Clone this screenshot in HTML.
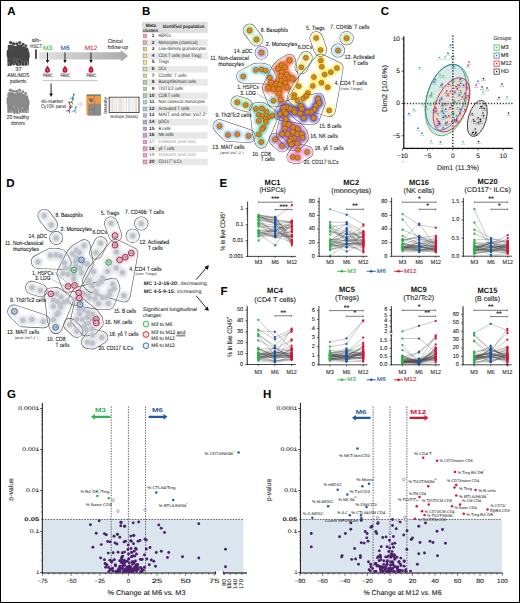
<!DOCTYPE html>
<html><head><meta charset="utf-8"><style>
html,body{margin:0;padding:0;background:#fff;}
body{width:520px;height:603px;overflow:hidden;font-family:"Liberation Sans", sans-serif;}
svg{display:block;text-rendering:geometricPrecision;}
</style></head><body>
<svg width="520" height="603" viewBox="0 0 520 603" font-family='"Liberation Sans", sans-serif'><rect x="0.00" y="0.00" width="520.00" height="603.00" fill="#ffffff" stroke="none" stroke-width="0" />
<rect x="0.5" y="0.5" width="519" height="602" fill="none" stroke="#000" stroke-width="1"/>
<text x="7.20" y="12.20" font-size="11.5" fill="#000" font-weight="bold" dominant-baseline="central">A</text>
<text x="142.00" y="12.00" font-size="11.5" fill="#000" font-weight="bold" dominant-baseline="central">B</text>
<text x="380.80" y="12.00" font-size="11.5" fill="#000" font-weight="bold" dominant-baseline="central">C</text>
<text x="6.30" y="183.70" font-size="11.5" fill="#000" font-weight="bold" dominant-baseline="central">D</text>
<text x="219.60" y="184.20" font-size="11.5" fill="#000" font-weight="bold" dominant-baseline="central">E</text>
<text x="220.40" y="291.90" font-size="11.5" fill="#000" font-weight="bold" dominant-baseline="central">F</text>
<text x="7.00" y="395.40" font-size="11.5" fill="#000" font-weight="bold" dominant-baseline="central">G</text>
<text x="263.00" y="395.40" font-size="11.5" fill="#000" font-weight="bold" dominant-baseline="central">H</text>
<circle cx="9.30" cy="47.97" r="1.47" fill="#3a3a3a"/>
<path d="M6.76,50.93 Q6.76,49.93 8.03,49.93 L10.57,49.93 Q11.84,49.93 11.84,50.93 L11.94,56.25 L11.25,57.25 L11.05,66.04 L9.50,66.04 L9.30,58.75 L9.10,66.04 L7.55,66.04 L7.35,57.25 L6.66,56.25 Z" fill="#3a3a3a"/>
<circle cx="12.30" cy="48.55" r="1.35" fill="#3a3a3a"/>
<path d="M9.96,51.40 Q9.96,50.40 11.13,50.40 L13.47,50.40 Q14.64,50.40 14.64,51.40 L14.74,56.09 L14.10,57.09 L13.90,65.18 L12.50,65.18 L12.30,58.59 L12.10,65.18 L10.70,65.18 L10.50,57.09 L9.86,56.09 Z" fill="#3a3a3a"/>
<circle cx="15.30" cy="48.19" r="1.39" fill="#3a3a3a"/>
<path d="M12.90,51.07 Q12.90,50.07 14.10,50.07 L16.50,50.07 Q17.70,50.07 17.70,51.07 L17.80,55.97 L17.15,56.97 L16.95,65.28 L15.50,65.28 L15.30,58.47 L15.10,65.28 L13.65,65.28 L13.45,56.97 L12.80,55.97 Z" fill="#3a3a3a"/>
<circle cx="18.40" cy="48.88" r="1.38" fill="#3a3a3a"/>
<path d="M16.01,51.76 Q16.01,50.76 17.20,50.76 L19.60,50.76 Q20.79,50.76 20.79,51.76 L20.89,56.62 L20.24,57.62 L20.04,65.89 L18.60,65.89 L18.40,59.12 L18.20,65.89 L16.76,65.89 L16.56,57.62 L15.91,56.62 Z" fill="#3a3a3a"/>
<circle cx="21.50" cy="48.58" r="1.38" fill="#3a3a3a"/>
<path d="M19.11,51.46 Q19.11,50.46 20.30,50.46 L22.70,50.46 Q23.89,50.46 23.89,51.46 L23.99,56.32 L23.34,57.32 L23.14,65.61 L21.70,65.61 L21.50,58.82 L21.30,65.61 L19.86,65.61 L19.66,57.32 L19.01,56.32 Z" fill="#3a3a3a"/>
<circle cx="24.60" cy="49.51" r="1.31" fill="#3a3a3a"/>
<path d="M22.33,52.32 Q22.33,51.32 23.47,51.32 L25.73,51.32 Q26.87,51.32 26.87,52.32 L26.97,56.80 L26.35,57.80 L26.15,65.66 L24.80,65.66 L24.60,59.30 L24.40,65.66 L23.05,65.66 L22.85,57.80 L22.23,56.80 Z" fill="#3a3a3a"/>
<circle cx="27.40" cy="50.23" r="1.23" fill="#3a3a3a"/>
<path d="M25.27,52.96 Q25.27,51.96 26.33,51.96 L28.47,51.96 Q29.53,51.96 29.53,52.96 L29.63,57.03 L29.04,58.03 L28.84,65.42 L27.60,65.42 L27.40,59.53 L27.20,65.42 L25.96,65.42 L25.76,58.03 L25.17,57.03 Z" fill="#3a3a3a"/>
<circle cx="10.60" cy="42.51" r="1.61" fill="#474747"/>
<path d="M7.80,45.63 Q7.80,44.63 9.20,44.63 L12.00,44.63 Q13.40,44.63 13.40,45.63 L13.50,51.73 L12.75,52.73 L12.55,62.42 L10.80,62.42 L10.60,54.23 L10.40,62.42 L8.65,62.42 L8.45,52.73 L7.70,51.73 Z" fill="#474747"/>
<circle cx="13.50" cy="43.70" r="1.60" fill="#474747"/>
<path d="M10.72,46.80 Q10.72,45.80 12.11,45.80 L14.89,45.80 Q16.28,45.80 16.28,46.80 L16.38,52.85 L15.64,53.85 L15.44,63.46 L13.70,63.46 L13.50,55.35 L13.30,63.46 L11.56,63.46 L11.36,53.85 L10.62,52.85 Z" fill="#474747"/>
<circle cx="16.70" cy="43.80" r="1.60" fill="#474747"/>
<path d="M13.92,46.90 Q13.92,45.90 15.31,45.90 L18.09,45.90 Q19.48,45.90 19.48,46.90 L19.58,52.95 L18.84,53.95 L18.64,63.56 L16.90,63.56 L16.70,55.45 L16.50,63.56 L14.76,63.56 L14.56,53.95 L13.82,52.95 Z" fill="#474747"/>
<circle cx="19.70" cy="42.51" r="1.61" fill="#474747"/>
<path d="M16.91,45.62 Q16.91,44.62 18.31,44.62 L21.09,44.62 Q22.49,44.62 22.49,45.62 L22.59,51.70 L21.84,52.70 L21.64,62.35 L19.90,62.35 L19.70,54.20 L19.50,62.35 L17.76,62.35 L17.56,52.70 L16.81,51.70 Z" fill="#474747"/>
<circle cx="23.10" cy="44.22" r="1.52" fill="#474747"/>
<path d="M20.47,47.24 Q20.47,46.24 21.78,46.24 L24.42,46.24 Q25.73,46.24 25.73,47.24 L25.83,52.84 L25.13,53.84 L24.93,62.95 L23.30,62.95 L23.10,55.34 L22.90,62.95 L21.27,62.95 L21.07,53.84 L20.37,52.84 Z" fill="#474747"/>
<circle cx="25.90" cy="45.75" r="1.35" fill="#474747"/>
<path d="M23.55,48.61 Q23.55,47.61 24.73,47.61 L27.07,47.61 Q28.25,47.61 28.25,48.61 L28.35,53.33 L27.71,54.33 L27.51,62.46 L26.10,62.46 L25.90,55.83 L25.70,62.46 L24.29,62.46 L24.09,54.33 L23.45,53.33 Z" fill="#474747"/>
<path d="M7.9,50 L7.2,57 L7.8,57.5 L8.8,51 Z" fill="#474747"/>
<path d="M28.5,51 L29.4,57 L28.8,57.5 L27.8,52 Z" fill="#474747"/>
<rect x="8.54" y="61.56" width="0.35" height="2.03" fill="#ffffff" stroke="none" stroke-width="0" opacity="0.55"/>
<rect x="13.08" y="65.56" width="0.35" height="2.33" fill="#ffffff" stroke="none" stroke-width="0" opacity="0.55"/>
<rect x="9.11" y="58.20" width="0.35" height="1.72" fill="#ffffff" stroke="none" stroke-width="0" opacity="0.55"/>
<rect x="27.28" y="61.05" width="0.35" height="1.17" fill="#ffffff" stroke="none" stroke-width="0" opacity="0.55"/>
<rect x="16.94" y="58.23" width="0.35" height="1.18" fill="#ffffff" stroke="none" stroke-width="0" opacity="0.55"/>
<rect x="17.26" y="61.97" width="0.35" height="1.20" fill="#ffffff" stroke="none" stroke-width="0" opacity="0.55"/>
<rect x="13.12" y="59.75" width="0.35" height="1.58" fill="#ffffff" stroke="none" stroke-width="0" opacity="0.55"/>
<rect x="14.30" y="58.17" width="0.35" height="2.22" fill="#ffffff" stroke="none" stroke-width="0" opacity="0.55"/>
<rect x="19.63" y="63.14" width="0.35" height="1.12" fill="#ffffff" stroke="none" stroke-width="0" opacity="0.55"/>
<rect x="28.35" y="64.88" width="0.35" height="1.01" fill="#ffffff" stroke="none" stroke-width="0" opacity="0.55"/>
<rect x="15.15" y="63.77" width="0.35" height="2.01" fill="#ffffff" stroke="none" stroke-width="0" opacity="0.55"/>
<rect x="27.23" y="61.38" width="0.35" height="2.21" fill="#ffffff" stroke="none" stroke-width="0" opacity="0.55"/>
<rect x="21.91" y="60.43" width="0.35" height="1.80" fill="#ffffff" stroke="none" stroke-width="0" opacity="0.55"/>
<rect x="26.15" y="64.77" width="0.35" height="1.66" fill="#ffffff" stroke="none" stroke-width="0" opacity="0.55"/>
<rect x="20.28" y="58.28" width="0.35" height="1.21" fill="#ffffff" stroke="none" stroke-width="0" opacity="0.55"/>
<rect x="24.45" y="61.31" width="0.35" height="1.09" fill="#ffffff" stroke="none" stroke-width="0" opacity="0.55"/>
<rect x="19.48" y="63.62" width="0.35" height="1.95" fill="#ffffff" stroke="none" stroke-width="0" opacity="0.55"/>
<rect x="15.99" y="61.51" width="0.35" height="1.66" fill="#ffffff" stroke="none" stroke-width="0" opacity="0.55"/>
<rect x="24.07" y="62.17" width="0.35" height="1.47" fill="#ffffff" stroke="none" stroke-width="0" opacity="0.55"/>
<rect x="18.29" y="58.24" width="0.35" height="0.87" fill="#ffffff" stroke="none" stroke-width="0" opacity="0.55"/>
<rect x="22.57" y="65.87" width="0.35" height="1.81" fill="#ffffff" stroke="none" stroke-width="0" opacity="0.55"/>
<rect x="16.37" y="59.36" width="0.35" height="1.65" fill="#ffffff" stroke="none" stroke-width="0" opacity="0.55"/>
<rect x="28.14" y="64.16" width="0.35" height="1.72" fill="#ffffff" stroke="none" stroke-width="0" opacity="0.55"/>
<rect x="25.71" y="59.86" width="0.35" height="1.67" fill="#ffffff" stroke="none" stroke-width="0" opacity="0.55"/>
<rect x="27.55" y="62.62" width="0.35" height="1.58" fill="#ffffff" stroke="none" stroke-width="0" opacity="0.55"/>
<rect x="13.89" y="62.38" width="0.35" height="2.43" fill="#ffffff" stroke="none" stroke-width="0" opacity="0.55"/>
<circle cx="9.10" cy="95.49" r="1.39" fill="#7c7c7c"/>
<path d="M6.69,98.38 Q6.69,97.38 7.89,97.38 L10.31,97.38 Q11.51,97.38 11.51,98.38 L11.61,103.30 L10.96,104.30 L10.76,112.65 L9.30,112.65 L9.10,105.80 L8.90,112.65 L7.44,112.65 L7.24,104.30 L6.59,103.30 Z" fill="#7c7c7c"/>
<circle cx="12.10" cy="96.14" r="1.34" fill="#7c7c7c"/>
<path d="M9.78,98.98 Q9.78,97.98 10.94,97.98 L13.26,97.98 Q14.42,97.98 14.42,98.98 L14.52,103.62 L13.89,104.62 L13.69,112.66 L12.30,112.66 L12.10,106.12 L11.90,112.66 L10.51,112.66 L10.31,104.62 L9.68,103.62 Z" fill="#7c7c7c"/>
<circle cx="15.10" cy="95.85" r="1.45" fill="#7c7c7c"/>
<path d="M12.59,98.80 Q12.59,97.80 13.84,97.80 L16.36,97.80 Q17.61,97.80 17.61,98.80 L17.71,104.03 L17.03,105.03 L16.83,113.73 L15.30,113.73 L15.10,106.53 L14.90,113.73 L13.37,113.73 L13.17,105.03 L12.49,104.03 Z" fill="#7c7c7c"/>
<circle cx="18.20" cy="96.49" r="1.39" fill="#7c7c7c"/>
<path d="M15.78,99.39 Q15.78,98.39 16.99,98.39 L19.41,98.39 Q20.62,98.39 20.62,99.39 L20.72,104.33 L20.06,105.33 L19.86,113.70 L18.40,113.70 L18.20,106.83 L18.00,113.70 L16.54,113.70 L16.34,105.33 L15.68,104.33 Z" fill="#7c7c7c"/>
<circle cx="21.30" cy="96.15" r="1.35" fill="#7c7c7c"/>
<path d="M18.96,99.00 Q18.96,98.00 20.13,98.00 L22.47,98.00 Q23.64,98.00 23.64,99.00 L23.74,103.70 L23.10,104.70 L22.90,112.80 L21.50,112.80 L21.30,106.20 L21.10,112.80 L19.70,112.80 L19.50,104.70 L18.86,103.70 Z" fill="#7c7c7c"/>
<circle cx="24.40" cy="97.08" r="1.28" fill="#7c7c7c"/>
<path d="M22.17,99.87 Q22.17,98.87 23.29,98.87 L25.51,98.87 Q26.63,98.87 26.63,99.87 L26.73,104.21 L26.11,105.21 L25.91,112.92 L24.60,112.92 L24.40,106.71 L24.20,112.92 L22.89,112.92 L22.69,105.21 L22.07,104.21 Z" fill="#7c7c7c"/>
<circle cx="27.20" cy="97.83" r="1.23" fill="#7c7c7c"/>
<path d="M25.07,100.56 Q25.07,99.56 26.13,99.56 L28.27,99.56 Q29.33,99.56 29.33,100.56 L29.43,104.62 L28.84,105.62 L28.64,113.00 L27.40,113.00 L27.20,107.12 L27.00,113.00 L25.76,113.00 L25.56,105.62 L24.97,104.62 Z" fill="#7c7c7c"/>
<circle cx="10.40" cy="90.17" r="1.67" fill="#8a8a8a"/>
<path d="M7.51,93.34 Q7.51,92.34 8.95,92.34 L11.85,92.34 Q13.29,92.34 13.29,93.34 L13.39,99.73 L12.62,100.73 L12.42,110.74 L10.60,110.74 L10.40,102.23 L10.20,110.74 L8.38,110.74 L8.18,100.73 L7.41,99.73 Z" fill="#8a8a8a"/>
<circle cx="13.30" cy="91.24" r="1.54" fill="#8a8a8a"/>
<path d="M10.62,94.29 Q10.62,93.29 11.96,93.29 L14.64,93.29 Q15.98,93.29 15.98,94.29 L16.08,100.03 L15.36,101.03 L15.16,110.29 L13.50,110.29 L13.30,102.53 L13.10,110.29 L11.44,110.29 L11.24,101.03 L10.52,100.03 Z" fill="#8a8a8a"/>
<circle cx="16.50" cy="91.34" r="1.54" fill="#8a8a8a"/>
<path d="M13.84,94.37 Q13.84,93.37 15.17,93.37 L17.83,93.37 Q19.16,93.37 19.16,94.37 L19.26,100.07 L18.55,101.07 L18.35,110.29 L16.70,110.29 L16.50,102.57 L16.30,110.29 L14.65,110.29 L14.45,101.07 L13.74,100.07 Z" fill="#8a8a8a"/>
<circle cx="19.50" cy="90.14" r="1.64" fill="#8a8a8a"/>
<path d="M16.66,93.27 Q16.66,92.27 18.08,92.27 L20.92,92.27 Q22.34,92.27 22.34,93.27 L22.44,99.51 L21.68,100.51 L21.48,110.33 L19.70,110.33 L19.50,102.01 L19.30,110.33 L17.52,110.33 L17.32,100.51 L16.56,99.51 Z" fill="#8a8a8a"/>
<circle cx="22.90" cy="91.85" r="1.55" fill="#8a8a8a"/>
<path d="M20.21,94.90 Q20.21,93.90 21.56,93.90 L24.24,93.90 Q25.59,93.90 25.59,94.90 L25.69,100.66 L24.97,101.66 L24.77,110.96 L23.10,110.96 L22.90,103.16 L22.70,110.96 L21.03,110.96 L20.83,101.66 L20.11,100.66 Z" fill="#8a8a8a"/>
<circle cx="25.70" cy="93.39" r="1.39" fill="#8a8a8a"/>
<path d="M23.29,96.28 Q23.29,95.28 24.49,95.28 L26.91,95.28 Q28.11,95.28 28.11,96.28 L28.21,101.20 L27.56,102.20 L27.36,110.55 L25.90,110.55 L25.70,103.70 L25.50,110.55 L24.04,110.55 L23.84,102.20 L23.19,101.20 Z" fill="#8a8a8a"/>
<path d="M7.7,97.6 L7.0,104.6 L7.6,105.1 L8.600000000000001,98.6 Z" fill="#8a8a8a"/>
<path d="M28.3,98.6 L29.2,104.6 L28.6,105.1 L27.6,99.6 Z" fill="#8a8a8a"/>
<rect x="16.17" y="111.38" width="0.35" height="2.49" fill="#ffffff" stroke="none" stroke-width="0" opacity="0.55"/>
<rect x="27.29" y="109.95" width="0.35" height="1.56" fill="#ffffff" stroke="none" stroke-width="0" opacity="0.55"/>
<rect x="13.66" y="105.89" width="0.35" height="0.85" fill="#ffffff" stroke="none" stroke-width="0" opacity="0.55"/>
<rect x="17.60" y="108.15" width="0.35" height="1.45" fill="#ffffff" stroke="none" stroke-width="0" opacity="0.55"/>
<rect x="26.14" y="109.81" width="0.35" height="1.75" fill="#ffffff" stroke="none" stroke-width="0" opacity="0.55"/>
<rect x="13.02" y="105.79" width="0.35" height="1.35" fill="#ffffff" stroke="none" stroke-width="0" opacity="0.55"/>
<rect x="11.03" y="109.68" width="0.35" height="2.50" fill="#ffffff" stroke="none" stroke-width="0" opacity="0.55"/>
<rect x="21.79" y="107.05" width="0.35" height="2.32" fill="#ffffff" stroke="none" stroke-width="0" opacity="0.55"/>
<rect x="24.24" y="111.48" width="0.35" height="2.34" fill="#ffffff" stroke="none" stroke-width="0" opacity="0.55"/>
<rect x="23.56" y="111.92" width="0.35" height="1.40" fill="#ffffff" stroke="none" stroke-width="0" opacity="0.55"/>
<rect x="27.92" y="113.30" width="0.35" height="1.07" fill="#ffffff" stroke="none" stroke-width="0" opacity="0.55"/>
<rect x="23.38" y="111.32" width="0.35" height="1.58" fill="#ffffff" stroke="none" stroke-width="0" opacity="0.55"/>
<rect x="18.91" y="109.52" width="0.35" height="2.37" fill="#ffffff" stroke="none" stroke-width="0" opacity="0.55"/>
<rect x="18.32" y="112.25" width="0.35" height="1.40" fill="#ffffff" stroke="none" stroke-width="0" opacity="0.55"/>
<rect x="25.96" y="112.80" width="0.35" height="1.58" fill="#ffffff" stroke="none" stroke-width="0" opacity="0.55"/>
<rect x="19.65" y="112.96" width="0.35" height="2.03" fill="#ffffff" stroke="none" stroke-width="0" opacity="0.55"/>
<rect x="18.03" y="107.37" width="0.35" height="1.35" fill="#ffffff" stroke="none" stroke-width="0" opacity="0.55"/>
<rect x="22.29" y="106.93" width="0.35" height="2.34" fill="#ffffff" stroke="none" stroke-width="0" opacity="0.55"/>
<rect x="13.66" y="112.89" width="0.35" height="1.33" fill="#ffffff" stroke="none" stroke-width="0" opacity="0.55"/>
<rect x="27.45" y="111.25" width="0.35" height="1.66" fill="#ffffff" stroke="none" stroke-width="0" opacity="0.55"/>
<rect x="18.65" y="110.81" width="0.35" height="1.80" fill="#ffffff" stroke="none" stroke-width="0" opacity="0.55"/>
<rect x="14.54" y="107.26" width="0.35" height="1.67" fill="#ffffff" stroke="none" stroke-width="0" opacity="0.55"/>
<rect x="26.98" y="110.59" width="0.35" height="0.93" fill="#ffffff" stroke="none" stroke-width="0" opacity="0.55"/>
<rect x="24.71" y="111.41" width="0.35" height="2.34" fill="#ffffff" stroke="none" stroke-width="0" opacity="0.55"/>
<rect x="12.13" y="111.56" width="0.35" height="0.90" fill="#ffffff" stroke="none" stroke-width="0" opacity="0.55"/>
<rect x="21.36" y="107.78" width="0.35" height="1.19" fill="#ffffff" stroke="none" stroke-width="0" opacity="0.55"/>
<text x="18.40" y="70.20" font-size="5.8" fill="#333" text-anchor="middle" stroke="#333" stroke-width="0.081" dominant-baseline="central">37</text>
<text x="18.20" y="76.10" font-size="5.6" fill="#333" text-anchor="middle" textLength="21.80" lengthAdjust="spacingAndGlyphs" stroke="#333" stroke-width="0.078" dominant-baseline="central">AML/MDS</text>
<text x="18.20" y="82.10" font-size="5.6" fill="#333" text-anchor="middle" textLength="16.50" lengthAdjust="spacingAndGlyphs" stroke="#333" stroke-width="0.078" dominant-baseline="central">patients</text>
<text x="18.00" y="118.40" font-size="5.6" fill="#333" text-anchor="middle" textLength="22.50" lengthAdjust="spacingAndGlyphs" stroke="#333" stroke-width="0.078" dominant-baseline="central">20 healthy</text>
<text x="18.00" y="123.80" font-size="5.6" fill="#333" text-anchor="middle" textLength="14.00" lengthAdjust="spacingAndGlyphs" stroke="#333" stroke-width="0.078" dominant-baseline="central">donors</text>
<text x="36.30" y="40.70" font-size="5.4" fill="#333" text-anchor="middle" textLength="9.30" lengthAdjust="spacingAndGlyphs" stroke="#333" stroke-width="0.076" dominant-baseline="central">allo-</text>
<text x="36.20" y="46.50" font-size="5.4" fill="#333" text-anchor="middle" textLength="11.80" lengthAdjust="spacingAndGlyphs" stroke="#333" stroke-width="0.076" dominant-baseline="central">HSCT</text>
<rect x="35.20" y="49.40" width="1.50" height="9.40" fill="#231f20" stroke="none" stroke-width="0" />
<defs><linearGradient id="tl" x1="0" x2="1" y1="0" y2="0"><stop offset="0" stop-color="#e2e2e2"/><stop offset="1" stop-color="#a9a9a9"/></linearGradient></defs>
<path d="M39.2,52.3 L120.8,52.3 L120.8,50 L128.2,55.9 L120.8,61.5 L120.8,59.5 L39.2,59.5 Z" fill="url(#tl)"/>
<text x="47.70" y="48.60" font-size="6.3" fill="#2db34a" text-anchor="middle" textLength="9.20" lengthAdjust="spacingAndGlyphs" stroke="#2db34a" stroke-width="0.088" dominant-baseline="central">M3</text>
<text x="65.00" y="48.50" font-size="6.3" fill="#1b5aa0" text-anchor="middle" textLength="9.20" lengthAdjust="spacingAndGlyphs" stroke="#1b5aa0" stroke-width="0.088" dominant-baseline="central">M6</text>
<text x="91.00" y="48.50" font-size="6.3" fill="#d3153a" text-anchor="middle" textLength="12.50" lengthAdjust="spacingAndGlyphs" stroke="#d3153a" stroke-width="0.088" dominant-baseline="central">M12</text>
<text x="107.70" y="42.20" font-size="5.6" fill="#333" textLength="15.00" lengthAdjust="spacingAndGlyphs" stroke="#333" stroke-width="0.078" dominant-baseline="central">Clinical</text>
<text x="107.70" y="47.60" font-size="5.6" fill="#333" textLength="20.30" lengthAdjust="spacingAndGlyphs" stroke="#333" stroke-width="0.078" dominant-baseline="central">follow-up</text>
<line x1="47.50" y1="52.50" x2="47.50" y2="61.00" stroke="#111" stroke-width="0.9" />
<path d="M45.80,60 L49.20,60 L47.50,63.2 Z" fill="#111"/>
<path d="M47.50,65.6 C48.30,67.3 50.00,68.6 50.00,70.2 A2.5,2.5 0 0 1 45.00,70.2 C45.00,68.6 46.70,67.3 47.50,65.6 Z" fill="#c8102e"/>
<path d="M46.60,69.5 q0.9,-0.6 1.4,0.4 q0.2,0.8 -0.7,1.1" fill="none" stroke="#fff" stroke-width="0.45"/>
<text x="47.80" y="76.20" font-size="5" fill="#333" text-anchor="middle" textLength="9.80" lengthAdjust="spacingAndGlyphs" stroke="#333" stroke-width="0.070" dominant-baseline="central">PBMC</text>
<line x1="65.00" y1="52.50" x2="65.00" y2="61.00" stroke="#111" stroke-width="0.9" />
<path d="M63.30,60 L66.70,60 L65.00,63.2 Z" fill="#111"/>
<path d="M65.00,65.6 C65.80,67.3 67.50,68.6 67.50,70.2 A2.5,2.5 0 0 1 62.50,70.2 C62.50,68.6 64.20,67.3 65.00,65.6 Z" fill="#c8102e"/>
<path d="M64.10,69.5 q0.9,-0.6 1.4,0.4 q0.2,0.8 -0.7,1.1" fill="none" stroke="#fff" stroke-width="0.45"/>
<text x="65.30" y="76.20" font-size="5" fill="#333" text-anchor="middle" textLength="9.80" lengthAdjust="spacingAndGlyphs" stroke="#333" stroke-width="0.070" dominant-baseline="central">PBMC</text>
<line x1="91.00" y1="52.50" x2="91.00" y2="61.00" stroke="#111" stroke-width="0.9" />
<path d="M89.30,60 L92.70,60 L91.00,63.2 Z" fill="#111"/>
<path d="M91.00,65.6 C91.80,67.3 93.50,68.6 93.50,70.2 A2.5,2.5 0 0 1 88.50,70.2 C88.50,68.6 90.20,67.3 91.00,65.6 Z" fill="#c8102e"/>
<path d="M90.10,69.5 q0.9,-0.6 1.4,0.4 q0.2,0.8 -0.7,1.1" fill="none" stroke="#fff" stroke-width="0.45"/>
<text x="91.30" y="76.20" font-size="5" fill="#333" text-anchor="middle" textLength="9.80" lengthAdjust="spacingAndGlyphs" stroke="#333" stroke-width="0.070" dominant-baseline="central">PBMC</text>
<line x1="43.00" y1="80.60" x2="97.70" y2="80.60" stroke="#9a9a9a" stroke-width="0.6" />
<line x1="51.10" y1="83.40" x2="51.10" y2="94.50" stroke="#111" stroke-width="0.9" />
<path d="M49.3,93.6 L52.9,93.6 L51.1,97 Z" fill="#111"/>
<text x="52.20" y="102.00" font-size="5.2" fill="#333" text-anchor="middle" textLength="21.80" lengthAdjust="spacingAndGlyphs" stroke="#333" stroke-width="0.073" dominant-baseline="central">45-marker</text>
<text x="53.50" y="107.10" font-size="5.2" fill="#333" text-anchor="middle" textLength="25.00" lengthAdjust="spacingAndGlyphs" stroke="#333" stroke-width="0.073" dominant-baseline="central">CyTOF panel</text>
<g transform="translate(73.5,95.5) rotate(200)" stroke="#2a6fb0" stroke-width="0.8" fill="none" stroke-linecap="round"><path d="M0,0 L0,-2.2 M0,-2.2 L-1.6,-3.8 M0,-2.2 L1.6,-3.8"/><circle cx="0" cy="1.3" r="0.9" fill="#2a6fb0" stroke="none"/></g>
<g transform="translate(72.5,100) rotate(200)" stroke="#2e8b57" stroke-width="0.8" fill="none" stroke-linecap="round"><path d="M0,0 L0,-2.2 M0,-2.2 L-1.6,-3.8 M0,-2.2 L1.6,-3.8"/><circle cx="0" cy="1.3" r="0.9" fill="#2e8b57" stroke="none"/></g>
<g transform="translate(69.5,103.5) rotate(160)" stroke="#c0392b" stroke-width="0.8" fill="none" stroke-linecap="round"><path d="M0,0 L0,-2.2 M0,-2.2 L-1.6,-3.8 M0,-2.2 L1.6,-3.8"/><circle cx="0" cy="1.3" r="0.9" fill="#c0392b" stroke="none"/></g>
<g transform="translate(70,108.5) rotate(210)" stroke="#5b2a86" stroke-width="0.8" fill="none" stroke-linecap="round"><path d="M0,0 L0,-2.2 M0,-2.2 L-1.6,-3.8 M0,-2.2 L1.6,-3.8"/><circle cx="0" cy="1.3" r="0.9" fill="#5b2a86" stroke="none"/></g>
<g transform="translate(75.5,108.5) rotate(200)" stroke="#2aa0a0" stroke-width="0.8" fill="none" stroke-linecap="round"><path d="M0,0 L0,-2.2 M0,-2.2 L-1.6,-3.8 M0,-2.2 L1.6,-3.8"/><circle cx="0" cy="1.3" r="0.9" fill="#2aa0a0" stroke="none"/></g>
<path d="M78.3,103.2 L81,103.2 L81,101.8 L83.2,104.2 L81,106.6 L81,105.2 L78.3,105.2 Z" fill="#eee" stroke="#bbb" stroke-width="0.4"/>
<rect x="86.40" y="94.60" width="14.60" height="20.80" fill="#f29a3f" stroke="none" stroke-width="0" rx="1.4"/>
<rect x="86.40" y="94.60" width="14.60" height="1.40" fill="#7d7d7d" stroke="none" stroke-width="0" rx="0.7"/>
<path d="M88.2,115.4 L88.2,106 Q88.2,103.8 90.4,103.8 L101,103.8 L101,115.4 Z" fill="#8b8b8b"/>
<line x1="94.30" y1="96.00" x2="94.30" y2="115.40" stroke="#767676" stroke-width="0.6" />
<line x1="88.20" y1="109.60" x2="94.30" y2="109.60" stroke="#767676" stroke-width="0.5" />
<circle cx="91.30" cy="100.20" r="1.50" fill="#5f86b5" stroke="#444" stroke-width="0.4" />
<path d="M89.2,98 q0.3,2.6 2.6,3.2" fill="none" stroke="#444" stroke-width="0.5"/>
<text x="106.20" y="105.40" font-size="4.8" fill="#333" text-anchor="middle" textLength="16.00" lengthAdjust="spacingAndGlyphs" transform="rotate(-90 106.20 105.40)" stroke="#333" stroke-width="0.067" dominant-baseline="central">Intensity</text>
<rect x="109.20" y="97.20" width="29.80" height="15.40" fill="#ffffff" stroke="#222" stroke-width="0.8" />
<rect x="110.60" y="97.70" width="1.07" height="14.40" fill="#f4c9a0" stroke="none" stroke-width="0" opacity="0.75"/>
<rect x="112.05" y="97.70" width="1.18" height="14.40" fill="#c9d7ee" stroke="none" stroke-width="0" opacity="0.75"/>
<rect x="113.59" y="97.70" width="0.95" height="14.40" fill="#e9c8e0" stroke="none" stroke-width="0" opacity="0.75"/>
<rect x="115.49" y="97.70" width="1.54" height="14.40" fill="#cfe3c8" stroke="none" stroke-width="0" opacity="0.75"/>
<rect x="117.99" y="97.70" width="1.44" height="14.40" fill="#f7d7a8" stroke="none" stroke-width="0" opacity="0.75"/>
<rect x="119.62" y="97.70" width="1.28" height="14.40" fill="#d5d0ee" stroke="none" stroke-width="0" opacity="0.75"/>
<rect x="121.34" y="97.70" width="1.02" height="14.40" fill="#f2c3c3" stroke="none" stroke-width="0" opacity="0.75"/>
<rect x="122.80" y="97.70" width="1.05" height="14.40" fill="#c6e0ea" stroke="none" stroke-width="0" opacity="0.75"/>
<rect x="125.49" y="97.70" width="1.48" height="14.40" fill="#e6d3b8" stroke="none" stroke-width="0" opacity="0.75"/>
<rect x="128.00" y="97.70" width="1.46" height="14.40" fill="#d0d8f0" stroke="none" stroke-width="0" opacity="0.75"/>
<rect x="129.59" y="97.70" width="1.12" height="14.40" fill="#f0d0e0" stroke="none" stroke-width="0" opacity="0.75"/>
<rect x="131.83" y="97.70" width="1.41" height="14.40" fill="#c8e6d0" stroke="none" stroke-width="0" opacity="0.75"/>
<rect x="134.41" y="97.70" width="1.52" height="14.40" fill="#f6dcae" stroke="none" stroke-width="0" opacity="0.75"/>
<rect x="135.84" y="97.70" width="1.32" height="14.40" fill="#d2cde8" stroke="none" stroke-width="0" opacity="0.75"/>
<text x="124.20" y="117.30" font-size="4.8" fill="#333" text-anchor="middle" textLength="27.50" lengthAdjust="spacingAndGlyphs" stroke="#333" stroke-width="0.067" dominant-baseline="central">Isotope (mass)</text>
<rect x="142.00" y="21.90" width="65.70" height="11.00" fill="#dedede" stroke="none" stroke-width="0" />
<text x="150.90" y="25.30" font-size="4.7" fill="#231f20" text-anchor="middle" font-weight="bold" textLength="10.20" lengthAdjust="spacingAndGlyphs" dominant-baseline="central">Meta</text>
<text x="150.60" y="30.40" font-size="4.7" fill="#231f20" text-anchor="middle" font-weight="bold" textLength="15.00" lengthAdjust="spacingAndGlyphs" dominant-baseline="central">clusters</text>
<text x="162.70" y="27.90" font-size="4.9" fill="#231f20" font-weight="bold" textLength="41.70" lengthAdjust="spacingAndGlyphs" dominant-baseline="central">Identified population</text>
<rect x="143.30" y="34.20" width="3.50" height="3.50" fill="#f4a3ab" stroke="#b0608a" stroke-width="0.5" />
<text x="154.40" y="36.40" font-size="4.8" fill="#231f20" text-anchor="end" font-weight="bold" dominant-baseline="central">1</text>
<text x="158.40" y="36.40" font-size="4.9" fill="#231f20" textLength="12.30" lengthAdjust="spacingAndGlyphs" dominant-baseline="central">HSPCs</text>
<rect x="142.00" y="39.32" width="65.70" height="6.63" fill="#e8e8e8" stroke="none" stroke-width="0" />
<rect x="143.30" y="40.83" width="3.50" height="3.50" fill="#f5b093" stroke="#8a8a8a" stroke-width="0.5" />
<text x="154.40" y="43.03" font-size="4.8" fill="#231f20" text-anchor="end" font-weight="bold" dominant-baseline="central">2</text>
<text x="158.40" y="43.03" font-size="4.9" fill="#231f20" textLength="39.20" lengthAdjust="spacingAndGlyphs" dominant-baseline="central">Monocytes (classical)</text>
<rect x="143.30" y="47.46" width="3.50" height="3.50" fill="#f6c788" stroke="#8a8a8a" stroke-width="0.5" />
<text x="154.40" y="49.66" font-size="4.8" fill="#231f20" text-anchor="end" font-weight="bold" dominant-baseline="central">3</text>
<text x="158.40" y="49.66" font-size="4.9" fill="#231f20" textLength="47.80" lengthAdjust="spacingAndGlyphs" dominant-baseline="central">Low-density granulocytes</text>
<rect x="142.00" y="52.58" width="65.70" height="6.63" fill="#e8e8e8" stroke="none" stroke-width="0" />
<rect x="143.30" y="54.09" width="3.50" height="3.50" fill="#f2e47c" stroke="#8a8a8a" stroke-width="0.5" />
<text x="154.40" y="56.29" font-size="4.8" fill="#231f20" text-anchor="end" font-weight="bold" dominant-baseline="central">4</text>
<text x="158.40" y="56.29" font-size="4.9" fill="#231f20" textLength="42.70" lengthAdjust="spacingAndGlyphs" dominant-baseline="central">CD4 T cells (non Treg)</text>
<rect x="143.30" y="60.72" width="3.50" height="3.50" fill="#eeec88" stroke="#8a8a8a" stroke-width="0.5" />
<text x="154.40" y="62.92" font-size="4.8" fill="#231f20" text-anchor="end" font-weight="bold" dominant-baseline="central">5</text>
<text x="158.40" y="62.92" font-size="4.9" fill="#231f20" textLength="10.70" lengthAdjust="spacingAndGlyphs" dominant-baseline="central">Tregs</text>
<rect x="142.00" y="65.84" width="65.70" height="6.63" fill="#e8e8e8" stroke="none" stroke-width="0" />
<rect x="143.30" y="67.35" width="3.50" height="3.50" fill="#d8ea86" stroke="#8a8a8a" stroke-width="0.5" />
<text x="154.40" y="69.55" font-size="4.8" fill="#231f20" text-anchor="end" font-weight="bold" dominant-baseline="central">6</text>
<text x="158.40" y="69.55" font-size="4.9" fill="#231f20" textLength="8.00" lengthAdjust="spacingAndGlyphs" dominant-baseline="central">DCs</text>
<rect x="143.30" y="73.98" width="3.50" height="3.50" fill="#c3e48a" stroke="#8a8a8a" stroke-width="0.5" />
<text x="154.40" y="76.18" font-size="4.8" fill="#231f20" text-anchor="end" font-weight="bold" dominant-baseline="central">7</text>
<text x="158.40" y="76.18" font-size="4.9" fill="#231f20" textLength="28.00" lengthAdjust="spacingAndGlyphs" dominant-baseline="central">CD49b<tspan font-size="3.2" baseline-shift="super">+</tspan> T cells</text>
<rect x="142.00" y="79.09" width="65.70" height="6.63" fill="#e8e8e8" stroke="none" stroke-width="0" />
<rect x="143.30" y="80.61" width="3.50" height="3.50" fill="#a9db8e" stroke="#8a8a8a" stroke-width="0.5" />
<text x="154.40" y="82.81" font-size="4.8" fill="#231f20" text-anchor="end" font-weight="bold" dominant-baseline="central">8</text>
<text x="158.40" y="82.81" font-size="4.9" fill="#231f20" textLength="37.70" lengthAdjust="spacingAndGlyphs" dominant-baseline="central">Basophils/mast cells</text>
<rect x="143.30" y="87.24" width="3.50" height="3.50" fill="#9fd9a4" stroke="#8a8a8a" stroke-width="0.5" />
<text x="154.40" y="89.44" font-size="4.8" fill="#231f20" text-anchor="end" font-weight="bold" dominant-baseline="central">9</text>
<text x="158.40" y="89.44" font-size="4.9" fill="#231f20" textLength="24.80" lengthAdjust="spacingAndGlyphs" dominant-baseline="central">Th2/Tc2 cells</text>
<rect x="142.00" y="92.36" width="65.70" height="6.63" fill="#e8e8e8" stroke="none" stroke-width="0" />
<rect x="143.30" y="93.87" width="3.50" height="3.50" fill="#95d8c3" stroke="#8a8a8a" stroke-width="0.5" />
<text x="154.40" y="96.07" font-size="4.8" fill="#231f20" text-anchor="end" font-weight="bold" dominant-baseline="central">10</text>
<text x="158.40" y="96.07" font-size="4.9" fill="#231f20" textLength="21.50" lengthAdjust="spacingAndGlyphs" dominant-baseline="central">CD8 T cells</text>
<rect x="143.30" y="100.50" width="3.50" height="3.50" fill="#93d8e0" stroke="#8a8a8a" stroke-width="0.5" />
<text x="154.40" y="102.70" font-size="4.8" fill="#231f20" text-anchor="end" font-weight="bold" dominant-baseline="central">11</text>
<text x="158.40" y="102.70" font-size="4.9" fill="#231f20" textLength="46.50" lengthAdjust="spacingAndGlyphs" dominant-baseline="central">Non classical monocytes</text>
<rect x="142.00" y="105.61" width="65.70" height="6.63" fill="#e8e8e8" stroke="none" stroke-width="0" />
<rect x="143.30" y="107.13" width="3.50" height="3.50" fill="#98d0ee" stroke="#8a8a8a" stroke-width="0.5" />
<text x="154.40" y="109.33" font-size="4.8" fill="#231f20" text-anchor="end" font-weight="bold" dominant-baseline="central">12</text>
<text x="158.40" y="109.33" font-size="4.9" fill="#231f20" textLength="31.10" lengthAdjust="spacingAndGlyphs" dominant-baseline="central">Activated T cells</text>
<rect x="143.30" y="113.76" width="3.50" height="3.50" fill="#9fbdee" stroke="#8a8a8a" stroke-width="0.5" />
<text x="154.40" y="115.96" font-size="4.8" fill="#231f20" text-anchor="end" font-weight="bold" dominant-baseline="central">13</text>
<text x="158.40" y="115.96" font-size="4.9" fill="#231f20" textLength="48.80" lengthAdjust="spacingAndGlyphs" dominant-baseline="central">MAIT and other Vα7.2<tspan font-size="3.2" baseline-shift="super">+</tspan></text>
<rect x="142.00" y="118.88" width="65.70" height="6.63" fill="#e8e8e8" stroke="none" stroke-width="0" />
<rect x="143.30" y="120.39" width="3.50" height="3.50" fill="#aaa7e6" stroke="#8a8a8a" stroke-width="0.5" />
<text x="154.40" y="122.59" font-size="4.8" fill="#231f20" text-anchor="end" font-weight="bold" dominant-baseline="central">14</text>
<text x="158.40" y="122.59" font-size="4.9" fill="#231f20" textLength="10.70" lengthAdjust="spacingAndGlyphs" dominant-baseline="central">pDCs</text>
<rect x="143.30" y="127.02" width="3.50" height="3.50" fill="#b39ce0" stroke="#8a8a8a" stroke-width="0.5" />
<text x="154.40" y="129.22" font-size="4.8" fill="#231f20" text-anchor="end" font-weight="bold" dominant-baseline="central">15</text>
<text x="158.40" y="129.22" font-size="4.9" fill="#231f20" textLength="12.30" lengthAdjust="spacingAndGlyphs" dominant-baseline="central">B cells</text>
<rect x="142.00" y="132.13" width="65.70" height="6.63" fill="#e8e8e8" stroke="none" stroke-width="0" />
<rect x="143.30" y="133.65" width="3.50" height="3.50" fill="#c79ddd" stroke="#8a8a8a" stroke-width="0.5" />
<text x="154.40" y="135.85" font-size="4.8" fill="#231f20" text-anchor="end" font-weight="bold" dominant-baseline="central">16</text>
<text x="158.40" y="135.85" font-size="4.9" fill="#231f20" textLength="15.20" lengthAdjust="spacingAndGlyphs" dominant-baseline="central">NK cells</text>
<rect x="143.30" y="140.28" width="3.50" height="3.50" fill="#e2a3dc" stroke="#b0608a" stroke-width="0.5" />
<text x="154.40" y="142.48" font-size="4.8" fill="#9a9a9a" text-anchor="end" font-weight="bold" dominant-baseline="central">17</text>
<text x="158.40" y="142.48" font-size="4.9" fill="#9a9a9a" textLength="37.30" lengthAdjust="spacingAndGlyphs" dominant-baseline="central">Irrelevant (and rare)</text>
<rect x="142.00" y="145.39" width="65.70" height="6.63" fill="#e8e8e8" stroke="none" stroke-width="0" />
<rect x="143.30" y="146.91" width="3.50" height="3.50" fill="#eca3d7" stroke="#b0608a" stroke-width="0.5" />
<text x="154.40" y="149.11" font-size="4.8" fill="#231f20" text-anchor="end" font-weight="bold" dominant-baseline="central">18</text>
<text x="158.40" y="149.11" font-size="4.9" fill="#231f20" textLength="16.10" lengthAdjust="spacingAndGlyphs" dominant-baseline="central">γδ T cells</text>
<rect x="143.30" y="153.54" width="3.50" height="3.50" fill="#f0a6d2" stroke="#b0608a" stroke-width="0.5" />
<text x="154.40" y="155.74" font-size="4.8" fill="#9a9a9a" text-anchor="end" font-weight="bold" dominant-baseline="central">19</text>
<text x="158.40" y="155.74" font-size="4.9" fill="#9a9a9a" textLength="37.30" lengthAdjust="spacingAndGlyphs" dominant-baseline="central">Irrelevant (and rare)</text>
<rect x="142.00" y="158.66" width="65.70" height="6.63" fill="#e8e8e8" stroke="none" stroke-width="0" />
<rect x="143.30" y="160.17" width="3.50" height="3.50" fill="#f2a8cb" stroke="#b0608a" stroke-width="0.5" />
<text x="154.40" y="162.37" font-size="4.8" fill="#231f20" text-anchor="end" font-weight="bold" dominant-baseline="central">20</text>
<text x="158.40" y="162.37" font-size="4.9" fill="#231f20" textLength="23.40" lengthAdjust="spacingAndGlyphs" dominant-baseline="central">CD117<tspan font-size="3.2" baseline-shift="super">+</tspan> ILCs</text>
<defs><filter id="hblur" x="-20%" y="-20%" width="140%" height="140%"><feGaussianBlur stdDeviation="0.9"/></filter></defs>
<g>
<g filter="url(#hblur)">
<circle cx="249.60" cy="30.40" r="5.00" fill="#a6dc8d" stroke="none" stroke-width="0" opacity="0.6"/>
<circle cx="256.50" cy="39.60" r="5.00" fill="#a6dc8d" stroke="none" stroke-width="0" opacity="0.6"/>
<circle cx="249.60" cy="30.40" r="4.00" fill="#a6dc8d" stroke="none" stroke-width="0" opacity="0.8"/>
<circle cx="256.50" cy="39.60" r="4.00" fill="#a6dc8d" stroke="none" stroke-width="0" opacity="0.8"/>
<circle cx="261.50" cy="52.70" r="5.00" fill="#9d9be6" stroke="none" stroke-width="0" opacity="0.6"/>
<circle cx="261.50" cy="52.70" r="4.00" fill="#9d9be6" stroke="none" stroke-width="0" opacity="0.8"/>
<circle cx="243.20" cy="76.50" r="5.00" fill="#7fd3ec" stroke="none" stroke-width="0" opacity="0.6"/>
<circle cx="255.80" cy="69.90" r="5.00" fill="#7fd3ec" stroke="none" stroke-width="0" opacity="0.6"/>
<circle cx="261.50" cy="69.60" r="5.00" fill="#7fd3ec" stroke="none" stroke-width="0" opacity="0.6"/>
<circle cx="265.80" cy="70.70" r="5.00" fill="#7fd3ec" stroke="none" stroke-width="0" opacity="0.6"/>
<circle cx="269.80" cy="77.50" r="5.00" fill="#7fd3ec" stroke="none" stroke-width="0" opacity="0.6"/>
<circle cx="243.20" cy="76.50" r="4.00" fill="#7fd3ec" stroke="none" stroke-width="0" opacity="0.8"/>
<circle cx="255.80" cy="69.90" r="4.00" fill="#7fd3ec" stroke="none" stroke-width="0" opacity="0.8"/>
<circle cx="261.50" cy="69.60" r="4.00" fill="#7fd3ec" stroke="none" stroke-width="0" opacity="0.8"/>
<circle cx="265.80" cy="70.70" r="4.00" fill="#7fd3ec" stroke="none" stroke-width="0" opacity="0.8"/>
<circle cx="269.80" cy="77.50" r="4.00" fill="#7fd3ec" stroke="none" stroke-width="0" opacity="0.8"/>
<circle cx="316.20" cy="38.00" r="5.00" fill="#f1ee7a" stroke="none" stroke-width="0" opacity="0.6"/>
<circle cx="320.50" cy="50.00" r="5.00" fill="#f1ee7a" stroke="none" stroke-width="0" opacity="0.6"/>
<circle cx="316.20" cy="38.00" r="4.00" fill="#f1ee7a" stroke="none" stroke-width="0" opacity="0.8"/>
<circle cx="320.50" cy="50.00" r="4.00" fill="#f1ee7a" stroke="none" stroke-width="0" opacity="0.8"/>
<circle cx="346.60" cy="38.20" r="5.00" fill="#b8e08a" stroke="none" stroke-width="0" opacity="0.6"/>
<circle cx="346.60" cy="38.20" r="4.00" fill="#b8e08a" stroke="none" stroke-width="0" opacity="0.8"/>
<circle cx="338.00" cy="50.50" r="5.00" fill="#8fd3f2" stroke="none" stroke-width="0" opacity="0.6"/>
<circle cx="338.00" cy="50.50" r="4.00" fill="#8fd3f2" stroke="none" stroke-width="0" opacity="0.8"/>
<circle cx="305.90" cy="57.80" r="5.00" fill="#d4ea7f" stroke="none" stroke-width="0" opacity="0.6"/>
<circle cx="301.30" cy="67.30" r="5.00" fill="#d4ea7f" stroke="none" stroke-width="0" opacity="0.6"/>
<circle cx="305.90" cy="57.80" r="4.00" fill="#d4ea7f" stroke="none" stroke-width="0" opacity="0.8"/>
<circle cx="301.30" cy="67.30" r="4.00" fill="#d4ea7f" stroke="none" stroke-width="0" opacity="0.8"/>
<circle cx="320.80" cy="60.40" r="5.00" fill="#f5ee70" stroke="none" stroke-width="0" opacity="0.6"/>
<circle cx="321.80" cy="66.80" r="5.00" fill="#f5ee70" stroke="none" stroke-width="0" opacity="0.6"/>
<circle cx="336.90" cy="68.10" r="5.00" fill="#f5ee70" stroke="none" stroke-width="0" opacity="0.6"/>
<circle cx="330.80" cy="72.20" r="5.00" fill="#f5ee70" stroke="none" stroke-width="0" opacity="0.6"/>
<circle cx="324.60" cy="74.50" r="5.00" fill="#f5ee70" stroke="none" stroke-width="0" opacity="0.6"/>
<circle cx="313.90" cy="77.10" r="5.00" fill="#f5ee70" stroke="none" stroke-width="0" opacity="0.6"/>
<circle cx="321.50" cy="82.70" r="5.00" fill="#f5ee70" stroke="none" stroke-width="0" opacity="0.6"/>
<circle cx="327.70" cy="87.30" r="5.00" fill="#f5ee70" stroke="none" stroke-width="0" opacity="0.6"/>
<circle cx="312.80" cy="86.00" r="5.00" fill="#f5ee70" stroke="none" stroke-width="0" opacity="0.6"/>
<circle cx="298.70" cy="86.30" r="5.00" fill="#f5ee70" stroke="none" stroke-width="0" opacity="0.6"/>
<circle cx="294.40" cy="95.00" r="5.00" fill="#f5ee70" stroke="none" stroke-width="0" opacity="0.6"/>
<circle cx="307.90" cy="92.90" r="5.00" fill="#f5ee70" stroke="none" stroke-width="0" opacity="0.6"/>
<circle cx="305.60" cy="96.20" r="5.00" fill="#f5ee70" stroke="none" stroke-width="0" opacity="0.6"/>
<circle cx="303.30" cy="98.50" r="5.00" fill="#f5ee70" stroke="none" stroke-width="0" opacity="0.6"/>
<circle cx="297.50" cy="100.80" r="5.00" fill="#f5ee70" stroke="none" stroke-width="0" opacity="0.6"/>
<circle cx="329.20" cy="110.40" r="5.00" fill="#f5ee70" stroke="none" stroke-width="0" opacity="0.6"/>
<circle cx="293.80" cy="97.30" r="5.00" fill="#f5ee70" stroke="none" stroke-width="0" opacity="0.6"/>
<circle cx="306.50" cy="96.20" r="5.00" fill="#f5ee70" stroke="none" stroke-width="0" opacity="0.6"/>
<circle cx="320.80" cy="60.40" r="4.00" fill="#f5ee70" stroke="none" stroke-width="0" opacity="0.8"/>
<circle cx="321.80" cy="66.80" r="4.00" fill="#f5ee70" stroke="none" stroke-width="0" opacity="0.8"/>
<circle cx="336.90" cy="68.10" r="4.00" fill="#f5ee70" stroke="none" stroke-width="0" opacity="0.8"/>
<circle cx="330.80" cy="72.20" r="4.00" fill="#f5ee70" stroke="none" stroke-width="0" opacity="0.8"/>
<circle cx="324.60" cy="74.50" r="4.00" fill="#f5ee70" stroke="none" stroke-width="0" opacity="0.8"/>
<circle cx="313.90" cy="77.10" r="4.00" fill="#f5ee70" stroke="none" stroke-width="0" opacity="0.8"/>
<circle cx="321.50" cy="82.70" r="4.00" fill="#f5ee70" stroke="none" stroke-width="0" opacity="0.8"/>
<circle cx="327.70" cy="87.30" r="4.00" fill="#f5ee70" stroke="none" stroke-width="0" opacity="0.8"/>
<circle cx="312.80" cy="86.00" r="4.00" fill="#f5ee70" stroke="none" stroke-width="0" opacity="0.8"/>
<circle cx="298.70" cy="86.30" r="4.00" fill="#f5ee70" stroke="none" stroke-width="0" opacity="0.8"/>
<circle cx="294.40" cy="95.00" r="4.00" fill="#f5ee70" stroke="none" stroke-width="0" opacity="0.8"/>
<circle cx="307.90" cy="92.90" r="4.00" fill="#f5ee70" stroke="none" stroke-width="0" opacity="0.8"/>
<circle cx="305.60" cy="96.20" r="4.00" fill="#f5ee70" stroke="none" stroke-width="0" opacity="0.8"/>
<circle cx="303.30" cy="98.50" r="4.00" fill="#f5ee70" stroke="none" stroke-width="0" opacity="0.8"/>
<circle cx="297.50" cy="100.80" r="4.00" fill="#f5ee70" stroke="none" stroke-width="0" opacity="0.8"/>
<circle cx="329.20" cy="110.40" r="4.00" fill="#f5ee70" stroke="none" stroke-width="0" opacity="0.8"/>
<circle cx="293.80" cy="97.30" r="4.00" fill="#f5ee70" stroke="none" stroke-width="0" opacity="0.8"/>
<circle cx="306.50" cy="96.20" r="4.00" fill="#f5ee70" stroke="none" stroke-width="0" opacity="0.8"/>
<circle cx="289.40" cy="60.40" r="5.00" fill="#f36a45" stroke="none" stroke-width="0" opacity="0.6"/>
<circle cx="281.70" cy="65.00" r="5.00" fill="#f36a45" stroke="none" stroke-width="0" opacity="0.6"/>
<circle cx="284.80" cy="67.30" r="5.00" fill="#f36a45" stroke="none" stroke-width="0" opacity="0.6"/>
<circle cx="277.90" cy="68.80" r="5.00" fill="#f36a45" stroke="none" stroke-width="0" opacity="0.6"/>
<circle cx="281.70" cy="72.50" r="5.00" fill="#f36a45" stroke="none" stroke-width="0" opacity="0.6"/>
<circle cx="286.80" cy="74.50" r="5.00" fill="#f36a45" stroke="none" stroke-width="0" opacity="0.6"/>
<circle cx="281.00" cy="76.30" r="5.00" fill="#f36a45" stroke="none" stroke-width="0" opacity="0.6"/>
<circle cx="289.10" cy="77.70" r="5.00" fill="#f36a45" stroke="none" stroke-width="0" opacity="0.6"/>
<circle cx="292.50" cy="78.80" r="5.00" fill="#f36a45" stroke="none" stroke-width="0" opacity="0.6"/>
<circle cx="281.30" cy="80.60" r="5.00" fill="#f36a45" stroke="none" stroke-width="0" opacity="0.6"/>
<circle cx="285.40" cy="82.70" r="5.00" fill="#f36a45" stroke="none" stroke-width="0" opacity="0.6"/>
<circle cx="271.00" cy="82.70" r="5.00" fill="#f36a45" stroke="none" stroke-width="0" opacity="0.6"/>
<circle cx="276.20" cy="83.80" r="5.00" fill="#f36a45" stroke="none" stroke-width="0" opacity="0.6"/>
<circle cx="279.80" cy="84.60" r="5.00" fill="#f36a45" stroke="none" stroke-width="0" opacity="0.6"/>
<circle cx="268.30" cy="88.10" r="5.00" fill="#f36a45" stroke="none" stroke-width="0" opacity="0.6"/>
<circle cx="273.30" cy="89.00" r="5.00" fill="#f36a45" stroke="none" stroke-width="0" opacity="0.6"/>
<circle cx="279.00" cy="89.20" r="5.00" fill="#f36a45" stroke="none" stroke-width="0" opacity="0.6"/>
<circle cx="286.80" cy="87.50" r="5.00" fill="#f36a45" stroke="none" stroke-width="0" opacity="0.6"/>
<circle cx="279.00" cy="93.60" r="5.00" fill="#f36a45" stroke="none" stroke-width="0" opacity="0.6"/>
<circle cx="280.50" cy="99.80" r="5.00" fill="#f36a45" stroke="none" stroke-width="0" opacity="0.6"/>
<circle cx="289.40" cy="60.40" r="4.00" fill="#f36a45" stroke="none" stroke-width="0" opacity="0.8"/>
<circle cx="281.70" cy="65.00" r="4.00" fill="#f36a45" stroke="none" stroke-width="0" opacity="0.8"/>
<circle cx="284.80" cy="67.30" r="4.00" fill="#f36a45" stroke="none" stroke-width="0" opacity="0.8"/>
<circle cx="277.90" cy="68.80" r="4.00" fill="#f36a45" stroke="none" stroke-width="0" opacity="0.8"/>
<circle cx="281.70" cy="72.50" r="4.00" fill="#f36a45" stroke="none" stroke-width="0" opacity="0.8"/>
<circle cx="286.80" cy="74.50" r="4.00" fill="#f36a45" stroke="none" stroke-width="0" opacity="0.8"/>
<circle cx="281.00" cy="76.30" r="4.00" fill="#f36a45" stroke="none" stroke-width="0" opacity="0.8"/>
<circle cx="289.10" cy="77.70" r="4.00" fill="#f36a45" stroke="none" stroke-width="0" opacity="0.8"/>
<circle cx="292.50" cy="78.80" r="4.00" fill="#f36a45" stroke="none" stroke-width="0" opacity="0.8"/>
<circle cx="281.30" cy="80.60" r="4.00" fill="#f36a45" stroke="none" stroke-width="0" opacity="0.8"/>
<circle cx="285.40" cy="82.70" r="4.00" fill="#f36a45" stroke="none" stroke-width="0" opacity="0.8"/>
<circle cx="271.00" cy="82.70" r="4.00" fill="#f36a45" stroke="none" stroke-width="0" opacity="0.8"/>
<circle cx="276.20" cy="83.80" r="4.00" fill="#f36a45" stroke="none" stroke-width="0" opacity="0.8"/>
<circle cx="279.80" cy="84.60" r="4.00" fill="#f36a45" stroke="none" stroke-width="0" opacity="0.8"/>
<circle cx="268.30" cy="88.10" r="4.00" fill="#f36a45" stroke="none" stroke-width="0" opacity="0.8"/>
<circle cx="273.30" cy="89.00" r="4.00" fill="#f36a45" stroke="none" stroke-width="0" opacity="0.8"/>
<circle cx="279.00" cy="89.20" r="4.00" fill="#f36a45" stroke="none" stroke-width="0" opacity="0.8"/>
<circle cx="286.80" cy="87.50" r="4.00" fill="#f36a45" stroke="none" stroke-width="0" opacity="0.8"/>
<circle cx="279.00" cy="93.60" r="4.00" fill="#f36a45" stroke="none" stroke-width="0" opacity="0.8"/>
<circle cx="280.50" cy="99.80" r="4.00" fill="#f36a45" stroke="none" stroke-width="0" opacity="0.8"/>
<circle cx="273.40" cy="100.80" r="5.00" fill="#8fd8e0" stroke="none" stroke-width="0" opacity="0.6"/>
<circle cx="273.40" cy="100.80" r="4.00" fill="#8fd8e0" stroke="none" stroke-width="0" opacity="0.8"/>
<circle cx="237.30" cy="102.30" r="5.00" fill="#98d9a6" stroke="none" stroke-width="0" opacity="0.6"/>
<circle cx="245.80" cy="105.10" r="5.00" fill="#98d9a6" stroke="none" stroke-width="0" opacity="0.6"/>
<circle cx="237.30" cy="102.30" r="4.00" fill="#98d9a6" stroke="none" stroke-width="0" opacity="0.8"/>
<circle cx="245.80" cy="105.10" r="4.00" fill="#98d9a6" stroke="none" stroke-width="0" opacity="0.8"/>
<circle cx="255.90" cy="108.90" r="5.00" fill="#7fd6bd" stroke="none" stroke-width="0" opacity="0.6"/>
<circle cx="261.90" cy="108.50" r="5.00" fill="#7fd6bd" stroke="none" stroke-width="0" opacity="0.6"/>
<circle cx="266.40" cy="111.80" r="5.00" fill="#7fd6bd" stroke="none" stroke-width="0" opacity="0.6"/>
<circle cx="258.80" cy="114.70" r="5.00" fill="#7fd6bd" stroke="none" stroke-width="0" opacity="0.6"/>
<circle cx="262.60" cy="116.20" r="5.00" fill="#7fd6bd" stroke="none" stroke-width="0" opacity="0.6"/>
<circle cx="268.80" cy="117.10" r="5.00" fill="#7fd6bd" stroke="none" stroke-width="0" opacity="0.6"/>
<circle cx="272.20" cy="115.70" r="5.00" fill="#7fd6bd" stroke="none" stroke-width="0" opacity="0.6"/>
<circle cx="265.50" cy="119.00" r="5.00" fill="#7fd6bd" stroke="none" stroke-width="0" opacity="0.6"/>
<circle cx="266.00" cy="121.90" r="5.00" fill="#7fd6bd" stroke="none" stroke-width="0" opacity="0.6"/>
<circle cx="258.80" cy="121.00" r="5.00" fill="#7fd6bd" stroke="none" stroke-width="0" opacity="0.6"/>
<circle cx="263.60" cy="127.20" r="5.00" fill="#7fd6bd" stroke="none" stroke-width="0" opacity="0.6"/>
<circle cx="262.10" cy="129.10" r="5.00" fill="#7fd6bd" stroke="none" stroke-width="0" opacity="0.6"/>
<circle cx="258.80" cy="134.40" r="5.00" fill="#7fd6bd" stroke="none" stroke-width="0" opacity="0.6"/>
<circle cx="261.20" cy="142.10" r="5.00" fill="#7fd6bd" stroke="none" stroke-width="0" opacity="0.6"/>
<circle cx="255.90" cy="108.90" r="4.00" fill="#7fd6bd" stroke="none" stroke-width="0" opacity="0.8"/>
<circle cx="261.90" cy="108.50" r="4.00" fill="#7fd6bd" stroke="none" stroke-width="0" opacity="0.8"/>
<circle cx="266.40" cy="111.80" r="4.00" fill="#7fd6bd" stroke="none" stroke-width="0" opacity="0.8"/>
<circle cx="258.80" cy="114.70" r="4.00" fill="#7fd6bd" stroke="none" stroke-width="0" opacity="0.8"/>
<circle cx="262.60" cy="116.20" r="4.00" fill="#7fd6bd" stroke="none" stroke-width="0" opacity="0.8"/>
<circle cx="268.80" cy="117.10" r="4.00" fill="#7fd6bd" stroke="none" stroke-width="0" opacity="0.8"/>
<circle cx="272.20" cy="115.70" r="4.00" fill="#7fd6bd" stroke="none" stroke-width="0" opacity="0.8"/>
<circle cx="265.50" cy="119.00" r="4.00" fill="#7fd6bd" stroke="none" stroke-width="0" opacity="0.8"/>
<circle cx="266.00" cy="121.90" r="4.00" fill="#7fd6bd" stroke="none" stroke-width="0" opacity="0.8"/>
<circle cx="258.80" cy="121.00" r="4.00" fill="#7fd6bd" stroke="none" stroke-width="0" opacity="0.8"/>
<circle cx="263.60" cy="127.20" r="4.00" fill="#7fd6bd" stroke="none" stroke-width="0" opacity="0.8"/>
<circle cx="262.10" cy="129.10" r="4.00" fill="#7fd6bd" stroke="none" stroke-width="0" opacity="0.8"/>
<circle cx="258.80" cy="134.40" r="4.00" fill="#7fd6bd" stroke="none" stroke-width="0" opacity="0.8"/>
<circle cx="261.20" cy="142.10" r="4.00" fill="#7fd6bd" stroke="none" stroke-width="0" opacity="0.8"/>
<circle cx="219.50" cy="126.20" r="5.00" fill="#9cc3f0" stroke="none" stroke-width="0" opacity="0.6"/>
<circle cx="228.00" cy="135.00" r="5.00" fill="#9cc3f0" stroke="none" stroke-width="0" opacity="0.6"/>
<circle cx="237.20" cy="134.20" r="5.00" fill="#9cc3f0" stroke="none" stroke-width="0" opacity="0.6"/>
<circle cx="248.60" cy="136.00" r="5.00" fill="#9cc3f0" stroke="none" stroke-width="0" opacity="0.6"/>
<circle cx="219.50" cy="126.20" r="4.00" fill="#9cc3f0" stroke="none" stroke-width="0" opacity="0.8"/>
<circle cx="228.00" cy="135.00" r="4.00" fill="#9cc3f0" stroke="none" stroke-width="0" opacity="0.8"/>
<circle cx="237.20" cy="134.20" r="4.00" fill="#9cc3f0" stroke="none" stroke-width="0" opacity="0.8"/>
<circle cx="248.60" cy="136.00" r="4.00" fill="#9cc3f0" stroke="none" stroke-width="0" opacity="0.8"/>
<circle cx="318.10" cy="99.00" r="5.00" fill="#6a5fd4" stroke="none" stroke-width="0" opacity="0.6"/>
<circle cx="319.20" cy="103.10" r="5.00" fill="#6a5fd4" stroke="none" stroke-width="0" opacity="0.6"/>
<circle cx="315.80" cy="106.00" r="5.00" fill="#6a5fd4" stroke="none" stroke-width="0" opacity="0.6"/>
<circle cx="314.60" cy="109.40" r="5.00" fill="#6a5fd4" stroke="none" stroke-width="0" opacity="0.6"/>
<circle cx="311.20" cy="112.10" r="5.00" fill="#6a5fd4" stroke="none" stroke-width="0" opacity="0.6"/>
<circle cx="307.50" cy="112.30" r="5.00" fill="#6a5fd4" stroke="none" stroke-width="0" opacity="0.6"/>
<circle cx="300.80" cy="106.00" r="5.00" fill="#6a5fd4" stroke="none" stroke-width="0" opacity="0.6"/>
<circle cx="301.90" cy="108.80" r="5.00" fill="#6a5fd4" stroke="none" stroke-width="0" opacity="0.6"/>
<circle cx="300.20" cy="113.50" r="5.00" fill="#6a5fd4" stroke="none" stroke-width="0" opacity="0.6"/>
<circle cx="303.70" cy="118.10" r="5.00" fill="#6a5fd4" stroke="none" stroke-width="0" opacity="0.6"/>
<circle cx="313.70" cy="118.10" r="5.00" fill="#6a5fd4" stroke="none" stroke-width="0" opacity="0.6"/>
<circle cx="293.80" cy="110.00" r="5.00" fill="#6a5fd4" stroke="none" stroke-width="0" opacity="0.6"/>
<circle cx="294.80" cy="112.30" r="5.00" fill="#6a5fd4" stroke="none" stroke-width="0" opacity="0.6"/>
<circle cx="289.80" cy="108.60" r="5.00" fill="#6a5fd4" stroke="none" stroke-width="0" opacity="0.6"/>
<circle cx="286.30" cy="107.10" r="5.00" fill="#6a5fd4" stroke="none" stroke-width="0" opacity="0.6"/>
<circle cx="283.50" cy="107.70" r="5.00" fill="#6a5fd4" stroke="none" stroke-width="0" opacity="0.6"/>
<circle cx="284.00" cy="111.20" r="5.00" fill="#6a5fd4" stroke="none" stroke-width="0" opacity="0.6"/>
<circle cx="280.00" cy="114.00" r="5.00" fill="#6a5fd4" stroke="none" stroke-width="0" opacity="0.6"/>
<circle cx="285.80" cy="113.50" r="5.00" fill="#6a5fd4" stroke="none" stroke-width="0" opacity="0.6"/>
<circle cx="318.10" cy="99.00" r="4.00" fill="#6a5fd4" stroke="none" stroke-width="0" opacity="0.8"/>
<circle cx="319.20" cy="103.10" r="4.00" fill="#6a5fd4" stroke="none" stroke-width="0" opacity="0.8"/>
<circle cx="315.80" cy="106.00" r="4.00" fill="#6a5fd4" stroke="none" stroke-width="0" opacity="0.8"/>
<circle cx="314.60" cy="109.40" r="4.00" fill="#6a5fd4" stroke="none" stroke-width="0" opacity="0.8"/>
<circle cx="311.20" cy="112.10" r="4.00" fill="#6a5fd4" stroke="none" stroke-width="0" opacity="0.8"/>
<circle cx="307.50" cy="112.30" r="4.00" fill="#6a5fd4" stroke="none" stroke-width="0" opacity="0.8"/>
<circle cx="300.80" cy="106.00" r="4.00" fill="#6a5fd4" stroke="none" stroke-width="0" opacity="0.8"/>
<circle cx="301.90" cy="108.80" r="4.00" fill="#6a5fd4" stroke="none" stroke-width="0" opacity="0.8"/>
<circle cx="300.20" cy="113.50" r="4.00" fill="#6a5fd4" stroke="none" stroke-width="0" opacity="0.8"/>
<circle cx="303.70" cy="118.10" r="4.00" fill="#6a5fd4" stroke="none" stroke-width="0" opacity="0.8"/>
<circle cx="313.70" cy="118.10" r="4.00" fill="#6a5fd4" stroke="none" stroke-width="0" opacity="0.8"/>
<circle cx="293.80" cy="110.00" r="4.00" fill="#6a5fd4" stroke="none" stroke-width="0" opacity="0.8"/>
<circle cx="294.80" cy="112.30" r="4.00" fill="#6a5fd4" stroke="none" stroke-width="0" opacity="0.8"/>
<circle cx="289.80" cy="108.60" r="4.00" fill="#6a5fd4" stroke="none" stroke-width="0" opacity="0.8"/>
<circle cx="286.30" cy="107.10" r="4.00" fill="#6a5fd4" stroke="none" stroke-width="0" opacity="0.8"/>
<circle cx="283.50" cy="107.70" r="4.00" fill="#6a5fd4" stroke="none" stroke-width="0" opacity="0.8"/>
<circle cx="284.00" cy="111.20" r="4.00" fill="#6a5fd4" stroke="none" stroke-width="0" opacity="0.8"/>
<circle cx="280.00" cy="114.00" r="4.00" fill="#6a5fd4" stroke="none" stroke-width="0" opacity="0.8"/>
<circle cx="285.80" cy="113.50" r="4.00" fill="#6a5fd4" stroke="none" stroke-width="0" opacity="0.8"/>
<circle cx="285.80" cy="119.20" r="5.00" fill="#a460c8" stroke="none" stroke-width="0" opacity="0.6"/>
<circle cx="284.60" cy="123.80" r="5.00" fill="#a460c8" stroke="none" stroke-width="0" opacity="0.6"/>
<circle cx="288.70" cy="124.40" r="5.00" fill="#a460c8" stroke="none" stroke-width="0" opacity="0.6"/>
<circle cx="284.80" cy="128.50" r="5.00" fill="#a460c8" stroke="none" stroke-width="0" opacity="0.6"/>
<circle cx="293.30" cy="127.30" r="5.00" fill="#a460c8" stroke="none" stroke-width="0" opacity="0.6"/>
<circle cx="297.90" cy="129.00" r="5.00" fill="#a460c8" stroke="none" stroke-width="0" opacity="0.6"/>
<circle cx="282.10" cy="134.00" r="5.00" fill="#a460c8" stroke="none" stroke-width="0" opacity="0.6"/>
<circle cx="287.50" cy="134.20" r="5.00" fill="#a460c8" stroke="none" stroke-width="0" opacity="0.6"/>
<circle cx="292.70" cy="131.90" r="5.00" fill="#a460c8" stroke="none" stroke-width="0" opacity="0.6"/>
<circle cx="297.30" cy="134.20" r="5.00" fill="#a460c8" stroke="none" stroke-width="0" opacity="0.6"/>
<circle cx="301.90" cy="134.20" r="5.00" fill="#a460c8" stroke="none" stroke-width="0" opacity="0.6"/>
<circle cx="302.50" cy="137.70" r="5.00" fill="#a460c8" stroke="none" stroke-width="0" opacity="0.6"/>
<circle cx="293.80" cy="138.30" r="5.00" fill="#a460c8" stroke="none" stroke-width="0" opacity="0.6"/>
<circle cx="291.00" cy="138.80" r="5.00" fill="#a460c8" stroke="none" stroke-width="0" opacity="0.6"/>
<circle cx="289.80" cy="141.20" r="5.00" fill="#a460c8" stroke="none" stroke-width="0" opacity="0.6"/>
<circle cx="291.50" cy="144.60" r="5.00" fill="#a460c8" stroke="none" stroke-width="0" opacity="0.6"/>
<circle cx="297.30" cy="143.50" r="5.00" fill="#a460c8" stroke="none" stroke-width="0" opacity="0.6"/>
<circle cx="285.80" cy="119.20" r="4.00" fill="#a460c8" stroke="none" stroke-width="0" opacity="0.8"/>
<circle cx="284.60" cy="123.80" r="4.00" fill="#a460c8" stroke="none" stroke-width="0" opacity="0.8"/>
<circle cx="288.70" cy="124.40" r="4.00" fill="#a460c8" stroke="none" stroke-width="0" opacity="0.8"/>
<circle cx="284.80" cy="128.50" r="4.00" fill="#a460c8" stroke="none" stroke-width="0" opacity="0.8"/>
<circle cx="293.30" cy="127.30" r="4.00" fill="#a460c8" stroke="none" stroke-width="0" opacity="0.8"/>
<circle cx="297.90" cy="129.00" r="4.00" fill="#a460c8" stroke="none" stroke-width="0" opacity="0.8"/>
<circle cx="282.10" cy="134.00" r="4.00" fill="#a460c8" stroke="none" stroke-width="0" opacity="0.8"/>
<circle cx="287.50" cy="134.20" r="4.00" fill="#a460c8" stroke="none" stroke-width="0" opacity="0.8"/>
<circle cx="292.70" cy="131.90" r="4.00" fill="#a460c8" stroke="none" stroke-width="0" opacity="0.8"/>
<circle cx="297.30" cy="134.20" r="4.00" fill="#a460c8" stroke="none" stroke-width="0" opacity="0.8"/>
<circle cx="301.90" cy="134.20" r="4.00" fill="#a460c8" stroke="none" stroke-width="0" opacity="0.8"/>
<circle cx="302.50" cy="137.70" r="4.00" fill="#a460c8" stroke="none" stroke-width="0" opacity="0.8"/>
<circle cx="293.80" cy="138.30" r="4.00" fill="#a460c8" stroke="none" stroke-width="0" opacity="0.8"/>
<circle cx="291.00" cy="138.80" r="4.00" fill="#a460c8" stroke="none" stroke-width="0" opacity="0.8"/>
<circle cx="289.80" cy="141.20" r="4.00" fill="#a460c8" stroke="none" stroke-width="0" opacity="0.8"/>
<circle cx="291.50" cy="144.60" r="4.00" fill="#a460c8" stroke="none" stroke-width="0" opacity="0.8"/>
<circle cx="297.30" cy="143.50" r="4.00" fill="#a460c8" stroke="none" stroke-width="0" opacity="0.8"/>
<circle cx="275.20" cy="139.40" r="5.00" fill="#b27ad2" stroke="none" stroke-width="0" opacity="0.6"/>
<circle cx="282.10" cy="145.80" r="5.00" fill="#b27ad2" stroke="none" stroke-width="0" opacity="0.6"/>
<circle cx="275.20" cy="139.40" r="4.00" fill="#b27ad2" stroke="none" stroke-width="0" opacity="0.8"/>
<circle cx="282.10" cy="145.80" r="4.00" fill="#b27ad2" stroke="none" stroke-width="0" opacity="0.8"/>
<circle cx="297.90" cy="149.80" r="5.00" fill="#e58fd6" stroke="none" stroke-width="0" opacity="0.6"/>
<circle cx="307.10" cy="152.10" r="5.00" fill="#e58fd6" stroke="none" stroke-width="0" opacity="0.6"/>
<circle cx="297.90" cy="149.80" r="4.00" fill="#e58fd6" stroke="none" stroke-width="0" opacity="0.8"/>
<circle cx="307.10" cy="152.10" r="4.00" fill="#e58fd6" stroke="none" stroke-width="0" opacity="0.8"/>
<circle cx="292.80" cy="157.00" r="5.00" fill="#ef8ac8" stroke="none" stroke-width="0" opacity="0.6"/>
<circle cx="297.70" cy="157.70" r="5.00" fill="#ef8ac8" stroke="none" stroke-width="0" opacity="0.6"/>
<circle cx="292.80" cy="157.00" r="4.00" fill="#ef8ac8" stroke="none" stroke-width="0" opacity="0.8"/>
<circle cx="297.70" cy="157.70" r="4.00" fill="#ef8ac8" stroke="none" stroke-width="0" opacity="0.8"/>
</g>
<mask id="om1" maskUnits="userSpaceOnUse" x="0" y="0" width="520" height="603"><rect x="0" y="0" width="520" height="603" fill="#fff"/><path d="M249.60,30.40 L256.50,39.60 Z" fill="#000" stroke="#000" stroke-width="12.40" stroke-linejoin="round" stroke-linecap="round"/></mask>
<path d="M249.60,30.40 L256.50,39.60 Z" mask="url(#om1)" fill="none" stroke="#4a4a4a" stroke-width="13.40" stroke-linejoin="round" stroke-linecap="round"/>
<mask id="om2" maskUnits="userSpaceOnUse" x="0" y="0" width="520" height="603"><rect x="0" y="0" width="520" height="603" fill="#fff"/><path d="M261.50,52.70 L261.51,52.70 Z" fill="#000" stroke="#000" stroke-width="12.60" stroke-linejoin="round" stroke-linecap="round"/></mask>
<path d="M261.50,52.70 L261.51,52.70 Z" mask="url(#om2)" fill="none" stroke="#4a4a4a" stroke-width="13.60" stroke-linejoin="round" stroke-linecap="round"/>
<mask id="om3" maskUnits="userSpaceOnUse" x="0" y="0" width="520" height="603"><rect x="0" y="0" width="520" height="603" fill="#fff"/><path d="M243.20,76.50 L255.80,69.90 L261.50,69.60 L265.80,70.70 L269.80,77.50 Z" fill="#000" stroke="#000" stroke-width="12.80" stroke-linejoin="round" stroke-linecap="round"/></mask>
<path d="M243.20,76.50 L255.80,69.90 L261.50,69.60 L265.80,70.70 L269.80,77.50 Z" mask="url(#om3)" fill="none" stroke="#4a4a4a" stroke-width="13.80" stroke-linejoin="round" stroke-linecap="round"/>
<mask id="om4" maskUnits="userSpaceOnUse" x="0" y="0" width="520" height="603"><rect x="0" y="0" width="520" height="603" fill="#fff"/><path d="M268.30,88.10 L277.90,68.80 L281.70,65.00 L289.40,60.40 L292.50,78.80 L280.50,99.80 L273.40,100.80 Z" fill="#000" stroke="#000" stroke-width="11.60" stroke-linejoin="round" stroke-linecap="round"/></mask>
<path d="M268.30,88.10 L277.90,68.80 L281.70,65.00 L289.40,60.40 L292.50,78.80 L280.50,99.80 L273.40,100.80 Z" mask="url(#om4)" fill="none" stroke="#4a4a4a" stroke-width="12.60" stroke-linejoin="round" stroke-linecap="round"/>
<mask id="om5" maskUnits="userSpaceOnUse" x="0" y="0" width="520" height="603"><rect x="0" y="0" width="520" height="603" fill="#fff"/><path d="M301.30,67.30 L305.90,57.80 Z" fill="#000" stroke="#000" stroke-width="12.40" stroke-linejoin="round" stroke-linecap="round"/></mask>
<path d="M301.30,67.30 L305.90,57.80 Z" mask="url(#om5)" fill="none" stroke="#4a4a4a" stroke-width="13.40" stroke-linejoin="round" stroke-linecap="round"/>
<mask id="om6" maskUnits="userSpaceOnUse" x="0" y="0" width="520" height="603"><rect x="0" y="0" width="520" height="603" fill="#fff"/><path d="M316.20,38.00 L320.50,50.00 Z" fill="#000" stroke="#000" stroke-width="12.40" stroke-linejoin="round" stroke-linecap="round"/></mask>
<path d="M316.20,38.00 L320.50,50.00 Z" mask="url(#om6)" fill="none" stroke="#4a4a4a" stroke-width="13.40" stroke-linejoin="round" stroke-linecap="round"/>
<mask id="om7" maskUnits="userSpaceOnUse" x="0" y="0" width="520" height="603"><rect x="0" y="0" width="520" height="603" fill="#fff"/><path d="M346.60,38.20 L346.61,38.20 Z" fill="#000" stroke="#000" stroke-width="13.00" stroke-linejoin="round" stroke-linecap="round"/></mask>
<path d="M346.60,38.20 L346.61,38.20 Z" mask="url(#om7)" fill="none" stroke="#4a4a4a" stroke-width="14.00" stroke-linejoin="round" stroke-linecap="round"/>
<mask id="om8" maskUnits="userSpaceOnUse" x="0" y="0" width="520" height="603"><rect x="0" y="0" width="520" height="603" fill="#fff"/><path d="M338.00,50.50 L338.01,50.50 Z" fill="#000" stroke="#000" stroke-width="13.00" stroke-linejoin="round" stroke-linecap="round"/></mask>
<path d="M338.00,50.50 L338.01,50.50 Z" mask="url(#om8)" fill="none" stroke="#4a4a4a" stroke-width="14.00" stroke-linejoin="round" stroke-linecap="round"/>
<mask id="om9" maskUnits="userSpaceOnUse" x="0" y="0" width="520" height="603"><rect x="0" y="0" width="520" height="603" fill="#fff"/><path d="M293.80,97.30 L294.40,95.00 L298.70,86.30 L320.80,60.40 L336.90,68.10 L329.20,110.40 L297.50,100.80 Z" fill="#000" stroke="#000" stroke-width="12.00" stroke-linejoin="round" stroke-linecap="round"/></mask>
<path d="M293.80,97.30 L294.40,95.00 L298.70,86.30 L320.80,60.40 L336.90,68.10 L329.20,110.40 L297.50,100.80 Z" mask="url(#om9)" fill="none" stroke="#4a4a4a" stroke-width="13.00" stroke-linejoin="round" stroke-linecap="round"/>
<mask id="om10" maskUnits="userSpaceOnUse" x="0" y="0" width="520" height="603"><rect x="0" y="0" width="520" height="603" fill="#fff"/><path d="M237.30,102.30 L245.80,105.10 Z" fill="#000" stroke="#000" stroke-width="12.40" stroke-linejoin="round" stroke-linecap="round"/></mask>
<path d="M237.30,102.30 L245.80,105.10 Z" mask="url(#om10)" fill="none" stroke="#4a4a4a" stroke-width="13.40" stroke-linejoin="round" stroke-linecap="round"/>
<mask id="om11" maskUnits="userSpaceOnUse" x="0" y="0" width="520" height="603"><rect x="0" y="0" width="520" height="603" fill="#fff"/><path d="M255.90,108.90 L261.90,108.50 L272.20,115.70 L261.20,142.10 L258.80,134.40 Z" fill="#000" stroke="#000" stroke-width="11.80" stroke-linejoin="round" stroke-linecap="round"/></mask>
<path d="M255.90,108.90 L261.90,108.50 L272.20,115.70 L261.20,142.10 L258.80,134.40 Z" mask="url(#om11)" fill="none" stroke="#4a4a4a" stroke-width="12.80" stroke-linejoin="round" stroke-linecap="round"/>
<mask id="om12" maskUnits="userSpaceOnUse" x="0" y="0" width="520" height="603"><rect x="0" y="0" width="520" height="603" fill="#fff"/><path d="M219.50,126.20 L248.60,136.00 L228.00,135.00 Z" fill="#000" stroke="#000" stroke-width="12.60" stroke-linejoin="round" stroke-linecap="round"/></mask>
<path d="M219.50,126.20 L248.60,136.00 L228.00,135.00 Z" mask="url(#om12)" fill="none" stroke="#4a4a4a" stroke-width="13.60" stroke-linejoin="round" stroke-linecap="round"/>
<mask id="om13" maskUnits="userSpaceOnUse" x="0" y="0" width="520" height="603"><rect x="0" y="0" width="520" height="603" fill="#fff"/><path d="M280.00,114.00 L283.50,107.70 L318.10,99.00 L319.20,103.10 L313.70,118.10 L303.70,118.10 Z" fill="#000" stroke="#000" stroke-width="11.60" stroke-linejoin="round" stroke-linecap="round"/></mask>
<path d="M280.00,114.00 L283.50,107.70 L318.10,99.00 L319.20,103.10 L313.70,118.10 L303.70,118.10 Z" mask="url(#om13)" fill="none" stroke="#4a4a4a" stroke-width="12.60" stroke-linejoin="round" stroke-linecap="round"/>
<mask id="om14" maskUnits="userSpaceOnUse" x="0" y="0" width="520" height="603"><rect x="0" y="0" width="520" height="603" fill="#fff"/><path d="M282.10,134.00 L284.60,123.80 L285.80,119.20 L297.90,129.00 L301.90,134.20 L302.50,137.70 L297.30,143.50 L291.50,144.60 Z" fill="#000" stroke="#000" stroke-width="11.60" stroke-linejoin="round" stroke-linecap="round"/></mask>
<path d="M282.10,134.00 L284.60,123.80 L285.80,119.20 L297.90,129.00 L301.90,134.20 L302.50,137.70 L297.30,143.50 L291.50,144.60 Z" mask="url(#om14)" fill="none" stroke="#4a4a4a" stroke-width="12.60" stroke-linejoin="round" stroke-linecap="round"/>
<mask id="om15" maskUnits="userSpaceOnUse" x="0" y="0" width="520" height="603"><rect x="0" y="0" width="520" height="603" fill="#fff"/><path d="M275.20,139.40 L282.10,145.80 Z" fill="#000" stroke="#000" stroke-width="12.00" stroke-linejoin="round" stroke-linecap="round"/></mask>
<path d="M275.20,139.40 L282.10,145.80 Z" mask="url(#om15)" fill="none" stroke="#4a4a4a" stroke-width="13.00" stroke-linejoin="round" stroke-linecap="round"/>
<mask id="om16" maskUnits="userSpaceOnUse" x="0" y="0" width="520" height="603"><rect x="0" y="0" width="520" height="603" fill="#fff"/><path d="M292.80,157.00 L297.90,149.80 L307.10,152.10 L297.70,157.70 Z" fill="#000" stroke="#000" stroke-width="11.60" stroke-linejoin="round" stroke-linecap="round"/></mask>
<path d="M292.80,157.00 L297.90,149.80 L307.10,152.10 L297.70,157.70 Z" mask="url(#om16)" fill="none" stroke="#4a4a4a" stroke-width="12.60" stroke-linejoin="round" stroke-linecap="round"/>
<circle cx="249.60" cy="30.40" r="2.50" fill="#df8b1c" stroke="#6e3f0c" stroke-width="0.45" />
<line x1="248.60" y1="30.70" x2="250.60" y2="30.70" stroke="#8a5010" stroke-width="0.3" />
<circle cx="256.50" cy="39.60" r="2.50" fill="#df8b1c" stroke="#6e3f0c" stroke-width="0.45" />
<line x1="255.50" y1="39.90" x2="257.50" y2="39.90" stroke="#8a5010" stroke-width="0.3" />
<circle cx="261.50" cy="52.70" r="2.50" fill="#df8b1c" stroke="#6e3f0c" stroke-width="0.45" />
<line x1="260.50" y1="53.00" x2="262.50" y2="53.00" stroke="#8a5010" stroke-width="0.3" />
<circle cx="243.20" cy="76.50" r="2.50" fill="#df8b1c" stroke="#6e3f0c" stroke-width="0.45" />
<line x1="242.20" y1="76.80" x2="244.20" y2="76.80" stroke="#8a5010" stroke-width="0.3" />
<circle cx="255.80" cy="69.90" r="2.50" fill="#df8b1c" stroke="#6e3f0c" stroke-width="0.45" />
<line x1="254.80" y1="70.20" x2="256.80" y2="70.20" stroke="#8a5010" stroke-width="0.3" />
<circle cx="261.50" cy="69.60" r="2.50" fill="#df8b1c" stroke="#6e3f0c" stroke-width="0.45" />
<line x1="260.50" y1="69.90" x2="262.50" y2="69.90" stroke="#8a5010" stroke-width="0.3" />
<circle cx="265.80" cy="70.70" r="2.50" fill="#df8b1c" stroke="#6e3f0c" stroke-width="0.45" />
<line x1="264.80" y1="71.00" x2="266.80" y2="71.00" stroke="#8a5010" stroke-width="0.3" />
<circle cx="269.80" cy="77.50" r="2.50" fill="#df8b1c" stroke="#6e3f0c" stroke-width="0.45" />
<line x1="268.80" y1="77.80" x2="270.80" y2="77.80" stroke="#8a5010" stroke-width="0.3" />
<circle cx="316.20" cy="38.00" r="2.50" fill="#df8b1c" stroke="#6e3f0c" stroke-width="0.45" />
<line x1="315.20" y1="38.30" x2="317.20" y2="38.30" stroke="#8a5010" stroke-width="0.3" />
<circle cx="320.50" cy="50.00" r="2.50" fill="#df8b1c" stroke="#6e3f0c" stroke-width="0.45" />
<line x1="319.50" y1="50.30" x2="321.50" y2="50.30" stroke="#8a5010" stroke-width="0.3" />
<circle cx="346.60" cy="38.20" r="2.50" fill="#df8b1c" stroke="#6e3f0c" stroke-width="0.45" />
<line x1="345.60" y1="38.50" x2="347.60" y2="38.50" stroke="#8a5010" stroke-width="0.3" />
<circle cx="338.00" cy="50.50" r="2.50" fill="#df8b1c" stroke="#6e3f0c" stroke-width="0.45" />
<line x1="337.00" y1="50.80" x2="339.00" y2="50.80" stroke="#8a5010" stroke-width="0.3" />
<circle cx="305.90" cy="57.80" r="2.50" fill="#df8b1c" stroke="#6e3f0c" stroke-width="0.45" />
<line x1="304.90" y1="58.10" x2="306.90" y2="58.10" stroke="#8a5010" stroke-width="0.3" />
<circle cx="301.30" cy="67.30" r="2.50" fill="#df8b1c" stroke="#6e3f0c" stroke-width="0.45" />
<line x1="300.30" y1="67.60" x2="302.30" y2="67.60" stroke="#8a5010" stroke-width="0.3" />
<circle cx="320.80" cy="60.40" r="2.50" fill="#df8b1c" stroke="#6e3f0c" stroke-width="0.45" />
<line x1="319.80" y1="60.70" x2="321.80" y2="60.70" stroke="#8a5010" stroke-width="0.3" />
<circle cx="321.80" cy="66.80" r="2.50" fill="#df8b1c" stroke="#6e3f0c" stroke-width="0.45" />
<line x1="320.80" y1="67.10" x2="322.80" y2="67.10" stroke="#8a5010" stroke-width="0.3" />
<circle cx="336.90" cy="68.10" r="2.50" fill="#df8b1c" stroke="#6e3f0c" stroke-width="0.45" />
<line x1="335.90" y1="68.40" x2="337.90" y2="68.40" stroke="#8a5010" stroke-width="0.3" />
<circle cx="330.80" cy="72.20" r="2.50" fill="#df8b1c" stroke="#6e3f0c" stroke-width="0.45" />
<line x1="329.80" y1="72.50" x2="331.80" y2="72.50" stroke="#8a5010" stroke-width="0.3" />
<circle cx="324.60" cy="74.50" r="2.50" fill="#df8b1c" stroke="#6e3f0c" stroke-width="0.45" />
<line x1="323.60" y1="74.80" x2="325.60" y2="74.80" stroke="#8a5010" stroke-width="0.3" />
<circle cx="313.90" cy="77.10" r="2.50" fill="#df8b1c" stroke="#6e3f0c" stroke-width="0.45" />
<line x1="312.90" y1="77.40" x2="314.90" y2="77.40" stroke="#8a5010" stroke-width="0.3" />
<circle cx="321.50" cy="82.70" r="2.50" fill="#df8b1c" stroke="#6e3f0c" stroke-width="0.45" />
<line x1="320.50" y1="83.00" x2="322.50" y2="83.00" stroke="#8a5010" stroke-width="0.3" />
<circle cx="327.70" cy="87.30" r="2.50" fill="#df8b1c" stroke="#6e3f0c" stroke-width="0.45" />
<line x1="326.70" y1="87.60" x2="328.70" y2="87.60" stroke="#8a5010" stroke-width="0.3" />
<circle cx="312.80" cy="86.00" r="2.50" fill="#df8b1c" stroke="#6e3f0c" stroke-width="0.45" />
<line x1="311.80" y1="86.30" x2="313.80" y2="86.30" stroke="#8a5010" stroke-width="0.3" />
<circle cx="298.70" cy="86.30" r="2.50" fill="#df8b1c" stroke="#6e3f0c" stroke-width="0.45" />
<line x1="297.70" y1="86.60" x2="299.70" y2="86.60" stroke="#8a5010" stroke-width="0.3" />
<circle cx="294.40" cy="95.00" r="2.50" fill="#df8b1c" stroke="#6e3f0c" stroke-width="0.45" />
<line x1="293.40" y1="95.30" x2="295.40" y2="95.30" stroke="#8a5010" stroke-width="0.3" />
<circle cx="307.90" cy="92.90" r="2.50" fill="#df8b1c" stroke="#6e3f0c" stroke-width="0.45" />
<line x1="306.90" y1="93.20" x2="308.90" y2="93.20" stroke="#8a5010" stroke-width="0.3" />
<circle cx="305.60" cy="96.20" r="2.50" fill="#df8b1c" stroke="#6e3f0c" stroke-width="0.45" />
<line x1="304.60" y1="96.50" x2="306.60" y2="96.50" stroke="#8a5010" stroke-width="0.3" />
<circle cx="303.30" cy="98.50" r="2.50" fill="#df8b1c" stroke="#6e3f0c" stroke-width="0.45" />
<line x1="302.30" y1="98.80" x2="304.30" y2="98.80" stroke="#8a5010" stroke-width="0.3" />
<circle cx="297.50" cy="100.80" r="2.50" fill="#df8b1c" stroke="#6e3f0c" stroke-width="0.45" />
<line x1="296.50" y1="101.10" x2="298.50" y2="101.10" stroke="#8a5010" stroke-width="0.3" />
<circle cx="329.20" cy="110.40" r="2.50" fill="#df8b1c" stroke="#6e3f0c" stroke-width="0.45" />
<line x1="328.20" y1="110.70" x2="330.20" y2="110.70" stroke="#8a5010" stroke-width="0.3" />
<circle cx="293.80" cy="97.30" r="2.50" fill="#df8b1c" stroke="#6e3f0c" stroke-width="0.45" />
<line x1="292.80" y1="97.60" x2="294.80" y2="97.60" stroke="#8a5010" stroke-width="0.3" />
<circle cx="306.50" cy="96.20" r="2.50" fill="#df8b1c" stroke="#6e3f0c" stroke-width="0.45" />
<line x1="305.50" y1="96.50" x2="307.50" y2="96.50" stroke="#8a5010" stroke-width="0.3" />
<circle cx="289.40" cy="60.40" r="2.50" fill="#df8b1c" stroke="#6e3f0c" stroke-width="0.45" />
<line x1="288.40" y1="60.70" x2="290.40" y2="60.70" stroke="#8a5010" stroke-width="0.3" />
<circle cx="281.70" cy="65.00" r="2.50" fill="#df8b1c" stroke="#6e3f0c" stroke-width="0.45" />
<line x1="280.70" y1="65.30" x2="282.70" y2="65.30" stroke="#8a5010" stroke-width="0.3" />
<circle cx="284.80" cy="67.30" r="2.50" fill="#df8b1c" stroke="#6e3f0c" stroke-width="0.45" />
<line x1="283.80" y1="67.60" x2="285.80" y2="67.60" stroke="#8a5010" stroke-width="0.3" />
<circle cx="277.90" cy="68.80" r="2.50" fill="#df8b1c" stroke="#6e3f0c" stroke-width="0.45" />
<line x1="276.90" y1="69.10" x2="278.90" y2="69.10" stroke="#8a5010" stroke-width="0.3" />
<circle cx="281.70" cy="72.50" r="2.50" fill="#df8b1c" stroke="#6e3f0c" stroke-width="0.45" />
<line x1="280.70" y1="72.80" x2="282.70" y2="72.80" stroke="#8a5010" stroke-width="0.3" />
<circle cx="286.80" cy="74.50" r="2.50" fill="#df8b1c" stroke="#6e3f0c" stroke-width="0.45" />
<line x1="285.80" y1="74.80" x2="287.80" y2="74.80" stroke="#8a5010" stroke-width="0.3" />
<circle cx="281.00" cy="76.30" r="2.50" fill="#df8b1c" stroke="#6e3f0c" stroke-width="0.45" />
<line x1="280.00" y1="76.60" x2="282.00" y2="76.60" stroke="#8a5010" stroke-width="0.3" />
<circle cx="289.10" cy="77.70" r="2.50" fill="#df8b1c" stroke="#6e3f0c" stroke-width="0.45" />
<line x1="288.10" y1="78.00" x2="290.10" y2="78.00" stroke="#8a5010" stroke-width="0.3" />
<circle cx="292.50" cy="78.80" r="2.50" fill="#df8b1c" stroke="#6e3f0c" stroke-width="0.45" />
<line x1="291.50" y1="79.10" x2="293.50" y2="79.10" stroke="#8a5010" stroke-width="0.3" />
<circle cx="281.30" cy="80.60" r="2.50" fill="#df8b1c" stroke="#6e3f0c" stroke-width="0.45" />
<line x1="280.30" y1="80.90" x2="282.30" y2="80.90" stroke="#8a5010" stroke-width="0.3" />
<circle cx="285.40" cy="82.70" r="2.50" fill="#df8b1c" stroke="#6e3f0c" stroke-width="0.45" />
<line x1="284.40" y1="83.00" x2="286.40" y2="83.00" stroke="#8a5010" stroke-width="0.3" />
<circle cx="271.00" cy="82.70" r="2.50" fill="#df8b1c" stroke="#6e3f0c" stroke-width="0.45" />
<line x1="270.00" y1="83.00" x2="272.00" y2="83.00" stroke="#8a5010" stroke-width="0.3" />
<circle cx="276.20" cy="83.80" r="2.50" fill="#df8b1c" stroke="#6e3f0c" stroke-width="0.45" />
<line x1="275.20" y1="84.10" x2="277.20" y2="84.10" stroke="#8a5010" stroke-width="0.3" />
<circle cx="279.80" cy="84.60" r="2.50" fill="#df8b1c" stroke="#6e3f0c" stroke-width="0.45" />
<line x1="278.80" y1="84.90" x2="280.80" y2="84.90" stroke="#8a5010" stroke-width="0.3" />
<circle cx="268.30" cy="88.10" r="2.50" fill="#df8b1c" stroke="#6e3f0c" stroke-width="0.45" />
<line x1="267.30" y1="88.40" x2="269.30" y2="88.40" stroke="#8a5010" stroke-width="0.3" />
<circle cx="273.30" cy="89.00" r="2.50" fill="#df8b1c" stroke="#6e3f0c" stroke-width="0.45" />
<line x1="272.30" y1="89.30" x2="274.30" y2="89.30" stroke="#8a5010" stroke-width="0.3" />
<circle cx="279.00" cy="89.20" r="2.50" fill="#df8b1c" stroke="#6e3f0c" stroke-width="0.45" />
<line x1="278.00" y1="89.50" x2="280.00" y2="89.50" stroke="#8a5010" stroke-width="0.3" />
<circle cx="286.80" cy="87.50" r="2.50" fill="#df8b1c" stroke="#6e3f0c" stroke-width="0.45" />
<line x1="285.80" y1="87.80" x2="287.80" y2="87.80" stroke="#8a5010" stroke-width="0.3" />
<circle cx="279.00" cy="93.60" r="2.50" fill="#df8b1c" stroke="#6e3f0c" stroke-width="0.45" />
<line x1="278.00" y1="93.90" x2="280.00" y2="93.90" stroke="#8a5010" stroke-width="0.3" />
<circle cx="280.50" cy="99.80" r="2.50" fill="#df8b1c" stroke="#6e3f0c" stroke-width="0.45" />
<line x1="279.50" y1="100.10" x2="281.50" y2="100.10" stroke="#8a5010" stroke-width="0.3" />
<circle cx="273.40" cy="100.80" r="2.50" fill="#df8b1c" stroke="#6e3f0c" stroke-width="0.45" />
<line x1="272.40" y1="101.10" x2="274.40" y2="101.10" stroke="#8a5010" stroke-width="0.3" />
<circle cx="237.30" cy="102.30" r="2.50" fill="#df8b1c" stroke="#6e3f0c" stroke-width="0.45" />
<line x1="236.30" y1="102.60" x2="238.30" y2="102.60" stroke="#8a5010" stroke-width="0.3" />
<circle cx="245.80" cy="105.10" r="2.50" fill="#df8b1c" stroke="#6e3f0c" stroke-width="0.45" />
<line x1="244.80" y1="105.40" x2="246.80" y2="105.40" stroke="#8a5010" stroke-width="0.3" />
<circle cx="255.90" cy="108.90" r="2.50" fill="#df8b1c" stroke="#6e3f0c" stroke-width="0.45" />
<line x1="254.90" y1="109.20" x2="256.90" y2="109.20" stroke="#8a5010" stroke-width="0.3" />
<circle cx="261.90" cy="108.50" r="2.50" fill="#df8b1c" stroke="#6e3f0c" stroke-width="0.45" />
<line x1="260.90" y1="108.80" x2="262.90" y2="108.80" stroke="#8a5010" stroke-width="0.3" />
<circle cx="266.40" cy="111.80" r="2.50" fill="#df8b1c" stroke="#6e3f0c" stroke-width="0.45" />
<line x1="265.40" y1="112.10" x2="267.40" y2="112.10" stroke="#8a5010" stroke-width="0.3" />
<circle cx="258.80" cy="114.70" r="2.50" fill="#df8b1c" stroke="#6e3f0c" stroke-width="0.45" />
<line x1="257.80" y1="115.00" x2="259.80" y2="115.00" stroke="#8a5010" stroke-width="0.3" />
<circle cx="262.60" cy="116.20" r="2.50" fill="#df8b1c" stroke="#6e3f0c" stroke-width="0.45" />
<line x1="261.60" y1="116.50" x2="263.60" y2="116.50" stroke="#8a5010" stroke-width="0.3" />
<circle cx="268.80" cy="117.10" r="2.50" fill="#df8b1c" stroke="#6e3f0c" stroke-width="0.45" />
<line x1="267.80" y1="117.40" x2="269.80" y2="117.40" stroke="#8a5010" stroke-width="0.3" />
<circle cx="272.20" cy="115.70" r="2.50" fill="#df8b1c" stroke="#6e3f0c" stroke-width="0.45" />
<line x1="271.20" y1="116.00" x2="273.20" y2="116.00" stroke="#8a5010" stroke-width="0.3" />
<circle cx="265.50" cy="119.00" r="2.50" fill="#df8b1c" stroke="#6e3f0c" stroke-width="0.45" />
<line x1="264.50" y1="119.30" x2="266.50" y2="119.30" stroke="#8a5010" stroke-width="0.3" />
<circle cx="266.00" cy="121.90" r="2.50" fill="#df8b1c" stroke="#6e3f0c" stroke-width="0.45" />
<line x1="265.00" y1="122.20" x2="267.00" y2="122.20" stroke="#8a5010" stroke-width="0.3" />
<circle cx="258.80" cy="121.00" r="2.50" fill="#df8b1c" stroke="#6e3f0c" stroke-width="0.45" />
<line x1="257.80" y1="121.30" x2="259.80" y2="121.30" stroke="#8a5010" stroke-width="0.3" />
<circle cx="263.60" cy="127.20" r="2.50" fill="#df8b1c" stroke="#6e3f0c" stroke-width="0.45" />
<line x1="262.60" y1="127.50" x2="264.60" y2="127.50" stroke="#8a5010" stroke-width="0.3" />
<circle cx="262.10" cy="129.10" r="2.50" fill="#df8b1c" stroke="#6e3f0c" stroke-width="0.45" />
<line x1="261.10" y1="129.40" x2="263.10" y2="129.40" stroke="#8a5010" stroke-width="0.3" />
<circle cx="258.80" cy="134.40" r="2.50" fill="#df8b1c" stroke="#6e3f0c" stroke-width="0.45" />
<line x1="257.80" y1="134.70" x2="259.80" y2="134.70" stroke="#8a5010" stroke-width="0.3" />
<circle cx="261.20" cy="142.10" r="2.50" fill="#df8b1c" stroke="#6e3f0c" stroke-width="0.45" />
<line x1="260.20" y1="142.40" x2="262.20" y2="142.40" stroke="#8a5010" stroke-width="0.3" />
<circle cx="219.50" cy="126.20" r="2.50" fill="#df8b1c" stroke="#6e3f0c" stroke-width="0.45" />
<line x1="218.50" y1="126.50" x2="220.50" y2="126.50" stroke="#8a5010" stroke-width="0.3" />
<circle cx="228.00" cy="135.00" r="2.50" fill="#df8b1c" stroke="#6e3f0c" stroke-width="0.45" />
<line x1="227.00" y1="135.30" x2="229.00" y2="135.30" stroke="#8a5010" stroke-width="0.3" />
<circle cx="237.20" cy="134.20" r="2.50" fill="#df8b1c" stroke="#6e3f0c" stroke-width="0.45" />
<line x1="236.20" y1="134.50" x2="238.20" y2="134.50" stroke="#8a5010" stroke-width="0.3" />
<circle cx="248.60" cy="136.00" r="2.50" fill="#df8b1c" stroke="#6e3f0c" stroke-width="0.45" />
<line x1="247.60" y1="136.30" x2="249.60" y2="136.30" stroke="#8a5010" stroke-width="0.3" />
<circle cx="318.10" cy="99.00" r="2.50" fill="#df8b1c" stroke="#6e3f0c" stroke-width="0.45" />
<line x1="317.10" y1="99.30" x2="319.10" y2="99.30" stroke="#8a5010" stroke-width="0.3" />
<circle cx="319.20" cy="103.10" r="2.50" fill="#df8b1c" stroke="#6e3f0c" stroke-width="0.45" />
<line x1="318.20" y1="103.40" x2="320.20" y2="103.40" stroke="#8a5010" stroke-width="0.3" />
<circle cx="315.80" cy="106.00" r="2.50" fill="#df8b1c" stroke="#6e3f0c" stroke-width="0.45" />
<line x1="314.80" y1="106.30" x2="316.80" y2="106.30" stroke="#8a5010" stroke-width="0.3" />
<circle cx="314.60" cy="109.40" r="2.50" fill="#df8b1c" stroke="#6e3f0c" stroke-width="0.45" />
<line x1="313.60" y1="109.70" x2="315.60" y2="109.70" stroke="#8a5010" stroke-width="0.3" />
<circle cx="311.20" cy="112.10" r="2.50" fill="#df8b1c" stroke="#6e3f0c" stroke-width="0.45" />
<line x1="310.20" y1="112.40" x2="312.20" y2="112.40" stroke="#8a5010" stroke-width="0.3" />
<circle cx="307.50" cy="112.30" r="2.50" fill="#df8b1c" stroke="#6e3f0c" stroke-width="0.45" />
<line x1="306.50" y1="112.60" x2="308.50" y2="112.60" stroke="#8a5010" stroke-width="0.3" />
<circle cx="300.80" cy="106.00" r="2.50" fill="#df8b1c" stroke="#6e3f0c" stroke-width="0.45" />
<line x1="299.80" y1="106.30" x2="301.80" y2="106.30" stroke="#8a5010" stroke-width="0.3" />
<circle cx="301.90" cy="108.80" r="2.50" fill="#df8b1c" stroke="#6e3f0c" stroke-width="0.45" />
<line x1="300.90" y1="109.10" x2="302.90" y2="109.10" stroke="#8a5010" stroke-width="0.3" />
<circle cx="300.20" cy="113.50" r="2.50" fill="#df8b1c" stroke="#6e3f0c" stroke-width="0.45" />
<line x1="299.20" y1="113.80" x2="301.20" y2="113.80" stroke="#8a5010" stroke-width="0.3" />
<circle cx="303.70" cy="118.10" r="2.50" fill="#df8b1c" stroke="#6e3f0c" stroke-width="0.45" />
<line x1="302.70" y1="118.40" x2="304.70" y2="118.40" stroke="#8a5010" stroke-width="0.3" />
<circle cx="313.70" cy="118.10" r="2.50" fill="#df8b1c" stroke="#6e3f0c" stroke-width="0.45" />
<line x1="312.70" y1="118.40" x2="314.70" y2="118.40" stroke="#8a5010" stroke-width="0.3" />
<circle cx="293.80" cy="110.00" r="2.50" fill="#df8b1c" stroke="#6e3f0c" stroke-width="0.45" />
<line x1="292.80" y1="110.30" x2="294.80" y2="110.30" stroke="#8a5010" stroke-width="0.3" />
<circle cx="294.80" cy="112.30" r="2.50" fill="#df8b1c" stroke="#6e3f0c" stroke-width="0.45" />
<line x1="293.80" y1="112.60" x2="295.80" y2="112.60" stroke="#8a5010" stroke-width="0.3" />
<circle cx="289.80" cy="108.60" r="2.50" fill="#df8b1c" stroke="#6e3f0c" stroke-width="0.45" />
<line x1="288.80" y1="108.90" x2="290.80" y2="108.90" stroke="#8a5010" stroke-width="0.3" />
<circle cx="286.30" cy="107.10" r="2.50" fill="#df8b1c" stroke="#6e3f0c" stroke-width="0.45" />
<line x1="285.30" y1="107.40" x2="287.30" y2="107.40" stroke="#8a5010" stroke-width="0.3" />
<circle cx="283.50" cy="107.70" r="2.50" fill="#df8b1c" stroke="#6e3f0c" stroke-width="0.45" />
<line x1="282.50" y1="108.00" x2="284.50" y2="108.00" stroke="#8a5010" stroke-width="0.3" />
<circle cx="284.00" cy="111.20" r="2.50" fill="#df8b1c" stroke="#6e3f0c" stroke-width="0.45" />
<line x1="283.00" y1="111.50" x2="285.00" y2="111.50" stroke="#8a5010" stroke-width="0.3" />
<circle cx="280.00" cy="114.00" r="2.50" fill="#df8b1c" stroke="#6e3f0c" stroke-width="0.45" />
<line x1="279.00" y1="114.30" x2="281.00" y2="114.30" stroke="#8a5010" stroke-width="0.3" />
<circle cx="285.80" cy="113.50" r="2.50" fill="#df8b1c" stroke="#6e3f0c" stroke-width="0.45" />
<line x1="284.80" y1="113.80" x2="286.80" y2="113.80" stroke="#8a5010" stroke-width="0.3" />
<circle cx="285.80" cy="119.20" r="2.50" fill="#df8b1c" stroke="#6e3f0c" stroke-width="0.45" />
<line x1="284.80" y1="119.50" x2="286.80" y2="119.50" stroke="#8a5010" stroke-width="0.3" />
<circle cx="284.60" cy="123.80" r="2.50" fill="#df8b1c" stroke="#6e3f0c" stroke-width="0.45" />
<line x1="283.60" y1="124.10" x2="285.60" y2="124.10" stroke="#8a5010" stroke-width="0.3" />
<circle cx="288.70" cy="124.40" r="2.50" fill="#df8b1c" stroke="#6e3f0c" stroke-width="0.45" />
<line x1="287.70" y1="124.70" x2="289.70" y2="124.70" stroke="#8a5010" stroke-width="0.3" />
<circle cx="284.80" cy="128.50" r="2.50" fill="#df8b1c" stroke="#6e3f0c" stroke-width="0.45" />
<line x1="283.80" y1="128.80" x2="285.80" y2="128.80" stroke="#8a5010" stroke-width="0.3" />
<circle cx="293.30" cy="127.30" r="2.50" fill="#df8b1c" stroke="#6e3f0c" stroke-width="0.45" />
<line x1="292.30" y1="127.60" x2="294.30" y2="127.60" stroke="#8a5010" stroke-width="0.3" />
<circle cx="297.90" cy="129.00" r="2.50" fill="#df8b1c" stroke="#6e3f0c" stroke-width="0.45" />
<line x1="296.90" y1="129.30" x2="298.90" y2="129.30" stroke="#8a5010" stroke-width="0.3" />
<circle cx="282.10" cy="134.00" r="2.50" fill="#df8b1c" stroke="#6e3f0c" stroke-width="0.45" />
<line x1="281.10" y1="134.30" x2="283.10" y2="134.30" stroke="#8a5010" stroke-width="0.3" />
<circle cx="287.50" cy="134.20" r="2.50" fill="#df8b1c" stroke="#6e3f0c" stroke-width="0.45" />
<line x1="286.50" y1="134.50" x2="288.50" y2="134.50" stroke="#8a5010" stroke-width="0.3" />
<circle cx="292.70" cy="131.90" r="2.50" fill="#df8b1c" stroke="#6e3f0c" stroke-width="0.45" />
<line x1="291.70" y1="132.20" x2="293.70" y2="132.20" stroke="#8a5010" stroke-width="0.3" />
<circle cx="297.30" cy="134.20" r="2.50" fill="#df8b1c" stroke="#6e3f0c" stroke-width="0.45" />
<line x1="296.30" y1="134.50" x2="298.30" y2="134.50" stroke="#8a5010" stroke-width="0.3" />
<circle cx="301.90" cy="134.20" r="2.50" fill="#df8b1c" stroke="#6e3f0c" stroke-width="0.45" />
<line x1="300.90" y1="134.50" x2="302.90" y2="134.50" stroke="#8a5010" stroke-width="0.3" />
<circle cx="302.50" cy="137.70" r="2.50" fill="#df8b1c" stroke="#6e3f0c" stroke-width="0.45" />
<line x1="301.50" y1="138.00" x2="303.50" y2="138.00" stroke="#8a5010" stroke-width="0.3" />
<circle cx="293.80" cy="138.30" r="2.50" fill="#df8b1c" stroke="#6e3f0c" stroke-width="0.45" />
<line x1="292.80" y1="138.60" x2="294.80" y2="138.60" stroke="#8a5010" stroke-width="0.3" />
<circle cx="291.00" cy="138.80" r="2.50" fill="#df8b1c" stroke="#6e3f0c" stroke-width="0.45" />
<line x1="290.00" y1="139.10" x2="292.00" y2="139.10" stroke="#8a5010" stroke-width="0.3" />
<circle cx="289.80" cy="141.20" r="2.50" fill="#df8b1c" stroke="#6e3f0c" stroke-width="0.45" />
<line x1="288.80" y1="141.50" x2="290.80" y2="141.50" stroke="#8a5010" stroke-width="0.3" />
<circle cx="291.50" cy="144.60" r="2.50" fill="#df8b1c" stroke="#6e3f0c" stroke-width="0.45" />
<line x1="290.50" y1="144.90" x2="292.50" y2="144.90" stroke="#8a5010" stroke-width="0.3" />
<circle cx="297.30" cy="143.50" r="2.50" fill="#df8b1c" stroke="#6e3f0c" stroke-width="0.45" />
<line x1="296.30" y1="143.80" x2="298.30" y2="143.80" stroke="#8a5010" stroke-width="0.3" />
<circle cx="275.20" cy="139.40" r="2.50" fill="#df8b1c" stroke="#6e3f0c" stroke-width="0.45" />
<line x1="274.20" y1="139.70" x2="276.20" y2="139.70" stroke="#8a5010" stroke-width="0.3" />
<circle cx="282.10" cy="145.80" r="2.50" fill="#df8b1c" stroke="#6e3f0c" stroke-width="0.45" />
<line x1="281.10" y1="146.10" x2="283.10" y2="146.10" stroke="#8a5010" stroke-width="0.3" />
<circle cx="297.90" cy="149.80" r="2.50" fill="#df8b1c" stroke="#6e3f0c" stroke-width="0.45" />
<line x1="296.90" y1="150.10" x2="298.90" y2="150.10" stroke="#8a5010" stroke-width="0.3" />
<circle cx="307.10" cy="152.10" r="2.50" fill="#df8b1c" stroke="#6e3f0c" stroke-width="0.45" />
<line x1="306.10" y1="152.40" x2="308.10" y2="152.40" stroke="#8a5010" stroke-width="0.3" />
<circle cx="292.80" cy="157.00" r="2.50" fill="#df8b1c" stroke="#6e3f0c" stroke-width="0.45" />
<line x1="291.80" y1="157.30" x2="293.80" y2="157.30" stroke="#8a5010" stroke-width="0.3" />
<circle cx="297.70" cy="157.70" r="2.50" fill="#df8b1c" stroke="#6e3f0c" stroke-width="0.45" />
<line x1="296.70" y1="158.00" x2="298.70" y2="158.00" stroke="#8a5010" stroke-width="0.3" />
</g>
<text x="260.70" y="30.40" font-size="6.1" fill="#111" textLength="27.30" lengthAdjust="spacingAndGlyphs" stroke="#111" stroke-width="0.085" dominant-baseline="central">8. Basophils</text>
<text x="265.80" y="44.20" font-size="6.1" fill="#111" textLength="31.50" lengthAdjust="spacingAndGlyphs" stroke="#111" stroke-width="0.085" dominant-baseline="central">2. Monocytes</text>
<text x="233.80" y="51.60" font-size="6.1" fill="#111" textLength="18.70" lengthAdjust="spacingAndGlyphs" stroke="#111" stroke-width="0.085" dominant-baseline="central">14. pDC</text>
<text x="210.20" y="58.50" font-size="6.1" fill="#111" textLength="38.60" lengthAdjust="spacingAndGlyphs" stroke="#111" stroke-width="0.085" dominant-baseline="central">11. Non-classical</text>
<text x="218.30" y="64.60" font-size="6.1" fill="#111" textLength="25.90" lengthAdjust="spacingAndGlyphs" stroke="#111" stroke-width="0.085" dominant-baseline="central">monocytes</text>
<text x="306.00" y="28.10" font-size="6.1" fill="#111" textLength="18.60" lengthAdjust="spacingAndGlyphs" stroke="#111" stroke-width="0.085" dominant-baseline="central">5. Tregs</text>
<text x="330.30" y="27.30" font-size="6.1" fill="#111" textLength="21.50" lengthAdjust="spacingAndGlyphs" stroke="#111" stroke-width="0.085" dominant-baseline="central">7. CD49b</text>
<text x="354.20" y="27.30" font-size="6.1" fill="#111" textLength="15.20" lengthAdjust="spacingAndGlyphs" stroke="#111" stroke-width="0.085" dominant-baseline="central">T cells</text>
<text x="297.70" y="47.40" font-size="6.1" fill="#111" textLength="14.60" lengthAdjust="spacingAndGlyphs" stroke="#111" stroke-width="0.085" dominant-baseline="central">6.DCs</text>
<text x="344.60" y="57.40" font-size="6.1" fill="#111" textLength="30.00" lengthAdjust="spacingAndGlyphs" stroke="#111" stroke-width="0.085" dominant-baseline="central">12. Activated</text>
<text x="353.00" y="63.40" font-size="6.1" fill="#111" textLength="15.00" lengthAdjust="spacingAndGlyphs" stroke="#111" stroke-width="0.085" dominant-baseline="central">T cells</text>
<text x="334.60" y="83.90" font-size="6.1" fill="#111" textLength="32.40" lengthAdjust="spacingAndGlyphs" stroke="#111" stroke-width="0.085" dominant-baseline="central">4. CD4 T cells</text>
<text x="237.30" y="87.70" font-size="6.1" fill="#111" textLength="21.40" lengthAdjust="spacingAndGlyphs" stroke="#111" stroke-width="0.085" dominant-baseline="central">1. HSPCs</text>
<text x="240.20" y="93.50" font-size="6.1" fill="#111" textLength="15.60" lengthAdjust="spacingAndGlyphs" stroke="#111" stroke-width="0.085" dominant-baseline="central">3. LDG</text>
<text x="215.40" y="115.00" font-size="6.1" fill="#111" textLength="36.10" lengthAdjust="spacingAndGlyphs" stroke="#111" stroke-width="0.085" dominant-baseline="central">9. Th2/Tc2 cells</text>
<text x="212.30" y="147.40" font-size="6.1" fill="#111" textLength="32.30" lengthAdjust="spacingAndGlyphs" stroke="#111" stroke-width="0.085" dominant-baseline="central">13. MAIT cells</text>
<text x="252.30" y="154.20" font-size="6.1" fill="#111" textLength="18.50" lengthAdjust="spacingAndGlyphs" stroke="#111" stroke-width="0.085" dominant-baseline="central">10. CD8</text>
<text x="260.80" y="159.90" font-size="6.1" fill="#111" textLength="13.80" lengthAdjust="spacingAndGlyphs" stroke="#111" stroke-width="0.085" dominant-baseline="central">T cells</text>
<text x="319.20" y="126.40" font-size="6.1" fill="#111" textLength="22.30" lengthAdjust="spacingAndGlyphs" stroke="#111" stroke-width="0.085" dominant-baseline="central">15. B cells</text>
<text x="310.30" y="136.90" font-size="6.1" fill="#111" textLength="27.40" lengthAdjust="spacingAndGlyphs" stroke="#111" stroke-width="0.085" dominant-baseline="central">16. NK cells</text>
<text x="314.60" y="148.90" font-size="6.1" fill="#111" textLength="29.20" lengthAdjust="spacingAndGlyphs" stroke="#111" stroke-width="0.085" dominant-baseline="central">18. γδ T cells</text>
<text x="303.80" y="162.70" font-size="6.1" fill="#111" textLength="22.50" lengthAdjust="spacingAndGlyphs" stroke="#111" stroke-width="0.085" dominant-baseline="central">20. CD117</text>
<text x="328.00" y="162.70" font-size="6.1" fill="#111" textLength="10.50" lengthAdjust="spacingAndGlyphs" stroke="#111" stroke-width="0.085" dominant-baseline="central">ILCs</text>
<text x="351.90" y="25.20" font-size="3" fill="#231f20" dominant-baseline="central">+</text>
<text x="326.40" y="160.60" font-size="3" fill="#231f20" dominant-baseline="central">+</text>
<text x="340.80" y="88.90" font-size="3.6" fill="#333" textLength="21.50" lengthAdjust="spacingAndGlyphs" dominant-baseline="central">(non Tregs)</text>
<text x="220.00" y="152.70" font-size="3.6" fill="#333" textLength="21.00" lengthAdjust="spacingAndGlyphs" dominant-baseline="central">(and Vα7.2</text>
<text x="241.00" y="151.20" font-size="2.4" fill="#333" dominant-baseline="central">+</text>
<text x="242.50" y="152.70" font-size="3.6" fill="#333" dominant-baseline="central">)</text>
<g stroke="#555" stroke-width="0.35" fill="none"><path d="M260,86.5 L272,97"/><path d="M257,94 L270,101"/></g>
<ellipse cx="447.3" cy="100.15" rx="20.9" ry="36.5" transform="rotate(14.9 447.3 100.15)" fill="#d6eae6" stroke="none" stroke-width="0" />
<ellipse cx="451.55" cy="104.85" rx="15.5" ry="28.8" transform="rotate(23.9 451.55 104.85)" fill="#e6dcd8" stroke="none" stroke-width="0" opacity="0.9"/>
<ellipse cx="477.3" cy="118.45" rx="8.94" ry="18.6" transform="rotate(15.9 477.3 118.45)" fill="#e4e4e4" stroke="none" stroke-width="0" />
<line x1="452.80" y1="35.50" x2="452.80" y2="148.40" stroke="#333" stroke-width="1.6" stroke-dasharray="1.2 1.7"/>
<line x1="404.00" y1="103.50" x2="512.80" y2="103.50" stroke="#333" stroke-width="1.4" stroke-dasharray="1.2 1.7"/>
<ellipse cx="447.3" cy="100.15" rx="20.9" ry="36.5" transform="rotate(14.9 447.3 100.15)" fill="none" stroke="#2db34a" stroke-width="0.75" />
<ellipse cx="446" cy="97.3" rx="18.8" ry="34.1" transform="rotate(16.6 446 97.3)" fill="none" stroke="#2f6db0" stroke-width="0.75" />
<ellipse cx="451.55" cy="104.85" rx="15.5" ry="28.8" transform="rotate(23.9 451.55 104.85)" fill="none" stroke="#d3153a" stroke-width="0.75" />
<ellipse cx="477.3" cy="118.45" rx="8.94" ry="18.6" transform="rotate(15.9 477.3 118.45)" fill="none" stroke="#222" stroke-width="0.75" />
<line x1="403.80" y1="36.20" x2="403.80" y2="148.90" stroke="#111" stroke-width="1.2" />
<line x1="403.20" y1="148.40" x2="512.80" y2="148.40" stroke="#111" stroke-width="1.2" />
<line x1="401.50" y1="38.90" x2="403.80" y2="38.90" stroke="#111" stroke-width="0.7" />
<text x="400.00" y="39.30" font-size="6.6" fill="#222" text-anchor="end" stroke="#222" stroke-width="0.092" dominant-baseline="central">10</text>
<line x1="401.50" y1="71.20" x2="403.80" y2="71.20" stroke="#111" stroke-width="0.7" />
<text x="400.00" y="71.60" font-size="6.6" fill="#222" text-anchor="end" stroke="#222" stroke-width="0.092" dominant-baseline="central">5</text>
<line x1="401.50" y1="103.50" x2="403.80" y2="103.50" stroke="#111" stroke-width="0.7" />
<text x="400.00" y="103.90" font-size="6.6" fill="#222" text-anchor="end" stroke="#222" stroke-width="0.092" dominant-baseline="central">0</text>
<line x1="401.50" y1="135.80" x2="403.80" y2="135.80" stroke="#111" stroke-width="0.7" />
<text x="400.00" y="136.20" font-size="6.6" fill="#222" text-anchor="end" stroke="#222" stroke-width="0.092" dominant-baseline="central">−5</text>
<line x1="402.60" y1="161.64" x2="403.80" y2="161.64" stroke="#111" stroke-width="0.4" />
<line x1="402.60" y1="155.18" x2="403.80" y2="155.18" stroke="#111" stroke-width="0.4" />
<line x1="402.60" y1="148.72" x2="403.80" y2="148.72" stroke="#111" stroke-width="0.4" />
<line x1="402.60" y1="142.26" x2="403.80" y2="142.26" stroke="#111" stroke-width="0.4" />
<line x1="402.60" y1="129.34" x2="403.80" y2="129.34" stroke="#111" stroke-width="0.4" />
<line x1="402.60" y1="122.88" x2="403.80" y2="122.88" stroke="#111" stroke-width="0.4" />
<line x1="402.60" y1="116.42" x2="403.80" y2="116.42" stroke="#111" stroke-width="0.4" />
<line x1="402.60" y1="109.96" x2="403.80" y2="109.96" stroke="#111" stroke-width="0.4" />
<line x1="402.60" y1="97.04" x2="403.80" y2="97.04" stroke="#111" stroke-width="0.4" />
<line x1="402.60" y1="90.58" x2="403.80" y2="90.58" stroke="#111" stroke-width="0.4" />
<line x1="402.60" y1="84.12" x2="403.80" y2="84.12" stroke="#111" stroke-width="0.4" />
<line x1="402.60" y1="77.66" x2="403.80" y2="77.66" stroke="#111" stroke-width="0.4" />
<line x1="402.60" y1="64.74" x2="403.80" y2="64.74" stroke="#111" stroke-width="0.4" />
<line x1="402.60" y1="58.28" x2="403.80" y2="58.28" stroke="#111" stroke-width="0.4" />
<line x1="402.60" y1="51.82" x2="403.80" y2="51.82" stroke="#111" stroke-width="0.4" />
<line x1="402.60" y1="45.36" x2="403.80" y2="45.36" stroke="#111" stroke-width="0.4" />
<line x1="402.40" y1="148.40" x2="402.40" y2="150.60" stroke="#111" stroke-width="0.7" />
<text x="402.40" y="156.70" font-size="6.6" fill="#222" text-anchor="middle" stroke="#222" stroke-width="0.092" dominant-baseline="central">−10</text>
<line x1="427.60" y1="148.40" x2="427.60" y2="150.60" stroke="#111" stroke-width="0.7" />
<text x="427.60" y="156.70" font-size="6.6" fill="#222" text-anchor="middle" stroke="#222" stroke-width="0.092" dominant-baseline="central">−5</text>
<line x1="452.80" y1="148.40" x2="452.80" y2="150.60" stroke="#111" stroke-width="0.7" />
<text x="452.80" y="156.70" font-size="6.6" fill="#222" text-anchor="middle" stroke="#222" stroke-width="0.092" dominant-baseline="central">0</text>
<line x1="478.00" y1="148.40" x2="478.00" y2="150.60" stroke="#111" stroke-width="0.7" />
<text x="478.00" y="156.70" font-size="6.6" fill="#222" text-anchor="middle" stroke="#222" stroke-width="0.092" dominant-baseline="central">5</text>
<line x1="503.20" y1="148.40" x2="503.20" y2="150.60" stroke="#111" stroke-width="0.7" />
<text x="503.20" y="156.70" font-size="6.6" fill="#222" text-anchor="middle" stroke="#222" stroke-width="0.092" dominant-baseline="central">10</text>
<line x1="407.44" y1="148.40" x2="407.44" y2="149.60" stroke="#111" stroke-width="0.4" />
<line x1="412.48" y1="148.40" x2="412.48" y2="149.60" stroke="#111" stroke-width="0.4" />
<line x1="417.52" y1="148.40" x2="417.52" y2="149.60" stroke="#111" stroke-width="0.4" />
<line x1="422.56" y1="148.40" x2="422.56" y2="149.60" stroke="#111" stroke-width="0.4" />
<line x1="432.64" y1="148.40" x2="432.64" y2="149.60" stroke="#111" stroke-width="0.4" />
<line x1="437.68" y1="148.40" x2="437.68" y2="149.60" stroke="#111" stroke-width="0.4" />
<line x1="442.72" y1="148.40" x2="442.72" y2="149.60" stroke="#111" stroke-width="0.4" />
<line x1="447.76" y1="148.40" x2="447.76" y2="149.60" stroke="#111" stroke-width="0.4" />
<line x1="457.84" y1="148.40" x2="457.84" y2="149.60" stroke="#111" stroke-width="0.4" />
<line x1="462.88" y1="148.40" x2="462.88" y2="149.60" stroke="#111" stroke-width="0.4" />
<line x1="467.92" y1="148.40" x2="467.92" y2="149.60" stroke="#111" stroke-width="0.4" />
<line x1="472.96" y1="148.40" x2="472.96" y2="149.60" stroke="#111" stroke-width="0.4" />
<line x1="483.04" y1="148.40" x2="483.04" y2="149.60" stroke="#111" stroke-width="0.4" />
<line x1="488.08" y1="148.40" x2="488.08" y2="149.60" stroke="#111" stroke-width="0.4" />
<line x1="493.12" y1="148.40" x2="493.12" y2="149.60" stroke="#111" stroke-width="0.4" />
<line x1="498.16" y1="148.40" x2="498.16" y2="149.60" stroke="#111" stroke-width="0.4" />
<line x1="508.24" y1="148.40" x2="508.24" y2="149.60" stroke="#111" stroke-width="0.4" />
<text x="458.00" y="168.40" font-size="7" fill="#222" text-anchor="middle" textLength="42.00" lengthAdjust="spacingAndGlyphs" stroke="#222" stroke-width="0.098" dominant-baseline="central">Dim1 (11.3%)</text>
<text x="385.80" y="88.40" font-size="7" fill="#222" text-anchor="middle" textLength="47.00" lengthAdjust="spacingAndGlyphs" transform="rotate(-90 385.80 88.40)" stroke="#222" stroke-width="0.098" dominant-baseline="central">Dim2 (10.6%)</text>
<text x="493.40" y="39.10" font-size="5.3" fill="#222" textLength="17.80" lengthAdjust="spacingAndGlyphs" stroke="#222" stroke-width="0.074" dominant-baseline="central">Groups</text>
<rect x="494.00" y="45.00" width="5.20" height="5.20" fill="#fff" stroke="#2db34a" stroke-width="0.7" />
<circle cx="496.60" cy="47.60" r="0.80" fill="#2db34a" stroke="none" stroke-width="0" />
<text x="500.80" y="48.00" font-size="5.6" fill="#222" stroke="#222" stroke-width="0.078" dominant-baseline="central">M3</text>
<rect x="494.00" y="53.00" width="5.20" height="5.20" fill="#fff" stroke="#2f6db0" stroke-width="0.7" />
<circle cx="496.60" cy="55.60" r="0.80" fill="#2f6db0" stroke="none" stroke-width="0" />
<text x="500.80" y="56.00" font-size="5.6" fill="#222" stroke="#222" stroke-width="0.078" dominant-baseline="central">M6</text>
<rect x="494.00" y="61.00" width="5.20" height="5.20" fill="#fff" stroke="#d3153a" stroke-width="0.7" />
<circle cx="496.60" cy="63.60" r="0.80" fill="#d3153a" stroke="none" stroke-width="0" />
<text x="500.80" y="64.00" font-size="5.6" fill="#222" stroke="#222" stroke-width="0.078" dominant-baseline="central">M12</text>
<rect x="494.00" y="69.00" width="5.20" height="5.20" fill="#fff" stroke="#222" stroke-width="0.7" />
<circle cx="496.60" cy="71.60" r="0.80" fill="#222" stroke="none" stroke-width="0" />
<text x="500.80" y="72.00" font-size="5.6" fill="#222" stroke="#222" stroke-width="0.078" dominant-baseline="central">HD</text>
<circle cx="430.19" cy="103.75" r="0.75" fill="#2db34a" stroke="none" stroke-width="0" />
<text x="430.19" y="106.35" font-size="2.0" fill="#2db34a" text-anchor="middle" textLength="4.20" lengthAdjust="spacingAndGlyphs" style="opacity:0.8" dominant-baseline="central">P6</text>
<circle cx="460.55" cy="92.56" r="0.75" fill="#2db34a" stroke="none" stroke-width="0" />
<text x="460.55" y="95.16" font-size="2.0" fill="#2db34a" text-anchor="middle" textLength="4.20" lengthAdjust="spacingAndGlyphs" style="opacity:0.8" dominant-baseline="central">P20</text>
<circle cx="431.55" cy="94.76" r="0.75" fill="#2db34a" stroke="none" stroke-width="0" />
<text x="431.55" y="97.36" font-size="2.0" fill="#2db34a" text-anchor="middle" textLength="4.20" lengthAdjust="spacingAndGlyphs" style="opacity:0.8" dominant-baseline="central">P22</text>
<circle cx="445.57" cy="123.66" r="0.75" fill="#2db34a" stroke="none" stroke-width="0" />
<text x="445.57" y="126.26" font-size="2.0" fill="#2db34a" text-anchor="middle" textLength="4.20" lengthAdjust="spacingAndGlyphs" style="opacity:0.8" dominant-baseline="central">P1</text>
<circle cx="440.09" cy="74.91" r="0.75" fill="#2db34a" stroke="none" stroke-width="0" />
<text x="440.09" y="77.51" font-size="2.0" fill="#2db34a" text-anchor="middle" textLength="4.20" lengthAdjust="spacingAndGlyphs" style="opacity:0.8" dominant-baseline="central">P27</text>
<circle cx="452.05" cy="112.75" r="0.75" fill="#2db34a" stroke="none" stroke-width="0" />
<text x="452.05" y="115.35" font-size="2.0" fill="#2db34a" text-anchor="middle" textLength="4.20" lengthAdjust="spacingAndGlyphs" style="opacity:0.8" dominant-baseline="central">P8</text>
<circle cx="456.24" cy="120.33" r="0.75" fill="#2db34a" stroke="none" stroke-width="0" />
<text x="456.24" y="122.93" font-size="2.0" fill="#2db34a" text-anchor="middle" textLength="4.20" lengthAdjust="spacingAndGlyphs" style="opacity:0.8" dominant-baseline="central">P9</text>
<circle cx="446.36" cy="93.15" r="0.75" fill="#2db34a" stroke="none" stroke-width="0" />
<text x="446.36" y="95.75" font-size="2.0" fill="#2db34a" text-anchor="middle" textLength="4.20" lengthAdjust="spacingAndGlyphs" style="opacity:0.8" dominant-baseline="central">P16</text>
<circle cx="465.85" cy="101.35" r="0.75" fill="#2db34a" stroke="none" stroke-width="0" />
<text x="465.85" y="103.95" font-size="2.0" fill="#2db34a" text-anchor="middle" textLength="4.20" lengthAdjust="spacingAndGlyphs" style="opacity:0.8" dominant-baseline="central">P7</text>
<circle cx="443.25" cy="75.86" r="0.75" fill="#2db34a" stroke="none" stroke-width="0" />
<text x="443.25" y="78.46" font-size="2.0" fill="#2db34a" text-anchor="middle" textLength="4.20" lengthAdjust="spacingAndGlyphs" style="opacity:0.8" dominant-baseline="central">P1</text>
<circle cx="446.37" cy="103.81" r="0.75" fill="#2db34a" stroke="none" stroke-width="0" />
<text x="446.37" y="106.41" font-size="2.0" fill="#2db34a" text-anchor="middle" textLength="4.20" lengthAdjust="spacingAndGlyphs" style="opacity:0.8" dominant-baseline="central">P4</text>
<circle cx="441.75" cy="97.29" r="0.75" fill="#2db34a" stroke="none" stroke-width="0" />
<text x="441.75" y="99.89" font-size="2.0" fill="#2db34a" text-anchor="middle" textLength="4.20" lengthAdjust="spacingAndGlyphs" style="opacity:0.8" dominant-baseline="central">P30</text>
<circle cx="445.34" cy="116.40" r="0.75" fill="#2db34a" stroke="none" stroke-width="0" />
<text x="445.34" y="119.00" font-size="2.0" fill="#2db34a" text-anchor="middle" textLength="4.20" lengthAdjust="spacingAndGlyphs" style="opacity:0.8" dominant-baseline="central">P32</text>
<circle cx="457.76" cy="107.79" r="0.75" fill="#2db34a" stroke="none" stroke-width="0" />
<text x="457.76" y="110.39" font-size="2.0" fill="#2db34a" text-anchor="middle" textLength="4.20" lengthAdjust="spacingAndGlyphs" style="opacity:0.8" dominant-baseline="central">P12</text>
<circle cx="426.46" cy="106.90" r="0.75" fill="#2db34a" stroke="none" stroke-width="0" />
<text x="426.46" y="109.50" font-size="2.0" fill="#2db34a" text-anchor="middle" textLength="4.20" lengthAdjust="spacingAndGlyphs" style="opacity:0.8" dominant-baseline="central">P36</text>
<circle cx="431.52" cy="92.65" r="0.75" fill="#2db34a" stroke="none" stroke-width="0" />
<text x="431.52" y="95.25" font-size="2.0" fill="#2db34a" text-anchor="middle" textLength="4.20" lengthAdjust="spacingAndGlyphs" style="opacity:0.8" dominant-baseline="central">P13</text>
<circle cx="430.27" cy="95.83" r="0.75" fill="#2db34a" stroke="none" stroke-width="0" />
<text x="430.27" y="98.43" font-size="2.0" fill="#2db34a" text-anchor="middle" textLength="4.20" lengthAdjust="spacingAndGlyphs" style="opacity:0.8" dominant-baseline="central">P29</text>
<circle cx="434.91" cy="102.09" r="0.75" fill="#2db34a" stroke="none" stroke-width="0" />
<text x="434.91" y="104.69" font-size="2.0" fill="#2db34a" text-anchor="middle" textLength="4.20" lengthAdjust="spacingAndGlyphs" style="opacity:0.8" dominant-baseline="central">P33</text>
<circle cx="465.41" cy="104.67" r="0.75" fill="#2db34a" stroke="none" stroke-width="0" />
<text x="465.41" y="107.27" font-size="2.0" fill="#2db34a" text-anchor="middle" textLength="4.20" lengthAdjust="spacingAndGlyphs" style="opacity:0.8" dominant-baseline="central">P13</text>
<circle cx="461.16" cy="78.34" r="0.75" fill="#2db34a" stroke="none" stroke-width="0" />
<text x="461.16" y="80.94" font-size="2.0" fill="#2db34a" text-anchor="middle" textLength="4.20" lengthAdjust="spacingAndGlyphs" style="opacity:0.8" dominant-baseline="central">P9</text>
<circle cx="438.33" cy="113.87" r="0.75" fill="#2db34a" stroke="none" stroke-width="0" />
<text x="438.33" y="116.47" font-size="2.0" fill="#2db34a" text-anchor="middle" textLength="4.20" lengthAdjust="spacingAndGlyphs" style="opacity:0.8" dominant-baseline="central">P27</text>
<circle cx="442.43" cy="108.36" r="0.75" fill="#2db34a" stroke="none" stroke-width="0" />
<text x="442.43" y="110.96" font-size="2.0" fill="#2db34a" text-anchor="middle" textLength="4.20" lengthAdjust="spacingAndGlyphs" style="opacity:0.8" dominant-baseline="central">P25</text>
<circle cx="452.95" cy="79.05" r="0.75" fill="#2db34a" stroke="none" stroke-width="0" />
<text x="452.95" y="81.65" font-size="2.0" fill="#2db34a" text-anchor="middle" textLength="4.20" lengthAdjust="spacingAndGlyphs" style="opacity:0.8" dominant-baseline="central">P8</text>
<circle cx="457.48" cy="84.57" r="0.75" fill="#2db34a" stroke="none" stroke-width="0" />
<text x="457.48" y="87.17" font-size="2.0" fill="#2db34a" text-anchor="middle" textLength="4.20" lengthAdjust="spacingAndGlyphs" style="opacity:0.8" dominant-baseline="central">P26</text>
<circle cx="465.34" cy="96.49" r="0.75" fill="#2db34a" stroke="none" stroke-width="0" />
<text x="465.34" y="99.09" font-size="2.0" fill="#2db34a" text-anchor="middle" textLength="4.20" lengthAdjust="spacingAndGlyphs" style="opacity:0.8" dominant-baseline="central">P27</text>
<circle cx="454.83" cy="102.42" r="0.75" fill="#2db34a" stroke="none" stroke-width="0" />
<text x="454.83" y="105.02" font-size="2.0" fill="#2db34a" text-anchor="middle" textLength="4.20" lengthAdjust="spacingAndGlyphs" style="opacity:0.8" dominant-baseline="central">P14</text>
<circle cx="460.51" cy="90.61" r="0.75" fill="#2db34a" stroke="none" stroke-width="0" />
<text x="460.51" y="93.21" font-size="2.0" fill="#2db34a" text-anchor="middle" textLength="4.20" lengthAdjust="spacingAndGlyphs" style="opacity:0.8" dominant-baseline="central">P1</text>
<circle cx="458.79" cy="100.61" r="0.75" fill="#2db34a" stroke="none" stroke-width="0" />
<text x="458.79" y="103.21" font-size="2.0" fill="#2db34a" text-anchor="middle" textLength="4.20" lengthAdjust="spacingAndGlyphs" style="opacity:0.8" dominant-baseline="central">P18</text>
<circle cx="456.56" cy="115.56" r="0.75" fill="#2db34a" stroke="none" stroke-width="0" />
<text x="456.56" y="118.16" font-size="2.0" fill="#2db34a" text-anchor="middle" textLength="4.20" lengthAdjust="spacingAndGlyphs" style="opacity:0.8" dominant-baseline="central">P20</text>
<circle cx="452.42" cy="83.20" r="0.75" fill="#2db34a" stroke="none" stroke-width="0" />
<text x="452.42" y="85.80" font-size="2.0" fill="#2db34a" text-anchor="middle" textLength="4.20" lengthAdjust="spacingAndGlyphs" style="opacity:0.8" dominant-baseline="central">P2</text>
<path d="M443.12,115.78 L444.32,117.88 L441.92,117.88 Z" fill="#2f6db0"/>
<text x="443.12" y="119.68" font-size="2.0" fill="#2f6db0" text-anchor="middle" textLength="4.20" lengthAdjust="spacingAndGlyphs" style="opacity:0.8" dominant-baseline="central">P37</text>
<path d="M460.23,77.98 L461.43,80.08 L459.03,80.08 Z" fill="#2f6db0"/>
<text x="460.23" y="81.88" font-size="2.0" fill="#2f6db0" text-anchor="middle" textLength="4.20" lengthAdjust="spacingAndGlyphs" style="opacity:0.8" dominant-baseline="central">P9</text>
<path d="M454.57,118.29 L455.77,120.39 L453.37,120.39 Z" fill="#2f6db0"/>
<text x="454.57" y="122.19" font-size="2.0" fill="#2f6db0" text-anchor="middle" textLength="4.20" lengthAdjust="spacingAndGlyphs" style="opacity:0.8" dominant-baseline="central">P6</text>
<path d="M443.51,111.97 L444.71,114.07 L442.31,114.07 Z" fill="#2f6db0"/>
<text x="443.51" y="115.87" font-size="2.0" fill="#2f6db0" text-anchor="middle" textLength="4.20" lengthAdjust="spacingAndGlyphs" style="opacity:0.8" dominant-baseline="central">P24</text>
<path d="M452.57,78.10 L453.77,80.20 L451.37,80.20 Z" fill="#2f6db0"/>
<text x="452.57" y="82.00" font-size="2.0" fill="#2f6db0" text-anchor="middle" textLength="4.20" lengthAdjust="spacingAndGlyphs" style="opacity:0.8" dominant-baseline="central">P9</text>
<path d="M442.29,103.55 L443.49,105.65 L441.09,105.65 Z" fill="#2f6db0"/>
<text x="442.29" y="107.45" font-size="2.0" fill="#2f6db0" text-anchor="middle" textLength="4.20" lengthAdjust="spacingAndGlyphs" style="opacity:0.8" dominant-baseline="central">P29</text>
<path d="M453.42,111.89 L454.62,113.99 L452.22,113.99 Z" fill="#2f6db0"/>
<text x="453.42" y="115.79" font-size="2.0" fill="#2f6db0" text-anchor="middle" textLength="4.20" lengthAdjust="spacingAndGlyphs" style="opacity:0.8" dominant-baseline="central">P22</text>
<path d="M439.54,120.44 L440.74,122.54 L438.34,122.54 Z" fill="#2f6db0"/>
<text x="439.54" y="124.34" font-size="2.0" fill="#2f6db0" text-anchor="middle" textLength="4.20" lengthAdjust="spacingAndGlyphs" style="opacity:0.8" dominant-baseline="central">P34</text>
<path d="M433.52,108.80 L434.72,110.90 L432.32,110.90 Z" fill="#2f6db0"/>
<text x="433.52" y="112.70" font-size="2.0" fill="#2f6db0" text-anchor="middle" textLength="4.20" lengthAdjust="spacingAndGlyphs" style="opacity:0.8" dominant-baseline="central">P9</text>
<path d="M459.25,93.43 L460.45,95.53 L458.05,95.53 Z" fill="#2f6db0"/>
<text x="459.25" y="97.33" font-size="2.0" fill="#2f6db0" text-anchor="middle" textLength="4.20" lengthAdjust="spacingAndGlyphs" style="opacity:0.8" dominant-baseline="central">P3</text>
<path d="M435.45,78.24 L436.65,80.34 L434.25,80.34 Z" fill="#2f6db0"/>
<text x="435.45" y="82.14" font-size="2.0" fill="#2f6db0" text-anchor="middle" textLength="4.20" lengthAdjust="spacingAndGlyphs" style="opacity:0.8" dominant-baseline="central">P2</text>
<path d="M445.52,107.86 L446.72,109.96 L444.32,109.96 Z" fill="#2f6db0"/>
<text x="445.52" y="111.76" font-size="2.0" fill="#2f6db0" text-anchor="middle" textLength="4.20" lengthAdjust="spacingAndGlyphs" style="opacity:0.8" dominant-baseline="central">P31</text>
<path d="M463.60,83.85 L464.80,85.95 L462.40,85.95 Z" fill="#2f6db0"/>
<text x="463.60" y="87.75" font-size="2.0" fill="#2f6db0" text-anchor="middle" textLength="4.20" lengthAdjust="spacingAndGlyphs" style="opacity:0.8" dominant-baseline="central">P23</text>
<path d="M442.06,109.53 L443.26,111.63 L440.86,111.63 Z" fill="#2f6db0"/>
<text x="442.06" y="113.43" font-size="2.0" fill="#2f6db0" text-anchor="middle" textLength="4.20" lengthAdjust="spacingAndGlyphs" style="opacity:0.8" dominant-baseline="central">P20</text>
<path d="M453.69,64.69 L454.89,66.79 L452.49,66.79 Z" fill="#2f6db0"/>
<text x="453.69" y="68.59" font-size="2.0" fill="#2f6db0" text-anchor="middle" textLength="4.20" lengthAdjust="spacingAndGlyphs" style="opacity:0.8" dominant-baseline="central">P3</text>
<path d="M443.18,126.49 L444.38,128.59 L441.98,128.59 Z" fill="#2f6db0"/>
<text x="443.18" y="130.39" font-size="2.0" fill="#2f6db0" text-anchor="middle" textLength="4.20" lengthAdjust="spacingAndGlyphs" style="opacity:0.8" dominant-baseline="central">P2</text>
<path d="M460.69,81.92 L461.89,84.02 L459.49,84.02 Z" fill="#2f6db0"/>
<text x="460.69" y="85.82" font-size="2.0" fill="#2f6db0" text-anchor="middle" textLength="4.20" lengthAdjust="spacingAndGlyphs" style="opacity:0.8" dominant-baseline="central">P5</text>
<path d="M439.70,99.13 L440.90,101.23 L438.50,101.23 Z" fill="#2f6db0"/>
<text x="439.70" y="103.03" font-size="2.0" fill="#2f6db0" text-anchor="middle" textLength="4.20" lengthAdjust="spacingAndGlyphs" style="opacity:0.8" dominant-baseline="central">P31</text>
<path d="M460.33,107.92 L461.53,110.02 L459.13,110.02 Z" fill="#2f6db0"/>
<text x="460.33" y="111.82" font-size="2.0" fill="#2f6db0" text-anchor="middle" textLength="4.20" lengthAdjust="spacingAndGlyphs" style="opacity:0.8" dominant-baseline="central">P5</text>
<path d="M439.44,122.56 L440.64,124.66 L438.24,124.66 Z" fill="#2f6db0"/>
<text x="439.44" y="126.46" font-size="2.0" fill="#2f6db0" text-anchor="middle" textLength="4.20" lengthAdjust="spacingAndGlyphs" style="opacity:0.8" dominant-baseline="central">P20</text>
<path d="M437.06,124.27 L438.26,126.37 L435.86,126.37 Z" fill="#2f6db0"/>
<text x="437.06" y="128.17" font-size="2.0" fill="#2f6db0" text-anchor="middle" textLength="4.20" lengthAdjust="spacingAndGlyphs" style="opacity:0.8" dominant-baseline="central">P21</text>
<path d="M441.10,83.70 L442.30,85.80 L439.90,85.80 Z" fill="#2f6db0"/>
<text x="441.10" y="87.60" font-size="2.0" fill="#2f6db0" text-anchor="middle" textLength="4.20" lengthAdjust="spacingAndGlyphs" style="opacity:0.8" dominant-baseline="central">P9</text>
<path d="M445.74,121.62 L446.94,123.72 L444.54,123.72 Z" fill="#2f6db0"/>
<text x="445.74" y="125.52" font-size="2.0" fill="#2f6db0" text-anchor="middle" textLength="4.20" lengthAdjust="spacingAndGlyphs" style="opacity:0.8" dominant-baseline="central">P5</text>
<path d="M451.69,104.20 L452.89,106.30 L450.49,106.30 Z" fill="#2f6db0"/>
<text x="451.69" y="108.10" font-size="2.0" fill="#2f6db0" text-anchor="middle" textLength="4.20" lengthAdjust="spacingAndGlyphs" style="opacity:0.8" dominant-baseline="central">P5</text>
<path d="M434.18,80.76 L435.38,82.86 L432.98,82.86 Z" fill="#2f6db0"/>
<text x="434.18" y="84.66" font-size="2.0" fill="#2f6db0" text-anchor="middle" textLength="4.20" lengthAdjust="spacingAndGlyphs" style="opacity:0.8" dominant-baseline="central">P29</text>
<path d="M442.27,82.67 L443.47,84.77 L441.07,84.77 Z" fill="#2f6db0"/>
<text x="442.27" y="86.57" font-size="2.0" fill="#2f6db0" text-anchor="middle" textLength="4.20" lengthAdjust="spacingAndGlyphs" style="opacity:0.8" dominant-baseline="central">P35</text>
<path d="M454.82,90.54 L456.02,92.64 L453.62,92.64 Z" fill="#2f6db0"/>
<text x="454.82" y="94.44" font-size="2.0" fill="#2f6db0" text-anchor="middle" textLength="4.20" lengthAdjust="spacingAndGlyphs" style="opacity:0.8" dominant-baseline="central">P24</text>
<path d="M454.44,99.97 L455.64,102.07 L453.24,102.07 Z" fill="#2f6db0"/>
<text x="454.44" y="103.87" font-size="2.0" fill="#2f6db0" text-anchor="middle" textLength="4.20" lengthAdjust="spacingAndGlyphs" style="opacity:0.8" dominant-baseline="central">P3</text>
<path d="M441.24,97.16 L442.44,99.26 L440.04,99.26 Z" fill="#2f6db0"/>
<text x="441.24" y="101.06" font-size="2.0" fill="#2f6db0" text-anchor="middle" textLength="4.20" lengthAdjust="spacingAndGlyphs" style="opacity:0.8" dominant-baseline="central">P9</text>
<path d="M445.76,114.28 L446.96,116.38 L444.56,116.38 Z" fill="#2f6db0"/>
<text x="445.76" y="118.18" font-size="2.0" fill="#2f6db0" text-anchor="middle" textLength="4.20" lengthAdjust="spacingAndGlyphs" style="opacity:0.8" dominant-baseline="central">P22</text>
<rect x="436.47" y="118.27" width="1.40" height="1.40" fill="#d3153a" stroke="none" stroke-width="0" />
<text x="437.17" y="121.57" font-size="2.0" fill="#d3153a" text-anchor="middle" textLength="4.20" lengthAdjust="spacingAndGlyphs" style="opacity:0.8" dominant-baseline="central">P5</text>
<rect x="467.39" y="94.99" width="1.40" height="1.40" fill="#d3153a" stroke="none" stroke-width="0" />
<text x="468.09" y="98.29" font-size="2.0" fill="#d3153a" text-anchor="middle" textLength="4.20" lengthAdjust="spacingAndGlyphs" style="opacity:0.8" dominant-baseline="central">P18</text>
<rect x="435.19" y="110.91" width="1.40" height="1.40" fill="#d3153a" stroke="none" stroke-width="0" />
<text x="435.89" y="114.21" font-size="2.0" fill="#d3153a" text-anchor="middle" textLength="4.20" lengthAdjust="spacingAndGlyphs" style="opacity:0.8" dominant-baseline="central">P11</text>
<rect x="464.10" y="92.68" width="1.40" height="1.40" fill="#d3153a" stroke="none" stroke-width="0" />
<text x="464.80" y="95.98" font-size="2.0" fill="#d3153a" text-anchor="middle" textLength="4.20" lengthAdjust="spacingAndGlyphs" style="opacity:0.8" dominant-baseline="central">P8</text>
<rect x="449.79" y="90.45" width="1.40" height="1.40" fill="#d3153a" stroke="none" stroke-width="0" />
<text x="450.49" y="93.75" font-size="2.0" fill="#d3153a" text-anchor="middle" textLength="4.20" lengthAdjust="spacingAndGlyphs" style="opacity:0.8" dominant-baseline="central">P29</text>
<rect x="445.93" y="90.26" width="1.40" height="1.40" fill="#d3153a" stroke="none" stroke-width="0" />
<text x="446.63" y="93.56" font-size="2.0" fill="#d3153a" text-anchor="middle" textLength="4.20" lengthAdjust="spacingAndGlyphs" style="opacity:0.8" dominant-baseline="central">P31</text>
<rect x="456.00" y="118.45" width="1.40" height="1.40" fill="#d3153a" stroke="none" stroke-width="0" />
<text x="456.70" y="121.75" font-size="2.0" fill="#d3153a" text-anchor="middle" textLength="4.20" lengthAdjust="spacingAndGlyphs" style="opacity:0.8" dominant-baseline="central">P18</text>
<rect x="464.09" y="109.01" width="1.40" height="1.40" fill="#d3153a" stroke="none" stroke-width="0" />
<text x="464.79" y="112.31" font-size="2.0" fill="#d3153a" text-anchor="middle" textLength="4.20" lengthAdjust="spacingAndGlyphs" style="opacity:0.8" dominant-baseline="central">P14</text>
<rect x="456.67" y="87.99" width="1.40" height="1.40" fill="#d3153a" stroke="none" stroke-width="0" />
<text x="457.37" y="91.29" font-size="2.0" fill="#d3153a" text-anchor="middle" textLength="4.20" lengthAdjust="spacingAndGlyphs" style="opacity:0.8" dominant-baseline="central">P27</text>
<rect x="458.46" y="84.45" width="1.40" height="1.40" fill="#d3153a" stroke="none" stroke-width="0" />
<text x="459.16" y="87.75" font-size="2.0" fill="#d3153a" text-anchor="middle" textLength="4.20" lengthAdjust="spacingAndGlyphs" style="opacity:0.8" dominant-baseline="central">P25</text>
<rect x="435.31" y="107.65" width="1.40" height="1.40" fill="#d3153a" stroke="none" stroke-width="0" />
<text x="436.01" y="110.95" font-size="2.0" fill="#d3153a" text-anchor="middle" textLength="4.20" lengthAdjust="spacingAndGlyphs" style="opacity:0.8" dominant-baseline="central">P34</text>
<rect x="456.11" y="120.00" width="1.40" height="1.40" fill="#d3153a" stroke="none" stroke-width="0" />
<text x="456.81" y="123.30" font-size="2.0" fill="#d3153a" text-anchor="middle" textLength="4.20" lengthAdjust="spacingAndGlyphs" style="opacity:0.8" dominant-baseline="central">P32</text>
<rect x="459.60" y="112.64" width="1.40" height="1.40" fill="#d3153a" stroke="none" stroke-width="0" />
<text x="460.30" y="115.94" font-size="2.0" fill="#d3153a" text-anchor="middle" textLength="4.20" lengthAdjust="spacingAndGlyphs" style="opacity:0.8" dominant-baseline="central">P21</text>
<rect x="443.62" y="102.86" width="1.40" height="1.40" fill="#d3153a" stroke="none" stroke-width="0" />
<text x="444.32" y="106.16" font-size="2.0" fill="#d3153a" text-anchor="middle" textLength="4.20" lengthAdjust="spacingAndGlyphs" style="opacity:0.8" dominant-baseline="central">P29</text>
<rect x="455.33" y="85.83" width="1.40" height="1.40" fill="#d3153a" stroke="none" stroke-width="0" />
<text x="456.03" y="89.13" font-size="2.0" fill="#d3153a" text-anchor="middle" textLength="4.20" lengthAdjust="spacingAndGlyphs" style="opacity:0.8" dominant-baseline="central">P21</text>
<rect x="448.11" y="83.73" width="1.40" height="1.40" fill="#d3153a" stroke="none" stroke-width="0" />
<text x="448.81" y="87.03" font-size="2.0" fill="#d3153a" text-anchor="middle" textLength="4.20" lengthAdjust="spacingAndGlyphs" style="opacity:0.8" dominant-baseline="central">P5</text>
<rect x="449.54" y="106.99" width="1.40" height="1.40" fill="#d3153a" stroke="none" stroke-width="0" />
<text x="450.24" y="110.29" font-size="2.0" fill="#d3153a" text-anchor="middle" textLength="4.20" lengthAdjust="spacingAndGlyphs" style="opacity:0.8" dominant-baseline="central">P3</text>
<rect x="438.34" y="122.71" width="1.40" height="1.40" fill="#d3153a" stroke="none" stroke-width="0" />
<text x="439.04" y="126.01" font-size="2.0" fill="#d3153a" text-anchor="middle" textLength="4.20" lengthAdjust="spacingAndGlyphs" style="opacity:0.8" dominant-baseline="central">P18</text>
<rect x="447.97" y="115.11" width="1.40" height="1.40" fill="#d3153a" stroke="none" stroke-width="0" />
<text x="448.67" y="118.41" font-size="2.0" fill="#d3153a" text-anchor="middle" textLength="4.20" lengthAdjust="spacingAndGlyphs" style="opacity:0.8" dominant-baseline="central">P3</text>
<rect x="465.20" y="96.81" width="1.40" height="1.40" fill="#d3153a" stroke="none" stroke-width="0" />
<text x="465.90" y="100.11" font-size="2.0" fill="#d3153a" text-anchor="middle" textLength="4.20" lengthAdjust="spacingAndGlyphs" style="opacity:0.8" dominant-baseline="central">P18</text>
<rect x="434.87" y="107.54" width="1.40" height="1.40" fill="#d3153a" stroke="none" stroke-width="0" />
<text x="435.57" y="110.84" font-size="2.0" fill="#d3153a" text-anchor="middle" textLength="4.20" lengthAdjust="spacingAndGlyphs" style="opacity:0.8" dominant-baseline="central">P37</text>
<rect x="437.37" y="120.47" width="1.40" height="1.40" fill="#d3153a" stroke="none" stroke-width="0" />
<text x="438.07" y="123.77" font-size="2.0" fill="#d3153a" text-anchor="middle" textLength="4.20" lengthAdjust="spacingAndGlyphs" style="opacity:0.8" dominant-baseline="central">P23</text>
<rect x="446.57" y="121.49" width="1.40" height="1.40" fill="#d3153a" stroke="none" stroke-width="0" />
<text x="447.27" y="124.79" font-size="2.0" fill="#d3153a" text-anchor="middle" textLength="4.20" lengthAdjust="spacingAndGlyphs" style="opacity:0.8" dominant-baseline="central">P20</text>
<rect x="465.54" y="83.35" width="1.40" height="1.40" fill="#d3153a" stroke="none" stroke-width="0" />
<text x="466.24" y="86.65" font-size="2.0" fill="#d3153a" text-anchor="middle" textLength="4.20" lengthAdjust="spacingAndGlyphs" style="opacity:0.8" dominant-baseline="central">P37</text>
<rect x="461.83" y="96.22" width="1.40" height="1.40" fill="#d3153a" stroke="none" stroke-width="0" />
<text x="462.53" y="99.52" font-size="2.0" fill="#d3153a" text-anchor="middle" textLength="4.20" lengthAdjust="spacingAndGlyphs" style="opacity:0.8" dominant-baseline="central">P2</text>
<rect x="447.31" y="94.15" width="1.40" height="1.40" fill="#d3153a" stroke="none" stroke-width="0" />
<text x="448.01" y="97.45" font-size="2.0" fill="#d3153a" text-anchor="middle" textLength="4.20" lengthAdjust="spacingAndGlyphs" style="opacity:0.8" dominant-baseline="central">P9</text>
<rect x="451.07" y="120.73" width="1.40" height="1.40" fill="#d3153a" stroke="none" stroke-width="0" />
<text x="451.77" y="124.03" font-size="2.0" fill="#d3153a" text-anchor="middle" textLength="4.20" lengthAdjust="spacingAndGlyphs" style="opacity:0.8" dominant-baseline="central">P26</text>
<rect x="466.33" y="87.10" width="1.40" height="1.40" fill="#d3153a" stroke="none" stroke-width="0" />
<text x="467.03" y="90.40" font-size="2.0" fill="#d3153a" text-anchor="middle" textLength="4.20" lengthAdjust="spacingAndGlyphs" style="opacity:0.8" dominant-baseline="central">P30</text>
<circle cx="475.97" cy="132.52" r="0.75" fill="#111" stroke="none" stroke-width="0" />
<text x="475.97" y="135.12" font-size="2.0" fill="#111" text-anchor="middle" textLength="4.20" lengthAdjust="spacingAndGlyphs" style="opacity:0.8" dominant-baseline="central">P36</text>
<circle cx="472.46" cy="132.63" r="0.75" fill="#111" stroke="none" stroke-width="0" />
<text x="472.46" y="135.23" font-size="2.0" fill="#111" text-anchor="middle" textLength="4.20" lengthAdjust="spacingAndGlyphs" style="opacity:0.8" dominant-baseline="central">P37</text>
<circle cx="484.01" cy="103.44" r="0.75" fill="#111" stroke="none" stroke-width="0" />
<text x="484.01" y="106.04" font-size="2.0" fill="#111" text-anchor="middle" textLength="4.20" lengthAdjust="spacingAndGlyphs" style="opacity:0.8" dominant-baseline="central">P33</text>
<circle cx="478.19" cy="122.55" r="0.75" fill="#111" stroke="none" stroke-width="0" />
<text x="478.19" y="125.15" font-size="2.0" fill="#111" text-anchor="middle" textLength="4.20" lengthAdjust="spacingAndGlyphs" style="opacity:0.8" dominant-baseline="central">P22</text>
<circle cx="472.08" cy="113.76" r="0.75" fill="#111" stroke="none" stroke-width="0" />
<text x="472.08" y="116.36" font-size="2.0" fill="#111" text-anchor="middle" textLength="4.20" lengthAdjust="spacingAndGlyphs" style="opacity:0.8" dominant-baseline="central">P30</text>
<circle cx="474.86" cy="121.35" r="0.75" fill="#111" stroke="none" stroke-width="0" />
<text x="474.86" y="123.95" font-size="2.0" fill="#111" text-anchor="middle" textLength="4.20" lengthAdjust="spacingAndGlyphs" style="opacity:0.8" dominant-baseline="central">P21</text>
<circle cx="475.51" cy="133.18" r="0.75" fill="#111" stroke="none" stroke-width="0" />
<text x="475.51" y="135.78" font-size="2.0" fill="#111" text-anchor="middle" textLength="4.20" lengthAdjust="spacingAndGlyphs" style="opacity:0.8" dominant-baseline="central">P14</text>
<circle cx="473.07" cy="132.21" r="0.75" fill="#111" stroke="none" stroke-width="0" />
<text x="473.07" y="134.81" font-size="2.0" fill="#111" text-anchor="middle" textLength="4.20" lengthAdjust="spacingAndGlyphs" style="opacity:0.8" dominant-baseline="central">P7</text>
<circle cx="480.93" cy="106.44" r="0.75" fill="#111" stroke="none" stroke-width="0" />
<text x="480.93" y="109.04" font-size="2.0" fill="#111" text-anchor="middle" textLength="4.20" lengthAdjust="spacingAndGlyphs" style="opacity:0.8" dominant-baseline="central">P8</text>
<circle cx="480.39" cy="121.19" r="0.75" fill="#111" stroke="none" stroke-width="0" />
<text x="480.39" y="123.79" font-size="2.0" fill="#111" text-anchor="middle" textLength="4.20" lengthAdjust="spacingAndGlyphs" style="opacity:0.8" dominant-baseline="central">P14</text>
<circle cx="481.73" cy="106.81" r="0.75" fill="#111" stroke="none" stroke-width="0" />
<text x="481.73" y="109.41" font-size="2.0" fill="#111" text-anchor="middle" textLength="4.20" lengthAdjust="spacingAndGlyphs" style="opacity:0.8" dominant-baseline="central">P16</text>
<circle cx="483.58" cy="116.07" r="0.75" fill="#111" stroke="none" stroke-width="0" />
<text x="483.58" y="118.67" font-size="2.0" fill="#111" text-anchor="middle" textLength="4.20" lengthAdjust="spacingAndGlyphs" style="opacity:0.8" dominant-baseline="central">P25</text>
<circle cx="480.43" cy="119.16" r="0.75" fill="#111" stroke="none" stroke-width="0" />
<text x="480.43" y="121.76" font-size="2.0" fill="#111" text-anchor="middle" textLength="4.20" lengthAdjust="spacingAndGlyphs" style="opacity:0.8" dominant-baseline="central">P6</text>
<circle cx="484.28" cy="108.30" r="0.75" fill="#111" stroke="none" stroke-width="0" />
<text x="484.28" y="110.90" font-size="2.0" fill="#111" text-anchor="middle" textLength="4.20" lengthAdjust="spacingAndGlyphs" style="opacity:0.8" dominant-baseline="central">P20</text>
<circle cx="475.13" cy="129.02" r="0.75" fill="#111" stroke="none" stroke-width="0" />
<text x="475.13" y="131.62" font-size="2.0" fill="#111" text-anchor="middle" textLength="4.20" lengthAdjust="spacingAndGlyphs" style="opacity:0.8" dominant-baseline="central">P35</text>
<circle cx="482.91" cy="113.09" r="0.75" fill="#111" stroke="none" stroke-width="0" />
<text x="482.91" y="115.69" font-size="2.0" fill="#111" text-anchor="middle" textLength="4.20" lengthAdjust="spacingAndGlyphs" style="opacity:0.8" dominant-baseline="central">P21</text>
<circle cx="473.38" cy="119.69" r="0.75" fill="#111" stroke="none" stroke-width="0" />
<text x="473.38" y="122.29" font-size="2.0" fill="#111" text-anchor="middle" textLength="4.20" lengthAdjust="spacingAndGlyphs" style="opacity:0.8" dominant-baseline="central">P17</text>
<circle cx="478.04" cy="117.66" r="0.75" fill="#111" stroke="none" stroke-width="0" />
<text x="478.04" y="120.26" font-size="2.0" fill="#111" text-anchor="middle" textLength="4.20" lengthAdjust="spacingAndGlyphs" style="opacity:0.8" dominant-baseline="central">P2</text>
<path d="M450.50,43.70 L451.70,45.80 L449.30,45.80 Z" fill="#2f6db0"/>
<text x="450.50" y="47.60" font-size="2.0" fill="#2f6db0" text-anchor="middle" textLength="4.20" lengthAdjust="spacingAndGlyphs" style="opacity:0.8" dominant-baseline="central">P23</text>
<path d="M448.00,51.70 L449.20,53.80 L446.80,53.80 Z" fill="#2f6db0"/>
<text x="448.00" y="55.60" font-size="2.0" fill="#2f6db0" text-anchor="middle" textLength="4.20" lengthAdjust="spacingAndGlyphs" style="opacity:0.8" dominant-baseline="central">P33</text>
<circle cx="445.00" cy="57.00" r="0.80" fill="#2db34a" stroke="none" stroke-width="0" />
<text x="445.00" y="59.60" font-size="2.0" fill="#2db34a" text-anchor="middle" textLength="4.20" lengthAdjust="spacingAndGlyphs" style="opacity:0.8" dominant-baseline="central">P6</text>
<circle cx="439.50" cy="57.50" r="0.80" fill="#2db34a" stroke="none" stroke-width="0" />
<text x="439.50" y="60.10" font-size="2.0" fill="#2db34a" text-anchor="middle" textLength="4.20" lengthAdjust="spacingAndGlyphs" style="opacity:0.8" dominant-baseline="central">P3</text>
<circle cx="419.50" cy="67.50" r="0.80" fill="#2db34a" stroke="none" stroke-width="0" />
<text x="419.50" y="70.10" font-size="2.0" fill="#2db34a" text-anchor="middle" textLength="4.20" lengthAdjust="spacingAndGlyphs" style="opacity:0.8" dominant-baseline="central">P29</text>
<circle cx="451.50" cy="57.00" r="0.80" fill="#2db34a" stroke="none" stroke-width="0" />
<text x="451.50" y="59.60" font-size="2.0" fill="#2db34a" text-anchor="middle" textLength="4.20" lengthAdjust="spacingAndGlyphs" style="opacity:0.8" dominant-baseline="central">P22</text>
<path d="M453.50,54.70 L454.70,56.80 L452.30,56.80 Z" fill="#2f6db0"/>
<text x="453.50" y="58.60" font-size="2.0" fill="#2f6db0" text-anchor="middle" textLength="4.20" lengthAdjust="spacingAndGlyphs" style="opacity:0.8" dominant-baseline="central">P36</text>
<path d="M468.00,64.20 L469.20,66.30 L466.80,66.30 Z" fill="#2f6db0"/>
<text x="468.00" y="68.10" font-size="2.0" fill="#2f6db0" text-anchor="middle" textLength="4.20" lengthAdjust="spacingAndGlyphs" style="opacity:0.8" dominant-baseline="central">P27</text>
<rect x="468.30" y="61.30" width="1.40" height="1.40" fill="#d3153a" stroke="none" stroke-width="0" />
<text x="469.00" y="64.60" font-size="2.0" fill="#d3153a" text-anchor="middle" textLength="4.20" lengthAdjust="spacingAndGlyphs" style="opacity:0.8" dominant-baseline="central">P18</text>
<circle cx="483.00" cy="92.00" r="0.80" fill="#2db34a" stroke="none" stroke-width="0" />
<text x="483.00" y="94.60" font-size="2.0" fill="#2db34a" text-anchor="middle" textLength="4.20" lengthAdjust="spacingAndGlyphs" style="opacity:0.8" dominant-baseline="central">P32</text>
<circle cx="487.00" cy="88.00" r="0.80" fill="#111" stroke="none" stroke-width="0" />
<text x="487.00" y="90.60" font-size="2.0" fill="#111" text-anchor="middle" textLength="4.20" lengthAdjust="spacingAndGlyphs" style="opacity:0.8" dominant-baseline="central">P2</text>
<circle cx="482.00" cy="87.00" r="0.80" fill="#111" stroke="none" stroke-width="0" />
<text x="482.00" y="89.60" font-size="2.0" fill="#111" text-anchor="middle" textLength="4.20" lengthAdjust="spacingAndGlyphs" style="opacity:0.8" dominant-baseline="central">P14</text>
<circle cx="499.00" cy="97.50" r="0.80" fill="#111" stroke="none" stroke-width="0" />
<text x="499.00" y="100.10" font-size="2.0" fill="#111" text-anchor="middle" textLength="4.20" lengthAdjust="spacingAndGlyphs" style="opacity:0.8" dominant-baseline="central">P5</text>
<circle cx="483.50" cy="78.50" r="0.80" fill="#111" stroke="none" stroke-width="0" />
<text x="483.50" y="81.10" font-size="2.0" fill="#111" text-anchor="middle" textLength="4.20" lengthAdjust="spacingAndGlyphs" style="opacity:0.8" dominant-baseline="central">P28</text>
<circle cx="502.00" cy="84.00" r="0.80" fill="#111" stroke="none" stroke-width="0" />
<text x="502.00" y="86.60" font-size="2.0" fill="#111" text-anchor="middle" textLength="4.20" lengthAdjust="spacingAndGlyphs" style="opacity:0.8" dominant-baseline="central">P3</text>
<circle cx="507.00" cy="97.00" r="0.80" fill="#2db34a" stroke="none" stroke-width="0" />
<text x="507.00" y="99.60" font-size="2.0" fill="#2db34a" text-anchor="middle" textLength="4.20" lengthAdjust="spacingAndGlyphs" style="opacity:0.8" dominant-baseline="central">P12</text>
<circle cx="508.50" cy="113.00" r="0.80" fill="#111" stroke="none" stroke-width="0" />
<text x="508.50" y="115.60" font-size="2.0" fill="#111" text-anchor="middle" textLength="4.20" lengthAdjust="spacingAndGlyphs" style="opacity:0.8" dominant-baseline="central">P35</text>
<path d="M478.00,79.70 L479.20,81.80 L476.80,81.80 Z" fill="#2f6db0"/>
<text x="478.00" y="83.60" font-size="2.0" fill="#2f6db0" text-anchor="middle" textLength="4.20" lengthAdjust="spacingAndGlyphs" style="opacity:0.8" dominant-baseline="central">P22</text>
<rect x="475.30" y="84.30" width="1.40" height="1.40" fill="#d3153a" stroke="none" stroke-width="0" />
<text x="476.00" y="87.60" font-size="2.0" fill="#d3153a" text-anchor="middle" textLength="4.20" lengthAdjust="spacingAndGlyphs" style="opacity:0.8" dominant-baseline="central">P9</text>
<path d="M409.00,112.20 L410.20,114.30 L407.80,114.30 Z" fill="#2f6db0"/>
<text x="409.00" y="116.10" font-size="2.0" fill="#2f6db0" text-anchor="middle" textLength="4.20" lengthAdjust="spacingAndGlyphs" style="opacity:0.8" dominant-baseline="central">P31</text>
<circle cx="414.00" cy="109.50" r="0.80" fill="#2db34a" stroke="none" stroke-width="0" />
<text x="414.00" y="112.10" font-size="2.0" fill="#2db34a" text-anchor="middle" textLength="4.20" lengthAdjust="spacingAndGlyphs" style="opacity:0.8" dominant-baseline="central">P10</text>
<circle cx="423.00" cy="104.00" r="0.80" fill="#2db34a" stroke="none" stroke-width="0" />
<text x="423.00" y="106.60" font-size="2.0" fill="#2db34a" text-anchor="middle" textLength="4.20" lengthAdjust="spacingAndGlyphs" style="opacity:0.8" dominant-baseline="central">P34</text>
<circle cx="431.00" cy="141.00" r="0.80" fill="#2db34a" stroke="none" stroke-width="0" />
<text x="431.00" y="143.60" font-size="2.0" fill="#2db34a" text-anchor="middle" textLength="4.20" lengthAdjust="spacingAndGlyphs" style="opacity:0.8" dominant-baseline="central">P34</text>
<path d="M440.50,140.70 L441.70,142.80 L439.30,142.80 Z" fill="#2f6db0"/>
<text x="440.50" y="144.60" font-size="2.0" fill="#2f6db0" text-anchor="middle" textLength="4.20" lengthAdjust="spacingAndGlyphs" style="opacity:0.8" dominant-baseline="central">P29</text>
<circle cx="463.00" cy="142.00" r="0.80" fill="#2db34a" stroke="none" stroke-width="0" />
<text x="463.00" y="144.60" font-size="2.0" fill="#2db34a" text-anchor="middle" textLength="4.20" lengthAdjust="spacingAndGlyphs" style="opacity:0.8" dominant-baseline="central">P32</text>
<path d="M422.00,131.70 L423.20,133.80 L420.80,133.80 Z" fill="#2f6db0"/>
<text x="422.00" y="135.60" font-size="2.0" fill="#2f6db0" text-anchor="middle" textLength="4.20" lengthAdjust="spacingAndGlyphs" style="opacity:0.8" dominant-baseline="central">P6</text>
<path d="M418.00,126.70 L419.20,128.80 L416.80,128.80 Z" fill="#2f6db0"/>
<text x="418.00" y="130.60" font-size="2.0" fill="#2f6db0" text-anchor="middle" textLength="4.20" lengthAdjust="spacingAndGlyphs" style="opacity:0.8" dominant-baseline="central">P15</text>
<circle cx="478.50" cy="141.50" r="0.80" fill="#111" stroke="none" stroke-width="0" />
<text x="478.50" y="144.10" font-size="2.0" fill="#111" text-anchor="middle" textLength="4.20" lengthAdjust="spacingAndGlyphs" style="opacity:0.8" dominant-baseline="central">P29</text>
<g transform="translate(-205.3 185.3)">
<g filter="url(#hblur)">
<circle cx="249.60" cy="30.40" r="5.30" fill="#e3e5e9" stroke="none" stroke-width="0" />
<circle cx="256.50" cy="39.60" r="5.30" fill="#e3e5e9" stroke="none" stroke-width="0" />
<circle cx="261.50" cy="52.70" r="5.30" fill="#e3e5e9" stroke="none" stroke-width="0" />
<circle cx="243.20" cy="76.50" r="5.30" fill="#e3e5e9" stroke="none" stroke-width="0" />
<circle cx="255.80" cy="69.90" r="5.30" fill="#e3e5e9" stroke="none" stroke-width="0" />
<circle cx="261.50" cy="69.60" r="5.30" fill="#e3e5e9" stroke="none" stroke-width="0" />
<circle cx="265.80" cy="70.70" r="5.30" fill="#e3e5e9" stroke="none" stroke-width="0" />
<circle cx="269.80" cy="77.50" r="5.30" fill="#e3e5e9" stroke="none" stroke-width="0" />
<circle cx="316.20" cy="38.00" r="5.30" fill="#e3e5e9" stroke="none" stroke-width="0" />
<circle cx="320.50" cy="50.00" r="5.30" fill="#e3e5e9" stroke="none" stroke-width="0" />
<circle cx="346.60" cy="38.20" r="5.30" fill="#e3e5e9" stroke="none" stroke-width="0" />
<circle cx="338.00" cy="50.50" r="5.30" fill="#e3e5e9" stroke="none" stroke-width="0" />
<circle cx="305.90" cy="57.80" r="5.30" fill="#e3e5e9" stroke="none" stroke-width="0" />
<circle cx="301.30" cy="67.30" r="5.30" fill="#e3e5e9" stroke="none" stroke-width="0" />
<circle cx="320.80" cy="60.40" r="5.30" fill="#e3e5e9" stroke="none" stroke-width="0" />
<circle cx="321.80" cy="66.80" r="5.30" fill="#e3e5e9" stroke="none" stroke-width="0" />
<circle cx="336.90" cy="68.10" r="5.30" fill="#e3e5e9" stroke="none" stroke-width="0" />
<circle cx="330.80" cy="72.20" r="5.30" fill="#e3e5e9" stroke="none" stroke-width="0" />
<circle cx="324.60" cy="74.50" r="5.30" fill="#e3e5e9" stroke="none" stroke-width="0" />
<circle cx="313.90" cy="77.10" r="5.30" fill="#e3e5e9" stroke="none" stroke-width="0" />
<circle cx="321.50" cy="82.70" r="5.30" fill="#e3e5e9" stroke="none" stroke-width="0" />
<circle cx="327.70" cy="87.30" r="5.30" fill="#e3e5e9" stroke="none" stroke-width="0" />
<circle cx="312.80" cy="86.00" r="5.30" fill="#e3e5e9" stroke="none" stroke-width="0" />
<circle cx="298.70" cy="86.30" r="5.30" fill="#e3e5e9" stroke="none" stroke-width="0" />
<circle cx="294.40" cy="95.00" r="5.30" fill="#e3e5e9" stroke="none" stroke-width="0" />
<circle cx="307.90" cy="92.90" r="5.30" fill="#e3e5e9" stroke="none" stroke-width="0" />
<circle cx="305.60" cy="96.20" r="5.30" fill="#e3e5e9" stroke="none" stroke-width="0" />
<circle cx="303.30" cy="98.50" r="5.30" fill="#e3e5e9" stroke="none" stroke-width="0" />
<circle cx="297.50" cy="100.80" r="5.30" fill="#e3e5e9" stroke="none" stroke-width="0" />
<circle cx="329.20" cy="110.40" r="5.30" fill="#e3e5e9" stroke="none" stroke-width="0" />
<circle cx="293.80" cy="97.30" r="5.30" fill="#e3e5e9" stroke="none" stroke-width="0" />
<circle cx="306.50" cy="96.20" r="5.30" fill="#e3e5e9" stroke="none" stroke-width="0" />
<circle cx="289.40" cy="60.40" r="5.30" fill="#e3e5e9" stroke="none" stroke-width="0" />
<circle cx="281.70" cy="65.00" r="5.30" fill="#e3e5e9" stroke="none" stroke-width="0" />
<circle cx="284.80" cy="67.30" r="5.30" fill="#e3e5e9" stroke="none" stroke-width="0" />
<circle cx="277.90" cy="68.80" r="5.30" fill="#e3e5e9" stroke="none" stroke-width="0" />
<circle cx="281.70" cy="72.50" r="5.30" fill="#e3e5e9" stroke="none" stroke-width="0" />
<circle cx="286.80" cy="74.50" r="5.30" fill="#e3e5e9" stroke="none" stroke-width="0" />
<circle cx="281.00" cy="76.30" r="5.30" fill="#e3e5e9" stroke="none" stroke-width="0" />
<circle cx="289.10" cy="77.70" r="5.30" fill="#e3e5e9" stroke="none" stroke-width="0" />
<circle cx="292.50" cy="78.80" r="5.30" fill="#e3e5e9" stroke="none" stroke-width="0" />
<circle cx="281.30" cy="80.60" r="5.30" fill="#e3e5e9" stroke="none" stroke-width="0" />
<circle cx="285.40" cy="82.70" r="5.30" fill="#e3e5e9" stroke="none" stroke-width="0" />
<circle cx="271.00" cy="82.70" r="5.30" fill="#e3e5e9" stroke="none" stroke-width="0" />
<circle cx="276.20" cy="83.80" r="5.30" fill="#e3e5e9" stroke="none" stroke-width="0" />
<circle cx="279.80" cy="84.60" r="5.30" fill="#e3e5e9" stroke="none" stroke-width="0" />
<circle cx="268.30" cy="88.10" r="5.30" fill="#e3e5e9" stroke="none" stroke-width="0" />
<circle cx="273.30" cy="89.00" r="5.30" fill="#e3e5e9" stroke="none" stroke-width="0" />
<circle cx="279.00" cy="89.20" r="5.30" fill="#e3e5e9" stroke="none" stroke-width="0" />
<circle cx="286.80" cy="87.50" r="5.30" fill="#e3e5e9" stroke="none" stroke-width="0" />
<circle cx="279.00" cy="93.60" r="5.30" fill="#e3e5e9" stroke="none" stroke-width="0" />
<circle cx="280.50" cy="99.80" r="5.30" fill="#e3e5e9" stroke="none" stroke-width="0" />
<circle cx="273.40" cy="100.80" r="5.30" fill="#e3e5e9" stroke="none" stroke-width="0" />
<circle cx="237.30" cy="102.30" r="5.30" fill="#e3e5e9" stroke="none" stroke-width="0" />
<circle cx="245.80" cy="105.10" r="5.30" fill="#e3e5e9" stroke="none" stroke-width="0" />
<circle cx="255.90" cy="108.90" r="5.30" fill="#e3e5e9" stroke="none" stroke-width="0" />
<circle cx="261.90" cy="108.50" r="5.30" fill="#e3e5e9" stroke="none" stroke-width="0" />
<circle cx="266.40" cy="111.80" r="5.30" fill="#e3e5e9" stroke="none" stroke-width="0" />
<circle cx="258.80" cy="114.70" r="5.30" fill="#e3e5e9" stroke="none" stroke-width="0" />
<circle cx="262.60" cy="116.20" r="5.30" fill="#e3e5e9" stroke="none" stroke-width="0" />
<circle cx="268.80" cy="117.10" r="5.30" fill="#e3e5e9" stroke="none" stroke-width="0" />
<circle cx="272.20" cy="115.70" r="5.30" fill="#e3e5e9" stroke="none" stroke-width="0" />
<circle cx="265.50" cy="119.00" r="5.30" fill="#e3e5e9" stroke="none" stroke-width="0" />
<circle cx="266.00" cy="121.90" r="5.30" fill="#e3e5e9" stroke="none" stroke-width="0" />
<circle cx="258.80" cy="121.00" r="5.30" fill="#e3e5e9" stroke="none" stroke-width="0" />
<circle cx="263.60" cy="127.20" r="5.30" fill="#e3e5e9" stroke="none" stroke-width="0" />
<circle cx="262.10" cy="129.10" r="5.30" fill="#e3e5e9" stroke="none" stroke-width="0" />
<circle cx="258.80" cy="134.40" r="5.30" fill="#e3e5e9" stroke="none" stroke-width="0" />
<circle cx="261.20" cy="142.10" r="5.30" fill="#e3e5e9" stroke="none" stroke-width="0" />
<circle cx="219.50" cy="126.20" r="5.30" fill="#e3e5e9" stroke="none" stroke-width="0" />
<circle cx="228.00" cy="135.00" r="5.30" fill="#e3e5e9" stroke="none" stroke-width="0" />
<circle cx="237.20" cy="134.20" r="5.30" fill="#e3e5e9" stroke="none" stroke-width="0" />
<circle cx="248.60" cy="136.00" r="5.30" fill="#e3e5e9" stroke="none" stroke-width="0" />
<circle cx="318.10" cy="99.00" r="5.30" fill="#e3e5e9" stroke="none" stroke-width="0" />
<circle cx="319.20" cy="103.10" r="5.30" fill="#e3e5e9" stroke="none" stroke-width="0" />
<circle cx="315.80" cy="106.00" r="5.30" fill="#e3e5e9" stroke="none" stroke-width="0" />
<circle cx="314.60" cy="109.40" r="5.30" fill="#e3e5e9" stroke="none" stroke-width="0" />
<circle cx="311.20" cy="112.10" r="5.30" fill="#e3e5e9" stroke="none" stroke-width="0" />
<circle cx="307.50" cy="112.30" r="5.30" fill="#e3e5e9" stroke="none" stroke-width="0" />
<circle cx="300.80" cy="106.00" r="5.30" fill="#e3e5e9" stroke="none" stroke-width="0" />
<circle cx="301.90" cy="108.80" r="5.30" fill="#e3e5e9" stroke="none" stroke-width="0" />
<circle cx="300.20" cy="113.50" r="5.30" fill="#e3e5e9" stroke="none" stroke-width="0" />
<circle cx="303.70" cy="118.10" r="5.30" fill="#e3e5e9" stroke="none" stroke-width="0" />
<circle cx="313.70" cy="118.10" r="5.30" fill="#e3e5e9" stroke="none" stroke-width="0" />
<circle cx="293.80" cy="110.00" r="5.30" fill="#e3e5e9" stroke="none" stroke-width="0" />
<circle cx="294.80" cy="112.30" r="5.30" fill="#e3e5e9" stroke="none" stroke-width="0" />
<circle cx="289.80" cy="108.60" r="5.30" fill="#e3e5e9" stroke="none" stroke-width="0" />
<circle cx="286.30" cy="107.10" r="5.30" fill="#e3e5e9" stroke="none" stroke-width="0" />
<circle cx="283.50" cy="107.70" r="5.30" fill="#e3e5e9" stroke="none" stroke-width="0" />
<circle cx="284.00" cy="111.20" r="5.30" fill="#e3e5e9" stroke="none" stroke-width="0" />
<circle cx="280.00" cy="114.00" r="5.30" fill="#e3e5e9" stroke="none" stroke-width="0" />
<circle cx="285.80" cy="113.50" r="5.30" fill="#e3e5e9" stroke="none" stroke-width="0" />
<circle cx="285.80" cy="119.20" r="5.30" fill="#e3e5e9" stroke="none" stroke-width="0" />
<circle cx="284.60" cy="123.80" r="5.30" fill="#e3e5e9" stroke="none" stroke-width="0" />
<circle cx="288.70" cy="124.40" r="5.30" fill="#e3e5e9" stroke="none" stroke-width="0" />
<circle cx="284.80" cy="128.50" r="5.30" fill="#e3e5e9" stroke="none" stroke-width="0" />
<circle cx="293.30" cy="127.30" r="5.30" fill="#e3e5e9" stroke="none" stroke-width="0" />
<circle cx="297.90" cy="129.00" r="5.30" fill="#e3e5e9" stroke="none" stroke-width="0" />
<circle cx="282.10" cy="134.00" r="5.30" fill="#e3e5e9" stroke="none" stroke-width="0" />
<circle cx="287.50" cy="134.20" r="5.30" fill="#e3e5e9" stroke="none" stroke-width="0" />
<circle cx="292.70" cy="131.90" r="5.30" fill="#e3e5e9" stroke="none" stroke-width="0" />
<circle cx="297.30" cy="134.20" r="5.30" fill="#e3e5e9" stroke="none" stroke-width="0" />
<circle cx="301.90" cy="134.20" r="5.30" fill="#e3e5e9" stroke="none" stroke-width="0" />
<circle cx="302.50" cy="137.70" r="5.30" fill="#e3e5e9" stroke="none" stroke-width="0" />
<circle cx="293.80" cy="138.30" r="5.30" fill="#e3e5e9" stroke="none" stroke-width="0" />
<circle cx="291.00" cy="138.80" r="5.30" fill="#e3e5e9" stroke="none" stroke-width="0" />
<circle cx="289.80" cy="141.20" r="5.30" fill="#e3e5e9" stroke="none" stroke-width="0" />
<circle cx="291.50" cy="144.60" r="5.30" fill="#e3e5e9" stroke="none" stroke-width="0" />
<circle cx="297.30" cy="143.50" r="5.30" fill="#e3e5e9" stroke="none" stroke-width="0" />
<circle cx="275.20" cy="139.40" r="5.30" fill="#e3e5e9" stroke="none" stroke-width="0" />
<circle cx="282.10" cy="145.80" r="5.30" fill="#e3e5e9" stroke="none" stroke-width="0" />
<circle cx="297.90" cy="149.80" r="5.30" fill="#e3e5e9" stroke="none" stroke-width="0" />
<circle cx="307.10" cy="152.10" r="5.30" fill="#e3e5e9" stroke="none" stroke-width="0" />
<circle cx="292.80" cy="157.00" r="5.30" fill="#e3e5e9" stroke="none" stroke-width="0" />
<circle cx="297.70" cy="157.70" r="5.30" fill="#e3e5e9" stroke="none" stroke-width="0" />
</g>
<mask id="om17" maskUnits="userSpaceOnUse" x="0" y="0" width="520" height="603"><rect x="0" y="0" width="520" height="603" fill="#fff"/><path d="M249.60,30.40 L256.50,39.60 Z" fill="#000" stroke="#000" stroke-width="12.40" stroke-linejoin="round" stroke-linecap="round"/></mask>
<path d="M249.60,30.40 L256.50,39.60 Z" mask="url(#om17)" fill="none" stroke="#555" stroke-width="13.60" stroke-linejoin="round" stroke-linecap="round"/>
<mask id="om18" maskUnits="userSpaceOnUse" x="0" y="0" width="520" height="603"><rect x="0" y="0" width="520" height="603" fill="#fff"/><path d="M261.50,52.70 L261.51,52.70 Z" fill="#000" stroke="#000" stroke-width="12.60" stroke-linejoin="round" stroke-linecap="round"/></mask>
<path d="M261.50,52.70 L261.51,52.70 Z" mask="url(#om18)" fill="none" stroke="#555" stroke-width="13.80" stroke-linejoin="round" stroke-linecap="round"/>
<mask id="om19" maskUnits="userSpaceOnUse" x="0" y="0" width="520" height="603"><rect x="0" y="0" width="520" height="603" fill="#fff"/><path d="M243.20,76.50 L255.80,69.90 L261.50,69.60 L265.80,70.70 L269.80,77.50 Z" fill="#000" stroke="#000" stroke-width="12.80" stroke-linejoin="round" stroke-linecap="round"/></mask>
<path d="M243.20,76.50 L255.80,69.90 L261.50,69.60 L265.80,70.70 L269.80,77.50 Z" mask="url(#om19)" fill="none" stroke="#555" stroke-width="14.00" stroke-linejoin="round" stroke-linecap="round"/>
<mask id="om20" maskUnits="userSpaceOnUse" x="0" y="0" width="520" height="603"><rect x="0" y="0" width="520" height="603" fill="#fff"/><path d="M268.30,88.10 L277.90,68.80 L281.70,65.00 L289.40,60.40 L292.50,78.80 L280.50,99.80 L273.40,100.80 Z" fill="#000" stroke="#000" stroke-width="11.60" stroke-linejoin="round" stroke-linecap="round"/></mask>
<path d="M268.30,88.10 L277.90,68.80 L281.70,65.00 L289.40,60.40 L292.50,78.80 L280.50,99.80 L273.40,100.80 Z" mask="url(#om20)" fill="none" stroke="#555" stroke-width="12.80" stroke-linejoin="round" stroke-linecap="round"/>
<mask id="om21" maskUnits="userSpaceOnUse" x="0" y="0" width="520" height="603"><rect x="0" y="0" width="520" height="603" fill="#fff"/><path d="M301.30,67.30 L305.90,57.80 Z" fill="#000" stroke="#000" stroke-width="12.40" stroke-linejoin="round" stroke-linecap="round"/></mask>
<path d="M301.30,67.30 L305.90,57.80 Z" mask="url(#om21)" fill="none" stroke="#555" stroke-width="13.60" stroke-linejoin="round" stroke-linecap="round"/>
<mask id="om22" maskUnits="userSpaceOnUse" x="0" y="0" width="520" height="603"><rect x="0" y="0" width="520" height="603" fill="#fff"/><path d="M316.20,38.00 L320.50,50.00 Z" fill="#000" stroke="#000" stroke-width="12.40" stroke-linejoin="round" stroke-linecap="round"/></mask>
<path d="M316.20,38.00 L320.50,50.00 Z" mask="url(#om22)" fill="none" stroke="#555" stroke-width="13.60" stroke-linejoin="round" stroke-linecap="round"/>
<mask id="om23" maskUnits="userSpaceOnUse" x="0" y="0" width="520" height="603"><rect x="0" y="0" width="520" height="603" fill="#fff"/><path d="M346.60,38.20 L346.61,38.20 Z" fill="#000" stroke="#000" stroke-width="13.00" stroke-linejoin="round" stroke-linecap="round"/></mask>
<path d="M346.60,38.20 L346.61,38.20 Z" mask="url(#om23)" fill="none" stroke="#555" stroke-width="14.20" stroke-linejoin="round" stroke-linecap="round"/>
<mask id="om24" maskUnits="userSpaceOnUse" x="0" y="0" width="520" height="603"><rect x="0" y="0" width="520" height="603" fill="#fff"/><path d="M338.00,50.50 L338.01,50.50 Z" fill="#000" stroke="#000" stroke-width="13.00" stroke-linejoin="round" stroke-linecap="round"/></mask>
<path d="M338.00,50.50 L338.01,50.50 Z" mask="url(#om24)" fill="none" stroke="#555" stroke-width="14.20" stroke-linejoin="round" stroke-linecap="round"/>
<mask id="om25" maskUnits="userSpaceOnUse" x="0" y="0" width="520" height="603"><rect x="0" y="0" width="520" height="603" fill="#fff"/><path d="M293.80,97.30 L294.40,95.00 L298.70,86.30 L320.80,60.40 L336.90,68.10 L329.20,110.40 L297.50,100.80 Z" fill="#000" stroke="#000" stroke-width="12.00" stroke-linejoin="round" stroke-linecap="round"/></mask>
<path d="M293.80,97.30 L294.40,95.00 L298.70,86.30 L320.80,60.40 L336.90,68.10 L329.20,110.40 L297.50,100.80 Z" mask="url(#om25)" fill="none" stroke="#555" stroke-width="13.20" stroke-linejoin="round" stroke-linecap="round"/>
<mask id="om26" maskUnits="userSpaceOnUse" x="0" y="0" width="520" height="603"><rect x="0" y="0" width="520" height="603" fill="#fff"/><path d="M237.30,102.30 L245.80,105.10 Z" fill="#000" stroke="#000" stroke-width="12.40" stroke-linejoin="round" stroke-linecap="round"/></mask>
<path d="M237.30,102.30 L245.80,105.10 Z" mask="url(#om26)" fill="none" stroke="#555" stroke-width="13.60" stroke-linejoin="round" stroke-linecap="round"/>
<mask id="om27" maskUnits="userSpaceOnUse" x="0" y="0" width="520" height="603"><rect x="0" y="0" width="520" height="603" fill="#fff"/><path d="M255.90,108.90 L261.90,108.50 L272.20,115.70 L261.20,142.10 L258.80,134.40 Z" fill="#000" stroke="#000" stroke-width="11.80" stroke-linejoin="round" stroke-linecap="round"/></mask>
<path d="M255.90,108.90 L261.90,108.50 L272.20,115.70 L261.20,142.10 L258.80,134.40 Z" mask="url(#om27)" fill="none" stroke="#555" stroke-width="13.00" stroke-linejoin="round" stroke-linecap="round"/>
<mask id="om28" maskUnits="userSpaceOnUse" x="0" y="0" width="520" height="603"><rect x="0" y="0" width="520" height="603" fill="#fff"/><path d="M219.50,126.20 L248.60,136.00 L228.00,135.00 Z" fill="#000" stroke="#000" stroke-width="12.60" stroke-linejoin="round" stroke-linecap="round"/></mask>
<path d="M219.50,126.20 L248.60,136.00 L228.00,135.00 Z" mask="url(#om28)" fill="none" stroke="#555" stroke-width="13.80" stroke-linejoin="round" stroke-linecap="round"/>
<mask id="om29" maskUnits="userSpaceOnUse" x="0" y="0" width="520" height="603"><rect x="0" y="0" width="520" height="603" fill="#fff"/><path d="M280.00,114.00 L283.50,107.70 L318.10,99.00 L319.20,103.10 L313.70,118.10 L303.70,118.10 Z" fill="#000" stroke="#000" stroke-width="11.60" stroke-linejoin="round" stroke-linecap="round"/></mask>
<path d="M280.00,114.00 L283.50,107.70 L318.10,99.00 L319.20,103.10 L313.70,118.10 L303.70,118.10 Z" mask="url(#om29)" fill="none" stroke="#555" stroke-width="12.80" stroke-linejoin="round" stroke-linecap="round"/>
<mask id="om30" maskUnits="userSpaceOnUse" x="0" y="0" width="520" height="603"><rect x="0" y="0" width="520" height="603" fill="#fff"/><path d="M282.10,134.00 L284.60,123.80 L285.80,119.20 L297.90,129.00 L301.90,134.20 L302.50,137.70 L297.30,143.50 L291.50,144.60 Z" fill="#000" stroke="#000" stroke-width="11.60" stroke-linejoin="round" stroke-linecap="round"/></mask>
<path d="M282.10,134.00 L284.60,123.80 L285.80,119.20 L297.90,129.00 L301.90,134.20 L302.50,137.70 L297.30,143.50 L291.50,144.60 Z" mask="url(#om30)" fill="none" stroke="#555" stroke-width="12.80" stroke-linejoin="round" stroke-linecap="round"/>
<mask id="om31" maskUnits="userSpaceOnUse" x="0" y="0" width="520" height="603"><rect x="0" y="0" width="520" height="603" fill="#fff"/><path d="M275.20,139.40 L282.10,145.80 Z" fill="#000" stroke="#000" stroke-width="12.00" stroke-linejoin="round" stroke-linecap="round"/></mask>
<path d="M275.20,139.40 L282.10,145.80 Z" mask="url(#om31)" fill="none" stroke="#555" stroke-width="13.20" stroke-linejoin="round" stroke-linecap="round"/>
<mask id="om32" maskUnits="userSpaceOnUse" x="0" y="0" width="520" height="603"><rect x="0" y="0" width="520" height="603" fill="#fff"/><path d="M292.80,157.00 L297.90,149.80 L307.10,152.10 L297.70,157.70 Z" fill="#000" stroke="#000" stroke-width="11.60" stroke-linejoin="round" stroke-linecap="round"/></mask>
<path d="M292.80,157.00 L297.90,149.80 L307.10,152.10 L297.70,157.70 Z" mask="url(#om32)" fill="none" stroke="#555" stroke-width="12.80" stroke-linejoin="round" stroke-linecap="round"/>
<circle cx="249.60" cy="30.40" r="2.60" fill="#bcc0c8" stroke="#cdd0d6" stroke-width="0.5" />
<circle cx="256.50" cy="39.60" r="2.60" fill="#bcc0c8" stroke="#cdd0d6" stroke-width="0.5" />
<circle cx="261.50" cy="52.70" r="2.60" fill="#bcc0c8" stroke="#cdd0d6" stroke-width="0.5" />
<circle cx="243.20" cy="76.50" r="2.60" fill="#bcc0c8" stroke="#cdd0d6" stroke-width="0.5" />
<circle cx="255.80" cy="69.90" r="2.60" fill="#bcc0c8" stroke="#cdd0d6" stroke-width="0.5" />
<circle cx="261.50" cy="69.60" r="2.60" fill="#bcc0c8" stroke="#cdd0d6" stroke-width="0.5" />
<circle cx="265.80" cy="70.70" r="2.60" fill="#bcc0c8" stroke="#cdd0d6" stroke-width="0.5" />
<circle cx="269.80" cy="77.50" r="2.60" fill="#bcc0c8" stroke="#cdd0d6" stroke-width="0.5" />
<circle cx="316.20" cy="38.00" r="2.60" fill="#bcc0c8" stroke="#cdd0d6" stroke-width="0.5" />
<circle cx="320.50" cy="50.00" r="2.60" fill="#bcc0c8" stroke="#cdd0d6" stroke-width="0.5" />
<circle cx="346.60" cy="38.20" r="2.60" fill="#bcc0c8" stroke="#cdd0d6" stroke-width="0.5" />
<circle cx="338.00" cy="50.50" r="2.60" fill="#bcc0c8" stroke="#cdd0d6" stroke-width="0.5" />
<circle cx="305.90" cy="57.80" r="2.60" fill="#bcc0c8" stroke="#cdd0d6" stroke-width="0.5" />
<circle cx="301.30" cy="67.30" r="2.60" fill="#bcc0c8" stroke="#cdd0d6" stroke-width="0.5" />
<circle cx="320.80" cy="60.40" r="2.60" fill="#bcc0c8" stroke="#cdd0d6" stroke-width="0.5" />
<circle cx="321.80" cy="66.80" r="2.60" fill="#bcc0c8" stroke="#cdd0d6" stroke-width="0.5" />
<circle cx="336.90" cy="68.10" r="2.60" fill="#bcc0c8" stroke="#cdd0d6" stroke-width="0.5" />
<circle cx="330.80" cy="72.20" r="2.60" fill="#bcc0c8" stroke="#cdd0d6" stroke-width="0.5" />
<circle cx="324.60" cy="74.50" r="2.60" fill="#bcc0c8" stroke="#cdd0d6" stroke-width="0.5" />
<circle cx="313.90" cy="77.10" r="2.60" fill="#bcc0c8" stroke="#cdd0d6" stroke-width="0.5" />
<circle cx="321.50" cy="82.70" r="2.60" fill="#bcc0c8" stroke="#cdd0d6" stroke-width="0.5" />
<circle cx="327.70" cy="87.30" r="2.60" fill="#bcc0c8" stroke="#cdd0d6" stroke-width="0.5" />
<circle cx="312.80" cy="86.00" r="2.60" fill="#bcc0c8" stroke="#cdd0d6" stroke-width="0.5" />
<circle cx="298.70" cy="86.30" r="2.60" fill="#bcc0c8" stroke="#cdd0d6" stroke-width="0.5" />
<circle cx="294.40" cy="95.00" r="2.60" fill="#bcc0c8" stroke="#cdd0d6" stroke-width="0.5" />
<circle cx="307.90" cy="92.90" r="2.60" fill="#bcc0c8" stroke="#cdd0d6" stroke-width="0.5" />
<circle cx="305.60" cy="96.20" r="2.60" fill="#bcc0c8" stroke="#cdd0d6" stroke-width="0.5" />
<circle cx="303.30" cy="98.50" r="2.60" fill="#bcc0c8" stroke="#cdd0d6" stroke-width="0.5" />
<circle cx="297.50" cy="100.80" r="2.60" fill="#bcc0c8" stroke="#cdd0d6" stroke-width="0.5" />
<circle cx="329.20" cy="110.40" r="2.60" fill="#bcc0c8" stroke="#cdd0d6" stroke-width="0.5" />
<circle cx="293.80" cy="97.30" r="2.60" fill="#bcc0c8" stroke="#cdd0d6" stroke-width="0.5" />
<circle cx="306.50" cy="96.20" r="2.60" fill="#bcc0c8" stroke="#cdd0d6" stroke-width="0.5" />
<circle cx="289.40" cy="60.40" r="2.60" fill="#bcc0c8" stroke="#cdd0d6" stroke-width="0.5" />
<circle cx="281.70" cy="65.00" r="2.60" fill="#bcc0c8" stroke="#cdd0d6" stroke-width="0.5" />
<circle cx="284.80" cy="67.30" r="2.60" fill="#bcc0c8" stroke="#cdd0d6" stroke-width="0.5" />
<circle cx="277.90" cy="68.80" r="2.60" fill="#bcc0c8" stroke="#cdd0d6" stroke-width="0.5" />
<circle cx="281.70" cy="72.50" r="2.60" fill="#bcc0c8" stroke="#cdd0d6" stroke-width="0.5" />
<circle cx="286.80" cy="74.50" r="2.60" fill="#bcc0c8" stroke="#cdd0d6" stroke-width="0.5" />
<circle cx="281.00" cy="76.30" r="2.60" fill="#bcc0c8" stroke="#cdd0d6" stroke-width="0.5" />
<circle cx="289.10" cy="77.70" r="2.60" fill="#bcc0c8" stroke="#cdd0d6" stroke-width="0.5" />
<circle cx="292.50" cy="78.80" r="2.60" fill="#bcc0c8" stroke="#cdd0d6" stroke-width="0.5" />
<circle cx="281.30" cy="80.60" r="2.60" fill="#bcc0c8" stroke="#cdd0d6" stroke-width="0.5" />
<circle cx="285.40" cy="82.70" r="2.60" fill="#bcc0c8" stroke="#cdd0d6" stroke-width="0.5" />
<circle cx="271.00" cy="82.70" r="2.60" fill="#bcc0c8" stroke="#cdd0d6" stroke-width="0.5" />
<circle cx="276.20" cy="83.80" r="2.60" fill="#bcc0c8" stroke="#cdd0d6" stroke-width="0.5" />
<circle cx="279.80" cy="84.60" r="2.60" fill="#bcc0c8" stroke="#cdd0d6" stroke-width="0.5" />
<circle cx="268.30" cy="88.10" r="2.60" fill="#bcc0c8" stroke="#cdd0d6" stroke-width="0.5" />
<circle cx="273.30" cy="89.00" r="2.60" fill="#bcc0c8" stroke="#cdd0d6" stroke-width="0.5" />
<circle cx="279.00" cy="89.20" r="2.60" fill="#bcc0c8" stroke="#cdd0d6" stroke-width="0.5" />
<circle cx="286.80" cy="87.50" r="2.60" fill="#bcc0c8" stroke="#cdd0d6" stroke-width="0.5" />
<circle cx="279.00" cy="93.60" r="2.60" fill="#bcc0c8" stroke="#cdd0d6" stroke-width="0.5" />
<circle cx="280.50" cy="99.80" r="2.60" fill="#bcc0c8" stroke="#cdd0d6" stroke-width="0.5" />
<circle cx="273.40" cy="100.80" r="2.60" fill="#bcc0c8" stroke="#cdd0d6" stroke-width="0.5" />
<circle cx="237.30" cy="102.30" r="2.60" fill="#bcc0c8" stroke="#cdd0d6" stroke-width="0.5" />
<circle cx="245.80" cy="105.10" r="2.60" fill="#bcc0c8" stroke="#cdd0d6" stroke-width="0.5" />
<circle cx="255.90" cy="108.90" r="2.60" fill="#bcc0c8" stroke="#cdd0d6" stroke-width="0.5" />
<circle cx="261.90" cy="108.50" r="2.60" fill="#bcc0c8" stroke="#cdd0d6" stroke-width="0.5" />
<circle cx="266.40" cy="111.80" r="2.60" fill="#bcc0c8" stroke="#cdd0d6" stroke-width="0.5" />
<circle cx="258.80" cy="114.70" r="2.60" fill="#bcc0c8" stroke="#cdd0d6" stroke-width="0.5" />
<circle cx="262.60" cy="116.20" r="2.60" fill="#bcc0c8" stroke="#cdd0d6" stroke-width="0.5" />
<circle cx="268.80" cy="117.10" r="2.60" fill="#bcc0c8" stroke="#cdd0d6" stroke-width="0.5" />
<circle cx="272.20" cy="115.70" r="2.60" fill="#bcc0c8" stroke="#cdd0d6" stroke-width="0.5" />
<circle cx="265.50" cy="119.00" r="2.60" fill="#bcc0c8" stroke="#cdd0d6" stroke-width="0.5" />
<circle cx="266.00" cy="121.90" r="2.60" fill="#bcc0c8" stroke="#cdd0d6" stroke-width="0.5" />
<circle cx="258.80" cy="121.00" r="2.60" fill="#bcc0c8" stroke="#cdd0d6" stroke-width="0.5" />
<circle cx="263.60" cy="127.20" r="2.60" fill="#bcc0c8" stroke="#cdd0d6" stroke-width="0.5" />
<circle cx="262.10" cy="129.10" r="2.60" fill="#bcc0c8" stroke="#cdd0d6" stroke-width="0.5" />
<circle cx="258.80" cy="134.40" r="2.60" fill="#bcc0c8" stroke="#cdd0d6" stroke-width="0.5" />
<circle cx="261.20" cy="142.10" r="2.60" fill="#bcc0c8" stroke="#cdd0d6" stroke-width="0.5" />
<circle cx="219.50" cy="126.20" r="2.60" fill="#bcc0c8" stroke="#cdd0d6" stroke-width="0.5" />
<circle cx="228.00" cy="135.00" r="2.60" fill="#bcc0c8" stroke="#cdd0d6" stroke-width="0.5" />
<circle cx="237.20" cy="134.20" r="2.60" fill="#bcc0c8" stroke="#cdd0d6" stroke-width="0.5" />
<circle cx="248.60" cy="136.00" r="2.60" fill="#bcc0c8" stroke="#cdd0d6" stroke-width="0.5" />
<circle cx="318.10" cy="99.00" r="2.60" fill="#bcc0c8" stroke="#cdd0d6" stroke-width="0.5" />
<circle cx="319.20" cy="103.10" r="2.60" fill="#bcc0c8" stroke="#cdd0d6" stroke-width="0.5" />
<circle cx="315.80" cy="106.00" r="2.60" fill="#bcc0c8" stroke="#cdd0d6" stroke-width="0.5" />
<circle cx="314.60" cy="109.40" r="2.60" fill="#bcc0c8" stroke="#cdd0d6" stroke-width="0.5" />
<circle cx="311.20" cy="112.10" r="2.60" fill="#bcc0c8" stroke="#cdd0d6" stroke-width="0.5" />
<circle cx="307.50" cy="112.30" r="2.60" fill="#bcc0c8" stroke="#cdd0d6" stroke-width="0.5" />
<circle cx="300.80" cy="106.00" r="2.60" fill="#bcc0c8" stroke="#cdd0d6" stroke-width="0.5" />
<circle cx="301.90" cy="108.80" r="2.60" fill="#bcc0c8" stroke="#cdd0d6" stroke-width="0.5" />
<circle cx="300.20" cy="113.50" r="2.60" fill="#bcc0c8" stroke="#cdd0d6" stroke-width="0.5" />
<circle cx="303.70" cy="118.10" r="2.60" fill="#bcc0c8" stroke="#cdd0d6" stroke-width="0.5" />
<circle cx="313.70" cy="118.10" r="2.60" fill="#bcc0c8" stroke="#cdd0d6" stroke-width="0.5" />
<circle cx="293.80" cy="110.00" r="2.60" fill="#bcc0c8" stroke="#cdd0d6" stroke-width="0.5" />
<circle cx="294.80" cy="112.30" r="2.60" fill="#bcc0c8" stroke="#cdd0d6" stroke-width="0.5" />
<circle cx="289.80" cy="108.60" r="2.60" fill="#bcc0c8" stroke="#cdd0d6" stroke-width="0.5" />
<circle cx="286.30" cy="107.10" r="2.60" fill="#bcc0c8" stroke="#cdd0d6" stroke-width="0.5" />
<circle cx="283.50" cy="107.70" r="2.60" fill="#bcc0c8" stroke="#cdd0d6" stroke-width="0.5" />
<circle cx="284.00" cy="111.20" r="2.60" fill="#bcc0c8" stroke="#cdd0d6" stroke-width="0.5" />
<circle cx="280.00" cy="114.00" r="2.60" fill="#bcc0c8" stroke="#cdd0d6" stroke-width="0.5" />
<circle cx="285.80" cy="113.50" r="2.60" fill="#bcc0c8" stroke="#cdd0d6" stroke-width="0.5" />
<circle cx="285.80" cy="119.20" r="2.60" fill="#bcc0c8" stroke="#cdd0d6" stroke-width="0.5" />
<circle cx="284.60" cy="123.80" r="2.60" fill="#bcc0c8" stroke="#cdd0d6" stroke-width="0.5" />
<circle cx="288.70" cy="124.40" r="2.60" fill="#bcc0c8" stroke="#cdd0d6" stroke-width="0.5" />
<circle cx="284.80" cy="128.50" r="2.60" fill="#bcc0c8" stroke="#cdd0d6" stroke-width="0.5" />
<circle cx="293.30" cy="127.30" r="2.60" fill="#bcc0c8" stroke="#cdd0d6" stroke-width="0.5" />
<circle cx="297.90" cy="129.00" r="2.60" fill="#bcc0c8" stroke="#cdd0d6" stroke-width="0.5" />
<circle cx="282.10" cy="134.00" r="2.60" fill="#bcc0c8" stroke="#cdd0d6" stroke-width="0.5" />
<circle cx="287.50" cy="134.20" r="2.60" fill="#bcc0c8" stroke="#cdd0d6" stroke-width="0.5" />
<circle cx="292.70" cy="131.90" r="2.60" fill="#bcc0c8" stroke="#cdd0d6" stroke-width="0.5" />
<circle cx="297.30" cy="134.20" r="2.60" fill="#bcc0c8" stroke="#cdd0d6" stroke-width="0.5" />
<circle cx="301.90" cy="134.20" r="2.60" fill="#bcc0c8" stroke="#cdd0d6" stroke-width="0.5" />
<circle cx="302.50" cy="137.70" r="2.60" fill="#bcc0c8" stroke="#cdd0d6" stroke-width="0.5" />
<circle cx="293.80" cy="138.30" r="2.60" fill="#bcc0c8" stroke="#cdd0d6" stroke-width="0.5" />
<circle cx="291.00" cy="138.80" r="2.60" fill="#bcc0c8" stroke="#cdd0d6" stroke-width="0.5" />
<circle cx="289.80" cy="141.20" r="2.60" fill="#bcc0c8" stroke="#cdd0d6" stroke-width="0.5" />
<circle cx="291.50" cy="144.60" r="2.60" fill="#bcc0c8" stroke="#cdd0d6" stroke-width="0.5" />
<circle cx="297.30" cy="143.50" r="2.60" fill="#bcc0c8" stroke="#cdd0d6" stroke-width="0.5" />
<circle cx="275.20" cy="139.40" r="2.60" fill="#bcc0c8" stroke="#cdd0d6" stroke-width="0.5" />
<circle cx="282.10" cy="145.80" r="2.60" fill="#bcc0c8" stroke="#cdd0d6" stroke-width="0.5" />
<circle cx="297.90" cy="149.80" r="2.60" fill="#bcc0c8" stroke="#cdd0d6" stroke-width="0.5" />
<circle cx="307.10" cy="152.10" r="2.60" fill="#bcc0c8" stroke="#cdd0d6" stroke-width="0.5" />
<circle cx="292.80" cy="157.00" r="2.60" fill="#bcc0c8" stroke="#cdd0d6" stroke-width="0.5" />
<circle cx="297.70" cy="157.70" r="2.60" fill="#bcc0c8" stroke="#cdd0d6" stroke-width="0.5" />
</g>
<text x="55.40" y="215.70" font-size="6.1" fill="#111" textLength="27.30" lengthAdjust="spacingAndGlyphs" stroke="#111" stroke-width="0.085" dominant-baseline="central">8. Basophils</text>
<text x="60.50" y="229.50" font-size="6.1" fill="#111" textLength="31.50" lengthAdjust="spacingAndGlyphs" stroke="#111" stroke-width="0.085" dominant-baseline="central">2. Monocytes</text>
<text x="28.50" y="236.90" font-size="6.1" fill="#111" textLength="18.70" lengthAdjust="spacingAndGlyphs" stroke="#111" stroke-width="0.085" dominant-baseline="central">14. pDC</text>
<text x="4.90" y="243.80" font-size="6.1" fill="#111" textLength="38.60" lengthAdjust="spacingAndGlyphs" stroke="#111" stroke-width="0.085" dominant-baseline="central">11. Non-classical</text>
<text x="13.00" y="249.90" font-size="6.1" fill="#111" textLength="25.90" lengthAdjust="spacingAndGlyphs" stroke="#111" stroke-width="0.085" dominant-baseline="central">monocytes</text>
<text x="100.70" y="213.40" font-size="6.1" fill="#111" textLength="18.60" lengthAdjust="spacingAndGlyphs" stroke="#111" stroke-width="0.085" dominant-baseline="central">5. Tregs</text>
<text x="125.00" y="212.60" font-size="6.1" fill="#111" textLength="21.50" lengthAdjust="spacingAndGlyphs" stroke="#111" stroke-width="0.085" dominant-baseline="central">7. CD49b</text>
<text x="148.90" y="212.60" font-size="6.1" fill="#111" textLength="15.20" lengthAdjust="spacingAndGlyphs" stroke="#111" stroke-width="0.085" dominant-baseline="central">T cells</text>
<text x="92.40" y="232.70" font-size="6.1" fill="#111" textLength="14.60" lengthAdjust="spacingAndGlyphs" stroke="#111" stroke-width="0.085" dominant-baseline="central">6.DCs</text>
<text x="139.30" y="242.70" font-size="6.1" fill="#111" textLength="30.00" lengthAdjust="spacingAndGlyphs" stroke="#111" stroke-width="0.085" dominant-baseline="central">12. Activated</text>
<text x="147.70" y="248.70" font-size="6.1" fill="#111" textLength="15.00" lengthAdjust="spacingAndGlyphs" stroke="#111" stroke-width="0.085" dominant-baseline="central">T cells</text>
<text x="129.30" y="269.20" font-size="6.1" fill="#111" textLength="32.40" lengthAdjust="spacingAndGlyphs" stroke="#111" stroke-width="0.085" dominant-baseline="central">4. CD4 T cells</text>
<text x="32.00" y="273.00" font-size="6.1" fill="#111" textLength="21.40" lengthAdjust="spacingAndGlyphs" stroke="#111" stroke-width="0.085" dominant-baseline="central">1. HSPCs</text>
<text x="34.90" y="278.80" font-size="6.1" fill="#111" textLength="15.60" lengthAdjust="spacingAndGlyphs" stroke="#111" stroke-width="0.085" dominant-baseline="central">3. LDG</text>
<text x="10.10" y="300.30" font-size="6.1" fill="#111" textLength="36.10" lengthAdjust="spacingAndGlyphs" stroke="#111" stroke-width="0.085" dominant-baseline="central">9. Th2/Tc2 cells</text>
<text x="7.00" y="332.70" font-size="6.1" fill="#111" textLength="32.30" lengthAdjust="spacingAndGlyphs" stroke="#111" stroke-width="0.085" dominant-baseline="central">13. MAIT cells</text>
<text x="47.00" y="339.50" font-size="6.1" fill="#111" textLength="18.50" lengthAdjust="spacingAndGlyphs" stroke="#111" stroke-width="0.085" dominant-baseline="central">10. CD8</text>
<text x="55.50" y="345.20" font-size="6.1" fill="#111" textLength="13.80" lengthAdjust="spacingAndGlyphs" stroke="#111" stroke-width="0.085" dominant-baseline="central">T cells</text>
<text x="113.90" y="311.70" font-size="6.1" fill="#111" textLength="22.30" lengthAdjust="spacingAndGlyphs" stroke="#111" stroke-width="0.085" dominant-baseline="central">15. B cells</text>
<text x="105.00" y="322.20" font-size="6.1" fill="#111" textLength="27.40" lengthAdjust="spacingAndGlyphs" stroke="#111" stroke-width="0.085" dominant-baseline="central">16. NK cells</text>
<text x="109.30" y="334.20" font-size="6.1" fill="#111" textLength="29.20" lengthAdjust="spacingAndGlyphs" stroke="#111" stroke-width="0.085" dominant-baseline="central">18. γδ T cells</text>
<text x="98.50" y="348.00" font-size="6.1" fill="#111" textLength="22.50" lengthAdjust="spacingAndGlyphs" stroke="#111" stroke-width="0.085" dominant-baseline="central">20. CD117</text>
<text x="122.70" y="348.00" font-size="6.1" fill="#111" textLength="10.50" lengthAdjust="spacingAndGlyphs" stroke="#111" stroke-width="0.085" dominant-baseline="central">ILCs</text>
<text x="146.60" y="210.50" font-size="3" fill="#231f20" dominant-baseline="central">+</text>
<text x="121.10" y="345.90" font-size="3" fill="#231f20" dominant-baseline="central">+</text>
<text x="135.50" y="274.20" font-size="3.6" fill="#333" textLength="21.50" lengthAdjust="spacingAndGlyphs" dominant-baseline="central">(non Tregs)</text>
<text x="14.70" y="338.00" font-size="3.6" fill="#333" textLength="21.00" lengthAdjust="spacingAndGlyphs" dominant-baseline="central">(and Vα7.2</text>
<text x="35.70" y="336.50" font-size="2.4" fill="#333" dominant-baseline="central">+</text>
<text x="37.20" y="338.00" font-size="3.6" fill="#333" dominant-baseline="central">)</text>
<g stroke="#555" stroke-width="0.35" fill="none"><path d="M54.69999999999999,271.8 L66.69999999999999,282.3"/><path d="M51.69999999999999,279.3 L64.69999999999999,286.3"/></g>
<circle cx="81.40" cy="259.90" r="2.85" fill="#c9ccd2" stroke="#2f6db0" stroke-width="1.0" />
<text x="81.40" y="260.40" font-size="2.7" fill="#444" text-anchor="middle" textLength="1.60" lengthAdjust="spacingAndGlyphs" dominant-baseline="central">3</text>
<circle cx="74.00" cy="270.00" r="2.85" fill="#c9ccd2" stroke="#2db34a" stroke-width="1.0" />
<text x="74.00" y="270.50" font-size="2.7" fill="#444" text-anchor="middle" textLength="3.20" lengthAdjust="spacingAndGlyphs" dominant-baseline="central">50</text>
<circle cx="108.60" cy="262.40" r="2.85" fill="#c9ccd2" stroke="#2db34a" stroke-width="1.0" />
<text x="108.60" y="262.90" font-size="2.7" fill="#444" text-anchor="middle" textLength="1.60" lengthAdjust="spacingAndGlyphs" dominant-baseline="central">9</text>
<circle cx="115.00" cy="235.60" r="2.85" fill="#c9ccd2" stroke="#d3153a" stroke-width="1.0" />
<text x="115.00" y="236.10" font-size="2.7" fill="#444" text-anchor="middle" textLength="1.60" lengthAdjust="spacingAndGlyphs" dominant-baseline="central">6</text>
<circle cx="115.00" cy="245.10" r="2.85" fill="#c9ccd2" stroke="#d3153a" stroke-width="1.0" />
<text x="115.00" y="245.60" font-size="2.7" fill="#444" text-anchor="middle" textLength="3.20" lengthAdjust="spacingAndGlyphs" dominant-baseline="central">18</text>
<circle cx="119.60" cy="259.90" r="2.85" fill="#c9ccd2" stroke="#d3153a" stroke-width="1.0" />
<text x="119.60" y="260.40" font-size="2.7" fill="#444" text-anchor="middle" textLength="1.60" lengthAdjust="spacingAndGlyphs" dominant-baseline="central">7</text>
<circle cx="125.30" cy="257.20" r="2.85" fill="#c9ccd2" stroke="#d3153a" stroke-width="1.0" />
<text x="125.30" y="257.70" font-size="2.7" fill="#444" text-anchor="middle" textLength="3.20" lengthAdjust="spacingAndGlyphs" dominant-baseline="central">19</text>
<circle cx="131.30" cy="253.10" r="2.85" fill="#c9ccd2" stroke="#d3153a" stroke-width="1.0" />
<text x="131.30" y="253.60" font-size="2.7" fill="#444" text-anchor="middle" textLength="3.20" lengthAdjust="spacingAndGlyphs" dominant-baseline="central">23</text>
<circle cx="68.10" cy="286.40" r="2.85" fill="#c9ccd2" stroke="#d3153a" stroke-width="1.0" />
<text x="68.10" y="286.90" font-size="2.7" fill="#444" text-anchor="middle" textLength="3.20" lengthAdjust="spacingAndGlyphs" dominant-baseline="central">12</text>
<circle cx="74.50" cy="285.40" r="2.85" fill="#c9ccd2" stroke="#d3153a" stroke-width="1.0" />
<text x="74.50" y="285.90" font-size="2.7" fill="#444" text-anchor="middle" textLength="3.20" lengthAdjust="spacingAndGlyphs" dominant-baseline="central">20</text>
<circle cx="50.80" cy="293.80" r="2.85" fill="#c9ccd2" stroke="#d3153a" stroke-width="1.0" />
<text x="50.80" y="294.30" font-size="2.7" fill="#444" text-anchor="middle" textLength="3.20" lengthAdjust="spacingAndGlyphs" dominant-baseline="central">40</text>
<circle cx="78.70" cy="292.80" r="2.85" fill="#c9ccd2" stroke="#d3153a" stroke-width="1.0" />
<text x="78.70" y="293.30" font-size="2.7" fill="#444" text-anchor="middle" textLength="1.60" lengthAdjust="spacingAndGlyphs" dominant-baseline="central">1</text>
<circle cx="79.30" cy="298.10" r="2.85" fill="#c9ccd2" stroke="#d3153a" stroke-width="1.0" />
<text x="79.30" y="298.60" font-size="2.7" fill="#444" text-anchor="middle" textLength="1.60" lengthAdjust="spacingAndGlyphs" dominant-baseline="central">2</text>
<circle cx="80.00" cy="304.40" r="2.85" fill="#c9ccd2" stroke="#2f6db0" stroke-width="1.0" />
<text x="80.00" y="304.90" font-size="2.7" fill="#444" text-anchor="middle" textLength="1.60" lengthAdjust="spacingAndGlyphs" dominant-baseline="central">8</text>
<circle cx="14.40" cy="311.40" r="2.85" fill="#c9ccd2" stroke="#2f6db0" stroke-width="1.0" />
<text x="14.40" y="311.90" font-size="2.7" fill="#444" text-anchor="middle" textLength="1.60" lengthAdjust="spacingAndGlyphs" dominant-baseline="central">4</text>
<circle cx="55.60" cy="327.30" r="2.85" fill="#c9ccd2" stroke="#2f6db0" stroke-width="1.0" />
<text x="55.60" y="327.80" font-size="2.7" fill="#444" text-anchor="middle" textLength="3.20" lengthAdjust="spacingAndGlyphs" dominant-baseline="central">13</text>
<circle cx="96.30" cy="319.20" r="2.85" fill="#c9ccd2" stroke="#d3153a" stroke-width="1.0" />
<text x="96.30" y="319.70" font-size="2.7" fill="#444" text-anchor="middle" textLength="3.20" lengthAdjust="spacingAndGlyphs" dominant-baseline="central">16</text>
<circle cx="96.30" cy="323.00" r="2.85" fill="#c9ccd2" stroke="#d3153a" stroke-width="1.0" />
<text x="96.30" y="323.50" font-size="2.7" fill="#444" text-anchor="middle" textLength="3.20" lengthAdjust="spacingAndGlyphs" dominant-baseline="central">17</text>
<text x="143.8" y="283.6" font-size="5.2" dominant-baseline="central" fill="#231f20" textLength="63" lengthAdjust="spacingAndGlyphs"><tspan font-weight="bold">MC 1-2-16-20:</tspan> decreasing</text>
<text x="143.8" y="291.7" font-size="5.2" dominant-baseline="central" fill="#231f20" textLength="57.7" lengthAdjust="spacingAndGlyphs"><tspan font-weight="bold">MC 4-5-9-15:</tspan> increasing</text>
<line x1="196.20" y1="279.60" x2="206.50" y2="267.50" stroke="#111" stroke-width="0.9" />
<path d="M208.8,265 L207.9,270 L204.3,267 Z" fill="#111"/>
<line x1="196.20" y1="295.80" x2="206.50" y2="308.20" stroke="#111" stroke-width="0.9" />
<path d="M208.8,310.9 L204.3,309.5 L207.9,306.4 Z" fill="#111"/>
<text x="143.00" y="310.10" font-size="5.2" fill="#231f20" textLength="54.00" lengthAdjust="spacingAndGlyphs" stroke="#231f20" stroke-width="0.073" dominant-baseline="central">Significant longitudinal</text>
<text x="143.00" y="316.40" font-size="5.2" fill="#231f20" textLength="19.00" lengthAdjust="spacingAndGlyphs" stroke="#231f20" stroke-width="0.073" dominant-baseline="central">changes:</text>
<circle cx="146.00" cy="324.10" r="2.90" fill="#e4f2e4" stroke="#2db34a" stroke-width="0.9" />
<text x="151.30" y="324.50" font-size="5.2" fill="#231f20" textLength="21.00" lengthAdjust="spacingAndGlyphs" stroke="#231f20" stroke-width="0.073" dominant-baseline="central">M3 to M6</text>
<circle cx="146.00" cy="334.50" r="2.90" fill="#f6e2e5" stroke="#d3153a" stroke-width="0.9" />
<text x="151.30" y="332.70" font-size="5.2" fill="#231f20" textLength="34.00" lengthAdjust="spacingAndGlyphs" stroke="#231f20" stroke-width="0.073" dominant-baseline="central">M3 to M12 <tspan text-decoration="underline">and</tspan></text>
<line x1="175.50" y1="335.00" x2="185.20" y2="335.00" stroke="#231f20" stroke-width="0.4" />
<text x="151.30" y="339.10" font-size="5.2" fill="#231f20" textLength="23.50" lengthAdjust="spacingAndGlyphs" stroke="#231f20" stroke-width="0.073" dominant-baseline="central">M6 to M12</text>
<circle cx="146.00" cy="345.70" r="2.90" fill="#e2e9f3" stroke="#2f6db0" stroke-width="0.9" />
<text x="151.30" y="346.10" font-size="5.2" fill="#231f20" textLength="23.50" lengthAdjust="spacingAndGlyphs" stroke="#231f20" stroke-width="0.073" dominant-baseline="central">M6 to M12</text>
<g stroke="#1a1a1a" stroke-width="0.3" opacity="0.8" fill="none">
<path d="M258.60,240.50 L275.20,225.73 L291.90,231.91"/>
<path d="M258.60,236.46 L275.20,231.10 L291.90,237.00"/>
<path d="M258.60,236.22 L275.20,236.00 L291.90,234.76"/>
<path d="M258.60,235.87 L275.20,227.69 L291.90,242.62"/>
<path d="M258.60,234.05 L275.20,236.84 L291.90,241.91"/>
<path d="M258.60,233.76 L275.20,245.32 L291.90,221.58"/>
<path d="M258.60,233.50 L275.20,233.98 L291.90,226.54"/>
<path d="M258.60,233.05 L275.20,230.54 L291.90,220.58"/>
<path d="M258.60,231.98 L275.20,236.37 L291.90,231.42"/>
<path d="M258.60,231.85 L275.20,231.27 L291.90,240.16"/>
<path d="M258.60,231.82 L275.20,236.94 L291.90,225.37"/>
<path d="M258.60,231.17 L275.20,237.23 L291.90,236.32"/>
<path d="M258.60,230.46 L275.20,231.32 L291.90,222.19"/>
<path d="M258.60,230.25 L275.20,229.98 L291.90,239.78"/>
<path d="M258.60,226.44 L275.20,230.08 L291.90,223.87"/>
<path d="M258.60,226.37 L275.20,226.52 L291.90,245.32"/>
<path d="M258.60,224.75 L275.20,237.12 L291.90,235.98"/>
<path d="M258.60,224.10 L275.20,227.68 L291.90,227.96"/>
<path d="M258.60,223.16 L275.20,236.16 L291.90,221.80"/>
<path d="M258.60,223.05 L275.20,225.24 L291.90,220.82"/>
<path d="M258.60,222.48 L275.20,230.98 L291.90,226.36"/>
<path d="M258.60,220.52 L275.20,234.39 L291.90,231.70"/>
<path d="M258.60,220.48 L275.20,222.30 L291.90,229.84"/>
<path d="M258.60,219.96 L275.20,219.43 L291.90,221.89"/>
<path d="M258.60,219.32 L275.20,233.20 L291.90,236.90"/>
<path d="M258.60,219.28 L275.20,223.74 L291.90,243.33"/>
<path d="M258.60,217.68 L275.20,218.07 L291.90,236.34"/>
<path d="M258.60,217.66 L275.20,223.74 L291.90,225.89"/>
<path d="M258.60,217.04 L275.20,223.21 L291.90,236.23"/>
<path d="M258.60,216.87 L275.20,221.55 L291.90,222.32"/>
<path d="M258.60,216.71 L275.20,220.93 L291.90,243.62"/>
<path d="M258.60,216.58 L275.20,220.40 L291.90,222.47"/>
<path d="M258.60,216.14 L275.20,223.49 L291.90,240.62"/>
<path d="M258.60,216.12 L275.20,217.80 L291.90,240.93"/>
<path d="M258.60,215.28 L275.20,218.48 L291.90,242.31"/>
<path d="M258.60,215.22 L275.20,216.87 L291.90,240.24"/>
<path d="M258.60,214.87 L275.20,217.97 L291.90,205.23"/>
</g>
<circle cx="258.60" cy="223.05" r="1.15" fill="#2db34a" stroke="none" stroke-width="0" />
<circle cx="258.60" cy="220.48" r="1.15" fill="#2db34a" stroke="none" stroke-width="0" />
<circle cx="258.60" cy="219.32" r="1.15" fill="#2db34a" stroke="none" stroke-width="0" />
<circle cx="258.60" cy="216.14" r="1.15" fill="#2db34a" stroke="none" stroke-width="0" />
<circle cx="258.60" cy="220.52" r="1.15" fill="#2db34a" stroke="none" stroke-width="0" />
<circle cx="258.60" cy="216.58" r="1.15" fill="#2db34a" stroke="none" stroke-width="0" />
<circle cx="258.60" cy="235.87" r="1.15" fill="#2db34a" stroke="none" stroke-width="0" />
<circle cx="258.60" cy="226.44" r="1.15" fill="#2db34a" stroke="none" stroke-width="0" />
<circle cx="258.60" cy="216.12" r="1.15" fill="#2db34a" stroke="none" stroke-width="0" />
<circle cx="258.60" cy="222.48" r="1.15" fill="#2db34a" stroke="none" stroke-width="0" />
<circle cx="258.60" cy="217.04" r="1.15" fill="#2db34a" stroke="none" stroke-width="0" />
<circle cx="258.60" cy="234.05" r="1.15" fill="#2db34a" stroke="none" stroke-width="0" />
<circle cx="258.60" cy="226.37" r="1.15" fill="#2db34a" stroke="none" stroke-width="0" />
<circle cx="258.60" cy="231.17" r="1.15" fill="#2db34a" stroke="none" stroke-width="0" />
<circle cx="258.60" cy="224.75" r="1.15" fill="#2db34a" stroke="none" stroke-width="0" />
<circle cx="258.60" cy="224.10" r="1.15" fill="#2db34a" stroke="none" stroke-width="0" />
<circle cx="258.60" cy="236.22" r="1.15" fill="#2db34a" stroke="none" stroke-width="0" />
<circle cx="258.60" cy="231.82" r="1.15" fill="#2db34a" stroke="none" stroke-width="0" />
<circle cx="258.60" cy="230.46" r="1.15" fill="#2db34a" stroke="none" stroke-width="0" />
<circle cx="258.60" cy="216.71" r="1.15" fill="#2db34a" stroke="none" stroke-width="0" />
<circle cx="258.60" cy="219.96" r="1.15" fill="#2db34a" stroke="none" stroke-width="0" />
<circle cx="258.60" cy="233.05" r="1.15" fill="#2db34a" stroke="none" stroke-width="0" />
<circle cx="258.60" cy="219.28" r="1.15" fill="#2db34a" stroke="none" stroke-width="0" />
<circle cx="258.60" cy="233.50" r="1.15" fill="#2db34a" stroke="none" stroke-width="0" />
<circle cx="258.60" cy="223.16" r="1.15" fill="#2db34a" stroke="none" stroke-width="0" />
<circle cx="258.60" cy="233.76" r="1.15" fill="#2db34a" stroke="none" stroke-width="0" />
<circle cx="258.60" cy="236.46" r="1.15" fill="#2db34a" stroke="none" stroke-width="0" />
<circle cx="258.60" cy="217.68" r="1.15" fill="#2db34a" stroke="none" stroke-width="0" />
<circle cx="258.60" cy="231.98" r="1.15" fill="#2db34a" stroke="none" stroke-width="0" />
<circle cx="258.60" cy="231.85" r="1.15" fill="#2db34a" stroke="none" stroke-width="0" />
<circle cx="258.60" cy="215.28" r="1.15" fill="#2db34a" stroke="none" stroke-width="0" />
<circle cx="258.60" cy="217.66" r="1.15" fill="#2db34a" stroke="none" stroke-width="0" />
<circle cx="258.60" cy="230.25" r="1.15" fill="#2db34a" stroke="none" stroke-width="0" />
<circle cx="258.60" cy="240.50" r="1.15" fill="#2db34a" stroke="none" stroke-width="0" />
<circle cx="258.60" cy="215.22" r="1.15" fill="#2db34a" stroke="none" stroke-width="0" />
<circle cx="258.60" cy="214.87" r="1.15" fill="#2db34a" stroke="none" stroke-width="0" />
<circle cx="258.60" cy="216.87" r="1.15" fill="#2db34a" stroke="none" stroke-width="0" />
<circle cx="275.20" cy="218.07" r="1.15" fill="#1b5aa0" stroke="none" stroke-width="0" />
<circle cx="275.20" cy="226.52" r="1.15" fill="#1b5aa0" stroke="none" stroke-width="0" />
<circle cx="275.20" cy="223.74" r="1.15" fill="#1b5aa0" stroke="none" stroke-width="0" />
<circle cx="275.20" cy="233.20" r="1.15" fill="#1b5aa0" stroke="none" stroke-width="0" />
<circle cx="275.20" cy="218.48" r="1.15" fill="#1b5aa0" stroke="none" stroke-width="0" />
<circle cx="275.20" cy="223.49" r="1.15" fill="#1b5aa0" stroke="none" stroke-width="0" />
<circle cx="275.20" cy="217.97" r="1.15" fill="#1b5aa0" stroke="none" stroke-width="0" />
<circle cx="275.20" cy="219.43" r="1.15" fill="#1b5aa0" stroke="none" stroke-width="0" />
<circle cx="275.20" cy="231.32" r="1.15" fill="#1b5aa0" stroke="none" stroke-width="0" />
<circle cx="275.20" cy="230.08" r="1.15" fill="#1b5aa0" stroke="none" stroke-width="0" />
<circle cx="275.20" cy="233.98" r="1.15" fill="#1b5aa0" stroke="none" stroke-width="0" />
<circle cx="275.20" cy="234.39" r="1.15" fill="#1b5aa0" stroke="none" stroke-width="0" />
<circle cx="275.20" cy="236.00" r="1.15" fill="#1b5aa0" stroke="none" stroke-width="0" />
<circle cx="275.20" cy="231.27" r="1.15" fill="#1b5aa0" stroke="none" stroke-width="0" />
<circle cx="275.20" cy="225.24" r="1.15" fill="#1b5aa0" stroke="none" stroke-width="0" />
<circle cx="275.20" cy="237.23" r="1.15" fill="#1b5aa0" stroke="none" stroke-width="0" />
<circle cx="275.20" cy="223.74" r="1.15" fill="#1b5aa0" stroke="none" stroke-width="0" />
<circle cx="275.20" cy="230.54" r="1.15" fill="#1b5aa0" stroke="none" stroke-width="0" />
<circle cx="275.20" cy="231.10" r="1.15" fill="#1b5aa0" stroke="none" stroke-width="0" />
<circle cx="275.20" cy="220.93" r="1.15" fill="#1b5aa0" stroke="none" stroke-width="0" />
<circle cx="275.20" cy="227.69" r="1.15" fill="#1b5aa0" stroke="none" stroke-width="0" />
<circle cx="275.20" cy="230.98" r="1.15" fill="#1b5aa0" stroke="none" stroke-width="0" />
<circle cx="275.20" cy="227.68" r="1.15" fill="#1b5aa0" stroke="none" stroke-width="0" />
<circle cx="275.20" cy="223.21" r="1.15" fill="#1b5aa0" stroke="none" stroke-width="0" />
<circle cx="275.20" cy="236.16" r="1.15" fill="#1b5aa0" stroke="none" stroke-width="0" />
<circle cx="275.20" cy="217.80" r="1.15" fill="#1b5aa0" stroke="none" stroke-width="0" />
<circle cx="275.20" cy="236.84" r="1.15" fill="#1b5aa0" stroke="none" stroke-width="0" />
<circle cx="275.20" cy="222.30" r="1.15" fill="#1b5aa0" stroke="none" stroke-width="0" />
<circle cx="275.20" cy="220.40" r="1.15" fill="#1b5aa0" stroke="none" stroke-width="0" />
<circle cx="275.20" cy="236.94" r="1.15" fill="#1b5aa0" stroke="none" stroke-width="0" />
<circle cx="275.20" cy="221.55" r="1.15" fill="#1b5aa0" stroke="none" stroke-width="0" />
<circle cx="275.20" cy="229.98" r="1.15" fill="#1b5aa0" stroke="none" stroke-width="0" />
<circle cx="275.20" cy="225.73" r="1.15" fill="#1b5aa0" stroke="none" stroke-width="0" />
<circle cx="275.20" cy="237.12" r="1.15" fill="#1b5aa0" stroke="none" stroke-width="0" />
<circle cx="275.20" cy="236.37" r="1.15" fill="#1b5aa0" stroke="none" stroke-width="0" />
<circle cx="275.20" cy="245.32" r="1.15" fill="#1b5aa0" stroke="none" stroke-width="0" />
<circle cx="275.20" cy="216.87" r="1.15" fill="#1b5aa0" stroke="none" stroke-width="0" />
<circle cx="291.90" cy="240.16" r="1.15" fill="#d3153a" stroke="none" stroke-width="0" />
<circle cx="291.90" cy="221.58" r="1.15" fill="#d3153a" stroke="none" stroke-width="0" />
<circle cx="291.90" cy="239.78" r="1.15" fill="#d3153a" stroke="none" stroke-width="0" />
<circle cx="291.90" cy="226.36" r="1.15" fill="#d3153a" stroke="none" stroke-width="0" />
<circle cx="291.90" cy="222.19" r="1.15" fill="#d3153a" stroke="none" stroke-width="0" />
<circle cx="291.90" cy="221.89" r="1.15" fill="#d3153a" stroke="none" stroke-width="0" />
<circle cx="291.90" cy="236.23" r="1.15" fill="#d3153a" stroke="none" stroke-width="0" />
<circle cx="291.90" cy="235.98" r="1.15" fill="#d3153a" stroke="none" stroke-width="0" />
<circle cx="291.90" cy="231.91" r="1.15" fill="#d3153a" stroke="none" stroke-width="0" />
<circle cx="291.90" cy="225.89" r="1.15" fill="#d3153a" stroke="none" stroke-width="0" />
<circle cx="291.90" cy="241.91" r="1.15" fill="#d3153a" stroke="none" stroke-width="0" />
<circle cx="291.90" cy="226.54" r="1.15" fill="#d3153a" stroke="none" stroke-width="0" />
<circle cx="291.90" cy="225.37" r="1.15" fill="#d3153a" stroke="none" stroke-width="0" />
<circle cx="291.90" cy="223.87" r="1.15" fill="#d3153a" stroke="none" stroke-width="0" />
<circle cx="291.90" cy="243.62" r="1.15" fill="#d3153a" stroke="none" stroke-width="0" />
<circle cx="291.90" cy="221.80" r="1.15" fill="#d3153a" stroke="none" stroke-width="0" />
<circle cx="291.90" cy="242.31" r="1.15" fill="#d3153a" stroke="none" stroke-width="0" />
<circle cx="291.90" cy="236.32" r="1.15" fill="#d3153a" stroke="none" stroke-width="0" />
<circle cx="291.90" cy="229.84" r="1.15" fill="#d3153a" stroke="none" stroke-width="0" />
<circle cx="291.90" cy="222.47" r="1.15" fill="#d3153a" stroke="none" stroke-width="0" />
<circle cx="291.90" cy="236.34" r="1.15" fill="#d3153a" stroke="none" stroke-width="0" />
<circle cx="291.90" cy="222.32" r="1.15" fill="#d3153a" stroke="none" stroke-width="0" />
<circle cx="291.90" cy="231.42" r="1.15" fill="#d3153a" stroke="none" stroke-width="0" />
<circle cx="291.90" cy="237.00" r="1.15" fill="#d3153a" stroke="none" stroke-width="0" />
<circle cx="291.90" cy="236.90" r="1.15" fill="#d3153a" stroke="none" stroke-width="0" />
<circle cx="291.90" cy="240.24" r="1.15" fill="#d3153a" stroke="none" stroke-width="0" />
<circle cx="291.90" cy="242.62" r="1.15" fill="#d3153a" stroke="none" stroke-width="0" />
<circle cx="291.90" cy="240.93" r="1.15" fill="#d3153a" stroke="none" stroke-width="0" />
<circle cx="291.90" cy="227.96" r="1.15" fill="#d3153a" stroke="none" stroke-width="0" />
<circle cx="291.90" cy="220.58" r="1.15" fill="#d3153a" stroke="none" stroke-width="0" />
<circle cx="291.90" cy="240.62" r="1.15" fill="#d3153a" stroke="none" stroke-width="0" />
<circle cx="291.90" cy="243.33" r="1.15" fill="#d3153a" stroke="none" stroke-width="0" />
<circle cx="291.90" cy="220.82" r="1.15" fill="#d3153a" stroke="none" stroke-width="0" />
<circle cx="291.90" cy="231.70" r="1.15" fill="#d3153a" stroke="none" stroke-width="0" />
<circle cx="291.90" cy="234.76" r="1.15" fill="#d3153a" stroke="none" stroke-width="0" />
<circle cx="291.90" cy="245.32" r="1.15" fill="#d3153a" stroke="none" stroke-width="0" />
<circle cx="291.90" cy="205.23" r="1.15" fill="#d3153a" stroke="none" stroke-width="0" />
<line x1="247.60" y1="201.50" x2="247.60" y2="256.80" stroke="#111" stroke-width="0.8" />
<line x1="247.20" y1="256.40" x2="296.10" y2="256.40" stroke="#111" stroke-width="0.8" />
<line x1="246.50" y1="251.68" x2="247.60" y2="251.68" stroke="#111" stroke-width="0.4" />
<line x1="246.50" y1="248.87" x2="247.60" y2="248.87" stroke="#111" stroke-width="0.4" />
<line x1="246.50" y1="246.87" x2="247.60" y2="246.87" stroke="#111" stroke-width="0.4" />
<line x1="246.50" y1="245.32" x2="247.60" y2="245.32" stroke="#111" stroke-width="0.4" />
<line x1="246.50" y1="244.05" x2="247.60" y2="244.05" stroke="#111" stroke-width="0.4" />
<line x1="246.50" y1="242.98" x2="247.60" y2="242.98" stroke="#111" stroke-width="0.4" />
<line x1="246.50" y1="242.05" x2="247.60" y2="242.05" stroke="#111" stroke-width="0.4" />
<line x1="246.50" y1="241.23" x2="247.60" y2="241.23" stroke="#111" stroke-width="0.4" />
<line x1="246.50" y1="235.68" x2="247.60" y2="235.68" stroke="#111" stroke-width="0.4" />
<line x1="246.50" y1="232.87" x2="247.60" y2="232.87" stroke="#111" stroke-width="0.4" />
<line x1="246.50" y1="230.87" x2="247.60" y2="230.87" stroke="#111" stroke-width="0.4" />
<line x1="246.50" y1="229.32" x2="247.60" y2="229.32" stroke="#111" stroke-width="0.4" />
<line x1="246.50" y1="228.05" x2="247.60" y2="228.05" stroke="#111" stroke-width="0.4" />
<line x1="246.50" y1="226.98" x2="247.60" y2="226.98" stroke="#111" stroke-width="0.4" />
<line x1="246.50" y1="226.05" x2="247.60" y2="226.05" stroke="#111" stroke-width="0.4" />
<line x1="246.50" y1="225.23" x2="247.60" y2="225.23" stroke="#111" stroke-width="0.4" />
<line x1="246.50" y1="219.68" x2="247.60" y2="219.68" stroke="#111" stroke-width="0.4" />
<line x1="246.50" y1="216.87" x2="247.60" y2="216.87" stroke="#111" stroke-width="0.4" />
<line x1="246.50" y1="214.87" x2="247.60" y2="214.87" stroke="#111" stroke-width="0.4" />
<line x1="246.50" y1="213.32" x2="247.60" y2="213.32" stroke="#111" stroke-width="0.4" />
<line x1="246.50" y1="212.05" x2="247.60" y2="212.05" stroke="#111" stroke-width="0.4" />
<line x1="246.50" y1="210.98" x2="247.60" y2="210.98" stroke="#111" stroke-width="0.4" />
<line x1="246.50" y1="210.05" x2="247.60" y2="210.05" stroke="#111" stroke-width="0.4" />
<line x1="246.50" y1="209.23" x2="247.60" y2="209.23" stroke="#111" stroke-width="0.4" />
<line x1="245.60" y1="208.50" x2="247.60" y2="208.50" stroke="#111" stroke-width="0.6" />
<text x="243.50" y="208.90" font-size="5.6" fill="#222" text-anchor="end" textLength="3.15" lengthAdjust="spacingAndGlyphs" stroke="#222" stroke-width="0.078" dominant-baseline="central">1</text>
<line x1="245.60" y1="224.50" x2="247.60" y2="224.50" stroke="#111" stroke-width="0.6" />
<text x="243.50" y="224.90" font-size="5.6" fill="#222" text-anchor="end" textLength="7.82" lengthAdjust="spacingAndGlyphs" stroke="#222" stroke-width="0.078" dominant-baseline="central">0.1</text>
<line x1="245.60" y1="240.50" x2="247.60" y2="240.50" stroke="#111" stroke-width="0.6" />
<text x="243.50" y="240.90" font-size="5.6" fill="#222" text-anchor="end" textLength="10.97" lengthAdjust="spacingAndGlyphs" stroke="#222" stroke-width="0.078" dominant-baseline="central">0.01</text>
<line x1="245.60" y1="256.50" x2="247.60" y2="256.50" stroke="#111" stroke-width="0.6" />
<text x="243.50" y="256.90" font-size="5.6" fill="#222" text-anchor="end" textLength="14.12" lengthAdjust="spacingAndGlyphs" stroke="#222" stroke-width="0.078" dominant-baseline="central">0.001</text>
<line x1="258.60" y1="256.40" x2="258.60" y2="258.00" stroke="#111" stroke-width="0.6" />
<line x1="275.20" y1="256.40" x2="275.20" y2="258.00" stroke="#111" stroke-width="0.6" />
<line x1="291.90" y1="256.40" x2="291.90" y2="258.00" stroke="#111" stroke-width="0.6" />
<text x="258.60" y="263.40" font-size="5.8" fill="#222" text-anchor="middle" textLength="7.60" lengthAdjust="spacingAndGlyphs" stroke="#222" stroke-width="0.081" dominant-baseline="central">M3</text>
<text x="275.20" y="263.40" font-size="5.8" fill="#222" text-anchor="middle" textLength="7.60" lengthAdjust="spacingAndGlyphs" stroke="#222" stroke-width="0.081" dominant-baseline="central">M6</text>
<text x="291.90" y="263.40" font-size="5.8" fill="#222" text-anchor="middle" textLength="10.30" lengthAdjust="spacingAndGlyphs" stroke="#222" stroke-width="0.081" dominant-baseline="central">M12</text>
<text x="272.60" y="182.30" font-size="7.5" fill="#111" text-anchor="middle" font-weight="bold" textLength="16.00" lengthAdjust="spacingAndGlyphs" dominant-baseline="central">MC1</text>
<text x="272.60" y="190.80" font-size="6.8" fill="#222" text-anchor="middle" textLength="26.40" lengthAdjust="spacingAndGlyphs" stroke="#222" stroke-width="0.095" dominant-baseline="central">(HSPCs)</text>
<line x1="258.60" y1="202.20" x2="291.90" y2="202.20" stroke="#222" stroke-width="0.6" />
<line x1="258.60" y1="201.30" x2="258.60" y2="203.10" stroke="#222" stroke-width="0.5" />
<line x1="291.90" y1="201.30" x2="291.90" y2="203.10" stroke="#222" stroke-width="0.5" />
<text x="275.25" y="199.80" font-size="7" fill="#222" text-anchor="middle" font-weight="bold" dominant-baseline="central">***</text>
<line x1="275.20" y1="209.60" x2="291.90" y2="209.60" stroke="#222" stroke-width="0.6" />
<line x1="275.20" y1="208.70" x2="275.20" y2="210.50" stroke="#222" stroke-width="0.5" />
<line x1="291.90" y1="208.70" x2="291.90" y2="210.50" stroke="#222" stroke-width="0.5" />
<text x="283.55" y="207.20" font-size="7" fill="#222" text-anchor="middle" font-weight="bold" dominant-baseline="central">***</text>
<g stroke="#1a1a1a" stroke-width="0.3" opacity="0.8" fill="none">
<path d="M330.10,255.73 L346.70,243.82 L363.40,252.28"/>
<path d="M330.10,250.17 L346.70,244.70 L363.40,251.12"/>
<path d="M330.10,249.30 L346.70,246.53 L363.40,243.94"/>
<path d="M330.10,249.27 L346.70,244.20 L363.40,243.17"/>
<path d="M330.10,247.42 L346.70,243.75 L363.40,243.84"/>
<path d="M330.10,246.79 L346.70,243.88 L363.40,245.32"/>
<path d="M330.10,246.23 L346.70,243.88 L363.40,242.33"/>
<path d="M330.10,245.75 L346.70,240.66 L363.40,240.62"/>
<path d="M330.10,245.19 L346.70,233.66 L363.40,242.79"/>
<path d="M330.10,244.87 L346.70,239.56 L363.40,245.47"/>
<path d="M330.10,244.75 L346.70,243.17 L363.40,236.02"/>
<path d="M330.10,244.68 L346.70,247.32 L363.40,234.62"/>
<path d="M330.10,244.03 L346.70,229.05 L363.40,250.04"/>
<path d="M330.10,243.96 L346.70,233.65 L363.40,246.01"/>
<path d="M330.10,243.72 L346.70,239.58 L363.40,239.49"/>
<path d="M330.10,242.46 L346.70,251.52 L363.40,243.25"/>
<path d="M330.10,241.06 L346.70,227.84 L363.40,241.12"/>
<path d="M330.10,241.02 L346.70,243.99 L363.40,241.19"/>
<path d="M330.10,240.36 L346.70,230.41 L363.40,238.14"/>
<path d="M330.10,240.35 L346.70,247.42 L363.40,248.05"/>
<path d="M330.10,240.07 L346.70,244.31 L363.40,242.39"/>
<path d="M330.10,239.92 L346.70,237.18 L363.40,236.95"/>
<path d="M330.10,239.59 L346.70,240.71 L363.40,240.32"/>
<path d="M330.10,239.28 L346.70,240.38 L363.40,246.98"/>
<path d="M330.10,234.56 L346.70,223.77 L363.40,242.64"/>
<path d="M330.10,231.63 L346.70,238.00 L363.40,231.78"/>
<path d="M330.10,231.54 L346.70,234.73 L363.40,231.73"/>
<path d="M330.10,230.61 L346.70,237.70 L363.40,244.33"/>
<path d="M330.10,228.13 L346.70,239.63 L363.40,232.68"/>
<path d="M330.10,227.86 L346.70,241.28 L363.40,236.09"/>
<path d="M330.10,227.34 L346.70,234.27 L363.40,234.43"/>
<path d="M330.10,226.97 L346.70,224.31 L363.40,233.93"/>
<path d="M330.10,226.17 L346.70,238.09 L363.40,225.64"/>
<path d="M330.10,224.28 L346.70,232.26 L363.40,237.83"/>
<path d="M330.10,222.24 L346.70,222.24 L363.40,231.52"/>
<path d="M330.10,209.29 L346.70,214.74 L363.40,224.28"/>
</g>
<circle cx="330.10" cy="243.96" r="1.15" fill="#2db34a" stroke="none" stroke-width="0" />
<circle cx="330.10" cy="234.56" r="1.15" fill="#2db34a" stroke="none" stroke-width="0" />
<circle cx="330.10" cy="239.28" r="1.15" fill="#2db34a" stroke="none" stroke-width="0" />
<circle cx="330.10" cy="244.87" r="1.15" fill="#2db34a" stroke="none" stroke-width="0" />
<circle cx="330.10" cy="249.27" r="1.15" fill="#2db34a" stroke="none" stroke-width="0" />
<circle cx="330.10" cy="240.35" r="1.15" fill="#2db34a" stroke="none" stroke-width="0" />
<circle cx="330.10" cy="241.06" r="1.15" fill="#2db34a" stroke="none" stroke-width="0" />
<circle cx="330.10" cy="228.13" r="1.15" fill="#2db34a" stroke="none" stroke-width="0" />
<circle cx="330.10" cy="227.34" r="1.15" fill="#2db34a" stroke="none" stroke-width="0" />
<circle cx="330.10" cy="240.07" r="1.15" fill="#2db34a" stroke="none" stroke-width="0" />
<circle cx="330.10" cy="245.19" r="1.15" fill="#2db34a" stroke="none" stroke-width="0" />
<circle cx="330.10" cy="231.54" r="1.15" fill="#2db34a" stroke="none" stroke-width="0" />
<circle cx="330.10" cy="255.73" r="1.15" fill="#2db34a" stroke="none" stroke-width="0" />
<circle cx="330.10" cy="250.17" r="1.15" fill="#2db34a" stroke="none" stroke-width="0" />
<circle cx="330.10" cy="241.02" r="1.15" fill="#2db34a" stroke="none" stroke-width="0" />
<circle cx="330.10" cy="239.92" r="1.15" fill="#2db34a" stroke="none" stroke-width="0" />
<circle cx="330.10" cy="249.30" r="1.15" fill="#2db34a" stroke="none" stroke-width="0" />
<circle cx="330.10" cy="239.59" r="1.15" fill="#2db34a" stroke="none" stroke-width="0" />
<circle cx="330.10" cy="231.63" r="1.15" fill="#2db34a" stroke="none" stroke-width="0" />
<circle cx="330.10" cy="244.75" r="1.15" fill="#2db34a" stroke="none" stroke-width="0" />
<circle cx="330.10" cy="243.72" r="1.15" fill="#2db34a" stroke="none" stroke-width="0" />
<circle cx="330.10" cy="247.42" r="1.15" fill="#2db34a" stroke="none" stroke-width="0" />
<circle cx="330.10" cy="246.23" r="1.15" fill="#2db34a" stroke="none" stroke-width="0" />
<circle cx="330.10" cy="226.97" r="1.15" fill="#2db34a" stroke="none" stroke-width="0" />
<circle cx="330.10" cy="244.68" r="1.15" fill="#2db34a" stroke="none" stroke-width="0" />
<circle cx="330.10" cy="227.86" r="1.15" fill="#2db34a" stroke="none" stroke-width="0" />
<circle cx="330.10" cy="230.61" r="1.15" fill="#2db34a" stroke="none" stroke-width="0" />
<circle cx="330.10" cy="240.36" r="1.15" fill="#2db34a" stroke="none" stroke-width="0" />
<circle cx="330.10" cy="246.79" r="1.15" fill="#2db34a" stroke="none" stroke-width="0" />
<circle cx="330.10" cy="226.17" r="1.15" fill="#2db34a" stroke="none" stroke-width="0" />
<circle cx="330.10" cy="242.46" r="1.15" fill="#2db34a" stroke="none" stroke-width="0" />
<circle cx="330.10" cy="244.03" r="1.15" fill="#2db34a" stroke="none" stroke-width="0" />
<circle cx="330.10" cy="245.75" r="1.15" fill="#2db34a" stroke="none" stroke-width="0" />
<circle cx="330.10" cy="209.29" r="1.15" fill="#2db34a" stroke="none" stroke-width="0" />
<circle cx="330.10" cy="222.24" r="1.15" fill="#2db34a" stroke="none" stroke-width="0" />
<circle cx="330.10" cy="224.28" r="1.15" fill="#2db34a" stroke="none" stroke-width="0" />
<circle cx="346.70" cy="224.31" r="1.15" fill="#1b5aa0" stroke="none" stroke-width="0" />
<circle cx="346.70" cy="240.38" r="1.15" fill="#1b5aa0" stroke="none" stroke-width="0" />
<circle cx="346.70" cy="243.99" r="1.15" fill="#1b5aa0" stroke="none" stroke-width="0" />
<circle cx="346.70" cy="240.66" r="1.15" fill="#1b5aa0" stroke="none" stroke-width="0" />
<circle cx="346.70" cy="247.32" r="1.15" fill="#1b5aa0" stroke="none" stroke-width="0" />
<circle cx="346.70" cy="237.70" r="1.15" fill="#1b5aa0" stroke="none" stroke-width="0" />
<circle cx="346.70" cy="241.28" r="1.15" fill="#1b5aa0" stroke="none" stroke-width="0" />
<circle cx="346.70" cy="243.88" r="1.15" fill="#1b5aa0" stroke="none" stroke-width="0" />
<circle cx="346.70" cy="233.66" r="1.15" fill="#1b5aa0" stroke="none" stroke-width="0" />
<circle cx="346.70" cy="232.26" r="1.15" fill="#1b5aa0" stroke="none" stroke-width="0" />
<circle cx="346.70" cy="251.52" r="1.15" fill="#1b5aa0" stroke="none" stroke-width="0" />
<circle cx="346.70" cy="239.58" r="1.15" fill="#1b5aa0" stroke="none" stroke-width="0" />
<circle cx="346.70" cy="244.20" r="1.15" fill="#1b5aa0" stroke="none" stroke-width="0" />
<circle cx="346.70" cy="227.84" r="1.15" fill="#1b5aa0" stroke="none" stroke-width="0" />
<circle cx="346.70" cy="233.65" r="1.15" fill="#1b5aa0" stroke="none" stroke-width="0" />
<circle cx="346.70" cy="244.70" r="1.15" fill="#1b5aa0" stroke="none" stroke-width="0" />
<circle cx="346.70" cy="244.31" r="1.15" fill="#1b5aa0" stroke="none" stroke-width="0" />
<circle cx="346.70" cy="246.53" r="1.15" fill="#1b5aa0" stroke="none" stroke-width="0" />
<circle cx="346.70" cy="223.77" r="1.15" fill="#1b5aa0" stroke="none" stroke-width="0" />
<circle cx="346.70" cy="243.88" r="1.15" fill="#1b5aa0" stroke="none" stroke-width="0" />
<circle cx="346.70" cy="238.00" r="1.15" fill="#1b5aa0" stroke="none" stroke-width="0" />
<circle cx="346.70" cy="240.71" r="1.15" fill="#1b5aa0" stroke="none" stroke-width="0" />
<circle cx="346.70" cy="237.18" r="1.15" fill="#1b5aa0" stroke="none" stroke-width="0" />
<circle cx="346.70" cy="238.09" r="1.15" fill="#1b5aa0" stroke="none" stroke-width="0" />
<circle cx="346.70" cy="234.73" r="1.15" fill="#1b5aa0" stroke="none" stroke-width="0" />
<circle cx="346.70" cy="247.42" r="1.15" fill="#1b5aa0" stroke="none" stroke-width="0" />
<circle cx="346.70" cy="234.27" r="1.15" fill="#1b5aa0" stroke="none" stroke-width="0" />
<circle cx="346.70" cy="243.75" r="1.15" fill="#1b5aa0" stroke="none" stroke-width="0" />
<circle cx="346.70" cy="239.56" r="1.15" fill="#1b5aa0" stroke="none" stroke-width="0" />
<circle cx="346.70" cy="243.17" r="1.15" fill="#1b5aa0" stroke="none" stroke-width="0" />
<circle cx="346.70" cy="243.82" r="1.15" fill="#1b5aa0" stroke="none" stroke-width="0" />
<circle cx="346.70" cy="239.63" r="1.15" fill="#1b5aa0" stroke="none" stroke-width="0" />
<circle cx="346.70" cy="214.74" r="1.15" fill="#1b5aa0" stroke="none" stroke-width="0" />
<circle cx="346.70" cy="222.24" r="1.15" fill="#1b5aa0" stroke="none" stroke-width="0" />
<circle cx="346.70" cy="230.41" r="1.15" fill="#1b5aa0" stroke="none" stroke-width="0" />
<circle cx="346.70" cy="229.05" r="1.15" fill="#1b5aa0" stroke="none" stroke-width="0" />
<circle cx="363.40" cy="242.64" r="1.15" fill="#d3153a" stroke="none" stroke-width="0" />
<circle cx="363.40" cy="244.33" r="1.15" fill="#d3153a" stroke="none" stroke-width="0" />
<circle cx="363.40" cy="236.95" r="1.15" fill="#d3153a" stroke="none" stroke-width="0" />
<circle cx="363.40" cy="240.32" r="1.15" fill="#d3153a" stroke="none" stroke-width="0" />
<circle cx="363.40" cy="251.12" r="1.15" fill="#d3153a" stroke="none" stroke-width="0" />
<circle cx="363.40" cy="246.01" r="1.15" fill="#d3153a" stroke="none" stroke-width="0" />
<circle cx="363.40" cy="242.79" r="1.15" fill="#d3153a" stroke="none" stroke-width="0" />
<circle cx="363.40" cy="231.52" r="1.15" fill="#d3153a" stroke="none" stroke-width="0" />
<circle cx="363.40" cy="232.68" r="1.15" fill="#d3153a" stroke="none" stroke-width="0" />
<circle cx="363.40" cy="241.19" r="1.15" fill="#d3153a" stroke="none" stroke-width="0" />
<circle cx="363.40" cy="252.28" r="1.15" fill="#d3153a" stroke="none" stroke-width="0" />
<circle cx="363.40" cy="236.09" r="1.15" fill="#d3153a" stroke="none" stroke-width="0" />
<circle cx="363.40" cy="243.25" r="1.15" fill="#d3153a" stroke="none" stroke-width="0" />
<circle cx="363.40" cy="240.62" r="1.15" fill="#d3153a" stroke="none" stroke-width="0" />
<circle cx="363.40" cy="237.83" r="1.15" fill="#d3153a" stroke="none" stroke-width="0" />
<circle cx="363.40" cy="239.49" r="1.15" fill="#d3153a" stroke="none" stroke-width="0" />
<circle cx="363.40" cy="242.33" r="1.15" fill="#d3153a" stroke="none" stroke-width="0" />
<circle cx="363.40" cy="231.73" r="1.15" fill="#d3153a" stroke="none" stroke-width="0" />
<circle cx="363.40" cy="243.94" r="1.15" fill="#d3153a" stroke="none" stroke-width="0" />
<circle cx="363.40" cy="243.84" r="1.15" fill="#d3153a" stroke="none" stroke-width="0" />
<circle cx="363.40" cy="233.93" r="1.15" fill="#d3153a" stroke="none" stroke-width="0" />
<circle cx="363.40" cy="246.98" r="1.15" fill="#d3153a" stroke="none" stroke-width="0" />
<circle cx="363.40" cy="245.32" r="1.15" fill="#d3153a" stroke="none" stroke-width="0" />
<circle cx="363.40" cy="234.62" r="1.15" fill="#d3153a" stroke="none" stroke-width="0" />
<circle cx="363.40" cy="250.04" r="1.15" fill="#d3153a" stroke="none" stroke-width="0" />
<circle cx="363.40" cy="234.43" r="1.15" fill="#d3153a" stroke="none" stroke-width="0" />
<circle cx="363.40" cy="238.14" r="1.15" fill="#d3153a" stroke="none" stroke-width="0" />
<circle cx="363.40" cy="243.17" r="1.15" fill="#d3153a" stroke="none" stroke-width="0" />
<circle cx="363.40" cy="245.47" r="1.15" fill="#d3153a" stroke="none" stroke-width="0" />
<circle cx="363.40" cy="236.02" r="1.15" fill="#d3153a" stroke="none" stroke-width="0" />
<circle cx="363.40" cy="231.78" r="1.15" fill="#d3153a" stroke="none" stroke-width="0" />
<circle cx="363.40" cy="248.05" r="1.15" fill="#d3153a" stroke="none" stroke-width="0" />
<circle cx="363.40" cy="242.39" r="1.15" fill="#d3153a" stroke="none" stroke-width="0" />
<circle cx="363.40" cy="241.12" r="1.15" fill="#d3153a" stroke="none" stroke-width="0" />
<circle cx="363.40" cy="224.28" r="1.15" fill="#d3153a" stroke="none" stroke-width="0" />
<circle cx="363.40" cy="225.64" r="1.15" fill="#d3153a" stroke="none" stroke-width="0" />
<line x1="319.10" y1="197.50" x2="319.10" y2="256.70" stroke="#111" stroke-width="0.8" />
<line x1="318.70" y1="256.30" x2="367.60" y2="256.30" stroke="#111" stroke-width="0.8" />
<line x1="318.00" y1="252.89" x2="319.10" y2="252.89" stroke="#111" stroke-width="0.4" />
<line x1="318.00" y1="249.49" x2="319.10" y2="249.49" stroke="#111" stroke-width="0.4" />
<line x1="318.00" y1="246.08" x2="319.10" y2="246.08" stroke="#111" stroke-width="0.4" />
<line x1="318.00" y1="242.68" x2="319.10" y2="242.68" stroke="#111" stroke-width="0.4" />
<line x1="318.00" y1="239.27" x2="319.10" y2="239.27" stroke="#111" stroke-width="0.4" />
<line x1="318.00" y1="235.86" x2="319.10" y2="235.86" stroke="#111" stroke-width="0.4" />
<line x1="318.00" y1="232.46" x2="319.10" y2="232.46" stroke="#111" stroke-width="0.4" />
<line x1="318.00" y1="229.05" x2="319.10" y2="229.05" stroke="#111" stroke-width="0.4" />
<line x1="318.00" y1="225.64" x2="319.10" y2="225.64" stroke="#111" stroke-width="0.4" />
<line x1="318.00" y1="222.24" x2="319.10" y2="222.24" stroke="#111" stroke-width="0.4" />
<line x1="318.00" y1="218.83" x2="319.10" y2="218.83" stroke="#111" stroke-width="0.4" />
<line x1="318.00" y1="215.43" x2="319.10" y2="215.43" stroke="#111" stroke-width="0.4" />
<line x1="318.00" y1="212.02" x2="319.10" y2="212.02" stroke="#111" stroke-width="0.4" />
<line x1="318.00" y1="208.61" x2="319.10" y2="208.61" stroke="#111" stroke-width="0.4" />
<line x1="318.00" y1="205.21" x2="319.10" y2="205.21" stroke="#111" stroke-width="0.4" />
<line x1="318.00" y1="201.80" x2="319.10" y2="201.80" stroke="#111" stroke-width="0.4" />
<line x1="317.10" y1="256.30" x2="319.10" y2="256.30" stroke="#111" stroke-width="0.6" />
<text x="315.00" y="256.70" font-size="5.6" fill="#222" text-anchor="end" textLength="3.15" lengthAdjust="spacingAndGlyphs" stroke="#222" stroke-width="0.078" dominant-baseline="central">0</text>
<line x1="317.10" y1="242.68" x2="319.10" y2="242.68" stroke="#111" stroke-width="0.6" />
<text x="315.00" y="243.08" font-size="5.6" fill="#222" text-anchor="end" textLength="6.30" lengthAdjust="spacingAndGlyphs" stroke="#222" stroke-width="0.078" dominant-baseline="central">20</text>
<line x1="317.10" y1="229.05" x2="319.10" y2="229.05" stroke="#111" stroke-width="0.6" />
<text x="315.00" y="229.45" font-size="5.6" fill="#222" text-anchor="end" textLength="6.30" lengthAdjust="spacingAndGlyphs" stroke="#222" stroke-width="0.078" dominant-baseline="central">40</text>
<line x1="317.10" y1="215.43" x2="319.10" y2="215.43" stroke="#111" stroke-width="0.6" />
<text x="315.00" y="215.83" font-size="5.6" fill="#222" text-anchor="end" textLength="6.30" lengthAdjust="spacingAndGlyphs" stroke="#222" stroke-width="0.078" dominant-baseline="central">60</text>
<line x1="317.10" y1="201.80" x2="319.10" y2="201.80" stroke="#111" stroke-width="0.6" />
<text x="315.00" y="202.20" font-size="5.6" fill="#222" text-anchor="end" textLength="6.30" lengthAdjust="spacingAndGlyphs" stroke="#222" stroke-width="0.078" dominant-baseline="central">80</text>
<line x1="330.10" y1="256.30" x2="330.10" y2="257.90" stroke="#111" stroke-width="0.6" />
<line x1="346.70" y1="256.30" x2="346.70" y2="257.90" stroke="#111" stroke-width="0.6" />
<line x1="363.40" y1="256.30" x2="363.40" y2="257.90" stroke="#111" stroke-width="0.6" />
<text x="330.10" y="263.40" font-size="5.8" fill="#222" text-anchor="middle" textLength="7.60" lengthAdjust="spacingAndGlyphs" stroke="#222" stroke-width="0.081" dominant-baseline="central">M3</text>
<text x="346.70" y="263.40" font-size="5.8" fill="#222" text-anchor="middle" textLength="7.60" lengthAdjust="spacingAndGlyphs" stroke="#222" stroke-width="0.081" dominant-baseline="central">M6</text>
<text x="363.40" y="263.40" font-size="5.8" fill="#222" text-anchor="middle" textLength="10.30" lengthAdjust="spacingAndGlyphs" stroke="#222" stroke-width="0.081" dominant-baseline="central">M12</text>
<text x="351.30" y="182.00" font-size="7.5" fill="#111" text-anchor="middle" font-weight="bold" textLength="16.00" lengthAdjust="spacingAndGlyphs" dominant-baseline="central">MC2</text>
<text x="351.30" y="191.40" font-size="6.8" fill="#222" text-anchor="middle" textLength="40.00" lengthAdjust="spacingAndGlyphs" stroke="#222" stroke-width="0.095" dominant-baseline="central">(monocytes)</text>
<line x1="346.70" y1="209.30" x2="363.40" y2="209.30" stroke="#222" stroke-width="0.6" />
<line x1="346.70" y1="208.40" x2="346.70" y2="210.20" stroke="#222" stroke-width="0.5" />
<line x1="363.40" y1="208.40" x2="363.40" y2="210.20" stroke="#222" stroke-width="0.5" />
<text x="355.05" y="206.90" font-size="7" fill="#222" text-anchor="middle" font-weight="bold" dominant-baseline="central">**</text>
<g stroke="#1a1a1a" stroke-width="0.3" opacity="0.8" fill="none">
<path d="M402.60,250.92 L419.20,250.50 L435.90,247.12"/>
<path d="M402.60,250.74 L419.20,252.13 L435.90,249.26"/>
<path d="M402.60,249.92 L419.20,250.51 L435.90,252.34"/>
<path d="M402.60,249.39 L419.20,247.99 L435.90,249.16"/>
<path d="M402.60,249.01 L419.20,242.14 L435.90,247.79"/>
<path d="M402.60,248.91 L419.20,249.92 L435.90,248.37"/>
<path d="M402.60,248.90 L419.20,248.97 L435.90,251.77"/>
<path d="M402.60,248.53 L419.20,245.14 L435.90,251.46"/>
<path d="M402.60,248.27 L419.20,239.90 L435.90,246.53"/>
<path d="M402.60,248.23 L419.20,250.84 L435.90,250.81"/>
<path d="M402.60,248.07 L419.20,247.13 L435.90,250.40"/>
<path d="M402.60,247.89 L419.20,246.36 L435.90,245.27"/>
<path d="M402.60,247.81 L419.20,248.11 L435.90,240.75"/>
<path d="M402.60,247.78 L419.20,245.75 L435.90,245.58"/>
<path d="M402.60,247.63 L419.20,248.14 L435.90,246.30"/>
<path d="M402.60,247.22 L419.20,246.59 L435.90,243.34"/>
<path d="M402.60,247.19 L419.20,242.85 L435.90,247.56"/>
<path d="M402.60,247.05 L419.20,243.05 L435.90,250.51"/>
<path d="M402.60,246.93 L419.20,245.46 L435.90,250.87"/>
<path d="M402.60,246.34 L419.20,250.64 L435.90,246.21"/>
<path d="M402.60,246.25 L419.20,247.73 L435.90,246.19"/>
<path d="M402.60,244.44 L419.20,238.94 L435.90,244.01"/>
<path d="M402.60,244.39 L419.20,245.99 L435.90,238.94"/>
<path d="M402.60,244.38 L419.20,250.71 L435.90,248.35"/>
<path d="M402.60,244.23 L419.20,246.56 L435.90,249.62"/>
<path d="M402.60,243.75 L419.20,246.69 L435.90,248.40"/>
<path d="M402.60,241.56 L419.20,250.30 L435.90,248.41"/>
<path d="M402.60,240.67 L419.20,235.86 L435.90,245.87"/>
<path d="M402.60,240.35 L419.20,237.23 L435.90,242.60"/>
<path d="M402.60,240.15 L419.20,237.50 L435.90,235.86"/>
<path d="M402.60,239.27 L419.20,244.00 L435.90,237.23"/>
<path d="M402.60,239.26 L419.20,223.60 L435.90,246.75"/>
<path d="M402.60,235.86 L419.20,243.67 L435.90,241.94"/>
<path d="M402.60,229.73 L419.20,236.69 L435.90,240.54"/>
<path d="M402.60,219.51 L419.20,238.80 L435.90,242.48"/>
<path d="M402.60,214.06 L419.20,224.96 L435.90,227.69"/>
</g>
<circle cx="402.60" cy="247.05" r="1.15" fill="#2db34a" stroke="none" stroke-width="0" />
<circle cx="402.60" cy="241.56" r="1.15" fill="#2db34a" stroke="none" stroke-width="0" />
<circle cx="402.60" cy="249.01" r="1.15" fill="#2db34a" stroke="none" stroke-width="0" />
<circle cx="402.60" cy="248.07" r="1.15" fill="#2db34a" stroke="none" stroke-width="0" />
<circle cx="402.60" cy="247.89" r="1.15" fill="#2db34a" stroke="none" stroke-width="0" />
<circle cx="402.60" cy="248.91" r="1.15" fill="#2db34a" stroke="none" stroke-width="0" />
<circle cx="402.60" cy="247.81" r="1.15" fill="#2db34a" stroke="none" stroke-width="0" />
<circle cx="402.60" cy="248.23" r="1.15" fill="#2db34a" stroke="none" stroke-width="0" />
<circle cx="402.60" cy="246.25" r="1.15" fill="#2db34a" stroke="none" stroke-width="0" />
<circle cx="402.60" cy="250.74" r="1.15" fill="#2db34a" stroke="none" stroke-width="0" />
<circle cx="402.60" cy="240.67" r="1.15" fill="#2db34a" stroke="none" stroke-width="0" />
<circle cx="402.60" cy="247.19" r="1.15" fill="#2db34a" stroke="none" stroke-width="0" />
<circle cx="402.60" cy="240.35" r="1.15" fill="#2db34a" stroke="none" stroke-width="0" />
<circle cx="402.60" cy="244.23" r="1.15" fill="#2db34a" stroke="none" stroke-width="0" />
<circle cx="402.60" cy="244.39" r="1.15" fill="#2db34a" stroke="none" stroke-width="0" />
<circle cx="402.60" cy="246.34" r="1.15" fill="#2db34a" stroke="none" stroke-width="0" />
<circle cx="402.60" cy="240.15" r="1.15" fill="#2db34a" stroke="none" stroke-width="0" />
<circle cx="402.60" cy="249.39" r="1.15" fill="#2db34a" stroke="none" stroke-width="0" />
<circle cx="402.60" cy="244.44" r="1.15" fill="#2db34a" stroke="none" stroke-width="0" />
<circle cx="402.60" cy="247.78" r="1.15" fill="#2db34a" stroke="none" stroke-width="0" />
<circle cx="402.60" cy="244.38" r="1.15" fill="#2db34a" stroke="none" stroke-width="0" />
<circle cx="402.60" cy="243.75" r="1.15" fill="#2db34a" stroke="none" stroke-width="0" />
<circle cx="402.60" cy="248.90" r="1.15" fill="#2db34a" stroke="none" stroke-width="0" />
<circle cx="402.60" cy="248.53" r="1.15" fill="#2db34a" stroke="none" stroke-width="0" />
<circle cx="402.60" cy="250.92" r="1.15" fill="#2db34a" stroke="none" stroke-width="0" />
<circle cx="402.60" cy="248.27" r="1.15" fill="#2db34a" stroke="none" stroke-width="0" />
<circle cx="402.60" cy="249.92" r="1.15" fill="#2db34a" stroke="none" stroke-width="0" />
<circle cx="402.60" cy="246.93" r="1.15" fill="#2db34a" stroke="none" stroke-width="0" />
<circle cx="402.60" cy="239.26" r="1.15" fill="#2db34a" stroke="none" stroke-width="0" />
<circle cx="402.60" cy="247.22" r="1.15" fill="#2db34a" stroke="none" stroke-width="0" />
<circle cx="402.60" cy="247.63" r="1.15" fill="#2db34a" stroke="none" stroke-width="0" />
<circle cx="402.60" cy="214.06" r="1.15" fill="#2db34a" stroke="none" stroke-width="0" />
<circle cx="402.60" cy="219.51" r="1.15" fill="#2db34a" stroke="none" stroke-width="0" />
<circle cx="402.60" cy="229.73" r="1.15" fill="#2db34a" stroke="none" stroke-width="0" />
<circle cx="402.60" cy="235.86" r="1.15" fill="#2db34a" stroke="none" stroke-width="0" />
<circle cx="402.60" cy="239.27" r="1.15" fill="#2db34a" stroke="none" stroke-width="0" />
<circle cx="419.20" cy="245.99" r="1.15" fill="#1b5aa0" stroke="none" stroke-width="0" />
<circle cx="419.20" cy="247.73" r="1.15" fill="#1b5aa0" stroke="none" stroke-width="0" />
<circle cx="419.20" cy="242.85" r="1.15" fill="#1b5aa0" stroke="none" stroke-width="0" />
<circle cx="419.20" cy="243.05" r="1.15" fill="#1b5aa0" stroke="none" stroke-width="0" />
<circle cx="419.20" cy="248.97" r="1.15" fill="#1b5aa0" stroke="none" stroke-width="0" />
<circle cx="419.20" cy="248.14" r="1.15" fill="#1b5aa0" stroke="none" stroke-width="0" />
<circle cx="419.20" cy="243.67" r="1.15" fill="#1b5aa0" stroke="none" stroke-width="0" />
<circle cx="419.20" cy="238.80" r="1.15" fill="#1b5aa0" stroke="none" stroke-width="0" />
<circle cx="419.20" cy="244.00" r="1.15" fill="#1b5aa0" stroke="none" stroke-width="0" />
<circle cx="419.20" cy="246.36" r="1.15" fill="#1b5aa0" stroke="none" stroke-width="0" />
<circle cx="419.20" cy="237.50" r="1.15" fill="#1b5aa0" stroke="none" stroke-width="0" />
<circle cx="419.20" cy="252.13" r="1.15" fill="#1b5aa0" stroke="none" stroke-width="0" />
<circle cx="419.20" cy="250.50" r="1.15" fill="#1b5aa0" stroke="none" stroke-width="0" />
<circle cx="419.20" cy="242.14" r="1.15" fill="#1b5aa0" stroke="none" stroke-width="0" />
<circle cx="419.20" cy="246.56" r="1.15" fill="#1b5aa0" stroke="none" stroke-width="0" />
<circle cx="419.20" cy="250.84" r="1.15" fill="#1b5aa0" stroke="none" stroke-width="0" />
<circle cx="419.20" cy="245.14" r="1.15" fill="#1b5aa0" stroke="none" stroke-width="0" />
<circle cx="419.20" cy="236.69" r="1.15" fill="#1b5aa0" stroke="none" stroke-width="0" />
<circle cx="419.20" cy="245.46" r="1.15" fill="#1b5aa0" stroke="none" stroke-width="0" />
<circle cx="419.20" cy="247.13" r="1.15" fill="#1b5aa0" stroke="none" stroke-width="0" />
<circle cx="419.20" cy="249.92" r="1.15" fill="#1b5aa0" stroke="none" stroke-width="0" />
<circle cx="419.20" cy="250.30" r="1.15" fill="#1b5aa0" stroke="none" stroke-width="0" />
<circle cx="419.20" cy="239.90" r="1.15" fill="#1b5aa0" stroke="none" stroke-width="0" />
<circle cx="419.20" cy="245.75" r="1.15" fill="#1b5aa0" stroke="none" stroke-width="0" />
<circle cx="419.20" cy="238.94" r="1.15" fill="#1b5aa0" stroke="none" stroke-width="0" />
<circle cx="419.20" cy="250.64" r="1.15" fill="#1b5aa0" stroke="none" stroke-width="0" />
<circle cx="419.20" cy="248.11" r="1.15" fill="#1b5aa0" stroke="none" stroke-width="0" />
<circle cx="419.20" cy="250.71" r="1.15" fill="#1b5aa0" stroke="none" stroke-width="0" />
<circle cx="419.20" cy="246.69" r="1.15" fill="#1b5aa0" stroke="none" stroke-width="0" />
<circle cx="419.20" cy="250.51" r="1.15" fill="#1b5aa0" stroke="none" stroke-width="0" />
<circle cx="419.20" cy="247.99" r="1.15" fill="#1b5aa0" stroke="none" stroke-width="0" />
<circle cx="419.20" cy="246.59" r="1.15" fill="#1b5aa0" stroke="none" stroke-width="0" />
<circle cx="419.20" cy="223.60" r="1.15" fill="#1b5aa0" stroke="none" stroke-width="0" />
<circle cx="419.20" cy="224.96" r="1.15" fill="#1b5aa0" stroke="none" stroke-width="0" />
<circle cx="419.20" cy="235.86" r="1.15" fill="#1b5aa0" stroke="none" stroke-width="0" />
<circle cx="419.20" cy="237.23" r="1.15" fill="#1b5aa0" stroke="none" stroke-width="0" />
<circle cx="435.90" cy="248.41" r="1.15" fill="#d3153a" stroke="none" stroke-width="0" />
<circle cx="435.90" cy="251.46" r="1.15" fill="#d3153a" stroke="none" stroke-width="0" />
<circle cx="435.90" cy="251.77" r="1.15" fill="#d3153a" stroke="none" stroke-width="0" />
<circle cx="435.90" cy="238.94" r="1.15" fill="#d3153a" stroke="none" stroke-width="0" />
<circle cx="435.90" cy="249.62" r="1.15" fill="#d3153a" stroke="none" stroke-width="0" />
<circle cx="435.90" cy="246.53" r="1.15" fill="#d3153a" stroke="none" stroke-width="0" />
<circle cx="435.90" cy="247.56" r="1.15" fill="#d3153a" stroke="none" stroke-width="0" />
<circle cx="435.90" cy="246.30" r="1.15" fill="#d3153a" stroke="none" stroke-width="0" />
<circle cx="435.90" cy="250.87" r="1.15" fill="#d3153a" stroke="none" stroke-width="0" />
<circle cx="435.90" cy="248.35" r="1.15" fill="#d3153a" stroke="none" stroke-width="0" />
<circle cx="435.90" cy="250.51" r="1.15" fill="#d3153a" stroke="none" stroke-width="0" />
<circle cx="435.90" cy="246.19" r="1.15" fill="#d3153a" stroke="none" stroke-width="0" />
<circle cx="435.90" cy="240.54" r="1.15" fill="#d3153a" stroke="none" stroke-width="0" />
<circle cx="435.90" cy="245.58" r="1.15" fill="#d3153a" stroke="none" stroke-width="0" />
<circle cx="435.90" cy="241.94" r="1.15" fill="#d3153a" stroke="none" stroke-width="0" />
<circle cx="435.90" cy="249.26" r="1.15" fill="#d3153a" stroke="none" stroke-width="0" />
<circle cx="435.90" cy="252.34" r="1.15" fill="#d3153a" stroke="none" stroke-width="0" />
<circle cx="435.90" cy="246.21" r="1.15" fill="#d3153a" stroke="none" stroke-width="0" />
<circle cx="435.90" cy="246.75" r="1.15" fill="#d3153a" stroke="none" stroke-width="0" />
<circle cx="435.90" cy="245.87" r="1.15" fill="#d3153a" stroke="none" stroke-width="0" />
<circle cx="435.90" cy="247.79" r="1.15" fill="#d3153a" stroke="none" stroke-width="0" />
<circle cx="435.90" cy="245.27" r="1.15" fill="#d3153a" stroke="none" stroke-width="0" />
<circle cx="435.90" cy="244.01" r="1.15" fill="#d3153a" stroke="none" stroke-width="0" />
<circle cx="435.90" cy="240.75" r="1.15" fill="#d3153a" stroke="none" stroke-width="0" />
<circle cx="435.90" cy="248.40" r="1.15" fill="#d3153a" stroke="none" stroke-width="0" />
<circle cx="435.90" cy="247.12" r="1.15" fill="#d3153a" stroke="none" stroke-width="0" />
<circle cx="435.90" cy="242.48" r="1.15" fill="#d3153a" stroke="none" stroke-width="0" />
<circle cx="435.90" cy="249.16" r="1.15" fill="#d3153a" stroke="none" stroke-width="0" />
<circle cx="435.90" cy="250.40" r="1.15" fill="#d3153a" stroke="none" stroke-width="0" />
<circle cx="435.90" cy="248.37" r="1.15" fill="#d3153a" stroke="none" stroke-width="0" />
<circle cx="435.90" cy="250.81" r="1.15" fill="#d3153a" stroke="none" stroke-width="0" />
<circle cx="435.90" cy="243.34" r="1.15" fill="#d3153a" stroke="none" stroke-width="0" />
<circle cx="435.90" cy="242.60" r="1.15" fill="#d3153a" stroke="none" stroke-width="0" />
<circle cx="435.90" cy="227.69" r="1.15" fill="#d3153a" stroke="none" stroke-width="0" />
<circle cx="435.90" cy="235.86" r="1.15" fill="#d3153a" stroke="none" stroke-width="0" />
<circle cx="435.90" cy="237.23" r="1.15" fill="#d3153a" stroke="none" stroke-width="0" />
<line x1="391.60" y1="197.50" x2="391.60" y2="256.70" stroke="#111" stroke-width="0.8" />
<line x1="391.20" y1="256.30" x2="440.10" y2="256.30" stroke="#111" stroke-width="0.8" />
<line x1="390.50" y1="252.89" x2="391.60" y2="252.89" stroke="#111" stroke-width="0.4" />
<line x1="390.50" y1="249.49" x2="391.60" y2="249.49" stroke="#111" stroke-width="0.4" />
<line x1="390.50" y1="246.08" x2="391.60" y2="246.08" stroke="#111" stroke-width="0.4" />
<line x1="390.50" y1="242.68" x2="391.60" y2="242.68" stroke="#111" stroke-width="0.4" />
<line x1="390.50" y1="239.27" x2="391.60" y2="239.27" stroke="#111" stroke-width="0.4" />
<line x1="390.50" y1="235.86" x2="391.60" y2="235.86" stroke="#111" stroke-width="0.4" />
<line x1="390.50" y1="232.46" x2="391.60" y2="232.46" stroke="#111" stroke-width="0.4" />
<line x1="390.50" y1="229.05" x2="391.60" y2="229.05" stroke="#111" stroke-width="0.4" />
<line x1="390.50" y1="225.64" x2="391.60" y2="225.64" stroke="#111" stroke-width="0.4" />
<line x1="390.50" y1="222.24" x2="391.60" y2="222.24" stroke="#111" stroke-width="0.4" />
<line x1="390.50" y1="218.83" x2="391.60" y2="218.83" stroke="#111" stroke-width="0.4" />
<line x1="390.50" y1="215.43" x2="391.60" y2="215.43" stroke="#111" stroke-width="0.4" />
<line x1="390.50" y1="212.02" x2="391.60" y2="212.02" stroke="#111" stroke-width="0.4" />
<line x1="390.50" y1="208.61" x2="391.60" y2="208.61" stroke="#111" stroke-width="0.4" />
<line x1="390.50" y1="205.21" x2="391.60" y2="205.21" stroke="#111" stroke-width="0.4" />
<line x1="390.50" y1="201.80" x2="391.60" y2="201.80" stroke="#111" stroke-width="0.4" />
<line x1="389.60" y1="256.30" x2="391.60" y2="256.30" stroke="#111" stroke-width="0.6" />
<text x="387.50" y="256.70" font-size="5.6" fill="#222" text-anchor="end" textLength="3.15" lengthAdjust="spacingAndGlyphs" stroke="#222" stroke-width="0.078" dominant-baseline="central">0</text>
<line x1="389.60" y1="242.68" x2="391.60" y2="242.68" stroke="#111" stroke-width="0.6" />
<text x="387.50" y="243.08" font-size="5.6" fill="#222" text-anchor="end" textLength="6.30" lengthAdjust="spacingAndGlyphs" stroke="#222" stroke-width="0.078" dominant-baseline="central">20</text>
<line x1="389.60" y1="229.05" x2="391.60" y2="229.05" stroke="#111" stroke-width="0.6" />
<text x="387.50" y="229.45" font-size="5.6" fill="#222" text-anchor="end" textLength="6.30" lengthAdjust="spacingAndGlyphs" stroke="#222" stroke-width="0.078" dominant-baseline="central">40</text>
<line x1="389.60" y1="215.43" x2="391.60" y2="215.43" stroke="#111" stroke-width="0.6" />
<text x="387.50" y="215.83" font-size="5.6" fill="#222" text-anchor="end" textLength="6.30" lengthAdjust="spacingAndGlyphs" stroke="#222" stroke-width="0.078" dominant-baseline="central">60</text>
<line x1="389.60" y1="201.80" x2="391.60" y2="201.80" stroke="#111" stroke-width="0.6" />
<text x="387.50" y="202.20" font-size="5.6" fill="#222" text-anchor="end" textLength="6.30" lengthAdjust="spacingAndGlyphs" stroke="#222" stroke-width="0.078" dominant-baseline="central">80</text>
<line x1="402.60" y1="256.30" x2="402.60" y2="257.90" stroke="#111" stroke-width="0.6" />
<line x1="419.20" y1="256.30" x2="419.20" y2="257.90" stroke="#111" stroke-width="0.6" />
<line x1="435.90" y1="256.30" x2="435.90" y2="257.90" stroke="#111" stroke-width="0.6" />
<text x="402.60" y="263.40" font-size="5.8" fill="#222" text-anchor="middle" textLength="7.60" lengthAdjust="spacingAndGlyphs" stroke="#222" stroke-width="0.081" dominant-baseline="central">M3</text>
<text x="419.20" y="263.40" font-size="5.8" fill="#222" text-anchor="middle" textLength="7.60" lengthAdjust="spacingAndGlyphs" stroke="#222" stroke-width="0.081" dominant-baseline="central">M6</text>
<text x="435.90" y="263.40" font-size="5.8" fill="#222" text-anchor="middle" textLength="10.30" lengthAdjust="spacingAndGlyphs" stroke="#222" stroke-width="0.081" dominant-baseline="central">M12</text>
<text x="419.00" y="182.00" font-size="7.5" fill="#111" text-anchor="middle" font-weight="bold" textLength="20.00" lengthAdjust="spacingAndGlyphs" dominant-baseline="central">MC16</text>
<text x="419.00" y="191.40" font-size="6.8" fill="#222" text-anchor="middle" textLength="31.00" lengthAdjust="spacingAndGlyphs" stroke="#222" stroke-width="0.095" dominant-baseline="central">(NK cells)</text>
<line x1="402.60" y1="202.20" x2="435.90" y2="202.20" stroke="#222" stroke-width="0.6" />
<line x1="402.60" y1="201.30" x2="402.60" y2="203.10" stroke="#222" stroke-width="0.5" />
<line x1="435.90" y1="201.30" x2="435.90" y2="203.10" stroke="#222" stroke-width="0.5" />
<text x="419.25" y="199.80" font-size="7" fill="#222" text-anchor="middle" font-weight="bold" dominant-baseline="central">*</text>
<line x1="419.20" y1="209.30" x2="435.90" y2="209.30" stroke="#222" stroke-width="0.6" />
<line x1="419.20" y1="208.40" x2="419.20" y2="210.20" stroke="#222" stroke-width="0.5" />
<line x1="435.90" y1="208.40" x2="435.90" y2="210.20" stroke="#222" stroke-width="0.5" />
<text x="427.55" y="206.90" font-size="7" fill="#222" text-anchor="middle" font-weight="bold" dominant-baseline="central">*</text>
<g stroke="#1a1a1a" stroke-width="0.3" opacity="0.8" fill="none">
<path d="M474.40,254.07 L491.00,250.21 L507.70,251.39"/>
<path d="M474.40,253.19 L491.00,251.58 L507.70,253.12"/>
<path d="M474.40,253.10 L491.00,250.55 L507.70,253.09"/>
<path d="M474.40,252.96 L491.00,246.66 L507.70,250.43"/>
<path d="M474.40,251.01 L491.00,246.22 L507.70,247.23"/>
<path d="M474.40,250.93 L491.00,251.13 L507.70,249.20"/>
<path d="M474.40,250.75 L491.00,248.21 L507.70,245.13"/>
<path d="M474.40,250.71 L491.00,249.49 L507.70,251.32"/>
<path d="M474.40,250.36 L491.00,247.14 L507.70,251.36"/>
<path d="M474.40,250.31 L491.00,242.76 L507.70,250.24"/>
<path d="M474.40,250.14 L491.00,249.60 L507.70,247.36"/>
<path d="M474.40,250.01 L491.00,242.71 L507.70,248.54"/>
<path d="M474.40,249.34 L491.00,249.45 L507.70,242.59"/>
<path d="M474.40,248.91 L491.00,250.82 L507.70,248.08"/>
<path d="M474.40,248.77 L491.00,242.76 L507.70,252.24"/>
<path d="M474.40,248.35 L491.00,254.96 L507.70,253.81"/>
<path d="M474.40,248.21 L491.00,242.79 L507.70,241.11"/>
<path d="M474.40,247.39 L491.00,249.42 L507.70,250.97"/>
<path d="M474.40,247.39 L491.00,252.34 L507.70,244.01"/>
<path d="M474.40,247.28 L491.00,241.12 L507.70,242.04"/>
<path d="M474.40,247.13 L491.00,246.21 L507.70,246.76"/>
<path d="M474.40,247.00 L491.00,247.82 L507.70,250.10"/>
<path d="M474.40,246.87 L491.00,243.95 L507.70,235.20"/>
<path d="M474.40,246.85 L491.00,245.53 L507.70,247.25"/>
<path d="M474.40,246.38 L491.00,251.46 L507.70,243.72"/>
<path d="M474.40,246.30 L491.00,246.91 L507.70,249.12"/>
<path d="M474.40,245.75 L491.00,242.99 L507.70,245.68"/>
<path d="M474.40,245.50 L491.00,251.09 L507.70,246.19"/>
<path d="M474.40,243.50 L491.00,247.04 L507.70,247.72"/>
<path d="M474.40,243.38 L491.00,242.46 L507.70,246.75"/>
<path d="M474.40,241.64 L491.00,245.86 L507.70,247.68"/>
<path d="M474.40,239.91 L491.00,239.19 L507.70,240.76"/>
<path d="M474.40,233.76 L491.00,240.41 L507.70,245.67"/>
<path d="M474.40,229.77 L491.00,238.10 L507.70,243.17"/>
<path d="M474.40,222.53 L491.00,247.92 L507.70,244.09"/>
<path d="M474.40,209.14 L491.00,247.17 L507.70,238.10"/>
</g>
<circle cx="474.40" cy="254.07" r="1.15" fill="#2db34a" stroke="none" stroke-width="0" />
<circle cx="474.40" cy="250.71" r="1.15" fill="#2db34a" stroke="none" stroke-width="0" />
<circle cx="474.40" cy="250.14" r="1.15" fill="#2db34a" stroke="none" stroke-width="0" />
<circle cx="474.40" cy="249.34" r="1.15" fill="#2db34a" stroke="none" stroke-width="0" />
<circle cx="474.40" cy="247.00" r="1.15" fill="#2db34a" stroke="none" stroke-width="0" />
<circle cx="474.40" cy="250.01" r="1.15" fill="#2db34a" stroke="none" stroke-width="0" />
<circle cx="474.40" cy="241.64" r="1.15" fill="#2db34a" stroke="none" stroke-width="0" />
<circle cx="474.40" cy="245.50" r="1.15" fill="#2db34a" stroke="none" stroke-width="0" />
<circle cx="474.40" cy="243.50" r="1.15" fill="#2db34a" stroke="none" stroke-width="0" />
<circle cx="474.40" cy="247.13" r="1.15" fill="#2db34a" stroke="none" stroke-width="0" />
<circle cx="474.40" cy="247.39" r="1.15" fill="#2db34a" stroke="none" stroke-width="0" />
<circle cx="474.40" cy="248.77" r="1.15" fill="#2db34a" stroke="none" stroke-width="0" />
<circle cx="474.40" cy="245.75" r="1.15" fill="#2db34a" stroke="none" stroke-width="0" />
<circle cx="474.40" cy="250.31" r="1.15" fill="#2db34a" stroke="none" stroke-width="0" />
<circle cx="474.40" cy="248.21" r="1.15" fill="#2db34a" stroke="none" stroke-width="0" />
<circle cx="474.40" cy="247.28" r="1.15" fill="#2db34a" stroke="none" stroke-width="0" />
<circle cx="474.40" cy="248.91" r="1.15" fill="#2db34a" stroke="none" stroke-width="0" />
<circle cx="474.40" cy="250.93" r="1.15" fill="#2db34a" stroke="none" stroke-width="0" />
<circle cx="474.40" cy="253.10" r="1.15" fill="#2db34a" stroke="none" stroke-width="0" />
<circle cx="474.40" cy="252.96" r="1.15" fill="#2db34a" stroke="none" stroke-width="0" />
<circle cx="474.40" cy="250.36" r="1.15" fill="#2db34a" stroke="none" stroke-width="0" />
<circle cx="474.40" cy="248.35" r="1.15" fill="#2db34a" stroke="none" stroke-width="0" />
<circle cx="474.40" cy="246.30" r="1.15" fill="#2db34a" stroke="none" stroke-width="0" />
<circle cx="474.40" cy="246.87" r="1.15" fill="#2db34a" stroke="none" stroke-width="0" />
<circle cx="474.40" cy="250.75" r="1.15" fill="#2db34a" stroke="none" stroke-width="0" />
<circle cx="474.40" cy="243.38" r="1.15" fill="#2db34a" stroke="none" stroke-width="0" />
<circle cx="474.40" cy="251.01" r="1.15" fill="#2db34a" stroke="none" stroke-width="0" />
<circle cx="474.40" cy="246.85" r="1.15" fill="#2db34a" stroke="none" stroke-width="0" />
<circle cx="474.40" cy="253.19" r="1.15" fill="#2db34a" stroke="none" stroke-width="0" />
<circle cx="474.40" cy="246.38" r="1.15" fill="#2db34a" stroke="none" stroke-width="0" />
<circle cx="474.40" cy="247.39" r="1.15" fill="#2db34a" stroke="none" stroke-width="0" />
<circle cx="474.40" cy="209.14" r="1.15" fill="#2db34a" stroke="none" stroke-width="0" />
<circle cx="474.40" cy="222.53" r="1.15" fill="#2db34a" stroke="none" stroke-width="0" />
<circle cx="474.40" cy="229.77" r="1.15" fill="#2db34a" stroke="none" stroke-width="0" />
<circle cx="474.40" cy="233.76" r="1.15" fill="#2db34a" stroke="none" stroke-width="0" />
<circle cx="474.40" cy="239.91" r="1.15" fill="#2db34a" stroke="none" stroke-width="0" />
<circle cx="491.00" cy="241.12" r="1.15" fill="#1b5aa0" stroke="none" stroke-width="0" />
<circle cx="491.00" cy="242.76" r="1.15" fill="#1b5aa0" stroke="none" stroke-width="0" />
<circle cx="491.00" cy="246.22" r="1.15" fill="#1b5aa0" stroke="none" stroke-width="0" />
<circle cx="491.00" cy="243.95" r="1.15" fill="#1b5aa0" stroke="none" stroke-width="0" />
<circle cx="491.00" cy="245.53" r="1.15" fill="#1b5aa0" stroke="none" stroke-width="0" />
<circle cx="491.00" cy="247.17" r="1.15" fill="#1b5aa0" stroke="none" stroke-width="0" />
<circle cx="491.00" cy="251.13" r="1.15" fill="#1b5aa0" stroke="none" stroke-width="0" />
<circle cx="491.00" cy="248.21" r="1.15" fill="#1b5aa0" stroke="none" stroke-width="0" />
<circle cx="491.00" cy="242.79" r="1.15" fill="#1b5aa0" stroke="none" stroke-width="0" />
<circle cx="491.00" cy="250.82" r="1.15" fill="#1b5aa0" stroke="none" stroke-width="0" />
<circle cx="491.00" cy="240.41" r="1.15" fill="#1b5aa0" stroke="none" stroke-width="0" />
<circle cx="491.00" cy="247.92" r="1.15" fill="#1b5aa0" stroke="none" stroke-width="0" />
<circle cx="491.00" cy="249.42" r="1.15" fill="#1b5aa0" stroke="none" stroke-width="0" />
<circle cx="491.00" cy="254.96" r="1.15" fill="#1b5aa0" stroke="none" stroke-width="0" />
<circle cx="491.00" cy="249.45" r="1.15" fill="#1b5aa0" stroke="none" stroke-width="0" />
<circle cx="491.00" cy="251.46" r="1.15" fill="#1b5aa0" stroke="none" stroke-width="0" />
<circle cx="491.00" cy="246.66" r="1.15" fill="#1b5aa0" stroke="none" stroke-width="0" />
<circle cx="491.00" cy="242.71" r="1.15" fill="#1b5aa0" stroke="none" stroke-width="0" />
<circle cx="491.00" cy="242.46" r="1.15" fill="#1b5aa0" stroke="none" stroke-width="0" />
<circle cx="491.00" cy="247.14" r="1.15" fill="#1b5aa0" stroke="none" stroke-width="0" />
<circle cx="491.00" cy="249.49" r="1.15" fill="#1b5aa0" stroke="none" stroke-width="0" />
<circle cx="491.00" cy="252.34" r="1.15" fill="#1b5aa0" stroke="none" stroke-width="0" />
<circle cx="491.00" cy="246.21" r="1.15" fill="#1b5aa0" stroke="none" stroke-width="0" />
<circle cx="491.00" cy="247.82" r="1.15" fill="#1b5aa0" stroke="none" stroke-width="0" />
<circle cx="491.00" cy="245.86" r="1.15" fill="#1b5aa0" stroke="none" stroke-width="0" />
<circle cx="491.00" cy="249.60" r="1.15" fill="#1b5aa0" stroke="none" stroke-width="0" />
<circle cx="491.00" cy="242.99" r="1.15" fill="#1b5aa0" stroke="none" stroke-width="0" />
<circle cx="491.00" cy="251.09" r="1.15" fill="#1b5aa0" stroke="none" stroke-width="0" />
<circle cx="491.00" cy="250.21" r="1.15" fill="#1b5aa0" stroke="none" stroke-width="0" />
<circle cx="491.00" cy="250.55" r="1.15" fill="#1b5aa0" stroke="none" stroke-width="0" />
<circle cx="491.00" cy="247.04" r="1.15" fill="#1b5aa0" stroke="none" stroke-width="0" />
<circle cx="491.00" cy="242.76" r="1.15" fill="#1b5aa0" stroke="none" stroke-width="0" />
<circle cx="491.00" cy="251.58" r="1.15" fill="#1b5aa0" stroke="none" stroke-width="0" />
<circle cx="491.00" cy="246.91" r="1.15" fill="#1b5aa0" stroke="none" stroke-width="0" />
<circle cx="491.00" cy="238.10" r="1.15" fill="#1b5aa0" stroke="none" stroke-width="0" />
<circle cx="491.00" cy="239.19" r="1.15" fill="#1b5aa0" stroke="none" stroke-width="0" />
<circle cx="507.70" cy="245.13" r="1.15" fill="#d3153a" stroke="none" stroke-width="0" />
<circle cx="507.70" cy="250.97" r="1.15" fill="#d3153a" stroke="none" stroke-width="0" />
<circle cx="507.70" cy="253.09" r="1.15" fill="#d3153a" stroke="none" stroke-width="0" />
<circle cx="507.70" cy="247.68" r="1.15" fill="#d3153a" stroke="none" stroke-width="0" />
<circle cx="507.70" cy="244.09" r="1.15" fill="#d3153a" stroke="none" stroke-width="0" />
<circle cx="507.70" cy="243.17" r="1.15" fill="#d3153a" stroke="none" stroke-width="0" />
<circle cx="507.70" cy="245.68" r="1.15" fill="#d3153a" stroke="none" stroke-width="0" />
<circle cx="507.70" cy="249.20" r="1.15" fill="#d3153a" stroke="none" stroke-width="0" />
<circle cx="507.70" cy="249.12" r="1.15" fill="#d3153a" stroke="none" stroke-width="0" />
<circle cx="507.70" cy="248.08" r="1.15" fill="#d3153a" stroke="none" stroke-width="0" />
<circle cx="507.70" cy="242.59" r="1.15" fill="#d3153a" stroke="none" stroke-width="0" />
<circle cx="507.70" cy="250.24" r="1.15" fill="#d3153a" stroke="none" stroke-width="0" />
<circle cx="507.70" cy="250.43" r="1.15" fill="#d3153a" stroke="none" stroke-width="0" />
<circle cx="507.70" cy="247.23" r="1.15" fill="#d3153a" stroke="none" stroke-width="0" />
<circle cx="507.70" cy="240.76" r="1.15" fill="#d3153a" stroke="none" stroke-width="0" />
<circle cx="507.70" cy="251.36" r="1.15" fill="#d3153a" stroke="none" stroke-width="0" />
<circle cx="507.70" cy="253.81" r="1.15" fill="#d3153a" stroke="none" stroke-width="0" />
<circle cx="507.70" cy="252.24" r="1.15" fill="#d3153a" stroke="none" stroke-width="0" />
<circle cx="507.70" cy="247.72" r="1.15" fill="#d3153a" stroke="none" stroke-width="0" />
<circle cx="507.70" cy="247.25" r="1.15" fill="#d3153a" stroke="none" stroke-width="0" />
<circle cx="507.70" cy="251.39" r="1.15" fill="#d3153a" stroke="none" stroke-width="0" />
<circle cx="507.70" cy="251.32" r="1.15" fill="#d3153a" stroke="none" stroke-width="0" />
<circle cx="507.70" cy="247.36" r="1.15" fill="#d3153a" stroke="none" stroke-width="0" />
<circle cx="507.70" cy="246.75" r="1.15" fill="#d3153a" stroke="none" stroke-width="0" />
<circle cx="507.70" cy="246.19" r="1.15" fill="#d3153a" stroke="none" stroke-width="0" />
<circle cx="507.70" cy="245.67" r="1.15" fill="#d3153a" stroke="none" stroke-width="0" />
<circle cx="507.70" cy="253.12" r="1.15" fill="#d3153a" stroke="none" stroke-width="0" />
<circle cx="507.70" cy="248.54" r="1.15" fill="#d3153a" stroke="none" stroke-width="0" />
<circle cx="507.70" cy="244.01" r="1.15" fill="#d3153a" stroke="none" stroke-width="0" />
<circle cx="507.70" cy="241.11" r="1.15" fill="#d3153a" stroke="none" stroke-width="0" />
<circle cx="507.70" cy="250.10" r="1.15" fill="#d3153a" stroke="none" stroke-width="0" />
<circle cx="507.70" cy="243.72" r="1.15" fill="#d3153a" stroke="none" stroke-width="0" />
<circle cx="507.70" cy="246.76" r="1.15" fill="#d3153a" stroke="none" stroke-width="0" />
<circle cx="507.70" cy="242.04" r="1.15" fill="#d3153a" stroke="none" stroke-width="0" />
<circle cx="507.70" cy="235.20" r="1.15" fill="#d3153a" stroke="none" stroke-width="0" />
<circle cx="507.70" cy="238.10" r="1.15" fill="#d3153a" stroke="none" stroke-width="0" />
<line x1="463.40" y1="198.00" x2="463.40" y2="256.60" stroke="#111" stroke-width="0.8" />
<line x1="463.00" y1="256.20" x2="511.90" y2="256.20" stroke="#111" stroke-width="0.8" />
<line x1="462.30" y1="256.20" x2="463.40" y2="256.20" stroke="#111" stroke-width="0.4" />
<line x1="462.30" y1="252.58" x2="463.40" y2="252.58" stroke="#111" stroke-width="0.4" />
<line x1="462.30" y1="248.96" x2="463.40" y2="248.96" stroke="#111" stroke-width="0.4" />
<line x1="462.30" y1="245.34" x2="463.40" y2="245.34" stroke="#111" stroke-width="0.4" />
<line x1="462.30" y1="241.72" x2="463.40" y2="241.72" stroke="#111" stroke-width="0.4" />
<line x1="462.30" y1="238.10" x2="463.40" y2="238.10" stroke="#111" stroke-width="0.4" />
<line x1="462.30" y1="234.48" x2="463.40" y2="234.48" stroke="#111" stroke-width="0.4" />
<line x1="462.30" y1="230.86" x2="463.40" y2="230.86" stroke="#111" stroke-width="0.4" />
<line x1="462.30" y1="227.24" x2="463.40" y2="227.24" stroke="#111" stroke-width="0.4" />
<line x1="462.30" y1="223.62" x2="463.40" y2="223.62" stroke="#111" stroke-width="0.4" />
<line x1="462.30" y1="220.00" x2="463.40" y2="220.00" stroke="#111" stroke-width="0.4" />
<line x1="462.30" y1="216.38" x2="463.40" y2="216.38" stroke="#111" stroke-width="0.4" />
<line x1="462.30" y1="212.76" x2="463.40" y2="212.76" stroke="#111" stroke-width="0.4" />
<line x1="462.30" y1="209.14" x2="463.40" y2="209.14" stroke="#111" stroke-width="0.4" />
<line x1="462.30" y1="205.52" x2="463.40" y2="205.52" stroke="#111" stroke-width="0.4" />
<line x1="462.30" y1="201.90" x2="463.40" y2="201.90" stroke="#111" stroke-width="0.4" />
<line x1="461.40" y1="201.90" x2="463.40" y2="201.90" stroke="#111" stroke-width="0.6" />
<text x="459.30" y="202.30" font-size="5.6" fill="#222" text-anchor="end" textLength="7.82" lengthAdjust="spacingAndGlyphs" stroke="#222" stroke-width="0.078" dominant-baseline="central">1.5</text>
<line x1="461.40" y1="220.00" x2="463.40" y2="220.00" stroke="#111" stroke-width="0.6" />
<text x="459.30" y="220.40" font-size="5.6" fill="#222" text-anchor="end" textLength="7.82" lengthAdjust="spacingAndGlyphs" stroke="#222" stroke-width="0.078" dominant-baseline="central">1.0</text>
<line x1="461.40" y1="238.10" x2="463.40" y2="238.10" stroke="#111" stroke-width="0.6" />
<text x="459.30" y="238.50" font-size="5.6" fill="#222" text-anchor="end" textLength="7.82" lengthAdjust="spacingAndGlyphs" stroke="#222" stroke-width="0.078" dominant-baseline="central">0.5</text>
<line x1="461.40" y1="256.20" x2="463.40" y2="256.20" stroke="#111" stroke-width="0.6" />
<text x="459.30" y="256.60" font-size="5.6" fill="#222" text-anchor="end" textLength="7.82" lengthAdjust="spacingAndGlyphs" stroke="#222" stroke-width="0.078" dominant-baseline="central">0.0</text>
<line x1="474.40" y1="256.20" x2="474.40" y2="257.80" stroke="#111" stroke-width="0.6" />
<line x1="491.00" y1="256.20" x2="491.00" y2="257.80" stroke="#111" stroke-width="0.6" />
<line x1="507.70" y1="256.20" x2="507.70" y2="257.80" stroke="#111" stroke-width="0.6" />
<text x="474.40" y="263.40" font-size="5.8" fill="#222" text-anchor="middle" textLength="7.60" lengthAdjust="spacingAndGlyphs" stroke="#222" stroke-width="0.081" dominant-baseline="central">M3</text>
<text x="491.00" y="263.40" font-size="5.8" fill="#222" text-anchor="middle" textLength="7.60" lengthAdjust="spacingAndGlyphs" stroke="#222" stroke-width="0.081" dominant-baseline="central">M6</text>
<text x="507.70" y="263.40" font-size="5.8" fill="#222" text-anchor="middle" textLength="10.30" lengthAdjust="spacingAndGlyphs" stroke="#222" stroke-width="0.081" dominant-baseline="central">M12</text>
<text x="487.60" y="181.90" font-size="7.5" fill="#111" text-anchor="middle" font-weight="bold" textLength="20.00" lengthAdjust="spacingAndGlyphs" dominant-baseline="central">MC20</text>
<text x="487.60" y="190.80" font-size="6.8" fill="#222" text-anchor="middle" textLength="46.50" lengthAdjust="spacingAndGlyphs" stroke="#222" stroke-width="0.095" dominant-baseline="central">(CD117<tspan font-size="4" baseline-shift="super">+</tspan> ILCs)</text>
<line x1="474.40" y1="202.20" x2="507.70" y2="202.20" stroke="#222" stroke-width="0.6" />
<line x1="474.40" y1="201.30" x2="474.40" y2="203.10" stroke="#222" stroke-width="0.5" />
<line x1="507.70" y1="201.30" x2="507.70" y2="203.10" stroke="#222" stroke-width="0.5" />
<text x="491.05" y="199.80" font-size="7" fill="#222" text-anchor="middle" font-weight="bold" dominant-baseline="central">**</text>
<line x1="491.00" y1="209.30" x2="507.70" y2="209.30" stroke="#222" stroke-width="0.6" />
<line x1="491.00" y1="208.40" x2="491.00" y2="210.20" stroke="#222" stroke-width="0.5" />
<line x1="507.70" y1="208.40" x2="507.70" y2="210.20" stroke="#222" stroke-width="0.5" />
<text x="499.35" y="206.90" font-size="7" fill="#222" text-anchor="middle" font-weight="bold" dominant-baseline="central">*</text>
<text x="223.70" y="231.20" font-size="6.7" fill="#222" text-anchor="middle" textLength="39.00" lengthAdjust="spacingAndGlyphs" transform="rotate(-90 223.70 231.20)" stroke="#222" stroke-width="0.094" dominant-baseline="central">% in live CD45<tspan font-size="4" baseline-shift="super">+</tspan></text>
<line x1="337.30" y1="271.30" x2="346.30" y2="271.30" stroke="#2db34a" stroke-width="0.9" />
<circle cx="341.80" cy="271.30" r="1.30" fill="#2db34a" stroke="none" stroke-width="0" />
<text x="347.30" y="271.70" font-size="5.6" fill="#2db34a" textLength="8.50" lengthAdjust="spacingAndGlyphs" stroke="#2db34a" stroke-width="0.078" dominant-baseline="central">M3</text>
<line x1="366.80" y1="271.30" x2="375.80" y2="271.30" stroke="#1b5aa0" stroke-width="0.9" />
<circle cx="371.30" cy="271.30" r="1.30" fill="#1b5aa0" stroke="none" stroke-width="0" />
<text x="376.80" y="271.70" font-size="5.6" fill="#1b5aa0" textLength="9.00" lengthAdjust="spacingAndGlyphs" stroke="#1b5aa0" stroke-width="0.078" dominant-baseline="central">M6</text>
<line x1="394.00" y1="271.30" x2="403.00" y2="271.30" stroke="#d3153a" stroke-width="0.9" />
<circle cx="398.50" cy="271.30" r="1.30" fill="#d3153a" stroke="none" stroke-width="0" />
<text x="404.00" y="271.70" font-size="5.6" fill="#d3153a" textLength="12.50" lengthAdjust="spacingAndGlyphs" stroke="#d3153a" stroke-width="0.078" dominant-baseline="central">M12</text>
<g stroke="#1a1a1a" stroke-width="0.3" opacity="0.8" fill="none">
<path d="M258.30,360.74 L274.90,362.44 L291.60,359.87"/>
<path d="M258.30,359.63 L274.90,361.31 L291.60,359.13"/>
<path d="M258.30,359.34 L274.90,360.42 L291.60,359.69"/>
<path d="M258.30,359.01 L274.90,355.61 L291.60,358.25"/>
<path d="M258.30,358.83 L274.90,356.81 L291.60,356.82"/>
<path d="M258.30,358.47 L274.90,351.64 L291.60,356.01"/>
<path d="M258.30,357.96 L274.90,354.03 L291.60,356.68"/>
<path d="M258.30,357.92 L274.90,356.66 L291.60,349.48"/>
<path d="M258.30,357.73 L274.90,355.39 L291.60,355.54"/>
<path d="M258.30,357.70 L274.90,352.69 L291.60,349.47"/>
<path d="M258.30,356.84 L274.90,361.84 L291.60,356.81"/>
<path d="M258.30,356.80 L274.90,355.98 L291.60,355.92"/>
<path d="M258.30,356.78 L274.90,348.30 L291.60,356.44"/>
<path d="M258.30,356.31 L274.90,357.51 L291.60,356.99"/>
<path d="M258.30,355.86 L274.90,360.87 L291.60,358.34"/>
<path d="M258.30,355.46 L274.90,352.58 L291.60,352.74"/>
<path d="M258.30,355.19 L274.90,353.43 L291.60,353.52"/>
<path d="M258.30,354.95 L274.90,352.22 L291.60,353.69"/>
<path d="M258.30,354.82 L274.90,355.96 L291.60,354.37"/>
<path d="M258.30,354.63 L274.90,347.47 L291.60,357.80"/>
<path d="M258.30,354.14 L274.90,351.26 L291.60,356.80"/>
<path d="M258.30,353.44 L274.90,355.06 L291.60,345.66"/>
<path d="M258.30,353.06 L274.90,359.48 L291.60,347.96"/>
<path d="M258.30,352.76 L274.90,359.02 L291.60,355.00"/>
<path d="M258.30,352.46 L274.90,356.62 L291.60,354.83"/>
<path d="M258.30,349.83 L274.90,357.55 L291.60,339.43"/>
<path d="M258.30,349.39 L274.90,348.07 L291.60,358.33"/>
<path d="M258.30,348.68 L274.90,357.07 L291.60,357.43"/>
<path d="M258.30,348.50 L274.90,355.04 L291.60,328.53"/>
<path d="M258.30,348.13 L274.90,356.30 L291.60,350.33"/>
<path d="M258.30,340.52 L274.90,348.29 L291.60,340.52"/>
<path d="M258.30,336.16 L274.90,355.35 L291.60,352.70"/>
<path d="M258.30,335.07 L274.90,345.59 L291.60,330.71"/>
<path d="M258.30,333.98 L274.90,347.90 L291.60,351.05"/>
<path d="M258.30,330.71 L274.90,331.80 L291.60,348.47"/>
<path d="M258.30,329.62 L274.90,339.43 L291.60,331.80"/>
<path d="M258.30,319.81 L274.90,337.25 L291.60,329.62"/>
</g>
<circle cx="258.30" cy="348.68" r="1.15" fill="#2db34a" stroke="none" stroke-width="0" />
<circle cx="258.30" cy="354.63" r="1.15" fill="#2db34a" stroke="none" stroke-width="0" />
<circle cx="258.30" cy="359.01" r="1.15" fill="#2db34a" stroke="none" stroke-width="0" />
<circle cx="258.30" cy="357.96" r="1.15" fill="#2db34a" stroke="none" stroke-width="0" />
<circle cx="258.30" cy="349.83" r="1.15" fill="#2db34a" stroke="none" stroke-width="0" />
<circle cx="258.30" cy="349.39" r="1.15" fill="#2db34a" stroke="none" stroke-width="0" />
<circle cx="258.30" cy="360.74" r="1.15" fill="#2db34a" stroke="none" stroke-width="0" />
<circle cx="258.30" cy="358.47" r="1.15" fill="#2db34a" stroke="none" stroke-width="0" />
<circle cx="258.30" cy="356.31" r="1.15" fill="#2db34a" stroke="none" stroke-width="0" />
<circle cx="258.30" cy="357.70" r="1.15" fill="#2db34a" stroke="none" stroke-width="0" />
<circle cx="258.30" cy="352.76" r="1.15" fill="#2db34a" stroke="none" stroke-width="0" />
<circle cx="258.30" cy="356.80" r="1.15" fill="#2db34a" stroke="none" stroke-width="0" />
<circle cx="258.30" cy="352.46" r="1.15" fill="#2db34a" stroke="none" stroke-width="0" />
<circle cx="258.30" cy="358.83" r="1.15" fill="#2db34a" stroke="none" stroke-width="0" />
<circle cx="258.30" cy="355.46" r="1.15" fill="#2db34a" stroke="none" stroke-width="0" />
<circle cx="258.30" cy="348.13" r="1.15" fill="#2db34a" stroke="none" stroke-width="0" />
<circle cx="258.30" cy="353.44" r="1.15" fill="#2db34a" stroke="none" stroke-width="0" />
<circle cx="258.30" cy="359.63" r="1.15" fill="#2db34a" stroke="none" stroke-width="0" />
<circle cx="258.30" cy="359.34" r="1.15" fill="#2db34a" stroke="none" stroke-width="0" />
<circle cx="258.30" cy="354.14" r="1.15" fill="#2db34a" stroke="none" stroke-width="0" />
<circle cx="258.30" cy="356.78" r="1.15" fill="#2db34a" stroke="none" stroke-width="0" />
<circle cx="258.30" cy="356.84" r="1.15" fill="#2db34a" stroke="none" stroke-width="0" />
<circle cx="258.30" cy="355.86" r="1.15" fill="#2db34a" stroke="none" stroke-width="0" />
<circle cx="258.30" cy="354.82" r="1.15" fill="#2db34a" stroke="none" stroke-width="0" />
<circle cx="258.30" cy="348.50" r="1.15" fill="#2db34a" stroke="none" stroke-width="0" />
<circle cx="258.30" cy="357.92" r="1.15" fill="#2db34a" stroke="none" stroke-width="0" />
<circle cx="258.30" cy="354.95" r="1.15" fill="#2db34a" stroke="none" stroke-width="0" />
<circle cx="258.30" cy="357.73" r="1.15" fill="#2db34a" stroke="none" stroke-width="0" />
<circle cx="258.30" cy="355.19" r="1.15" fill="#2db34a" stroke="none" stroke-width="0" />
<circle cx="258.30" cy="353.06" r="1.15" fill="#2db34a" stroke="none" stroke-width="0" />
<circle cx="258.30" cy="340.52" r="1.15" fill="#2db34a" stroke="none" stroke-width="0" />
<circle cx="258.30" cy="336.16" r="1.15" fill="#2db34a" stroke="none" stroke-width="0" />
<circle cx="258.30" cy="335.07" r="1.15" fill="#2db34a" stroke="none" stroke-width="0" />
<circle cx="258.30" cy="333.98" r="1.15" fill="#2db34a" stroke="none" stroke-width="0" />
<circle cx="258.30" cy="330.71" r="1.15" fill="#2db34a" stroke="none" stroke-width="0" />
<circle cx="258.30" cy="329.62" r="1.15" fill="#2db34a" stroke="none" stroke-width="0" />
<circle cx="258.30" cy="319.81" r="1.15" fill="#2db34a" stroke="none" stroke-width="0" />
<circle cx="274.90" cy="359.48" r="1.15" fill="#1b5aa0" stroke="none" stroke-width="0" />
<circle cx="274.90" cy="355.61" r="1.15" fill="#1b5aa0" stroke="none" stroke-width="0" />
<circle cx="274.90" cy="352.69" r="1.15" fill="#1b5aa0" stroke="none" stroke-width="0" />
<circle cx="274.90" cy="362.44" r="1.15" fill="#1b5aa0" stroke="none" stroke-width="0" />
<circle cx="274.90" cy="351.64" r="1.15" fill="#1b5aa0" stroke="none" stroke-width="0" />
<circle cx="274.90" cy="356.30" r="1.15" fill="#1b5aa0" stroke="none" stroke-width="0" />
<circle cx="274.90" cy="355.35" r="1.15" fill="#1b5aa0" stroke="none" stroke-width="0" />
<circle cx="274.90" cy="354.03" r="1.15" fill="#1b5aa0" stroke="none" stroke-width="0" />
<circle cx="274.90" cy="351.26" r="1.15" fill="#1b5aa0" stroke="none" stroke-width="0" />
<circle cx="274.90" cy="360.87" r="1.15" fill="#1b5aa0" stroke="none" stroke-width="0" />
<circle cx="274.90" cy="355.39" r="1.15" fill="#1b5aa0" stroke="none" stroke-width="0" />
<circle cx="274.90" cy="361.31" r="1.15" fill="#1b5aa0" stroke="none" stroke-width="0" />
<circle cx="274.90" cy="356.66" r="1.15" fill="#1b5aa0" stroke="none" stroke-width="0" />
<circle cx="274.90" cy="357.07" r="1.15" fill="#1b5aa0" stroke="none" stroke-width="0" />
<circle cx="274.90" cy="361.84" r="1.15" fill="#1b5aa0" stroke="none" stroke-width="0" />
<circle cx="274.90" cy="357.55" r="1.15" fill="#1b5aa0" stroke="none" stroke-width="0" />
<circle cx="274.90" cy="355.96" r="1.15" fill="#1b5aa0" stroke="none" stroke-width="0" />
<circle cx="274.90" cy="353.43" r="1.15" fill="#1b5aa0" stroke="none" stroke-width="0" />
<circle cx="274.90" cy="348.29" r="1.15" fill="#1b5aa0" stroke="none" stroke-width="0" />
<circle cx="274.90" cy="356.81" r="1.15" fill="#1b5aa0" stroke="none" stroke-width="0" />
<circle cx="274.90" cy="355.04" r="1.15" fill="#1b5aa0" stroke="none" stroke-width="0" />
<circle cx="274.90" cy="352.58" r="1.15" fill="#1b5aa0" stroke="none" stroke-width="0" />
<circle cx="274.90" cy="347.90" r="1.15" fill="#1b5aa0" stroke="none" stroke-width="0" />
<circle cx="274.90" cy="347.47" r="1.15" fill="#1b5aa0" stroke="none" stroke-width="0" />
<circle cx="274.90" cy="345.59" r="1.15" fill="#1b5aa0" stroke="none" stroke-width="0" />
<circle cx="274.90" cy="357.51" r="1.15" fill="#1b5aa0" stroke="none" stroke-width="0" />
<circle cx="274.90" cy="359.02" r="1.15" fill="#1b5aa0" stroke="none" stroke-width="0" />
<circle cx="274.90" cy="348.07" r="1.15" fill="#1b5aa0" stroke="none" stroke-width="0" />
<circle cx="274.90" cy="360.42" r="1.15" fill="#1b5aa0" stroke="none" stroke-width="0" />
<circle cx="274.90" cy="355.98" r="1.15" fill="#1b5aa0" stroke="none" stroke-width="0" />
<circle cx="274.90" cy="352.22" r="1.15" fill="#1b5aa0" stroke="none" stroke-width="0" />
<circle cx="274.90" cy="355.06" r="1.15" fill="#1b5aa0" stroke="none" stroke-width="0" />
<circle cx="274.90" cy="356.62" r="1.15" fill="#1b5aa0" stroke="none" stroke-width="0" />
<circle cx="274.90" cy="348.30" r="1.15" fill="#1b5aa0" stroke="none" stroke-width="0" />
<circle cx="274.90" cy="339.43" r="1.15" fill="#1b5aa0" stroke="none" stroke-width="0" />
<circle cx="274.90" cy="337.25" r="1.15" fill="#1b5aa0" stroke="none" stroke-width="0" />
<circle cx="274.90" cy="331.80" r="1.15" fill="#1b5aa0" stroke="none" stroke-width="0" />
<circle cx="291.60" cy="356.44" r="1.15" fill="#d3153a" stroke="none" stroke-width="0" />
<circle cx="291.60" cy="353.69" r="1.15" fill="#d3153a" stroke="none" stroke-width="0" />
<circle cx="291.60" cy="349.47" r="1.15" fill="#d3153a" stroke="none" stroke-width="0" />
<circle cx="291.60" cy="358.33" r="1.15" fill="#d3153a" stroke="none" stroke-width="0" />
<circle cx="291.60" cy="355.92" r="1.15" fill="#d3153a" stroke="none" stroke-width="0" />
<circle cx="291.60" cy="354.37" r="1.15" fill="#d3153a" stroke="none" stroke-width="0" />
<circle cx="291.60" cy="353.52" r="1.15" fill="#d3153a" stroke="none" stroke-width="0" />
<circle cx="291.60" cy="357.43" r="1.15" fill="#d3153a" stroke="none" stroke-width="0" />
<circle cx="291.60" cy="354.83" r="1.15" fill="#d3153a" stroke="none" stroke-width="0" />
<circle cx="291.60" cy="359.69" r="1.15" fill="#d3153a" stroke="none" stroke-width="0" />
<circle cx="291.60" cy="359.13" r="1.15" fill="#d3153a" stroke="none" stroke-width="0" />
<circle cx="291.60" cy="356.01" r="1.15" fill="#d3153a" stroke="none" stroke-width="0" />
<circle cx="291.60" cy="358.25" r="1.15" fill="#d3153a" stroke="none" stroke-width="0" />
<circle cx="291.60" cy="345.66" r="1.15" fill="#d3153a" stroke="none" stroke-width="0" />
<circle cx="291.60" cy="356.81" r="1.15" fill="#d3153a" stroke="none" stroke-width="0" />
<circle cx="291.60" cy="356.68" r="1.15" fill="#d3153a" stroke="none" stroke-width="0" />
<circle cx="291.60" cy="350.33" r="1.15" fill="#d3153a" stroke="none" stroke-width="0" />
<circle cx="291.60" cy="351.05" r="1.15" fill="#d3153a" stroke="none" stroke-width="0" />
<circle cx="291.60" cy="356.82" r="1.15" fill="#d3153a" stroke="none" stroke-width="0" />
<circle cx="291.60" cy="349.48" r="1.15" fill="#d3153a" stroke="none" stroke-width="0" />
<circle cx="291.60" cy="352.74" r="1.15" fill="#d3153a" stroke="none" stroke-width="0" />
<circle cx="291.60" cy="355.54" r="1.15" fill="#d3153a" stroke="none" stroke-width="0" />
<circle cx="291.60" cy="352.70" r="1.15" fill="#d3153a" stroke="none" stroke-width="0" />
<circle cx="291.60" cy="356.99" r="1.15" fill="#d3153a" stroke="none" stroke-width="0" />
<circle cx="291.60" cy="356.80" r="1.15" fill="#d3153a" stroke="none" stroke-width="0" />
<circle cx="291.60" cy="348.47" r="1.15" fill="#d3153a" stroke="none" stroke-width="0" />
<circle cx="291.60" cy="355.00" r="1.15" fill="#d3153a" stroke="none" stroke-width="0" />
<circle cx="291.60" cy="347.96" r="1.15" fill="#d3153a" stroke="none" stroke-width="0" />
<circle cx="291.60" cy="357.80" r="1.15" fill="#d3153a" stroke="none" stroke-width="0" />
<circle cx="291.60" cy="358.34" r="1.15" fill="#d3153a" stroke="none" stroke-width="0" />
<circle cx="291.60" cy="359.87" r="1.15" fill="#d3153a" stroke="none" stroke-width="0" />
<circle cx="291.60" cy="340.52" r="1.15" fill="#d3153a" stroke="none" stroke-width="0" />
<circle cx="291.60" cy="339.43" r="1.15" fill="#d3153a" stroke="none" stroke-width="0" />
<circle cx="291.60" cy="331.80" r="1.15" fill="#d3153a" stroke="none" stroke-width="0" />
<circle cx="291.60" cy="330.71" r="1.15" fill="#d3153a" stroke="none" stroke-width="0" />
<circle cx="291.60" cy="329.62" r="1.15" fill="#d3153a" stroke="none" stroke-width="0" />
<circle cx="291.60" cy="328.53" r="1.15" fill="#d3153a" stroke="none" stroke-width="0" />
<line x1="247.30" y1="306.30" x2="247.30" y2="364.90" stroke="#111" stroke-width="0.8" />
<line x1="246.90" y1="364.50" x2="295.80" y2="364.50" stroke="#111" stroke-width="0.8" />
<line x1="246.20" y1="364.50" x2="247.30" y2="364.50" stroke="#111" stroke-width="0.4" />
<line x1="246.20" y1="362.32" x2="247.30" y2="362.32" stroke="#111" stroke-width="0.4" />
<line x1="246.20" y1="360.14" x2="247.30" y2="360.14" stroke="#111" stroke-width="0.4" />
<line x1="246.20" y1="357.96" x2="247.30" y2="357.96" stroke="#111" stroke-width="0.4" />
<line x1="246.20" y1="355.78" x2="247.30" y2="355.78" stroke="#111" stroke-width="0.4" />
<line x1="246.20" y1="353.60" x2="247.30" y2="353.60" stroke="#111" stroke-width="0.4" />
<line x1="246.20" y1="351.42" x2="247.30" y2="351.42" stroke="#111" stroke-width="0.4" />
<line x1="246.20" y1="349.24" x2="247.30" y2="349.24" stroke="#111" stroke-width="0.4" />
<line x1="246.20" y1="347.06" x2="247.30" y2="347.06" stroke="#111" stroke-width="0.4" />
<line x1="246.20" y1="344.88" x2="247.30" y2="344.88" stroke="#111" stroke-width="0.4" />
<line x1="246.20" y1="342.70" x2="247.30" y2="342.70" stroke="#111" stroke-width="0.4" />
<line x1="246.20" y1="340.52" x2="247.30" y2="340.52" stroke="#111" stroke-width="0.4" />
<line x1="246.20" y1="338.34" x2="247.30" y2="338.34" stroke="#111" stroke-width="0.4" />
<line x1="246.20" y1="336.16" x2="247.30" y2="336.16" stroke="#111" stroke-width="0.4" />
<line x1="246.20" y1="333.98" x2="247.30" y2="333.98" stroke="#111" stroke-width="0.4" />
<line x1="246.20" y1="331.80" x2="247.30" y2="331.80" stroke="#111" stroke-width="0.4" />
<line x1="246.20" y1="329.62" x2="247.30" y2="329.62" stroke="#111" stroke-width="0.4" />
<line x1="246.20" y1="327.44" x2="247.30" y2="327.44" stroke="#111" stroke-width="0.4" />
<line x1="246.20" y1="325.26" x2="247.30" y2="325.26" stroke="#111" stroke-width="0.4" />
<line x1="246.20" y1="323.08" x2="247.30" y2="323.08" stroke="#111" stroke-width="0.4" />
<line x1="246.20" y1="320.90" x2="247.30" y2="320.90" stroke="#111" stroke-width="0.4" />
<line x1="246.20" y1="318.72" x2="247.30" y2="318.72" stroke="#111" stroke-width="0.4" />
<line x1="246.20" y1="316.54" x2="247.30" y2="316.54" stroke="#111" stroke-width="0.4" />
<line x1="246.20" y1="314.36" x2="247.30" y2="314.36" stroke="#111" stroke-width="0.4" />
<line x1="246.20" y1="312.18" x2="247.30" y2="312.18" stroke="#111" stroke-width="0.4" />
<line x1="246.20" y1="310.00" x2="247.30" y2="310.00" stroke="#111" stroke-width="0.4" />
<line x1="246.20" y1="307.82" x2="247.30" y2="307.82" stroke="#111" stroke-width="0.4" />
<line x1="246.20" y1="305.64" x2="247.30" y2="305.64" stroke="#111" stroke-width="0.4" />
<line x1="245.30" y1="364.50" x2="247.30" y2="364.50" stroke="#111" stroke-width="0.6" />
<text x="243.20" y="364.90" font-size="5.6" fill="#222" text-anchor="end" textLength="3.15" lengthAdjust="spacingAndGlyphs" stroke="#222" stroke-width="0.078" dominant-baseline="central">0</text>
<line x1="245.30" y1="353.60" x2="247.30" y2="353.60" stroke="#111" stroke-width="0.6" />
<text x="243.20" y="354.00" font-size="5.6" fill="#222" text-anchor="end" textLength="6.30" lengthAdjust="spacingAndGlyphs" stroke="#222" stroke-width="0.078" dominant-baseline="central">10</text>
<line x1="245.30" y1="342.70" x2="247.30" y2="342.70" stroke="#111" stroke-width="0.6" />
<text x="243.20" y="343.10" font-size="5.6" fill="#222" text-anchor="end" textLength="6.30" lengthAdjust="spacingAndGlyphs" stroke="#222" stroke-width="0.078" dominant-baseline="central">20</text>
<line x1="245.30" y1="331.80" x2="247.30" y2="331.80" stroke="#111" stroke-width="0.6" />
<text x="243.20" y="332.20" font-size="5.6" fill="#222" text-anchor="end" textLength="6.30" lengthAdjust="spacingAndGlyphs" stroke="#222" stroke-width="0.078" dominant-baseline="central">30</text>
<line x1="245.30" y1="320.90" x2="247.30" y2="320.90" stroke="#111" stroke-width="0.6" />
<text x="243.20" y="321.30" font-size="5.6" fill="#222" text-anchor="end" textLength="6.30" lengthAdjust="spacingAndGlyphs" stroke="#222" stroke-width="0.078" dominant-baseline="central">40</text>
<line x1="245.30" y1="310.00" x2="247.30" y2="310.00" stroke="#111" stroke-width="0.6" />
<text x="243.20" y="310.40" font-size="5.6" fill="#222" text-anchor="end" textLength="6.30" lengthAdjust="spacingAndGlyphs" stroke="#222" stroke-width="0.078" dominant-baseline="central">50</text>
<line x1="258.30" y1="364.50" x2="258.30" y2="366.10" stroke="#111" stroke-width="0.6" />
<line x1="274.90" y1="364.50" x2="274.90" y2="366.10" stroke="#111" stroke-width="0.6" />
<line x1="291.60" y1="364.50" x2="291.60" y2="366.10" stroke="#111" stroke-width="0.6" />
<text x="258.30" y="373.30" font-size="5.8" fill="#222" text-anchor="middle" textLength="7.60" lengthAdjust="spacingAndGlyphs" stroke="#222" stroke-width="0.081" dominant-baseline="central">M3</text>
<text x="274.90" y="373.30" font-size="5.8" fill="#222" text-anchor="middle" textLength="7.60" lengthAdjust="spacingAndGlyphs" stroke="#222" stroke-width="0.081" dominant-baseline="central">M6</text>
<text x="291.60" y="373.30" font-size="5.8" fill="#222" text-anchor="middle" textLength="10.30" lengthAdjust="spacingAndGlyphs" stroke="#222" stroke-width="0.081" dominant-baseline="central">M12</text>
<text x="275.10" y="290.40" font-size="7.5" fill="#111" text-anchor="middle" font-weight="bold" textLength="16.00" lengthAdjust="spacingAndGlyphs" dominant-baseline="central">MC4</text>
<text x="275.10" y="300.00" font-size="6.8" fill="#222" text-anchor="middle" textLength="41.50" lengthAdjust="spacingAndGlyphs" stroke="#222" stroke-width="0.095" dominant-baseline="central">(CD4 T cells)</text>
<line x1="274.90" y1="315.80" x2="291.60" y2="315.80" stroke="#222" stroke-width="0.6" />
<line x1="274.90" y1="314.90" x2="274.90" y2="316.70" stroke="#222" stroke-width="0.5" />
<line x1="291.60" y1="314.90" x2="291.60" y2="316.70" stroke="#222" stroke-width="0.5" />
<text x="283.25" y="313.40" font-size="7" fill="#222" text-anchor="middle" font-weight="bold" dominant-baseline="central">**</text>
<g stroke="#1a1a1a" stroke-width="0.3" opacity="0.8" fill="none">
<path d="M329.90,360.73 L346.50,361.45 L363.20,361.58"/>
<path d="M329.90,360.33 L346.50,359.14 L363.20,360.77"/>
<path d="M329.90,359.89 L346.50,358.37 L363.20,358.58"/>
<path d="M329.90,359.54 L346.50,357.40 L363.20,352.97"/>
<path d="M329.90,359.39 L346.50,356.16 L363.20,354.85"/>
<path d="M329.90,359.28 L346.50,358.44 L363.20,353.62"/>
<path d="M329.90,358.89 L346.50,359.25 L363.20,352.90"/>
<path d="M329.90,358.76 L346.50,356.85 L363.20,358.72"/>
<path d="M329.90,358.71 L346.50,354.64 L363.20,354.31"/>
<path d="M329.90,358.70 L346.50,361.68 L363.20,344.93"/>
<path d="M329.90,358.30 L346.50,358.49 L363.20,356.76"/>
<path d="M329.90,358.30 L346.50,360.95 L363.20,350.67"/>
<path d="M329.90,357.52 L346.50,353.70 L363.20,355.05"/>
<path d="M329.90,357.16 L346.50,355.67 L363.20,346.48"/>
<path d="M329.90,357.06 L346.50,351.32 L363.20,354.12"/>
<path d="M329.90,357.06 L346.50,357.79 L363.20,357.55"/>
<path d="M329.90,357.00 L346.50,355.42 L363.20,348.27"/>
<path d="M329.90,356.84 L346.50,356.79 L363.20,356.91"/>
<path d="M329.90,356.18 L346.50,352.67 L363.20,355.80"/>
<path d="M329.90,355.75 L346.50,358.40 L363.20,351.96"/>
<path d="M329.90,355.42 L346.50,356.48 L363.20,359.24"/>
<path d="M329.90,355.34 L346.50,353.00 L363.20,352.04"/>
<path d="M329.90,355.28 L346.50,350.01 L363.20,356.86"/>
<path d="M329.90,355.27 L346.50,355.80 L363.20,346.82"/>
<path d="M329.90,355.12 L346.50,358.43 L363.20,351.76"/>
<path d="M329.90,354.89 L346.50,357.03 L363.20,353.83"/>
<path d="M329.90,354.50 L346.50,359.60 L363.20,357.12"/>
<path d="M329.90,354.48 L346.50,356.46 L363.20,357.58"/>
<path d="M329.90,354.39 L346.50,355.94 L363.20,355.33"/>
<path d="M329.90,353.75 L346.50,350.39 L363.20,349.77"/>
<path d="M329.90,353.35 L346.50,356.28 L363.20,351.41"/>
<path d="M329.90,353.29 L346.50,348.45 L363.20,355.33"/>
<path d="M329.90,352.44 L346.50,352.11 L363.20,343.00"/>
<path d="M329.90,351.99 L346.50,355.66 L363.20,353.44"/>
<path d="M329.90,350.43 L346.50,351.92 L363.20,337.55"/>
<path d="M329.90,346.63 L346.50,343.91 L363.20,320.29"/>
<path d="M329.90,342.09 L346.50,338.46 L363.20,321.20"/>
</g>
<circle cx="329.90" cy="359.89" r="1.15" fill="#2db34a" stroke="none" stroke-width="0" />
<circle cx="329.90" cy="355.12" r="1.15" fill="#2db34a" stroke="none" stroke-width="0" />
<circle cx="329.90" cy="359.39" r="1.15" fill="#2db34a" stroke="none" stroke-width="0" />
<circle cx="329.90" cy="359.28" r="1.15" fill="#2db34a" stroke="none" stroke-width="0" />
<circle cx="329.90" cy="351.99" r="1.15" fill="#2db34a" stroke="none" stroke-width="0" />
<circle cx="329.90" cy="354.48" r="1.15" fill="#2db34a" stroke="none" stroke-width="0" />
<circle cx="329.90" cy="360.73" r="1.15" fill="#2db34a" stroke="none" stroke-width="0" />
<circle cx="329.90" cy="358.30" r="1.15" fill="#2db34a" stroke="none" stroke-width="0" />
<circle cx="329.90" cy="352.44" r="1.15" fill="#2db34a" stroke="none" stroke-width="0" />
<circle cx="329.90" cy="355.28" r="1.15" fill="#2db34a" stroke="none" stroke-width="0" />
<circle cx="329.90" cy="358.30" r="1.15" fill="#2db34a" stroke="none" stroke-width="0" />
<circle cx="329.90" cy="356.18" r="1.15" fill="#2db34a" stroke="none" stroke-width="0" />
<circle cx="329.90" cy="353.35" r="1.15" fill="#2db34a" stroke="none" stroke-width="0" />
<circle cx="329.90" cy="355.34" r="1.15" fill="#2db34a" stroke="none" stroke-width="0" />
<circle cx="329.90" cy="358.71" r="1.15" fill="#2db34a" stroke="none" stroke-width="0" />
<circle cx="329.90" cy="359.54" r="1.15" fill="#2db34a" stroke="none" stroke-width="0" />
<circle cx="329.90" cy="355.42" r="1.15" fill="#2db34a" stroke="none" stroke-width="0" />
<circle cx="329.90" cy="357.06" r="1.15" fill="#2db34a" stroke="none" stroke-width="0" />
<circle cx="329.90" cy="357.52" r="1.15" fill="#2db34a" stroke="none" stroke-width="0" />
<circle cx="329.90" cy="354.50" r="1.15" fill="#2db34a" stroke="none" stroke-width="0" />
<circle cx="329.90" cy="360.33" r="1.15" fill="#2db34a" stroke="none" stroke-width="0" />
<circle cx="329.90" cy="355.75" r="1.15" fill="#2db34a" stroke="none" stroke-width="0" />
<circle cx="329.90" cy="357.06" r="1.15" fill="#2db34a" stroke="none" stroke-width="0" />
<circle cx="329.90" cy="350.43" r="1.15" fill="#2db34a" stroke="none" stroke-width="0" />
<circle cx="329.90" cy="353.75" r="1.15" fill="#2db34a" stroke="none" stroke-width="0" />
<circle cx="329.90" cy="357.16" r="1.15" fill="#2db34a" stroke="none" stroke-width="0" />
<circle cx="329.90" cy="358.89" r="1.15" fill="#2db34a" stroke="none" stroke-width="0" />
<circle cx="329.90" cy="358.76" r="1.15" fill="#2db34a" stroke="none" stroke-width="0" />
<circle cx="329.90" cy="355.27" r="1.15" fill="#2db34a" stroke="none" stroke-width="0" />
<circle cx="329.90" cy="354.39" r="1.15" fill="#2db34a" stroke="none" stroke-width="0" />
<circle cx="329.90" cy="358.70" r="1.15" fill="#2db34a" stroke="none" stroke-width="0" />
<circle cx="329.90" cy="357.00" r="1.15" fill="#2db34a" stroke="none" stroke-width="0" />
<circle cx="329.90" cy="354.89" r="1.15" fill="#2db34a" stroke="none" stroke-width="0" />
<circle cx="329.90" cy="353.29" r="1.15" fill="#2db34a" stroke="none" stroke-width="0" />
<circle cx="329.90" cy="356.84" r="1.15" fill="#2db34a" stroke="none" stroke-width="0" />
<circle cx="329.90" cy="342.09" r="1.15" fill="#2db34a" stroke="none" stroke-width="0" />
<circle cx="329.90" cy="346.63" r="1.15" fill="#2db34a" stroke="none" stroke-width="0" />
<circle cx="346.50" cy="358.37" r="1.15" fill="#1b5aa0" stroke="none" stroke-width="0" />
<circle cx="346.50" cy="351.92" r="1.15" fill="#1b5aa0" stroke="none" stroke-width="0" />
<circle cx="346.50" cy="355.42" r="1.15" fill="#1b5aa0" stroke="none" stroke-width="0" />
<circle cx="346.50" cy="354.64" r="1.15" fill="#1b5aa0" stroke="none" stroke-width="0" />
<circle cx="346.50" cy="356.28" r="1.15" fill="#1b5aa0" stroke="none" stroke-width="0" />
<circle cx="346.50" cy="356.16" r="1.15" fill="#1b5aa0" stroke="none" stroke-width="0" />
<circle cx="346.50" cy="359.14" r="1.15" fill="#1b5aa0" stroke="none" stroke-width="0" />
<circle cx="346.50" cy="361.68" r="1.15" fill="#1b5aa0" stroke="none" stroke-width="0" />
<circle cx="346.50" cy="355.94" r="1.15" fill="#1b5aa0" stroke="none" stroke-width="0" />
<circle cx="346.50" cy="356.85" r="1.15" fill="#1b5aa0" stroke="none" stroke-width="0" />
<circle cx="346.50" cy="352.67" r="1.15" fill="#1b5aa0" stroke="none" stroke-width="0" />
<circle cx="346.50" cy="352.11" r="1.15" fill="#1b5aa0" stroke="none" stroke-width="0" />
<circle cx="346.50" cy="356.48" r="1.15" fill="#1b5aa0" stroke="none" stroke-width="0" />
<circle cx="346.50" cy="355.67" r="1.15" fill="#1b5aa0" stroke="none" stroke-width="0" />
<circle cx="346.50" cy="355.66" r="1.15" fill="#1b5aa0" stroke="none" stroke-width="0" />
<circle cx="346.50" cy="360.95" r="1.15" fill="#1b5aa0" stroke="none" stroke-width="0" />
<circle cx="346.50" cy="358.44" r="1.15" fill="#1b5aa0" stroke="none" stroke-width="0" />
<circle cx="346.50" cy="356.46" r="1.15" fill="#1b5aa0" stroke="none" stroke-width="0" />
<circle cx="346.50" cy="358.40" r="1.15" fill="#1b5aa0" stroke="none" stroke-width="0" />
<circle cx="346.50" cy="357.79" r="1.15" fill="#1b5aa0" stroke="none" stroke-width="0" />
<circle cx="346.50" cy="353.70" r="1.15" fill="#1b5aa0" stroke="none" stroke-width="0" />
<circle cx="346.50" cy="358.43" r="1.15" fill="#1b5aa0" stroke="none" stroke-width="0" />
<circle cx="346.50" cy="359.25" r="1.15" fill="#1b5aa0" stroke="none" stroke-width="0" />
<circle cx="346.50" cy="350.39" r="1.15" fill="#1b5aa0" stroke="none" stroke-width="0" />
<circle cx="346.50" cy="361.45" r="1.15" fill="#1b5aa0" stroke="none" stroke-width="0" />
<circle cx="346.50" cy="356.79" r="1.15" fill="#1b5aa0" stroke="none" stroke-width="0" />
<circle cx="346.50" cy="359.60" r="1.15" fill="#1b5aa0" stroke="none" stroke-width="0" />
<circle cx="346.50" cy="350.01" r="1.15" fill="#1b5aa0" stroke="none" stroke-width="0" />
<circle cx="346.50" cy="357.40" r="1.15" fill="#1b5aa0" stroke="none" stroke-width="0" />
<circle cx="346.50" cy="358.49" r="1.15" fill="#1b5aa0" stroke="none" stroke-width="0" />
<circle cx="346.50" cy="353.00" r="1.15" fill="#1b5aa0" stroke="none" stroke-width="0" />
<circle cx="346.50" cy="355.80" r="1.15" fill="#1b5aa0" stroke="none" stroke-width="0" />
<circle cx="346.50" cy="357.03" r="1.15" fill="#1b5aa0" stroke="none" stroke-width="0" />
<circle cx="346.50" cy="351.32" r="1.15" fill="#1b5aa0" stroke="none" stroke-width="0" />
<circle cx="346.50" cy="343.91" r="1.15" fill="#1b5aa0" stroke="none" stroke-width="0" />
<circle cx="346.50" cy="338.46" r="1.15" fill="#1b5aa0" stroke="none" stroke-width="0" />
<circle cx="346.50" cy="348.45" r="1.15" fill="#1b5aa0" stroke="none" stroke-width="0" />
<circle cx="363.20" cy="353.62" r="1.15" fill="#d3153a" stroke="none" stroke-width="0" />
<circle cx="363.20" cy="355.80" r="1.15" fill="#d3153a" stroke="none" stroke-width="0" />
<circle cx="363.20" cy="351.41" r="1.15" fill="#d3153a" stroke="none" stroke-width="0" />
<circle cx="363.20" cy="349.77" r="1.15" fill="#d3153a" stroke="none" stroke-width="0" />
<circle cx="363.20" cy="360.77" r="1.15" fill="#d3153a" stroke="none" stroke-width="0" />
<circle cx="363.20" cy="352.97" r="1.15" fill="#d3153a" stroke="none" stroke-width="0" />
<circle cx="363.20" cy="351.96" r="1.15" fill="#d3153a" stroke="none" stroke-width="0" />
<circle cx="363.20" cy="353.44" r="1.15" fill="#d3153a" stroke="none" stroke-width="0" />
<circle cx="363.20" cy="354.12" r="1.15" fill="#d3153a" stroke="none" stroke-width="0" />
<circle cx="363.20" cy="354.31" r="1.15" fill="#d3153a" stroke="none" stroke-width="0" />
<circle cx="363.20" cy="355.33" r="1.15" fill="#d3153a" stroke="none" stroke-width="0" />
<circle cx="363.20" cy="356.86" r="1.15" fill="#d3153a" stroke="none" stroke-width="0" />
<circle cx="363.20" cy="361.58" r="1.15" fill="#d3153a" stroke="none" stroke-width="0" />
<circle cx="363.20" cy="344.93" r="1.15" fill="#d3153a" stroke="none" stroke-width="0" />
<circle cx="363.20" cy="350.67" r="1.15" fill="#d3153a" stroke="none" stroke-width="0" />
<circle cx="363.20" cy="357.58" r="1.15" fill="#d3153a" stroke="none" stroke-width="0" />
<circle cx="363.20" cy="357.55" r="1.15" fill="#d3153a" stroke="none" stroke-width="0" />
<circle cx="363.20" cy="353.83" r="1.15" fill="#d3153a" stroke="none" stroke-width="0" />
<circle cx="363.20" cy="351.76" r="1.15" fill="#d3153a" stroke="none" stroke-width="0" />
<circle cx="363.20" cy="355.05" r="1.15" fill="#d3153a" stroke="none" stroke-width="0" />
<circle cx="363.20" cy="358.58" r="1.15" fill="#d3153a" stroke="none" stroke-width="0" />
<circle cx="363.20" cy="354.85" r="1.15" fill="#d3153a" stroke="none" stroke-width="0" />
<circle cx="363.20" cy="348.27" r="1.15" fill="#d3153a" stroke="none" stroke-width="0" />
<circle cx="363.20" cy="352.04" r="1.15" fill="#d3153a" stroke="none" stroke-width="0" />
<circle cx="363.20" cy="346.82" r="1.15" fill="#d3153a" stroke="none" stroke-width="0" />
<circle cx="363.20" cy="357.12" r="1.15" fill="#d3153a" stroke="none" stroke-width="0" />
<circle cx="363.20" cy="356.76" r="1.15" fill="#d3153a" stroke="none" stroke-width="0" />
<circle cx="363.20" cy="359.24" r="1.15" fill="#d3153a" stroke="none" stroke-width="0" />
<circle cx="363.20" cy="346.48" r="1.15" fill="#d3153a" stroke="none" stroke-width="0" />
<circle cx="363.20" cy="355.33" r="1.15" fill="#d3153a" stroke="none" stroke-width="0" />
<circle cx="363.20" cy="352.90" r="1.15" fill="#d3153a" stroke="none" stroke-width="0" />
<circle cx="363.20" cy="356.91" r="1.15" fill="#d3153a" stroke="none" stroke-width="0" />
<circle cx="363.20" cy="358.72" r="1.15" fill="#d3153a" stroke="none" stroke-width="0" />
<circle cx="363.20" cy="321.20" r="1.15" fill="#d3153a" stroke="none" stroke-width="0" />
<circle cx="363.20" cy="320.29" r="1.15" fill="#d3153a" stroke="none" stroke-width="0" />
<circle cx="363.20" cy="337.55" r="1.15" fill="#d3153a" stroke="none" stroke-width="0" />
<circle cx="363.20" cy="343.00" r="1.15" fill="#d3153a" stroke="none" stroke-width="0" />
<line x1="318.90" y1="306.00" x2="318.90" y2="365.20" stroke="#111" stroke-width="0.8" />
<line x1="318.50" y1="364.80" x2="367.40" y2="364.80" stroke="#111" stroke-width="0.8" />
<line x1="317.80" y1="364.80" x2="318.90" y2="364.80" stroke="#111" stroke-width="0.4" />
<line x1="317.80" y1="362.98" x2="318.90" y2="362.98" stroke="#111" stroke-width="0.4" />
<line x1="317.80" y1="361.17" x2="318.90" y2="361.17" stroke="#111" stroke-width="0.4" />
<line x1="317.80" y1="359.35" x2="318.90" y2="359.35" stroke="#111" stroke-width="0.4" />
<line x1="317.80" y1="357.53" x2="318.90" y2="357.53" stroke="#111" stroke-width="0.4" />
<line x1="317.80" y1="355.72" x2="318.90" y2="355.72" stroke="#111" stroke-width="0.4" />
<line x1="317.80" y1="353.90" x2="318.90" y2="353.90" stroke="#111" stroke-width="0.4" />
<line x1="317.80" y1="352.08" x2="318.90" y2="352.08" stroke="#111" stroke-width="0.4" />
<line x1="317.80" y1="350.27" x2="318.90" y2="350.27" stroke="#111" stroke-width="0.4" />
<line x1="317.80" y1="348.45" x2="318.90" y2="348.45" stroke="#111" stroke-width="0.4" />
<line x1="317.80" y1="346.63" x2="318.90" y2="346.63" stroke="#111" stroke-width="0.4" />
<line x1="317.80" y1="344.82" x2="318.90" y2="344.82" stroke="#111" stroke-width="0.4" />
<line x1="317.80" y1="343.00" x2="318.90" y2="343.00" stroke="#111" stroke-width="0.4" />
<line x1="317.80" y1="341.18" x2="318.90" y2="341.18" stroke="#111" stroke-width="0.4" />
<line x1="317.80" y1="339.37" x2="318.90" y2="339.37" stroke="#111" stroke-width="0.4" />
<line x1="317.80" y1="337.55" x2="318.90" y2="337.55" stroke="#111" stroke-width="0.4" />
<line x1="317.80" y1="335.73" x2="318.90" y2="335.73" stroke="#111" stroke-width="0.4" />
<line x1="317.80" y1="333.92" x2="318.90" y2="333.92" stroke="#111" stroke-width="0.4" />
<line x1="317.80" y1="332.10" x2="318.90" y2="332.10" stroke="#111" stroke-width="0.4" />
<line x1="317.80" y1="330.28" x2="318.90" y2="330.28" stroke="#111" stroke-width="0.4" />
<line x1="317.80" y1="328.47" x2="318.90" y2="328.47" stroke="#111" stroke-width="0.4" />
<line x1="317.80" y1="326.65" x2="318.90" y2="326.65" stroke="#111" stroke-width="0.4" />
<line x1="317.80" y1="324.83" x2="318.90" y2="324.83" stroke="#111" stroke-width="0.4" />
<line x1="317.80" y1="323.02" x2="318.90" y2="323.02" stroke="#111" stroke-width="0.4" />
<line x1="317.80" y1="321.20" x2="318.90" y2="321.20" stroke="#111" stroke-width="0.4" />
<line x1="317.80" y1="319.38" x2="318.90" y2="319.38" stroke="#111" stroke-width="0.4" />
<line x1="317.80" y1="317.57" x2="318.90" y2="317.57" stroke="#111" stroke-width="0.4" />
<line x1="317.80" y1="315.75" x2="318.90" y2="315.75" stroke="#111" stroke-width="0.4" />
<line x1="317.80" y1="313.93" x2="318.90" y2="313.93" stroke="#111" stroke-width="0.4" />
<line x1="317.80" y1="312.12" x2="318.90" y2="312.12" stroke="#111" stroke-width="0.4" />
<line x1="317.80" y1="310.30" x2="318.90" y2="310.30" stroke="#111" stroke-width="0.4" />
<line x1="316.90" y1="364.80" x2="318.90" y2="364.80" stroke="#111" stroke-width="0.6" />
<text x="314.80" y="365.20" font-size="5.6" fill="#222" text-anchor="end" textLength="3.15" lengthAdjust="spacingAndGlyphs" stroke="#222" stroke-width="0.078" dominant-baseline="central">0</text>
<line x1="316.90" y1="355.72" x2="318.90" y2="355.72" stroke="#111" stroke-width="0.6" />
<text x="314.80" y="356.12" font-size="5.6" fill="#222" text-anchor="end" textLength="3.15" lengthAdjust="spacingAndGlyphs" stroke="#222" stroke-width="0.078" dominant-baseline="central">1</text>
<line x1="316.90" y1="346.63" x2="318.90" y2="346.63" stroke="#111" stroke-width="0.6" />
<text x="314.80" y="347.03" font-size="5.6" fill="#222" text-anchor="end" textLength="3.15" lengthAdjust="spacingAndGlyphs" stroke="#222" stroke-width="0.078" dominant-baseline="central">2</text>
<line x1="316.90" y1="337.55" x2="318.90" y2="337.55" stroke="#111" stroke-width="0.6" />
<text x="314.80" y="337.95" font-size="5.6" fill="#222" text-anchor="end" textLength="3.15" lengthAdjust="spacingAndGlyphs" stroke="#222" stroke-width="0.078" dominant-baseline="central">3</text>
<line x1="316.90" y1="328.47" x2="318.90" y2="328.47" stroke="#111" stroke-width="0.6" />
<text x="314.80" y="328.87" font-size="5.6" fill="#222" text-anchor="end" textLength="3.15" lengthAdjust="spacingAndGlyphs" stroke="#222" stroke-width="0.078" dominant-baseline="central">4</text>
<line x1="316.90" y1="319.38" x2="318.90" y2="319.38" stroke="#111" stroke-width="0.6" />
<text x="314.80" y="319.78" font-size="5.6" fill="#222" text-anchor="end" textLength="3.15" lengthAdjust="spacingAndGlyphs" stroke="#222" stroke-width="0.078" dominant-baseline="central">5</text>
<line x1="316.90" y1="310.30" x2="318.90" y2="310.30" stroke="#111" stroke-width="0.6" />
<text x="314.80" y="310.70" font-size="5.6" fill="#222" text-anchor="end" textLength="3.15" lengthAdjust="spacingAndGlyphs" stroke="#222" stroke-width="0.078" dominant-baseline="central">6</text>
<line x1="329.90" y1="364.80" x2="329.90" y2="366.40" stroke="#111" stroke-width="0.6" />
<line x1="346.50" y1="364.80" x2="346.50" y2="366.40" stroke="#111" stroke-width="0.6" />
<line x1="363.20" y1="364.80" x2="363.20" y2="366.40" stroke="#111" stroke-width="0.6" />
<text x="329.90" y="373.30" font-size="5.8" fill="#222" text-anchor="middle" textLength="7.60" lengthAdjust="spacingAndGlyphs" stroke="#222" stroke-width="0.081" dominant-baseline="central">M3</text>
<text x="346.50" y="373.30" font-size="5.8" fill="#222" text-anchor="middle" textLength="7.60" lengthAdjust="spacingAndGlyphs" stroke="#222" stroke-width="0.081" dominant-baseline="central">M6</text>
<text x="363.20" y="373.30" font-size="5.8" fill="#222" text-anchor="middle" textLength="10.30" lengthAdjust="spacingAndGlyphs" stroke="#222" stroke-width="0.081" dominant-baseline="central">M12</text>
<text x="347.00" y="289.90" font-size="7.5" fill="#111" text-anchor="middle" font-weight="bold" textLength="16.00" lengthAdjust="spacingAndGlyphs" dominant-baseline="central">MC5</text>
<text x="347.00" y="298.90" font-size="6.8" fill="#222" text-anchor="middle" textLength="24.00" lengthAdjust="spacingAndGlyphs" stroke="#222" stroke-width="0.095" dominant-baseline="central">(Tregs)</text>
<line x1="329.90" y1="310.60" x2="363.20" y2="310.60" stroke="#222" stroke-width="0.6" />
<line x1="329.90" y1="309.70" x2="329.90" y2="311.50" stroke="#222" stroke-width="0.5" />
<line x1="363.20" y1="309.70" x2="363.20" y2="311.50" stroke="#222" stroke-width="0.5" />
<text x="346.55" y="308.20" font-size="7" fill="#222" text-anchor="middle" font-weight="bold" dominant-baseline="central">**</text>
<line x1="346.50" y1="316.30" x2="363.20" y2="316.30" stroke="#222" stroke-width="0.6" />
<line x1="346.50" y1="315.40" x2="346.50" y2="317.20" stroke="#222" stroke-width="0.5" />
<line x1="363.20" y1="315.40" x2="363.20" y2="317.20" stroke="#222" stroke-width="0.5" />
<text x="354.85" y="313.90" font-size="7" fill="#222" text-anchor="middle" font-weight="bold" dominant-baseline="central">*</text>
<g stroke="#1a1a1a" stroke-width="0.3" opacity="0.8" fill="none">
<path d="M402.40,363.28 L419.00,363.89 L435.70,362.31"/>
<path d="M402.40,363.12 L419.00,362.40 L435.70,359.63"/>
<path d="M402.40,362.94 L419.00,362.21 L435.70,357.97"/>
<path d="M402.40,362.90 L419.00,360.86 L435.70,358.41"/>
<path d="M402.40,362.85 L419.00,360.62 L435.70,356.41"/>
<path d="M402.40,362.83 L419.00,360.79 L435.70,350.12"/>
<path d="M402.40,361.93 L419.00,363.17 L435.70,356.95"/>
<path d="M402.40,361.80 L419.00,360.40 L435.70,357.06"/>
<path d="M402.40,361.70 L419.00,361.89 L435.70,357.20"/>
<path d="M402.40,361.57 L419.00,363.63 L435.70,357.41"/>
<path d="M402.40,361.48 L419.00,358.99 L435.70,360.32"/>
<path d="M402.40,361.44 L419.00,360.92 L435.70,356.65"/>
<path d="M402.40,361.41 L419.00,361.66 L435.70,354.24"/>
<path d="M402.40,361.40 L419.00,360.99 L435.70,350.97"/>
<path d="M402.40,361.34 L419.00,362.92 L435.70,350.34"/>
<path d="M402.40,361.19 L419.00,359.99 L435.70,359.68"/>
<path d="M402.40,361.11 L419.00,351.68 L435.70,336.92"/>
<path d="M402.40,361.09 L419.00,362.32 L435.70,360.64"/>
<path d="M402.40,361.08 L419.00,359.33 L435.70,358.66"/>
<path d="M402.40,360.45 L419.00,363.52 L435.70,353.74"/>
<path d="M402.40,360.42 L419.00,361.80 L435.70,358.32"/>
<path d="M402.40,360.37 L419.00,363.97 L435.70,348.06"/>
<path d="M402.40,360.10 L419.00,358.71 L435.70,352.65"/>
<path d="M402.40,360.06 L419.00,360.14 L435.70,356.45"/>
<path d="M402.40,358.80 L419.00,361.10 L435.70,354.40"/>
<path d="M402.40,358.74 L419.00,361.74 L435.70,354.31"/>
<path d="M402.40,358.70 L419.00,361.68 L435.70,354.32"/>
<path d="M402.40,357.37 L419.00,360.62 L435.70,335.28"/>
<path d="M402.40,357.09 L419.00,352.50 L435.70,338.56"/>
<path d="M402.40,356.88 L419.00,361.71 L435.70,352.31"/>
<path d="M402.40,356.76 L419.00,362.99 L435.70,347.77"/>
<path d="M402.40,355.84 L419.00,361.40 L435.70,344.44"/>
<path d="M402.40,355.57 L419.00,362.07 L435.70,349.43"/>
<path d="M402.40,350.04 L419.00,359.23 L435.70,356.21"/>
<path d="M402.40,345.12 L419.00,363.32 L435.70,347.68"/>
<path d="M402.40,338.56 L419.00,338.56 L435.70,351.65"/>
<path d="M402.40,331.44 L419.00,325.89 L435.70,320.90"/>
</g>
<circle cx="402.40" cy="361.48" r="1.15" fill="#2db34a" stroke="none" stroke-width="0" />
<circle cx="402.40" cy="360.45" r="1.15" fill="#2db34a" stroke="none" stroke-width="0" />
<circle cx="402.40" cy="363.12" r="1.15" fill="#2db34a" stroke="none" stroke-width="0" />
<circle cx="402.40" cy="358.80" r="1.15" fill="#2db34a" stroke="none" stroke-width="0" />
<circle cx="402.40" cy="361.70" r="1.15" fill="#2db34a" stroke="none" stroke-width="0" />
<circle cx="402.40" cy="361.41" r="1.15" fill="#2db34a" stroke="none" stroke-width="0" />
<circle cx="402.40" cy="362.90" r="1.15" fill="#2db34a" stroke="none" stroke-width="0" />
<circle cx="402.40" cy="361.34" r="1.15" fill="#2db34a" stroke="none" stroke-width="0" />
<circle cx="402.40" cy="355.84" r="1.15" fill="#2db34a" stroke="none" stroke-width="0" />
<circle cx="402.40" cy="361.40" r="1.15" fill="#2db34a" stroke="none" stroke-width="0" />
<circle cx="402.40" cy="362.85" r="1.15" fill="#2db34a" stroke="none" stroke-width="0" />
<circle cx="402.40" cy="361.09" r="1.15" fill="#2db34a" stroke="none" stroke-width="0" />
<circle cx="402.40" cy="355.57" r="1.15" fill="#2db34a" stroke="none" stroke-width="0" />
<circle cx="402.40" cy="362.94" r="1.15" fill="#2db34a" stroke="none" stroke-width="0" />
<circle cx="402.40" cy="361.11" r="1.15" fill="#2db34a" stroke="none" stroke-width="0" />
<circle cx="402.40" cy="361.93" r="1.15" fill="#2db34a" stroke="none" stroke-width="0" />
<circle cx="402.40" cy="358.74" r="1.15" fill="#2db34a" stroke="none" stroke-width="0" />
<circle cx="402.40" cy="360.37" r="1.15" fill="#2db34a" stroke="none" stroke-width="0" />
<circle cx="402.40" cy="362.83" r="1.15" fill="#2db34a" stroke="none" stroke-width="0" />
<circle cx="402.40" cy="356.88" r="1.15" fill="#2db34a" stroke="none" stroke-width="0" />
<circle cx="402.40" cy="361.19" r="1.15" fill="#2db34a" stroke="none" stroke-width="0" />
<circle cx="402.40" cy="358.70" r="1.15" fill="#2db34a" stroke="none" stroke-width="0" />
<circle cx="402.40" cy="360.42" r="1.15" fill="#2db34a" stroke="none" stroke-width="0" />
<circle cx="402.40" cy="356.76" r="1.15" fill="#2db34a" stroke="none" stroke-width="0" />
<circle cx="402.40" cy="363.28" r="1.15" fill="#2db34a" stroke="none" stroke-width="0" />
<circle cx="402.40" cy="361.80" r="1.15" fill="#2db34a" stroke="none" stroke-width="0" />
<circle cx="402.40" cy="361.44" r="1.15" fill="#2db34a" stroke="none" stroke-width="0" />
<circle cx="402.40" cy="361.57" r="1.15" fill="#2db34a" stroke="none" stroke-width="0" />
<circle cx="402.40" cy="357.37" r="1.15" fill="#2db34a" stroke="none" stroke-width="0" />
<circle cx="402.40" cy="360.10" r="1.15" fill="#2db34a" stroke="none" stroke-width="0" />
<circle cx="402.40" cy="361.08" r="1.15" fill="#2db34a" stroke="none" stroke-width="0" />
<circle cx="402.40" cy="360.06" r="1.15" fill="#2db34a" stroke="none" stroke-width="0" />
<circle cx="402.40" cy="357.09" r="1.15" fill="#2db34a" stroke="none" stroke-width="0" />
<circle cx="402.40" cy="350.04" r="1.15" fill="#2db34a" stroke="none" stroke-width="0" />
<circle cx="402.40" cy="345.12" r="1.15" fill="#2db34a" stroke="none" stroke-width="0" />
<circle cx="402.40" cy="338.56" r="1.15" fill="#2db34a" stroke="none" stroke-width="0" />
<circle cx="402.40" cy="331.44" r="1.15" fill="#2db34a" stroke="none" stroke-width="0" />
<circle cx="419.00" cy="361.10" r="1.15" fill="#1b5aa0" stroke="none" stroke-width="0" />
<circle cx="419.00" cy="361.68" r="1.15" fill="#1b5aa0" stroke="none" stroke-width="0" />
<circle cx="419.00" cy="360.62" r="1.15" fill="#1b5aa0" stroke="none" stroke-width="0" />
<circle cx="419.00" cy="360.86" r="1.15" fill="#1b5aa0" stroke="none" stroke-width="0" />
<circle cx="419.00" cy="361.89" r="1.15" fill="#1b5aa0" stroke="none" stroke-width="0" />
<circle cx="419.00" cy="361.80" r="1.15" fill="#1b5aa0" stroke="none" stroke-width="0" />
<circle cx="419.00" cy="363.17" r="1.15" fill="#1b5aa0" stroke="none" stroke-width="0" />
<circle cx="419.00" cy="361.74" r="1.15" fill="#1b5aa0" stroke="none" stroke-width="0" />
<circle cx="419.00" cy="358.99" r="1.15" fill="#1b5aa0" stroke="none" stroke-width="0" />
<circle cx="419.00" cy="362.32" r="1.15" fill="#1b5aa0" stroke="none" stroke-width="0" />
<circle cx="419.00" cy="362.07" r="1.15" fill="#1b5aa0" stroke="none" stroke-width="0" />
<circle cx="419.00" cy="360.92" r="1.15" fill="#1b5aa0" stroke="none" stroke-width="0" />
<circle cx="419.00" cy="360.99" r="1.15" fill="#1b5aa0" stroke="none" stroke-width="0" />
<circle cx="419.00" cy="362.92" r="1.15" fill="#1b5aa0" stroke="none" stroke-width="0" />
<circle cx="419.00" cy="361.71" r="1.15" fill="#1b5aa0" stroke="none" stroke-width="0" />
<circle cx="419.00" cy="360.14" r="1.15" fill="#1b5aa0" stroke="none" stroke-width="0" />
<circle cx="419.00" cy="363.89" r="1.15" fill="#1b5aa0" stroke="none" stroke-width="0" />
<circle cx="419.00" cy="363.32" r="1.15" fill="#1b5aa0" stroke="none" stroke-width="0" />
<circle cx="419.00" cy="359.99" r="1.15" fill="#1b5aa0" stroke="none" stroke-width="0" />
<circle cx="419.00" cy="358.71" r="1.15" fill="#1b5aa0" stroke="none" stroke-width="0" />
<circle cx="419.00" cy="363.63" r="1.15" fill="#1b5aa0" stroke="none" stroke-width="0" />
<circle cx="419.00" cy="363.52" r="1.15" fill="#1b5aa0" stroke="none" stroke-width="0" />
<circle cx="419.00" cy="360.79" r="1.15" fill="#1b5aa0" stroke="none" stroke-width="0" />
<circle cx="419.00" cy="362.40" r="1.15" fill="#1b5aa0" stroke="none" stroke-width="0" />
<circle cx="419.00" cy="360.62" r="1.15" fill="#1b5aa0" stroke="none" stroke-width="0" />
<circle cx="419.00" cy="363.97" r="1.15" fill="#1b5aa0" stroke="none" stroke-width="0" />
<circle cx="419.00" cy="361.66" r="1.15" fill="#1b5aa0" stroke="none" stroke-width="0" />
<circle cx="419.00" cy="362.99" r="1.15" fill="#1b5aa0" stroke="none" stroke-width="0" />
<circle cx="419.00" cy="362.21" r="1.15" fill="#1b5aa0" stroke="none" stroke-width="0" />
<circle cx="419.00" cy="360.40" r="1.15" fill="#1b5aa0" stroke="none" stroke-width="0" />
<circle cx="419.00" cy="361.40" r="1.15" fill="#1b5aa0" stroke="none" stroke-width="0" />
<circle cx="419.00" cy="359.23" r="1.15" fill="#1b5aa0" stroke="none" stroke-width="0" />
<circle cx="419.00" cy="359.33" r="1.15" fill="#1b5aa0" stroke="none" stroke-width="0" />
<circle cx="419.00" cy="351.68" r="1.15" fill="#1b5aa0" stroke="none" stroke-width="0" />
<circle cx="419.00" cy="352.50" r="1.15" fill="#1b5aa0" stroke="none" stroke-width="0" />
<circle cx="419.00" cy="338.56" r="1.15" fill="#1b5aa0" stroke="none" stroke-width="0" />
<circle cx="419.00" cy="325.89" r="1.15" fill="#1b5aa0" stroke="none" stroke-width="0" />
<circle cx="435.70" cy="354.32" r="1.15" fill="#d3153a" stroke="none" stroke-width="0" />
<circle cx="435.70" cy="350.34" r="1.15" fill="#d3153a" stroke="none" stroke-width="0" />
<circle cx="435.70" cy="359.63" r="1.15" fill="#d3153a" stroke="none" stroke-width="0" />
<circle cx="435.70" cy="356.21" r="1.15" fill="#d3153a" stroke="none" stroke-width="0" />
<circle cx="435.70" cy="357.97" r="1.15" fill="#d3153a" stroke="none" stroke-width="0" />
<circle cx="435.70" cy="354.24" r="1.15" fill="#d3153a" stroke="none" stroke-width="0" />
<circle cx="435.70" cy="360.64" r="1.15" fill="#d3153a" stroke="none" stroke-width="0" />
<circle cx="435.70" cy="349.43" r="1.15" fill="#d3153a" stroke="none" stroke-width="0" />
<circle cx="435.70" cy="357.41" r="1.15" fill="#d3153a" stroke="none" stroke-width="0" />
<circle cx="435.70" cy="351.65" r="1.15" fill="#d3153a" stroke="none" stroke-width="0" />
<circle cx="435.70" cy="347.68" r="1.15" fill="#d3153a" stroke="none" stroke-width="0" />
<circle cx="435.70" cy="347.77" r="1.15" fill="#d3153a" stroke="none" stroke-width="0" />
<circle cx="435.70" cy="357.20" r="1.15" fill="#d3153a" stroke="none" stroke-width="0" />
<circle cx="435.70" cy="350.12" r="1.15" fill="#d3153a" stroke="none" stroke-width="0" />
<circle cx="435.70" cy="344.44" r="1.15" fill="#d3153a" stroke="none" stroke-width="0" />
<circle cx="435.70" cy="360.32" r="1.15" fill="#d3153a" stroke="none" stroke-width="0" />
<circle cx="435.70" cy="352.31" r="1.15" fill="#d3153a" stroke="none" stroke-width="0" />
<circle cx="435.70" cy="352.65" r="1.15" fill="#d3153a" stroke="none" stroke-width="0" />
<circle cx="435.70" cy="356.41" r="1.15" fill="#d3153a" stroke="none" stroke-width="0" />
<circle cx="435.70" cy="358.41" r="1.15" fill="#d3153a" stroke="none" stroke-width="0" />
<circle cx="435.70" cy="359.68" r="1.15" fill="#d3153a" stroke="none" stroke-width="0" />
<circle cx="435.70" cy="356.95" r="1.15" fill="#d3153a" stroke="none" stroke-width="0" />
<circle cx="435.70" cy="348.06" r="1.15" fill="#d3153a" stroke="none" stroke-width="0" />
<circle cx="435.70" cy="357.06" r="1.15" fill="#d3153a" stroke="none" stroke-width="0" />
<circle cx="435.70" cy="358.66" r="1.15" fill="#d3153a" stroke="none" stroke-width="0" />
<circle cx="435.70" cy="354.31" r="1.15" fill="#d3153a" stroke="none" stroke-width="0" />
<circle cx="435.70" cy="356.65" r="1.15" fill="#d3153a" stroke="none" stroke-width="0" />
<circle cx="435.70" cy="354.40" r="1.15" fill="#d3153a" stroke="none" stroke-width="0" />
<circle cx="435.70" cy="356.45" r="1.15" fill="#d3153a" stroke="none" stroke-width="0" />
<circle cx="435.70" cy="358.32" r="1.15" fill="#d3153a" stroke="none" stroke-width="0" />
<circle cx="435.70" cy="362.31" r="1.15" fill="#d3153a" stroke="none" stroke-width="0" />
<circle cx="435.70" cy="350.97" r="1.15" fill="#d3153a" stroke="none" stroke-width="0" />
<circle cx="435.70" cy="353.74" r="1.15" fill="#d3153a" stroke="none" stroke-width="0" />
<circle cx="435.70" cy="338.56" r="1.15" fill="#d3153a" stroke="none" stroke-width="0" />
<circle cx="435.70" cy="335.28" r="1.15" fill="#d3153a" stroke="none" stroke-width="0" />
<circle cx="435.70" cy="336.92" r="1.15" fill="#d3153a" stroke="none" stroke-width="0" />
<circle cx="435.70" cy="320.90" r="1.15" fill="#d3153a" stroke="none" stroke-width="0" />
<line x1="391.40" y1="306.00" x2="391.40" y2="332.40" stroke="#111" stroke-width="0.8" />
<line x1="391.40" y1="334.60" x2="391.40" y2="365.20" stroke="#111" stroke-width="0.8" />
<line x1="390.10" y1="333.20" x2="392.70" y2="331.60" stroke="#111" stroke-width="0.5" />
<line x1="390.10" y1="335.40" x2="392.70" y2="333.80" stroke="#111" stroke-width="0.5" />
<line x1="391.00" y1="364.80" x2="439.90" y2="364.80" stroke="#111" stroke-width="0.8" />
<line x1="390.30" y1="364.80" x2="391.40" y2="364.80" stroke="#111" stroke-width="0.4" />
<line x1="390.30" y1="363.16" x2="391.40" y2="363.16" stroke="#111" stroke-width="0.4" />
<line x1="390.30" y1="361.52" x2="391.40" y2="361.52" stroke="#111" stroke-width="0.4" />
<line x1="390.30" y1="359.88" x2="391.40" y2="359.88" stroke="#111" stroke-width="0.4" />
<line x1="390.30" y1="358.24" x2="391.40" y2="358.24" stroke="#111" stroke-width="0.4" />
<line x1="390.30" y1="356.60" x2="391.40" y2="356.60" stroke="#111" stroke-width="0.4" />
<line x1="390.30" y1="354.96" x2="391.40" y2="354.96" stroke="#111" stroke-width="0.4" />
<line x1="390.30" y1="353.32" x2="391.40" y2="353.32" stroke="#111" stroke-width="0.4" />
<line x1="390.30" y1="351.68" x2="391.40" y2="351.68" stroke="#111" stroke-width="0.4" />
<line x1="390.30" y1="350.04" x2="391.40" y2="350.04" stroke="#111" stroke-width="0.4" />
<line x1="390.30" y1="348.40" x2="391.40" y2="348.40" stroke="#111" stroke-width="0.4" />
<line x1="390.30" y1="346.76" x2="391.40" y2="346.76" stroke="#111" stroke-width="0.4" />
<line x1="390.30" y1="345.12" x2="391.40" y2="345.12" stroke="#111" stroke-width="0.4" />
<line x1="390.30" y1="343.48" x2="391.40" y2="343.48" stroke="#111" stroke-width="0.4" />
<line x1="390.30" y1="341.84" x2="391.40" y2="341.84" stroke="#111" stroke-width="0.4" />
<line x1="390.30" y1="340.20" x2="391.40" y2="340.20" stroke="#111" stroke-width="0.4" />
<line x1="390.30" y1="338.56" x2="391.40" y2="338.56" stroke="#111" stroke-width="0.4" />
<line x1="390.30" y1="336.92" x2="391.40" y2="336.92" stroke="#111" stroke-width="0.4" />
<line x1="390.30" y1="335.28" x2="391.40" y2="335.28" stroke="#111" stroke-width="0.4" />
<line x1="390.30" y1="332.00" x2="391.40" y2="332.00" stroke="#111" stroke-width="0.4" />
<line x1="390.30" y1="330.89" x2="391.40" y2="330.89" stroke="#111" stroke-width="0.4" />
<line x1="390.30" y1="329.78" x2="391.40" y2="329.78" stroke="#111" stroke-width="0.4" />
<line x1="390.30" y1="328.67" x2="391.40" y2="328.67" stroke="#111" stroke-width="0.4" />
<line x1="390.30" y1="327.56" x2="391.40" y2="327.56" stroke="#111" stroke-width="0.4" />
<line x1="390.30" y1="326.45" x2="391.40" y2="326.45" stroke="#111" stroke-width="0.4" />
<line x1="390.30" y1="325.34" x2="391.40" y2="325.34" stroke="#111" stroke-width="0.4" />
<line x1="390.30" y1="324.23" x2="391.40" y2="324.23" stroke="#111" stroke-width="0.4" />
<line x1="390.30" y1="323.12" x2="391.40" y2="323.12" stroke="#111" stroke-width="0.4" />
<line x1="390.30" y1="322.01" x2="391.40" y2="322.01" stroke="#111" stroke-width="0.4" />
<line x1="390.30" y1="320.90" x2="391.40" y2="320.90" stroke="#111" stroke-width="0.4" />
<line x1="390.30" y1="319.79" x2="391.40" y2="319.79" stroke="#111" stroke-width="0.4" />
<line x1="390.30" y1="318.68" x2="391.40" y2="318.68" stroke="#111" stroke-width="0.4" />
<line x1="390.30" y1="317.57" x2="391.40" y2="317.57" stroke="#111" stroke-width="0.4" />
<line x1="390.30" y1="316.46" x2="391.40" y2="316.46" stroke="#111" stroke-width="0.4" />
<line x1="390.30" y1="315.35" x2="391.40" y2="315.35" stroke="#111" stroke-width="0.4" />
<line x1="390.30" y1="314.24" x2="391.40" y2="314.24" stroke="#111" stroke-width="0.4" />
<line x1="390.30" y1="313.13" x2="391.40" y2="313.13" stroke="#111" stroke-width="0.4" />
<line x1="390.30" y1="312.02" x2="391.40" y2="312.02" stroke="#111" stroke-width="0.4" />
<line x1="390.30" y1="310.91" x2="391.40" y2="310.91" stroke="#111" stroke-width="0.4" />
<line x1="390.30" y1="309.80" x2="391.40" y2="309.80" stroke="#111" stroke-width="0.4" />
<line x1="389.40" y1="364.80" x2="391.40" y2="364.80" stroke="#111" stroke-width="0.6" />
<text x="387.30" y="365.20" font-size="5.6" fill="#222" text-anchor="end" textLength="7.82" lengthAdjust="spacingAndGlyphs" stroke="#222" stroke-width="0.078" dominant-baseline="central">0.0</text>
<line x1="389.40" y1="356.60" x2="391.40" y2="356.60" stroke="#111" stroke-width="0.6" />
<text x="387.30" y="357.00" font-size="5.6" fill="#222" text-anchor="end" textLength="7.82" lengthAdjust="spacingAndGlyphs" stroke="#222" stroke-width="0.078" dominant-baseline="central">0.5</text>
<line x1="389.40" y1="348.40" x2="391.40" y2="348.40" stroke="#111" stroke-width="0.6" />
<text x="387.30" y="348.80" font-size="5.6" fill="#222" text-anchor="end" textLength="7.82" lengthAdjust="spacingAndGlyphs" stroke="#222" stroke-width="0.078" dominant-baseline="central">1.0</text>
<line x1="389.40" y1="340.20" x2="391.40" y2="340.20" stroke="#111" stroke-width="0.6" />
<text x="387.30" y="340.60" font-size="5.6" fill="#222" text-anchor="end" textLength="7.82" lengthAdjust="spacingAndGlyphs" stroke="#222" stroke-width="0.078" dominant-baseline="central">1.5</text>
<line x1="389.40" y1="332.00" x2="391.40" y2="332.00" stroke="#111" stroke-width="0.6" />
<text x="387.30" y="332.40" font-size="5.6" fill="#222" text-anchor="end" textLength="3.15" lengthAdjust="spacingAndGlyphs" stroke="#222" stroke-width="0.078" dominant-baseline="central">2</text>
<line x1="389.40" y1="326.40" x2="391.40" y2="326.40" stroke="#111" stroke-width="0.6" />
<text x="387.30" y="326.80" font-size="5.6" fill="#222" text-anchor="end" textLength="3.15" lengthAdjust="spacingAndGlyphs" stroke="#222" stroke-width="0.078" dominant-baseline="central">3</text>
<line x1="389.40" y1="321.00" x2="391.40" y2="321.00" stroke="#111" stroke-width="0.6" />
<text x="387.30" y="321.40" font-size="5.6" fill="#222" text-anchor="end" textLength="3.15" lengthAdjust="spacingAndGlyphs" stroke="#222" stroke-width="0.078" dominant-baseline="central">4</text>
<line x1="389.40" y1="315.50" x2="391.40" y2="315.50" stroke="#111" stroke-width="0.6" />
<text x="387.30" y="315.90" font-size="5.6" fill="#222" text-anchor="end" textLength="3.15" lengthAdjust="spacingAndGlyphs" stroke="#222" stroke-width="0.078" dominant-baseline="central">5</text>
<line x1="389.40" y1="309.80" x2="391.40" y2="309.80" stroke="#111" stroke-width="0.6" />
<text x="387.30" y="310.20" font-size="5.6" fill="#222" text-anchor="end" textLength="3.15" lengthAdjust="spacingAndGlyphs" stroke="#222" stroke-width="0.078" dominant-baseline="central">6</text>
<line x1="402.40" y1="364.80" x2="402.40" y2="366.40" stroke="#111" stroke-width="0.6" />
<line x1="419.00" y1="364.80" x2="419.00" y2="366.40" stroke="#111" stroke-width="0.6" />
<line x1="435.70" y1="364.80" x2="435.70" y2="366.40" stroke="#111" stroke-width="0.6" />
<text x="402.40" y="373.30" font-size="5.8" fill="#222" text-anchor="middle" textLength="7.60" lengthAdjust="spacingAndGlyphs" stroke="#222" stroke-width="0.081" dominant-baseline="central">M3</text>
<text x="419.00" y="373.30" font-size="5.8" fill="#222" text-anchor="middle" textLength="7.60" lengthAdjust="spacingAndGlyphs" stroke="#222" stroke-width="0.081" dominant-baseline="central">M6</text>
<text x="435.70" y="373.30" font-size="5.8" fill="#222" text-anchor="middle" textLength="10.30" lengthAdjust="spacingAndGlyphs" stroke="#222" stroke-width="0.081" dominant-baseline="central">M12</text>
<text x="418.80" y="289.90" font-size="7.5" fill="#111" text-anchor="middle" font-weight="bold" textLength="16.00" lengthAdjust="spacingAndGlyphs" dominant-baseline="central">MC9</text>
<text x="418.80" y="298.90" font-size="6.8" fill="#222" text-anchor="middle" textLength="31.00" lengthAdjust="spacingAndGlyphs" stroke="#222" stroke-width="0.095" dominant-baseline="central">(Th2/Tc2)</text>
<line x1="402.40" y1="310.30" x2="435.70" y2="310.30" stroke="#222" stroke-width="0.6" />
<line x1="402.40" y1="309.40" x2="402.40" y2="311.20" stroke="#222" stroke-width="0.5" />
<line x1="435.70" y1="309.40" x2="435.70" y2="311.20" stroke="#222" stroke-width="0.5" />
<text x="419.05" y="307.90" font-size="7" fill="#222" text-anchor="middle" font-weight="bold" dominant-baseline="central">*</text>
<line x1="419.00" y1="316.30" x2="435.70" y2="316.30" stroke="#222" stroke-width="0.6" />
<line x1="419.00" y1="315.40" x2="419.00" y2="317.20" stroke="#222" stroke-width="0.5" />
<line x1="435.70" y1="315.40" x2="435.70" y2="317.20" stroke="#222" stroke-width="0.5" />
<text x="427.35" y="313.90" font-size="7" fill="#222" text-anchor="middle" font-weight="bold" dominant-baseline="central">**</text>
<g stroke="#1a1a1a" stroke-width="0.3" opacity="0.8" fill="none">
<path d="M474.10,363.54 L490.70,357.57 L507.40,358.22"/>
<path d="M474.10,362.97 L490.70,359.78 L507.40,359.17"/>
<path d="M474.10,361.43 L490.70,362.20 L507.40,356.34"/>
<path d="M474.10,360.64 L490.70,356.48 L507.40,352.28"/>
<path d="M474.10,360.62 L490.70,355.48 L507.40,362.26"/>
<path d="M474.10,360.38 L490.70,349.74 L507.40,356.54"/>
<path d="M474.10,360.18 L490.70,354.39 L507.40,364.68"/>
<path d="M474.10,359.78 L490.70,348.92 L507.40,356.34"/>
<path d="M474.10,359.48 L490.70,355.06 L507.40,355.47"/>
<path d="M474.10,358.84 L490.70,357.30 L507.40,349.52"/>
<path d="M474.10,358.52 L490.70,350.29 L507.40,354.42"/>
<path d="M474.10,358.49 L490.70,355.54 L507.40,348.56"/>
<path d="M474.10,358.45 L490.70,348.84 L507.40,358.54"/>
<path d="M474.10,358.26 L490.70,362.12 L507.40,354.13"/>
<path d="M474.10,357.95 L490.70,353.36 L507.40,357.84"/>
<path d="M474.10,357.18 L490.70,357.03 L507.40,351.47"/>
<path d="M474.10,357.17 L490.70,357.09 L507.40,353.24"/>
<path d="M474.10,357.16 L490.70,345.56 L507.40,362.44"/>
<path d="M474.10,357.14 L490.70,356.16 L507.40,360.84"/>
<path d="M474.10,357.05 L490.70,353.54 L507.40,358.17"/>
<path d="M474.10,356.63 L490.70,353.16 L507.40,358.97"/>
<path d="M474.10,356.58 L490.70,352.70 L507.40,339.70"/>
<path d="M474.10,356.54 L490.70,356.67 L507.40,360.38"/>
<path d="M474.10,356.38 L490.70,358.80 L507.40,353.97"/>
<path d="M474.10,356.14 L490.70,352.23 L507.40,346.89"/>
<path d="M474.10,356.09 L490.70,353.51 L507.40,358.33"/>
<path d="M474.10,356.07 L490.70,354.04 L507.40,359.80"/>
<path d="M474.10,355.93 L490.70,360.76 L507.40,353.97"/>
<path d="M474.10,355.27 L490.70,352.94 L507.40,347.42"/>
<path d="M474.10,353.21 L490.70,347.04 L507.40,358.77"/>
<path d="M474.10,352.53 L490.70,361.74 L507.40,355.38"/>
<path d="M474.10,351.68 L490.70,349.30 L507.40,356.26"/>
<path d="M474.10,341.37 L490.70,357.75 L507.40,355.86"/>
<path d="M474.10,340.54 L490.70,354.17 L507.40,350.31"/>
<path d="M474.10,335.52 L490.70,349.51 L507.40,333.01"/>
<path d="M474.10,333.84 L490.70,351.58 L507.40,328.82"/>
<path d="M474.10,333.01 L490.70,323.80 L507.40,330.50"/>
</g>
<circle cx="474.10" cy="357.05" r="1.15" fill="#2db34a" stroke="none" stroke-width="0" />
<circle cx="474.10" cy="363.54" r="1.15" fill="#2db34a" stroke="none" stroke-width="0" />
<circle cx="474.10" cy="360.64" r="1.15" fill="#2db34a" stroke="none" stroke-width="0" />
<circle cx="474.10" cy="360.18" r="1.15" fill="#2db34a" stroke="none" stroke-width="0" />
<circle cx="474.10" cy="353.21" r="1.15" fill="#2db34a" stroke="none" stroke-width="0" />
<circle cx="474.10" cy="358.84" r="1.15" fill="#2db34a" stroke="none" stroke-width="0" />
<circle cx="474.10" cy="360.38" r="1.15" fill="#2db34a" stroke="none" stroke-width="0" />
<circle cx="474.10" cy="358.49" r="1.15" fill="#2db34a" stroke="none" stroke-width="0" />
<circle cx="474.10" cy="358.45" r="1.15" fill="#2db34a" stroke="none" stroke-width="0" />
<circle cx="474.10" cy="361.43" r="1.15" fill="#2db34a" stroke="none" stroke-width="0" />
<circle cx="474.10" cy="356.58" r="1.15" fill="#2db34a" stroke="none" stroke-width="0" />
<circle cx="474.10" cy="355.93" r="1.15" fill="#2db34a" stroke="none" stroke-width="0" />
<circle cx="474.10" cy="358.52" r="1.15" fill="#2db34a" stroke="none" stroke-width="0" />
<circle cx="474.10" cy="357.95" r="1.15" fill="#2db34a" stroke="none" stroke-width="0" />
<circle cx="474.10" cy="355.27" r="1.15" fill="#2db34a" stroke="none" stroke-width="0" />
<circle cx="474.10" cy="351.68" r="1.15" fill="#2db34a" stroke="none" stroke-width="0" />
<circle cx="474.10" cy="357.18" r="1.15" fill="#2db34a" stroke="none" stroke-width="0" />
<circle cx="474.10" cy="362.97" r="1.15" fill="#2db34a" stroke="none" stroke-width="0" />
<circle cx="474.10" cy="358.26" r="1.15" fill="#2db34a" stroke="none" stroke-width="0" />
<circle cx="474.10" cy="356.63" r="1.15" fill="#2db34a" stroke="none" stroke-width="0" />
<circle cx="474.10" cy="359.78" r="1.15" fill="#2db34a" stroke="none" stroke-width="0" />
<circle cx="474.10" cy="356.38" r="1.15" fill="#2db34a" stroke="none" stroke-width="0" />
<circle cx="474.10" cy="359.48" r="1.15" fill="#2db34a" stroke="none" stroke-width="0" />
<circle cx="474.10" cy="357.14" r="1.15" fill="#2db34a" stroke="none" stroke-width="0" />
<circle cx="474.10" cy="357.16" r="1.15" fill="#2db34a" stroke="none" stroke-width="0" />
<circle cx="474.10" cy="356.54" r="1.15" fill="#2db34a" stroke="none" stroke-width="0" />
<circle cx="474.10" cy="352.53" r="1.15" fill="#2db34a" stroke="none" stroke-width="0" />
<circle cx="474.10" cy="356.09" r="1.15" fill="#2db34a" stroke="none" stroke-width="0" />
<circle cx="474.10" cy="356.07" r="1.15" fill="#2db34a" stroke="none" stroke-width="0" />
<circle cx="474.10" cy="356.14" r="1.15" fill="#2db34a" stroke="none" stroke-width="0" />
<circle cx="474.10" cy="360.62" r="1.15" fill="#2db34a" stroke="none" stroke-width="0" />
<circle cx="474.10" cy="357.17" r="1.15" fill="#2db34a" stroke="none" stroke-width="0" />
<circle cx="474.10" cy="341.37" r="1.15" fill="#2db34a" stroke="none" stroke-width="0" />
<circle cx="474.10" cy="340.54" r="1.15" fill="#2db34a" stroke="none" stroke-width="0" />
<circle cx="474.10" cy="335.52" r="1.15" fill="#2db34a" stroke="none" stroke-width="0" />
<circle cx="474.10" cy="333.84" r="1.15" fill="#2db34a" stroke="none" stroke-width="0" />
<circle cx="474.10" cy="333.01" r="1.15" fill="#2db34a" stroke="none" stroke-width="0" />
<circle cx="490.70" cy="355.48" r="1.15" fill="#1b5aa0" stroke="none" stroke-width="0" />
<circle cx="490.70" cy="362.20" r="1.15" fill="#1b5aa0" stroke="none" stroke-width="0" />
<circle cx="490.70" cy="353.54" r="1.15" fill="#1b5aa0" stroke="none" stroke-width="0" />
<circle cx="490.70" cy="359.78" r="1.15" fill="#1b5aa0" stroke="none" stroke-width="0" />
<circle cx="490.70" cy="357.03" r="1.15" fill="#1b5aa0" stroke="none" stroke-width="0" />
<circle cx="490.70" cy="356.67" r="1.15" fill="#1b5aa0" stroke="none" stroke-width="0" />
<circle cx="490.70" cy="354.04" r="1.15" fill="#1b5aa0" stroke="none" stroke-width="0" />
<circle cx="490.70" cy="353.36" r="1.15" fill="#1b5aa0" stroke="none" stroke-width="0" />
<circle cx="490.70" cy="357.30" r="1.15" fill="#1b5aa0" stroke="none" stroke-width="0" />
<circle cx="490.70" cy="349.51" r="1.15" fill="#1b5aa0" stroke="none" stroke-width="0" />
<circle cx="490.70" cy="357.57" r="1.15" fill="#1b5aa0" stroke="none" stroke-width="0" />
<circle cx="490.70" cy="356.16" r="1.15" fill="#1b5aa0" stroke="none" stroke-width="0" />
<circle cx="490.70" cy="347.04" r="1.15" fill="#1b5aa0" stroke="none" stroke-width="0" />
<circle cx="490.70" cy="358.80" r="1.15" fill="#1b5aa0" stroke="none" stroke-width="0" />
<circle cx="490.70" cy="354.17" r="1.15" fill="#1b5aa0" stroke="none" stroke-width="0" />
<circle cx="490.70" cy="348.92" r="1.15" fill="#1b5aa0" stroke="none" stroke-width="0" />
<circle cx="490.70" cy="361.74" r="1.15" fill="#1b5aa0" stroke="none" stroke-width="0" />
<circle cx="490.70" cy="353.16" r="1.15" fill="#1b5aa0" stroke="none" stroke-width="0" />
<circle cx="490.70" cy="355.06" r="1.15" fill="#1b5aa0" stroke="none" stroke-width="0" />
<circle cx="490.70" cy="356.48" r="1.15" fill="#1b5aa0" stroke="none" stroke-width="0" />
<circle cx="490.70" cy="352.94" r="1.15" fill="#1b5aa0" stroke="none" stroke-width="0" />
<circle cx="490.70" cy="351.58" r="1.15" fill="#1b5aa0" stroke="none" stroke-width="0" />
<circle cx="490.70" cy="360.76" r="1.15" fill="#1b5aa0" stroke="none" stroke-width="0" />
<circle cx="490.70" cy="357.09" r="1.15" fill="#1b5aa0" stroke="none" stroke-width="0" />
<circle cx="490.70" cy="355.54" r="1.15" fill="#1b5aa0" stroke="none" stroke-width="0" />
<circle cx="490.70" cy="354.39" r="1.15" fill="#1b5aa0" stroke="none" stroke-width="0" />
<circle cx="490.70" cy="348.84" r="1.15" fill="#1b5aa0" stroke="none" stroke-width="0" />
<circle cx="490.70" cy="352.70" r="1.15" fill="#1b5aa0" stroke="none" stroke-width="0" />
<circle cx="490.70" cy="352.23" r="1.15" fill="#1b5aa0" stroke="none" stroke-width="0" />
<circle cx="490.70" cy="362.12" r="1.15" fill="#1b5aa0" stroke="none" stroke-width="0" />
<circle cx="490.70" cy="357.75" r="1.15" fill="#1b5aa0" stroke="none" stroke-width="0" />
<circle cx="490.70" cy="350.29" r="1.15" fill="#1b5aa0" stroke="none" stroke-width="0" />
<circle cx="490.70" cy="349.30" r="1.15" fill="#1b5aa0" stroke="none" stroke-width="0" />
<circle cx="490.70" cy="353.51" r="1.15" fill="#1b5aa0" stroke="none" stroke-width="0" />
<circle cx="490.70" cy="323.80" r="1.15" fill="#1b5aa0" stroke="none" stroke-width="0" />
<circle cx="490.70" cy="345.56" r="1.15" fill="#1b5aa0" stroke="none" stroke-width="0" />
<circle cx="490.70" cy="349.74" r="1.15" fill="#1b5aa0" stroke="none" stroke-width="0" />
<circle cx="507.40" cy="358.17" r="1.15" fill="#d3153a" stroke="none" stroke-width="0" />
<circle cx="507.40" cy="352.28" r="1.15" fill="#d3153a" stroke="none" stroke-width="0" />
<circle cx="507.40" cy="355.86" r="1.15" fill="#d3153a" stroke="none" stroke-width="0" />
<circle cx="507.40" cy="353.97" r="1.15" fill="#d3153a" stroke="none" stroke-width="0" />
<circle cx="507.40" cy="354.42" r="1.15" fill="#d3153a" stroke="none" stroke-width="0" />
<circle cx="507.40" cy="350.31" r="1.15" fill="#d3153a" stroke="none" stroke-width="0" />
<circle cx="507.40" cy="353.24" r="1.15" fill="#d3153a" stroke="none" stroke-width="0" />
<circle cx="507.40" cy="346.89" r="1.15" fill="#d3153a" stroke="none" stroke-width="0" />
<circle cx="507.40" cy="356.34" r="1.15" fill="#d3153a" stroke="none" stroke-width="0" />
<circle cx="507.40" cy="356.34" r="1.15" fill="#d3153a" stroke="none" stroke-width="0" />
<circle cx="507.40" cy="354.13" r="1.15" fill="#d3153a" stroke="none" stroke-width="0" />
<circle cx="507.40" cy="355.47" r="1.15" fill="#d3153a" stroke="none" stroke-width="0" />
<circle cx="507.40" cy="362.26" r="1.15" fill="#d3153a" stroke="none" stroke-width="0" />
<circle cx="507.40" cy="347.42" r="1.15" fill="#d3153a" stroke="none" stroke-width="0" />
<circle cx="507.40" cy="358.33" r="1.15" fill="#d3153a" stroke="none" stroke-width="0" />
<circle cx="507.40" cy="356.26" r="1.15" fill="#d3153a" stroke="none" stroke-width="0" />
<circle cx="507.40" cy="362.44" r="1.15" fill="#d3153a" stroke="none" stroke-width="0" />
<circle cx="507.40" cy="359.80" r="1.15" fill="#d3153a" stroke="none" stroke-width="0" />
<circle cx="507.40" cy="348.56" r="1.15" fill="#d3153a" stroke="none" stroke-width="0" />
<circle cx="507.40" cy="358.77" r="1.15" fill="#d3153a" stroke="none" stroke-width="0" />
<circle cx="507.40" cy="358.54" r="1.15" fill="#d3153a" stroke="none" stroke-width="0" />
<circle cx="507.40" cy="351.47" r="1.15" fill="#d3153a" stroke="none" stroke-width="0" />
<circle cx="507.40" cy="359.17" r="1.15" fill="#d3153a" stroke="none" stroke-width="0" />
<circle cx="507.40" cy="353.97" r="1.15" fill="#d3153a" stroke="none" stroke-width="0" />
<circle cx="507.40" cy="355.38" r="1.15" fill="#d3153a" stroke="none" stroke-width="0" />
<circle cx="507.40" cy="349.52" r="1.15" fill="#d3153a" stroke="none" stroke-width="0" />
<circle cx="507.40" cy="356.54" r="1.15" fill="#d3153a" stroke="none" stroke-width="0" />
<circle cx="507.40" cy="358.22" r="1.15" fill="#d3153a" stroke="none" stroke-width="0" />
<circle cx="507.40" cy="358.97" r="1.15" fill="#d3153a" stroke="none" stroke-width="0" />
<circle cx="507.40" cy="357.84" r="1.15" fill="#d3153a" stroke="none" stroke-width="0" />
<circle cx="507.40" cy="364.68" r="1.15" fill="#d3153a" stroke="none" stroke-width="0" />
<circle cx="507.40" cy="360.84" r="1.15" fill="#d3153a" stroke="none" stroke-width="0" />
<circle cx="507.40" cy="360.38" r="1.15" fill="#d3153a" stroke="none" stroke-width="0" />
<circle cx="507.40" cy="339.70" r="1.15" fill="#d3153a" stroke="none" stroke-width="0" />
<circle cx="507.40" cy="333.01" r="1.15" fill="#d3153a" stroke="none" stroke-width="0" />
<circle cx="507.40" cy="330.50" r="1.15" fill="#d3153a" stroke="none" stroke-width="0" />
<circle cx="507.40" cy="328.82" r="1.15" fill="#d3153a" stroke="none" stroke-width="0" />
<line x1="463.10" y1="306.20" x2="463.10" y2="365.20" stroke="#111" stroke-width="0.8" />
<line x1="462.70" y1="364.80" x2="511.60" y2="364.80" stroke="#111" stroke-width="0.8" />
<line x1="462.00" y1="364.80" x2="463.10" y2="364.80" stroke="#111" stroke-width="0.4" />
<line x1="462.00" y1="363.13" x2="463.10" y2="363.13" stroke="#111" stroke-width="0.4" />
<line x1="462.00" y1="361.45" x2="463.10" y2="361.45" stroke="#111" stroke-width="0.4" />
<line x1="462.00" y1="359.78" x2="463.10" y2="359.78" stroke="#111" stroke-width="0.4" />
<line x1="462.00" y1="358.11" x2="463.10" y2="358.11" stroke="#111" stroke-width="0.4" />
<line x1="462.00" y1="356.43" x2="463.10" y2="356.43" stroke="#111" stroke-width="0.4" />
<line x1="462.00" y1="354.76" x2="463.10" y2="354.76" stroke="#111" stroke-width="0.4" />
<line x1="462.00" y1="353.09" x2="463.10" y2="353.09" stroke="#111" stroke-width="0.4" />
<line x1="462.00" y1="351.41" x2="463.10" y2="351.41" stroke="#111" stroke-width="0.4" />
<line x1="462.00" y1="349.74" x2="463.10" y2="349.74" stroke="#111" stroke-width="0.4" />
<line x1="462.00" y1="348.07" x2="463.10" y2="348.07" stroke="#111" stroke-width="0.4" />
<line x1="462.00" y1="346.39" x2="463.10" y2="346.39" stroke="#111" stroke-width="0.4" />
<line x1="462.00" y1="344.72" x2="463.10" y2="344.72" stroke="#111" stroke-width="0.4" />
<line x1="462.00" y1="343.05" x2="463.10" y2="343.05" stroke="#111" stroke-width="0.4" />
<line x1="462.00" y1="341.37" x2="463.10" y2="341.37" stroke="#111" stroke-width="0.4" />
<line x1="462.00" y1="339.70" x2="463.10" y2="339.70" stroke="#111" stroke-width="0.4" />
<line x1="462.00" y1="338.03" x2="463.10" y2="338.03" stroke="#111" stroke-width="0.4" />
<line x1="462.00" y1="336.35" x2="463.10" y2="336.35" stroke="#111" stroke-width="0.4" />
<line x1="462.00" y1="334.68" x2="463.10" y2="334.68" stroke="#111" stroke-width="0.4" />
<line x1="462.00" y1="333.01" x2="463.10" y2="333.01" stroke="#111" stroke-width="0.4" />
<line x1="462.00" y1="331.33" x2="463.10" y2="331.33" stroke="#111" stroke-width="0.4" />
<line x1="462.00" y1="329.66" x2="463.10" y2="329.66" stroke="#111" stroke-width="0.4" />
<line x1="462.00" y1="327.99" x2="463.10" y2="327.99" stroke="#111" stroke-width="0.4" />
<line x1="462.00" y1="326.31" x2="463.10" y2="326.31" stroke="#111" stroke-width="0.4" />
<line x1="462.00" y1="324.64" x2="463.10" y2="324.64" stroke="#111" stroke-width="0.4" />
<line x1="462.00" y1="322.97" x2="463.10" y2="322.97" stroke="#111" stroke-width="0.4" />
<line x1="462.00" y1="321.29" x2="463.10" y2="321.29" stroke="#111" stroke-width="0.4" />
<line x1="462.00" y1="319.62" x2="463.10" y2="319.62" stroke="#111" stroke-width="0.4" />
<line x1="462.00" y1="317.95" x2="463.10" y2="317.95" stroke="#111" stroke-width="0.4" />
<line x1="462.00" y1="316.27" x2="463.10" y2="316.27" stroke="#111" stroke-width="0.4" />
<line x1="462.00" y1="314.60" x2="463.10" y2="314.60" stroke="#111" stroke-width="0.4" />
<line x1="462.00" y1="312.93" x2="463.10" y2="312.93" stroke="#111" stroke-width="0.4" />
<line x1="462.00" y1="311.25" x2="463.10" y2="311.25" stroke="#111" stroke-width="0.4" />
<line x1="462.00" y1="309.58" x2="463.10" y2="309.58" stroke="#111" stroke-width="0.4" />
<line x1="462.00" y1="307.91" x2="463.10" y2="307.91" stroke="#111" stroke-width="0.4" />
<line x1="461.10" y1="364.80" x2="463.10" y2="364.80" stroke="#111" stroke-width="0.6" />
<text x="459.00" y="365.20" font-size="5.6" fill="#222" text-anchor="end" textLength="3.15" lengthAdjust="spacingAndGlyphs" stroke="#222" stroke-width="0.078" dominant-baseline="central">0</text>
<line x1="461.10" y1="356.43" x2="463.10" y2="356.43" stroke="#111" stroke-width="0.6" />
<text x="459.00" y="356.83" font-size="5.6" fill="#222" text-anchor="end" textLength="6.30" lengthAdjust="spacingAndGlyphs" stroke="#222" stroke-width="0.078" dominant-baseline="central">10</text>
<line x1="461.10" y1="348.07" x2="463.10" y2="348.07" stroke="#111" stroke-width="0.6" />
<text x="459.00" y="348.47" font-size="5.6" fill="#222" text-anchor="end" textLength="6.30" lengthAdjust="spacingAndGlyphs" stroke="#222" stroke-width="0.078" dominant-baseline="central">20</text>
<line x1="461.10" y1="339.70" x2="463.10" y2="339.70" stroke="#111" stroke-width="0.6" />
<text x="459.00" y="340.10" font-size="5.6" fill="#222" text-anchor="end" textLength="6.30" lengthAdjust="spacingAndGlyphs" stroke="#222" stroke-width="0.078" dominant-baseline="central">30</text>
<line x1="461.10" y1="331.33" x2="463.10" y2="331.33" stroke="#111" stroke-width="0.6" />
<text x="459.00" y="331.73" font-size="5.6" fill="#222" text-anchor="end" textLength="6.30" lengthAdjust="spacingAndGlyphs" stroke="#222" stroke-width="0.078" dominant-baseline="central">40</text>
<line x1="461.10" y1="322.97" x2="463.10" y2="322.97" stroke="#111" stroke-width="0.6" />
<text x="459.00" y="323.37" font-size="5.6" fill="#222" text-anchor="end" textLength="6.30" lengthAdjust="spacingAndGlyphs" stroke="#222" stroke-width="0.078" dominant-baseline="central">50</text>
<line x1="461.10" y1="314.60" x2="463.10" y2="314.60" stroke="#111" stroke-width="0.6" />
<text x="459.00" y="315.00" font-size="5.6" fill="#222" text-anchor="end" textLength="6.30" lengthAdjust="spacingAndGlyphs" stroke="#222" stroke-width="0.078" dominant-baseline="central">60</text>
<line x1="474.10" y1="364.80" x2="474.10" y2="366.40" stroke="#111" stroke-width="0.6" />
<line x1="490.70" y1="364.80" x2="490.70" y2="366.40" stroke="#111" stroke-width="0.6" />
<line x1="507.40" y1="364.80" x2="507.40" y2="366.40" stroke="#111" stroke-width="0.6" />
<text x="474.10" y="373.30" font-size="5.8" fill="#222" text-anchor="middle" textLength="7.60" lengthAdjust="spacingAndGlyphs" stroke="#222" stroke-width="0.081" dominant-baseline="central">M3</text>
<text x="490.70" y="373.30" font-size="5.8" fill="#222" text-anchor="middle" textLength="7.60" lengthAdjust="spacingAndGlyphs" stroke="#222" stroke-width="0.081" dominant-baseline="central">M6</text>
<text x="507.40" y="373.30" font-size="5.8" fill="#222" text-anchor="middle" textLength="10.30" lengthAdjust="spacingAndGlyphs" stroke="#222" stroke-width="0.081" dominant-baseline="central">M12</text>
<text x="487.40" y="290.40" font-size="7.5" fill="#111" text-anchor="middle" font-weight="bold" textLength="20.00" lengthAdjust="spacingAndGlyphs" dominant-baseline="central">MC15</text>
<text x="487.40" y="299.60" font-size="6.8" fill="#222" text-anchor="middle" textLength="25.50" lengthAdjust="spacingAndGlyphs" stroke="#222" stroke-width="0.095" dominant-baseline="central">(B cells)</text>
<line x1="474.10" y1="310.30" x2="507.40" y2="310.30" stroke="#222" stroke-width="0.6" />
<line x1="474.10" y1="309.40" x2="474.10" y2="311.20" stroke="#222" stroke-width="0.5" />
<line x1="507.40" y1="309.40" x2="507.40" y2="311.20" stroke="#222" stroke-width="0.5" />
<text x="490.75" y="307.90" font-size="7" fill="#222" text-anchor="middle" font-weight="bold" dominant-baseline="central">**</text>
<line x1="490.70" y1="316.60" x2="507.40" y2="316.60" stroke="#222" stroke-width="0.6" />
<line x1="490.70" y1="315.70" x2="490.70" y2="317.50" stroke="#222" stroke-width="0.5" />
<line x1="507.40" y1="315.70" x2="507.40" y2="317.50" stroke="#222" stroke-width="0.5" />
<text x="499.05" y="314.20" font-size="7" fill="#222" text-anchor="middle" font-weight="bold" dominant-baseline="central">**</text>
<text x="230.10" y="337.00" font-size="6.7" fill="#222" text-anchor="middle" textLength="40.00" lengthAdjust="spacingAndGlyphs" transform="rotate(-90 230.10 337.00)" stroke="#222" stroke-width="0.094" dominant-baseline="central">% in live CD45<tspan font-size="4" baseline-shift="super">+</tspan></text>
<line x1="337.30" y1="379.80" x2="346.30" y2="379.80" stroke="#2db34a" stroke-width="0.9" />
<circle cx="341.80" cy="379.80" r="1.30" fill="#2db34a" stroke="none" stroke-width="0" />
<text x="347.30" y="380.20" font-size="5.6" fill="#2db34a" textLength="8.50" lengthAdjust="spacingAndGlyphs" stroke="#2db34a" stroke-width="0.078" dominant-baseline="central">M3</text>
<line x1="366.80" y1="379.80" x2="375.80" y2="379.80" stroke="#1b5aa0" stroke-width="0.9" />
<circle cx="371.30" cy="379.80" r="1.30" fill="#1b5aa0" stroke="none" stroke-width="0" />
<text x="376.80" y="380.20" font-size="5.6" fill="#1b5aa0" textLength="9.00" lengthAdjust="spacingAndGlyphs" stroke="#1b5aa0" stroke-width="0.078" dominant-baseline="central">M6</text>
<line x1="394.00" y1="379.80" x2="403.00" y2="379.80" stroke="#d3153a" stroke-width="0.9" />
<circle cx="398.50" cy="379.80" r="1.30" fill="#d3153a" stroke="none" stroke-width="0" />
<text x="404.00" y="380.20" font-size="5.6" fill="#d3153a" textLength="12.50" lengthAdjust="spacingAndGlyphs" stroke="#d3153a" stroke-width="0.078" dominant-baseline="central">M12</text>
<rect x="42.30" y="519.50" width="201.20" height="53.30" fill="#dbe5ee" stroke="none" stroke-width="0" />
<line x1="42.30" y1="519.50" x2="243.50" y2="519.50" stroke="#444" stroke-width="0.8" stroke-dasharray="1.6 1.2"/>
<line x1="111.24" y1="406.50" x2="111.24" y2="572.80" stroke="#333" stroke-width="0.8" stroke-dasharray="1.3 1.3"/>
<line x1="128.40" y1="406.50" x2="128.40" y2="572.80" stroke="#333" stroke-width="0.8" stroke-dasharray="1.3 1.3"/>
<line x1="145.56" y1="406.50" x2="145.56" y2="572.80" stroke="#333" stroke-width="0.8" stroke-dasharray="1.3 1.3"/>
<line x1="42.30" y1="403.00" x2="42.30" y2="573.50" stroke="#111" stroke-width="1.0" />
<line x1="40.10" y1="408.50" x2="42.30" y2="408.50" stroke="#111" stroke-width="0.7" />
<text x="39.30" y="408.90" font-size="5.2" fill="#222" text-anchor="end" textLength="21.00" lengthAdjust="spacingAndGlyphs" stroke="#222" stroke-width="0.073" dominant-baseline="central">0.0001</text>
<line x1="40.10" y1="449.50" x2="42.30" y2="449.50" stroke="#111" stroke-width="0.7" />
<text x="39.30" y="449.90" font-size="5.2" fill="#222" text-anchor="end" textLength="17.00" lengthAdjust="spacingAndGlyphs" stroke="#222" stroke-width="0.073" dominant-baseline="central">0.001</text>
<line x1="41.10" y1="437.16" x2="42.30" y2="437.16" stroke="#111" stroke-width="0.45" />
<line x1="41.10" y1="429.94" x2="42.30" y2="429.94" stroke="#111" stroke-width="0.45" />
<line x1="41.10" y1="424.82" x2="42.30" y2="424.82" stroke="#111" stroke-width="0.45" />
<line x1="41.10" y1="420.84" x2="42.30" y2="420.84" stroke="#111" stroke-width="0.45" />
<line x1="41.10" y1="417.60" x2="42.30" y2="417.60" stroke="#111" stroke-width="0.45" />
<line x1="41.10" y1="414.85" x2="42.30" y2="414.85" stroke="#111" stroke-width="0.45" />
<line x1="41.10" y1="412.47" x2="42.30" y2="412.47" stroke="#111" stroke-width="0.45" />
<line x1="41.10" y1="410.38" x2="42.30" y2="410.38" stroke="#111" stroke-width="0.45" />
<line x1="40.10" y1="490.50" x2="42.30" y2="490.50" stroke="#111" stroke-width="0.7" />
<text x="39.30" y="490.90" font-size="5.2" fill="#222" text-anchor="end" textLength="13.20" lengthAdjust="spacingAndGlyphs" stroke="#222" stroke-width="0.073" dominant-baseline="central">0.01</text>
<line x1="41.10" y1="478.16" x2="42.30" y2="478.16" stroke="#111" stroke-width="0.45" />
<line x1="41.10" y1="470.94" x2="42.30" y2="470.94" stroke="#111" stroke-width="0.45" />
<line x1="41.10" y1="465.82" x2="42.30" y2="465.82" stroke="#111" stroke-width="0.45" />
<line x1="41.10" y1="461.84" x2="42.30" y2="461.84" stroke="#111" stroke-width="0.45" />
<line x1="41.10" y1="458.60" x2="42.30" y2="458.60" stroke="#111" stroke-width="0.45" />
<line x1="41.10" y1="455.85" x2="42.30" y2="455.85" stroke="#111" stroke-width="0.45" />
<line x1="41.10" y1="453.47" x2="42.30" y2="453.47" stroke="#111" stroke-width="0.45" />
<line x1="41.10" y1="451.38" x2="42.30" y2="451.38" stroke="#111" stroke-width="0.45" />
<line x1="40.10" y1="531.50" x2="42.30" y2="531.50" stroke="#111" stroke-width="0.7" />
<text x="39.30" y="531.90" font-size="5.2" fill="#222" text-anchor="end" textLength="9.60" lengthAdjust="spacingAndGlyphs" stroke="#222" stroke-width="0.073" dominant-baseline="central">0.1</text>
<line x1="41.10" y1="519.16" x2="42.30" y2="519.16" stroke="#111" stroke-width="0.45" />
<line x1="41.10" y1="511.94" x2="42.30" y2="511.94" stroke="#111" stroke-width="0.45" />
<line x1="41.10" y1="506.82" x2="42.30" y2="506.82" stroke="#111" stroke-width="0.45" />
<line x1="41.10" y1="502.84" x2="42.30" y2="502.84" stroke="#111" stroke-width="0.45" />
<line x1="41.10" y1="499.60" x2="42.30" y2="499.60" stroke="#111" stroke-width="0.45" />
<line x1="41.10" y1="496.85" x2="42.30" y2="496.85" stroke="#111" stroke-width="0.45" />
<line x1="41.10" y1="494.47" x2="42.30" y2="494.47" stroke="#111" stroke-width="0.45" />
<line x1="41.10" y1="492.38" x2="42.30" y2="492.38" stroke="#111" stroke-width="0.45" />
<line x1="40.10" y1="572.50" x2="42.30" y2="572.50" stroke="#111" stroke-width="0.7" />
<text x="39.30" y="572.90" font-size="5.2" fill="#222" text-anchor="end" textLength="3.00" lengthAdjust="spacingAndGlyphs" stroke="#222" stroke-width="0.073" dominant-baseline="central">1</text>
<line x1="41.10" y1="560.16" x2="42.30" y2="560.16" stroke="#111" stroke-width="0.45" />
<line x1="41.10" y1="552.94" x2="42.30" y2="552.94" stroke="#111" stroke-width="0.45" />
<line x1="41.10" y1="547.82" x2="42.30" y2="547.82" stroke="#111" stroke-width="0.45" />
<line x1="41.10" y1="543.84" x2="42.30" y2="543.84" stroke="#111" stroke-width="0.45" />
<line x1="41.10" y1="540.60" x2="42.30" y2="540.60" stroke="#111" stroke-width="0.45" />
<line x1="41.10" y1="537.85" x2="42.30" y2="537.85" stroke="#111" stroke-width="0.45" />
<line x1="41.10" y1="535.47" x2="42.30" y2="535.47" stroke="#111" stroke-width="0.45" />
<line x1="41.10" y1="533.38" x2="42.30" y2="533.38" stroke="#111" stroke-width="0.45" />
<text x="39.30" y="519.90" font-size="5.4" fill="#222" text-anchor="end" font-weight="bold" textLength="15.00" lengthAdjust="spacingAndGlyphs" dominant-baseline="central">0.05</text>
<line x1="42.00" y1="573.00" x2="216.00" y2="573.00" stroke="#111" stroke-width="1.2" />
<line x1="223.30" y1="573.00" x2="247.00" y2="573.00" stroke="#111" stroke-width="1.2" />
<line x1="42.60" y1="573.00" x2="42.60" y2="575.80" stroke="#111" stroke-width="0.55" />
<line x1="48.32" y1="573.00" x2="48.32" y2="574.60" stroke="#111" stroke-width="0.55" />
<line x1="54.04" y1="573.00" x2="54.04" y2="574.60" stroke="#111" stroke-width="0.55" />
<line x1="59.76" y1="573.00" x2="59.76" y2="574.60" stroke="#111" stroke-width="0.55" />
<line x1="65.48" y1="573.00" x2="65.48" y2="574.60" stroke="#111" stroke-width="0.55" />
<line x1="71.20" y1="573.00" x2="71.20" y2="575.80" stroke="#111" stroke-width="0.55" />
<line x1="76.92" y1="573.00" x2="76.92" y2="574.60" stroke="#111" stroke-width="0.55" />
<line x1="82.64" y1="573.00" x2="82.64" y2="574.60" stroke="#111" stroke-width="0.55" />
<line x1="88.36" y1="573.00" x2="88.36" y2="574.60" stroke="#111" stroke-width="0.55" />
<line x1="94.08" y1="573.00" x2="94.08" y2="574.60" stroke="#111" stroke-width="0.55" />
<line x1="99.80" y1="573.00" x2="99.80" y2="575.80" stroke="#111" stroke-width="0.55" />
<line x1="105.52" y1="573.00" x2="105.52" y2="574.60" stroke="#111" stroke-width="0.55" />
<line x1="111.24" y1="573.00" x2="111.24" y2="574.60" stroke="#111" stroke-width="0.55" />
<line x1="116.96" y1="573.00" x2="116.96" y2="574.60" stroke="#111" stroke-width="0.55" />
<line x1="122.68" y1="573.00" x2="122.68" y2="574.60" stroke="#111" stroke-width="0.55" />
<line x1="128.40" y1="573.00" x2="128.40" y2="575.80" stroke="#111" stroke-width="0.55" />
<line x1="134.12" y1="573.00" x2="134.12" y2="574.60" stroke="#111" stroke-width="0.55" />
<line x1="139.84" y1="573.00" x2="139.84" y2="574.60" stroke="#111" stroke-width="0.55" />
<line x1="145.56" y1="573.00" x2="145.56" y2="574.60" stroke="#111" stroke-width="0.55" />
<line x1="151.28" y1="573.00" x2="151.28" y2="574.60" stroke="#111" stroke-width="0.55" />
<line x1="157.00" y1="573.00" x2="157.00" y2="575.80" stroke="#111" stroke-width="0.55" />
<line x1="162.72" y1="573.00" x2="162.72" y2="574.60" stroke="#111" stroke-width="0.55" />
<line x1="168.44" y1="573.00" x2="168.44" y2="574.60" stroke="#111" stroke-width="0.55" />
<line x1="174.16" y1="573.00" x2="174.16" y2="574.60" stroke="#111" stroke-width="0.55" />
<line x1="179.88" y1="573.00" x2="179.88" y2="574.60" stroke="#111" stroke-width="0.55" />
<line x1="185.60" y1="573.00" x2="185.60" y2="575.80" stroke="#111" stroke-width="0.55" />
<line x1="191.32" y1="573.00" x2="191.32" y2="574.60" stroke="#111" stroke-width="0.55" />
<line x1="197.04" y1="573.00" x2="197.04" y2="574.60" stroke="#111" stroke-width="0.55" />
<line x1="202.76" y1="573.00" x2="202.76" y2="574.60" stroke="#111" stroke-width="0.55" />
<line x1="208.48" y1="573.00" x2="208.48" y2="574.60" stroke="#111" stroke-width="0.55" />
<line x1="214.20" y1="573.00" x2="214.20" y2="575.80" stroke="#111" stroke-width="0.55" />
<text x="42.60" y="582.00" font-size="6" fill="#222" text-anchor="middle" textLength="10.40" lengthAdjust="spacingAndGlyphs" stroke="#222" stroke-width="0.084" dominant-baseline="central">−75</text>
<text x="71.20" y="582.00" font-size="6" fill="#222" text-anchor="middle" textLength="10.40" lengthAdjust="spacingAndGlyphs" stroke="#222" stroke-width="0.084" dominant-baseline="central">−50</text>
<text x="99.80" y="582.00" font-size="6" fill="#222" text-anchor="middle" textLength="10.40" lengthAdjust="spacingAndGlyphs" stroke="#222" stroke-width="0.084" dominant-baseline="central">−25</text>
<text x="128.40" y="582.00" font-size="6" fill="#222" text-anchor="middle" textLength="3.40" lengthAdjust="spacingAndGlyphs" stroke="#222" stroke-width="0.084" dominant-baseline="central">0</text>
<text x="157.00" y="582.00" font-size="6" fill="#222" text-anchor="middle" textLength="10.40" lengthAdjust="spacingAndGlyphs" stroke="#222" stroke-width="0.084" dominant-baseline="central">25</text>
<text x="185.60" y="582.00" font-size="6" fill="#222" text-anchor="middle" textLength="10.40" lengthAdjust="spacingAndGlyphs" stroke="#222" stroke-width="0.084" dominant-baseline="central">50</text>
<text x="214.20" y="582.00" font-size="6" fill="#222" text-anchor="middle" textLength="10.40" lengthAdjust="spacingAndGlyphs" stroke="#222" stroke-width="0.084" dominant-baseline="central">75</text>
<line x1="224.50" y1="573.00" x2="224.50" y2="575.00" stroke="#111" stroke-width="0.5" />
<text x="224.50" y="579.00" font-size="5.4" fill="#222" text-anchor="end" textLength="7.00" lengthAdjust="spacingAndGlyphs" transform="rotate(-90 224.50 579.00)" stroke="#222" stroke-width="0.076" dominant-baseline="central">80</text>
<line x1="230.30" y1="573.00" x2="230.30" y2="575.00" stroke="#111" stroke-width="0.5" />
<text x="230.30" y="579.00" font-size="5.4" fill="#222" text-anchor="end" textLength="10.00" lengthAdjust="spacingAndGlyphs" transform="rotate(-90 230.30 579.00)" stroke="#222" stroke-width="0.076" dominant-baseline="central">110</text>
<line x1="236.00" y1="573.00" x2="236.00" y2="575.00" stroke="#111" stroke-width="0.5" />
<text x="236.00" y="579.00" font-size="5.4" fill="#222" text-anchor="end" textLength="10.00" lengthAdjust="spacingAndGlyphs" transform="rotate(-90 236.00 579.00)" stroke="#222" stroke-width="0.076" dominant-baseline="central">140</text>
<line x1="242.00" y1="573.00" x2="242.00" y2="575.00" stroke="#111" stroke-width="0.5" />
<text x="242.00" y="579.00" font-size="5.4" fill="#222" text-anchor="end" textLength="10.00" lengthAdjust="spacingAndGlyphs" transform="rotate(-90 242.00 579.00)" stroke="#222" stroke-width="0.076" dominant-baseline="central">170</text>
<rect x="216.00" y="571.00" width="7.00" height="2.50" fill="#fff" stroke="none" stroke-width="0" />
<line x1="215.60" y1="571.20" x2="215.60" y2="574.60" stroke="#111" stroke-width="0.7" />
<line x1="223.40" y1="571.20" x2="223.40" y2="574.60" stroke="#111" stroke-width="0.7" />
<text x="146.50" y="593.40" font-size="7" fill="#222" text-anchor="middle" textLength="78.00" lengthAdjust="spacingAndGlyphs" stroke="#222" stroke-width="0.098" dominant-baseline="central">% Change at M6 vs. M3</text>
<text x="12.00" y="489.40" font-size="6.8" fill="#222" text-anchor="middle" textLength="22.50" lengthAdjust="spacingAndGlyphs" transform="rotate(-90 12.00 489.40)" stroke="#222" stroke-width="0.095" dominant-baseline="central">p-value</text>
<text x="100.50" y="411.30" font-size="5.8" fill="#2db34a" text-anchor="middle" font-weight="bold" textLength="11.00" lengthAdjust="spacingAndGlyphs" dominant-baseline="central">M3</text>
<path d="M110.5,415.65 L95.0,415.65 L95.0,413.90 L91,416.8 L95.0,419.70 L95.0,417.95 L110.5,417.95 Z" fill="#2db34a"/>
<text x="157.50" y="411.40" font-size="5.8" fill="#1b5aa0" text-anchor="middle" font-weight="bold" textLength="11.00" lengthAdjust="spacingAndGlyphs" dominant-baseline="central">M6</text>
<path d="M148.6,415.65 L163.5,415.65 L163.5,413.90 L167.5,416.8 L163.5,419.70 L163.5,417.95 L148.6,417.95 Z" fill="#1b5aa0"/>
<circle cx="99.20" cy="520.80" r="1.45" fill="#4e1f6e" stroke="none" stroke-width="0" />
<circle cx="90.40" cy="524.80" r="1.45" fill="#4e1f6e" stroke="none" stroke-width="0" />
<circle cx="96.20" cy="533.30" r="1.45" fill="#4e1f6e" stroke="none" stroke-width="0" />
<circle cx="104.40" cy="533.80" r="1.45" fill="#4e1f6e" stroke="none" stroke-width="0" />
<circle cx="106.30" cy="534.80" r="1.45" fill="#4e1f6e" stroke="none" stroke-width="0" />
<circle cx="114.00" cy="536.30" r="1.45" fill="#4e1f6e" stroke="none" stroke-width="0" />
<circle cx="117.50" cy="534.20" r="1.45" fill="#4e1f6e" stroke="none" stroke-width="0" />
<circle cx="120.80" cy="522.30" r="1.45" fill="#4e1f6e" stroke="none" stroke-width="0" />
<circle cx="124.60" cy="526.20" r="1.45" fill="#4e1f6e" stroke="none" stroke-width="0" />
<circle cx="120.80" cy="525.80" r="1.45" fill="#4e1f6e" stroke="none" stroke-width="0" />
<circle cx="119.80" cy="537.30" r="1.45" fill="#4e1f6e" stroke="none" stroke-width="0" />
<circle cx="133.80" cy="535.40" r="1.45" fill="#4e1f6e" stroke="none" stroke-width="0" />
<circle cx="92.90" cy="547.30" r="1.45" fill="#4e1f6e" stroke="none" stroke-width="0" />
<circle cx="101.20" cy="544.60" r="1.45" fill="#4e1f6e" stroke="none" stroke-width="0" />
<circle cx="107.70" cy="541.50" r="1.45" fill="#4e1f6e" stroke="none" stroke-width="0" />
<circle cx="110.20" cy="541.90" r="1.45" fill="#4e1f6e" stroke="none" stroke-width="0" />
<circle cx="116.90" cy="544.00" r="1.45" fill="#4e1f6e" stroke="none" stroke-width="0" />
<circle cx="125.60" cy="541.20" r="1.45" fill="#4e1f6e" stroke="none" stroke-width="0" />
<circle cx="130.80" cy="540.80" r="1.45" fill="#4e1f6e" stroke="none" stroke-width="0" />
<circle cx="138.00" cy="541.20" r="1.45" fill="#4e1f6e" stroke="none" stroke-width="0" />
<circle cx="100.60" cy="557.90" r="1.45" fill="#4e1f6e" stroke="none" stroke-width="0" />
<circle cx="104.40" cy="559.80" r="1.45" fill="#4e1f6e" stroke="none" stroke-width="0" />
<circle cx="108.30" cy="553.10" r="1.45" fill="#4e1f6e" stroke="none" stroke-width="0" />
<circle cx="113.10" cy="552.70" r="1.45" fill="#4e1f6e" stroke="none" stroke-width="0" />
<circle cx="122.30" cy="552.70" r="1.45" fill="#4e1f6e" stroke="none" stroke-width="0" />
<circle cx="124.60" cy="552.10" r="1.45" fill="#4e1f6e" stroke="none" stroke-width="0" />
<circle cx="128.50" cy="554.00" r="1.45" fill="#4e1f6e" stroke="none" stroke-width="0" />
<circle cx="134.20" cy="551.20" r="1.45" fill="#4e1f6e" stroke="none" stroke-width="0" />
<circle cx="136.20" cy="549.20" r="1.45" fill="#4e1f6e" stroke="none" stroke-width="0" />
<circle cx="158.75" cy="525.00" r="1.45" fill="#4e1f6e" stroke="none" stroke-width="0" />
<circle cx="161.25" cy="528.25" r="1.45" fill="#4e1f6e" stroke="none" stroke-width="0" />
<circle cx="164.50" cy="532.50" r="1.45" fill="#4e1f6e" stroke="none" stroke-width="0" />
<circle cx="198.75" cy="523.75" r="1.45" fill="#4e1f6e" stroke="none" stroke-width="0" />
<circle cx="225.50" cy="549.25" r="1.45" fill="#4e1f6e" stroke="none" stroke-width="0" />
<circle cx="225.50" cy="566.75" r="1.45" fill="#4e1f6e" stroke="none" stroke-width="0" />
<circle cx="156.25" cy="552.50" r="1.45" fill="#4e1f6e" stroke="none" stroke-width="0" />
<circle cx="161.25" cy="551.25" r="1.45" fill="#4e1f6e" stroke="none" stroke-width="0" />
<circle cx="168.75" cy="552.50" r="1.45" fill="#4e1f6e" stroke="none" stroke-width="0" />
<circle cx="167.50" cy="557.50" r="1.45" fill="#4e1f6e" stroke="none" stroke-width="0" />
<circle cx="182.50" cy="556.75" r="1.45" fill="#4e1f6e" stroke="none" stroke-width="0" />
<circle cx="198.75" cy="558.00" r="1.45" fill="#4e1f6e" stroke="none" stroke-width="0" />
<circle cx="155.50" cy="566.25" r="1.45" fill="#4e1f6e" stroke="none" stroke-width="0" />
<circle cx="151.25" cy="560.00" r="1.45" fill="#4e1f6e" stroke="none" stroke-width="0" />
<circle cx="153.75" cy="561.25" r="1.45" fill="#4e1f6e" stroke="none" stroke-width="0" />
<circle cx="150.00" cy="547.50" r="1.45" fill="#4e1f6e" stroke="none" stroke-width="0" />
<circle cx="146.25" cy="540.00" r="1.45" fill="#4e1f6e" stroke="none" stroke-width="0" />
<circle cx="145.00" cy="539.25" r="1.45" fill="#4e1f6e" stroke="none" stroke-width="0" />
<circle cx="140.00" cy="540.50" r="1.45" fill="#4e1f6e" stroke="none" stroke-width="0" />
<circle cx="133.75" cy="535.50" r="1.45" fill="#4e1f6e" stroke="none" stroke-width="0" />
<circle cx="124.50" cy="526.25" r="1.45" fill="#4e1f6e" stroke="none" stroke-width="0" />
<circle cx="121.25" cy="522.50" r="1.45" fill="#4e1f6e" stroke="none" stroke-width="0" />
<circle cx="131.25" cy="541.25" r="1.45" fill="#4e1f6e" stroke="none" stroke-width="0" />
<circle cx="129.32" cy="562.87" r="1.45" fill="#4e1f6e" stroke="none" stroke-width="0" />
<circle cx="140.56" cy="567.47" r="1.45" fill="#4e1f6e" stroke="none" stroke-width="0" />
<circle cx="146.87" cy="559.02" r="1.45" fill="#4e1f6e" stroke="none" stroke-width="0" />
<circle cx="129.93" cy="571.50" r="1.45" fill="#4e1f6e" stroke="none" stroke-width="0" />
<circle cx="134.12" cy="567.77" r="1.45" fill="#4e1f6e" stroke="none" stroke-width="0" />
<circle cx="118.93" cy="568.42" r="1.45" fill="#4e1f6e" stroke="none" stroke-width="0" />
<circle cx="112.58" cy="568.16" r="1.45" fill="#4e1f6e" stroke="none" stroke-width="0" />
<circle cx="126.08" cy="569.88" r="1.45" fill="#4e1f6e" stroke="none" stroke-width="0" />
<circle cx="127.63" cy="571.06" r="1.45" fill="#4e1f6e" stroke="none" stroke-width="0" />
<circle cx="130.72" cy="569.65" r="1.45" fill="#4e1f6e" stroke="none" stroke-width="0" />
<circle cx="123.50" cy="563.70" r="1.45" fill="#4e1f6e" stroke="none" stroke-width="0" />
<circle cx="107.04" cy="565.00" r="1.45" fill="#4e1f6e" stroke="none" stroke-width="0" />
<circle cx="131.59" cy="552.68" r="1.45" fill="#4e1f6e" stroke="none" stroke-width="0" />
<circle cx="125.36" cy="571.50" r="1.45" fill="#4e1f6e" stroke="none" stroke-width="0" />
<circle cx="122.64" cy="565.74" r="1.45" fill="#4e1f6e" stroke="none" stroke-width="0" />
<circle cx="122.52" cy="562.33" r="1.45" fill="#4e1f6e" stroke="none" stroke-width="0" />
<circle cx="110.22" cy="569.18" r="1.45" fill="#4e1f6e" stroke="none" stroke-width="0" />
<circle cx="117.76" cy="571.47" r="1.45" fill="#4e1f6e" stroke="none" stroke-width="0" />
<circle cx="125.65" cy="571.49" r="1.45" fill="#4e1f6e" stroke="none" stroke-width="0" />
<circle cx="123.29" cy="571.50" r="1.45" fill="#4e1f6e" stroke="none" stroke-width="0" />
<circle cx="126.89" cy="570.77" r="1.45" fill="#4e1f6e" stroke="none" stroke-width="0" />
<circle cx="121.88" cy="559.77" r="1.45" fill="#4e1f6e" stroke="none" stroke-width="0" />
<circle cx="146.29" cy="549.06" r="1.45" fill="#4e1f6e" stroke="none" stroke-width="0" />
<circle cx="105.01" cy="563.43" r="1.45" fill="#4e1f6e" stroke="none" stroke-width="0" />
<circle cx="123.87" cy="570.71" r="1.45" fill="#4e1f6e" stroke="none" stroke-width="0" />
<circle cx="144.41" cy="567.28" r="1.45" fill="#4e1f6e" stroke="none" stroke-width="0" />
<circle cx="126.68" cy="571.50" r="1.45" fill="#4e1f6e" stroke="none" stroke-width="0" />
<circle cx="119.85" cy="566.32" r="1.45" fill="#4e1f6e" stroke="none" stroke-width="0" />
<circle cx="126.97" cy="567.02" r="1.45" fill="#4e1f6e" stroke="none" stroke-width="0" />
<circle cx="132.02" cy="556.52" r="1.45" fill="#4e1f6e" stroke="none" stroke-width="0" />
<circle cx="124.04" cy="541.92" r="1.45" fill="#4e1f6e" stroke="none" stroke-width="0" />
<circle cx="124.77" cy="561.61" r="1.45" fill="#4e1f6e" stroke="none" stroke-width="0" />
<circle cx="135.94" cy="564.92" r="1.45" fill="#4e1f6e" stroke="none" stroke-width="0" />
<circle cx="122.67" cy="568.28" r="1.45" fill="#4e1f6e" stroke="none" stroke-width="0" />
<circle cx="115.80" cy="571.50" r="1.45" fill="#4e1f6e" stroke="none" stroke-width="0" />
<circle cx="123.48" cy="564.48" r="1.45" fill="#4e1f6e" stroke="none" stroke-width="0" />
<circle cx="129.04" cy="571.50" r="1.45" fill="#4e1f6e" stroke="none" stroke-width="0" />
<circle cx="136.61" cy="566.13" r="1.45" fill="#4e1f6e" stroke="none" stroke-width="0" />
<circle cx="117.37" cy="534.33" r="1.45" fill="#4e1f6e" stroke="none" stroke-width="0" />
<circle cx="134.91" cy="567.57" r="1.45" fill="#4e1f6e" stroke="none" stroke-width="0" />
<circle cx="120.81" cy="568.57" r="1.45" fill="#4e1f6e" stroke="none" stroke-width="0" />
<circle cx="120.58" cy="569.34" r="1.45" fill="#4e1f6e" stroke="none" stroke-width="0" />
<circle cx="131.80" cy="569.13" r="1.45" fill="#4e1f6e" stroke="none" stroke-width="0" />
<circle cx="128.88" cy="558.92" r="1.45" fill="#4e1f6e" stroke="none" stroke-width="0" />
<circle cx="121.27" cy="562.41" r="1.45" fill="#4e1f6e" stroke="none" stroke-width="0" />
<circle cx="123.70" cy="562.84" r="1.45" fill="#4e1f6e" stroke="none" stroke-width="0" />
<circle cx="125.45" cy="569.50" r="1.45" fill="#4e1f6e" stroke="none" stroke-width="0" />
<circle cx="137.39" cy="567.22" r="1.45" fill="#4e1f6e" stroke="none" stroke-width="0" />
<circle cx="125.86" cy="570.10" r="1.45" fill="#4e1f6e" stroke="none" stroke-width="0" />
<circle cx="134.81" cy="556.04" r="1.45" fill="#4e1f6e" stroke="none" stroke-width="0" />
<circle cx="126.96" cy="561.23" r="1.45" fill="#4e1f6e" stroke="none" stroke-width="0" />
<circle cx="124.13" cy="570.66" r="1.45" fill="#4e1f6e" stroke="none" stroke-width="0" />
<circle cx="132.05" cy="561.99" r="1.45" fill="#4e1f6e" stroke="none" stroke-width="0" />
<circle cx="123.73" cy="571.25" r="1.45" fill="#4e1f6e" stroke="none" stroke-width="0" />
<circle cx="129.17" cy="565.97" r="1.45" fill="#4e1f6e" stroke="none" stroke-width="0" />
<circle cx="133.28" cy="570.74" r="1.45" fill="#4e1f6e" stroke="none" stroke-width="0" />
<circle cx="131.58" cy="570.54" r="1.45" fill="#4e1f6e" stroke="none" stroke-width="0" />
<circle cx="135.58" cy="570.24" r="1.45" fill="#4e1f6e" stroke="none" stroke-width="0" />
<circle cx="133.94" cy="570.01" r="1.45" fill="#4e1f6e" stroke="none" stroke-width="0" />
<circle cx="134.28" cy="562.03" r="1.45" fill="#4e1f6e" stroke="none" stroke-width="0" />
<circle cx="119.66" cy="571.35" r="1.45" fill="#4e1f6e" stroke="none" stroke-width="0" />
<circle cx="133.22" cy="522.85" r="1.45" fill="#4e1f6e" stroke="none" stroke-width="0" />
<circle cx="149.27" cy="564.78" r="1.45" fill="#4e1f6e" stroke="none" stroke-width="0" />
<circle cx="108.79" cy="571.48" r="1.45" fill="#4e1f6e" stroke="none" stroke-width="0" />
<circle cx="127.88" cy="568.49" r="1.45" fill="#4e1f6e" stroke="none" stroke-width="0" />
<circle cx="109.90" cy="560.19" r="1.45" fill="#4e1f6e" stroke="none" stroke-width="0" />
<circle cx="128.92" cy="567.10" r="1.45" fill="#4e1f6e" stroke="none" stroke-width="0" />
<circle cx="132.01" cy="569.98" r="1.45" fill="#4e1f6e" stroke="none" stroke-width="0" />
<circle cx="140.70" cy="571.50" r="1.45" fill="#4e1f6e" stroke="none" stroke-width="0" />
<circle cx="119.88" cy="571.50" r="1.45" fill="#4e1f6e" stroke="none" stroke-width="0" />
<circle cx="144.43" cy="555.05" r="1.45" fill="#4e1f6e" stroke="none" stroke-width="0" />
<circle cx="129.73" cy="568.50" r="1.45" fill="#4e1f6e" stroke="none" stroke-width="0" />
<circle cx="108.69" cy="567.54" r="1.45" fill="#4e1f6e" stroke="none" stroke-width="0" />
<circle cx="140.26" cy="559.38" r="1.45" fill="#4e1f6e" stroke="none" stroke-width="0" />
<circle cx="111.59" cy="561.97" r="1.45" fill="#4e1f6e" stroke="none" stroke-width="0" />
<circle cx="130.82" cy="566.68" r="1.45" fill="#4e1f6e" stroke="none" stroke-width="0" />
<circle cx="136.57" cy="571.50" r="1.45" fill="#4e1f6e" stroke="none" stroke-width="0" />
<circle cx="143.56" cy="570.11" r="1.45" fill="#4e1f6e" stroke="none" stroke-width="0" />
<circle cx="115.02" cy="542.92" r="1.45" fill="#4e1f6e" stroke="none" stroke-width="0" />
<circle cx="114.39" cy="559.65" r="1.45" fill="#4e1f6e" stroke="none" stroke-width="0" />
<circle cx="118.66" cy="569.52" r="1.45" fill="#4e1f6e" stroke="none" stroke-width="0" />
<circle cx="133.52" cy="543.69" r="1.45" fill="#4e1f6e" stroke="none" stroke-width="0" />
<circle cx="130.99" cy="571.50" r="1.45" fill="#4e1f6e" stroke="none" stroke-width="0" />
<circle cx="130.98" cy="548.49" r="1.45" fill="#4e1f6e" stroke="none" stroke-width="0" />
<circle cx="125.00" cy="562.40" r="1.45" fill="#4e1f6e" stroke="none" stroke-width="0" />
<circle cx="136.14" cy="567.14" r="1.45" fill="#4e1f6e" stroke="none" stroke-width="0" />
<circle cx="131.54" cy="552.09" r="1.45" fill="#4e1f6e" stroke="none" stroke-width="0" />
<circle cx="136.49" cy="569.11" r="1.45" fill="#4e1f6e" stroke="none" stroke-width="0" />
<circle cx="133.75" cy="562.95" r="1.45" fill="#4e1f6e" stroke="none" stroke-width="0" />
<circle cx="131.33" cy="569.98" r="1.45" fill="#4e1f6e" stroke="none" stroke-width="0" />
<circle cx="132.69" cy="564.14" r="1.45" fill="#4e1f6e" stroke="none" stroke-width="0" />
<circle cx="115.51" cy="565.84" r="1.45" fill="#4e1f6e" stroke="none" stroke-width="0" />
<circle cx="115.26" cy="564.66" r="1.45" fill="#4e1f6e" stroke="none" stroke-width="0" />
<circle cx="135.57" cy="566.58" r="1.45" fill="#4e1f6e" stroke="none" stroke-width="0" />
<circle cx="137.61" cy="564.52" r="1.45" fill="#4e1f6e" stroke="none" stroke-width="0" />
<circle cx="132.85" cy="571.50" r="1.45" fill="#4e1f6e" stroke="none" stroke-width="0" />
<circle cx="142.18" cy="559.35" r="1.45" fill="#4e1f6e" stroke="none" stroke-width="0" />
<circle cx="118.10" cy="552.30" r="1.45" fill="#4e1f6e" stroke="none" stroke-width="0" />
<circle cx="117.76" cy="570.39" r="1.45" fill="#4e1f6e" stroke="none" stroke-width="0" />
<circle cx="111.09" cy="569.53" r="1.45" fill="#4e1f6e" stroke="none" stroke-width="0" />
<circle cx="138.72" cy="522.05" r="1.45" fill="#4e1f6e" stroke="none" stroke-width="0" />
<circle cx="136.21" cy="569.54" r="1.45" fill="#4e1f6e" stroke="none" stroke-width="0" />
<circle cx="132.13" cy="570.93" r="1.45" fill="#4e1f6e" stroke="none" stroke-width="0" />
<circle cx="130.83" cy="536.10" r="1.45" fill="#4e1f6e" stroke="none" stroke-width="0" />
<circle cx="141.96" cy="568.97" r="1.45" fill="#4e1f6e" stroke="none" stroke-width="0" />
<circle cx="141.34" cy="571.50" r="1.45" fill="#4e1f6e" stroke="none" stroke-width="0" />
<circle cx="129.20" cy="569.92" r="1.45" fill="#4e1f6e" stroke="none" stroke-width="0" />
<circle cx="125.88" cy="568.82" r="1.45" fill="#4e1f6e" stroke="none" stroke-width="0" />
<circle cx="128.25" cy="544.96" r="1.45" fill="#4e1f6e" stroke="none" stroke-width="0" />
<circle cx="105.69" cy="567.22" r="1.45" fill="#4e1f6e" stroke="none" stroke-width="0" />
<circle cx="128.70" cy="559.04" r="1.45" fill="#4e1f6e" stroke="none" stroke-width="0" />
<circle cx="134.51" cy="569.62" r="1.45" fill="#4e1f6e" stroke="none" stroke-width="0" />
<circle cx="121.82" cy="562.14" r="1.45" fill="#4e1f6e" stroke="none" stroke-width="0" />
<circle cx="135.63" cy="548.16" r="1.45" fill="#4e1f6e" stroke="none" stroke-width="0" />
<circle cx="138.29" cy="569.31" r="1.45" fill="#4e1f6e" stroke="none" stroke-width="0" />
<circle cx="126.71" cy="569.13" r="1.45" fill="#4e1f6e" stroke="none" stroke-width="0" />
<circle cx="123.00" cy="565.53" r="1.45" fill="#4e1f6e" stroke="none" stroke-width="0" />
<circle cx="117.98" cy="571.09" r="1.45" fill="#4e1f6e" stroke="none" stroke-width="0" />
<circle cx="141.71" cy="571.50" r="1.45" fill="#4e1f6e" stroke="none" stroke-width="0" />
<circle cx="137.55" cy="564.75" r="1.45" fill="#4e1f6e" stroke="none" stroke-width="0" />
<circle cx="131.40" cy="556.78" r="1.45" fill="#4e1f6e" stroke="none" stroke-width="0" />
<circle cx="135.46" cy="560.91" r="1.45" fill="#4e1f6e" stroke="none" stroke-width="0" />
<circle cx="119.69" cy="560.78" r="1.45" fill="#4e1f6e" stroke="none" stroke-width="0" />
<circle cx="105.95" cy="564.20" r="1.45" fill="#4e1f6e" stroke="none" stroke-width="0" />
<circle cx="121.79" cy="557.09" r="1.45" fill="#4e1f6e" stroke="none" stroke-width="0" />
<circle cx="124.51" cy="565.18" r="1.45" fill="#4e1f6e" stroke="none" stroke-width="0" />
<circle cx="132.72" cy="561.68" r="1.45" fill="#4e1f6e" stroke="none" stroke-width="0" />
<circle cx="136.52" cy="553.99" r="1.45" fill="#4e1f6e" stroke="none" stroke-width="0" />
<circle cx="115.36" cy="565.40" r="1.45" fill="#4e1f6e" stroke="none" stroke-width="0" />
<circle cx="130.08" cy="570.63" r="1.45" fill="#4e1f6e" stroke="none" stroke-width="0" />
<circle cx="112.98" cy="570.88" r="1.45" fill="#4e1f6e" stroke="none" stroke-width="0" />
<circle cx="130.22" cy="569.93" r="1.45" fill="#4e1f6e" stroke="none" stroke-width="0" />
<circle cx="121.52" cy="558.53" r="1.45" fill="#4e1f6e" stroke="none" stroke-width="0" />
<circle cx="129.83" cy="569.11" r="1.45" fill="#4e1f6e" stroke="none" stroke-width="0" />
<circle cx="132.80" cy="555.98" r="1.45" fill="#4e1f6e" stroke="none" stroke-width="0" />
<circle cx="122.65" cy="556.29" r="1.45" fill="#4e1f6e" stroke="none" stroke-width="0" />
<circle cx="141.55" cy="559.48" r="1.45" fill="#4e1f6e" stroke="none" stroke-width="0" />
<circle cx="112.21" cy="561.06" r="1.45" fill="#4e1f6e" stroke="none" stroke-width="0" />
<circle cx="127.86" cy="549.54" r="1.45" fill="#4e1f6e" stroke="none" stroke-width="0" />
<circle cx="124.31" cy="560.29" r="1.45" fill="#4e1f6e" stroke="none" stroke-width="0" />
<circle cx="97.30" cy="496.00" r="1.25" fill="#2db34a" stroke="none" stroke-width="0" />
<circle cx="108.80" cy="498.30" r="1.25" fill="#2db34a" stroke="none" stroke-width="0" />
<circle cx="156.25" cy="492.50" r="1.25" fill="#1b5aa0" stroke="none" stroke-width="0" />
<circle cx="173.25" cy="500.00" r="1.25" fill="#1b5aa0" stroke="none" stroke-width="0" />
<circle cx="113.10" cy="500.20" r="1.30" fill="#fff" stroke="#7a4f9a" stroke-width="0.55" />
<circle cx="117.90" cy="511.20" r="1.30" fill="#fff" stroke="#7a4f9a" stroke-width="0.55" />
<circle cx="145.00" cy="510.00" r="1.30" fill="#fff" stroke="#7a4f9a" stroke-width="0.55" />
<text x="80.40" y="491.00" font-size="3.9" fill="#333" textLength="29.00" lengthAdjust="spacingAndGlyphs" stroke="#333" stroke-width="0.055" dominant-baseline="central">% RA<tspan font-size="2.4" baseline-shift="super">+</tspan>DR<tspan font-size="2.4" baseline-shift="super">+</tspan>/Treg</text>
<text x="85.80" y="504.40" font-size="3.9" fill="#333" textLength="26.00" lengthAdjust="spacingAndGlyphs" stroke="#333" stroke-width="0.055" dominant-baseline="central">% Naive CD8</text>
<text x="147.50" y="487.90" font-size="3.9" fill="#333" textLength="28.00" lengthAdjust="spacingAndGlyphs" stroke="#333" stroke-width="0.055" dominant-baseline="central">% CTLA4/Treg</text>
<text x="158.80" y="505.40" font-size="3.9" fill="#333" textLength="29.00" lengthAdjust="spacingAndGlyphs" stroke="#333" stroke-width="0.055" dominant-baseline="central">% BTLA/NK56<tspan font-size="2.4" baseline-shift="super">+</tspan></text>
<text x="204.60" y="453.40" font-size="3.9" fill="#333" textLength="30.00" lengthAdjust="spacingAndGlyphs" stroke="#333" stroke-width="0.055" dominant-baseline="central">% CD73/NK56<tspan font-size="2.4" baseline-shift="super">+</tspan></text>
<circle cx="238.50" cy="452.50" r="1.25" fill="#1b5aa0" stroke="none" stroke-width="0" />
<rect x="300.40" y="519.50" width="201.60" height="53.30" fill="#dbe5ee" stroke="none" stroke-width="0" />
<line x1="300.40" y1="519.50" x2="502.00" y2="519.50" stroke="#444" stroke-width="0.8" stroke-dasharray="1.6 1.2"/>
<line x1="373.12" y1="406.50" x2="373.12" y2="572.80" stroke="#333" stroke-width="0.8" stroke-dasharray="1.3 1.3"/>
<line x1="390.00" y1="406.50" x2="390.00" y2="572.80" stroke="#333" stroke-width="0.8" stroke-dasharray="1.3 1.3"/>
<line x1="406.88" y1="406.50" x2="406.88" y2="572.80" stroke="#333" stroke-width="0.8" stroke-dasharray="1.3 1.3"/>
<line x1="300.40" y1="403.00" x2="300.40" y2="573.50" stroke="#111" stroke-width="1.0" />
<line x1="298.20" y1="408.50" x2="300.40" y2="408.50" stroke="#111" stroke-width="0.7" />
<text x="297.40" y="408.90" font-size="5.2" fill="#222" text-anchor="end" textLength="21.00" lengthAdjust="spacingAndGlyphs" stroke="#222" stroke-width="0.073" dominant-baseline="central">0.0001</text>
<line x1="298.20" y1="449.50" x2="300.40" y2="449.50" stroke="#111" stroke-width="0.7" />
<text x="297.40" y="449.90" font-size="5.2" fill="#222" text-anchor="end" textLength="17.00" lengthAdjust="spacingAndGlyphs" stroke="#222" stroke-width="0.073" dominant-baseline="central">0.001</text>
<line x1="299.20" y1="437.16" x2="300.40" y2="437.16" stroke="#111" stroke-width="0.45" />
<line x1="299.20" y1="429.94" x2="300.40" y2="429.94" stroke="#111" stroke-width="0.45" />
<line x1="299.20" y1="424.82" x2="300.40" y2="424.82" stroke="#111" stroke-width="0.45" />
<line x1="299.20" y1="420.84" x2="300.40" y2="420.84" stroke="#111" stroke-width="0.45" />
<line x1="299.20" y1="417.60" x2="300.40" y2="417.60" stroke="#111" stroke-width="0.45" />
<line x1="299.20" y1="414.85" x2="300.40" y2="414.85" stroke="#111" stroke-width="0.45" />
<line x1="299.20" y1="412.47" x2="300.40" y2="412.47" stroke="#111" stroke-width="0.45" />
<line x1="299.20" y1="410.38" x2="300.40" y2="410.38" stroke="#111" stroke-width="0.45" />
<line x1="298.20" y1="490.50" x2="300.40" y2="490.50" stroke="#111" stroke-width="0.7" />
<text x="297.40" y="490.90" font-size="5.2" fill="#222" text-anchor="end" textLength="13.20" lengthAdjust="spacingAndGlyphs" stroke="#222" stroke-width="0.073" dominant-baseline="central">0.01</text>
<line x1="299.20" y1="478.16" x2="300.40" y2="478.16" stroke="#111" stroke-width="0.45" />
<line x1="299.20" y1="470.94" x2="300.40" y2="470.94" stroke="#111" stroke-width="0.45" />
<line x1="299.20" y1="465.82" x2="300.40" y2="465.82" stroke="#111" stroke-width="0.45" />
<line x1="299.20" y1="461.84" x2="300.40" y2="461.84" stroke="#111" stroke-width="0.45" />
<line x1="299.20" y1="458.60" x2="300.40" y2="458.60" stroke="#111" stroke-width="0.45" />
<line x1="299.20" y1="455.85" x2="300.40" y2="455.85" stroke="#111" stroke-width="0.45" />
<line x1="299.20" y1="453.47" x2="300.40" y2="453.47" stroke="#111" stroke-width="0.45" />
<line x1="299.20" y1="451.38" x2="300.40" y2="451.38" stroke="#111" stroke-width="0.45" />
<line x1="298.20" y1="531.50" x2="300.40" y2="531.50" stroke="#111" stroke-width="0.7" />
<text x="297.40" y="531.90" font-size="5.2" fill="#222" text-anchor="end" textLength="9.60" lengthAdjust="spacingAndGlyphs" stroke="#222" stroke-width="0.073" dominant-baseline="central">0.1</text>
<line x1="299.20" y1="519.16" x2="300.40" y2="519.16" stroke="#111" stroke-width="0.45" />
<line x1="299.20" y1="511.94" x2="300.40" y2="511.94" stroke="#111" stroke-width="0.45" />
<line x1="299.20" y1="506.82" x2="300.40" y2="506.82" stroke="#111" stroke-width="0.45" />
<line x1="299.20" y1="502.84" x2="300.40" y2="502.84" stroke="#111" stroke-width="0.45" />
<line x1="299.20" y1="499.60" x2="300.40" y2="499.60" stroke="#111" stroke-width="0.45" />
<line x1="299.20" y1="496.85" x2="300.40" y2="496.85" stroke="#111" stroke-width="0.45" />
<line x1="299.20" y1="494.47" x2="300.40" y2="494.47" stroke="#111" stroke-width="0.45" />
<line x1="299.20" y1="492.38" x2="300.40" y2="492.38" stroke="#111" stroke-width="0.45" />
<line x1="298.20" y1="572.50" x2="300.40" y2="572.50" stroke="#111" stroke-width="0.7" />
<text x="297.40" y="572.90" font-size="5.2" fill="#222" text-anchor="end" textLength="3.00" lengthAdjust="spacingAndGlyphs" stroke="#222" stroke-width="0.073" dominant-baseline="central">1</text>
<line x1="299.20" y1="560.16" x2="300.40" y2="560.16" stroke="#111" stroke-width="0.45" />
<line x1="299.20" y1="552.94" x2="300.40" y2="552.94" stroke="#111" stroke-width="0.45" />
<line x1="299.20" y1="547.82" x2="300.40" y2="547.82" stroke="#111" stroke-width="0.45" />
<line x1="299.20" y1="543.84" x2="300.40" y2="543.84" stroke="#111" stroke-width="0.45" />
<line x1="299.20" y1="540.60" x2="300.40" y2="540.60" stroke="#111" stroke-width="0.45" />
<line x1="299.20" y1="537.85" x2="300.40" y2="537.85" stroke="#111" stroke-width="0.45" />
<line x1="299.20" y1="535.47" x2="300.40" y2="535.47" stroke="#111" stroke-width="0.45" />
<line x1="299.20" y1="533.38" x2="300.40" y2="533.38" stroke="#111" stroke-width="0.45" />
<text x="297.40" y="519.90" font-size="5.4" fill="#222" text-anchor="end" font-weight="bold" textLength="15.00" lengthAdjust="spacingAndGlyphs" dominant-baseline="central">0.05</text>
<line x1="300.00" y1="573.00" x2="502.50" y2="573.00" stroke="#111" stroke-width="1.2" />
<line x1="300.00" y1="573.00" x2="300.00" y2="575.80" stroke="#111" stroke-width="0.55" />
<line x1="305.62" y1="573.00" x2="305.62" y2="574.60" stroke="#111" stroke-width="0.55" />
<line x1="311.25" y1="573.00" x2="311.25" y2="574.60" stroke="#111" stroke-width="0.55" />
<line x1="316.88" y1="573.00" x2="316.88" y2="574.60" stroke="#111" stroke-width="0.55" />
<line x1="322.50" y1="573.00" x2="322.50" y2="575.80" stroke="#111" stroke-width="0.55" />
<line x1="328.12" y1="573.00" x2="328.12" y2="574.60" stroke="#111" stroke-width="0.55" />
<line x1="333.75" y1="573.00" x2="333.75" y2="574.60" stroke="#111" stroke-width="0.55" />
<line x1="339.38" y1="573.00" x2="339.38" y2="574.60" stroke="#111" stroke-width="0.55" />
<line x1="345.00" y1="573.00" x2="345.00" y2="575.80" stroke="#111" stroke-width="0.55" />
<line x1="350.62" y1="573.00" x2="350.62" y2="574.60" stroke="#111" stroke-width="0.55" />
<line x1="356.25" y1="573.00" x2="356.25" y2="574.60" stroke="#111" stroke-width="0.55" />
<line x1="361.88" y1="573.00" x2="361.88" y2="574.60" stroke="#111" stroke-width="0.55" />
<line x1="367.50" y1="573.00" x2="367.50" y2="575.80" stroke="#111" stroke-width="0.55" />
<line x1="373.12" y1="573.00" x2="373.12" y2="574.60" stroke="#111" stroke-width="0.55" />
<line x1="378.75" y1="573.00" x2="378.75" y2="574.60" stroke="#111" stroke-width="0.55" />
<line x1="384.38" y1="573.00" x2="384.38" y2="574.60" stroke="#111" stroke-width="0.55" />
<line x1="390.00" y1="573.00" x2="390.00" y2="575.80" stroke="#111" stroke-width="0.55" />
<line x1="395.62" y1="573.00" x2="395.62" y2="574.60" stroke="#111" stroke-width="0.55" />
<line x1="401.25" y1="573.00" x2="401.25" y2="574.60" stroke="#111" stroke-width="0.55" />
<line x1="406.88" y1="573.00" x2="406.88" y2="574.60" stroke="#111" stroke-width="0.55" />
<line x1="412.50" y1="573.00" x2="412.50" y2="575.80" stroke="#111" stroke-width="0.55" />
<line x1="418.12" y1="573.00" x2="418.12" y2="574.60" stroke="#111" stroke-width="0.55" />
<line x1="423.75" y1="573.00" x2="423.75" y2="574.60" stroke="#111" stroke-width="0.55" />
<line x1="429.38" y1="573.00" x2="429.38" y2="574.60" stroke="#111" stroke-width="0.55" />
<line x1="435.00" y1="573.00" x2="435.00" y2="575.80" stroke="#111" stroke-width="0.55" />
<line x1="440.62" y1="573.00" x2="440.62" y2="574.60" stroke="#111" stroke-width="0.55" />
<line x1="446.25" y1="573.00" x2="446.25" y2="574.60" stroke="#111" stroke-width="0.55" />
<line x1="451.88" y1="573.00" x2="451.88" y2="574.60" stroke="#111" stroke-width="0.55" />
<line x1="457.50" y1="573.00" x2="457.50" y2="575.80" stroke="#111" stroke-width="0.55" />
<line x1="463.12" y1="573.00" x2="463.12" y2="574.60" stroke="#111" stroke-width="0.55" />
<line x1="468.75" y1="573.00" x2="468.75" y2="574.60" stroke="#111" stroke-width="0.55" />
<line x1="474.38" y1="573.00" x2="474.38" y2="574.60" stroke="#111" stroke-width="0.55" />
<line x1="480.00" y1="573.00" x2="480.00" y2="575.80" stroke="#111" stroke-width="0.55" />
<line x1="485.62" y1="573.00" x2="485.62" y2="574.60" stroke="#111" stroke-width="0.55" />
<line x1="491.25" y1="573.00" x2="491.25" y2="574.60" stroke="#111" stroke-width="0.55" />
<line x1="496.88" y1="573.00" x2="496.88" y2="574.60" stroke="#111" stroke-width="0.55" />
<line x1="502.50" y1="573.00" x2="502.50" y2="575.80" stroke="#111" stroke-width="0.55" />
<text x="300.00" y="582.00" font-size="6" fill="#222" text-anchor="middle" textLength="10.78" lengthAdjust="spacingAndGlyphs" stroke="#222" stroke-width="0.084" dominant-baseline="central">−80</text>
<text x="322.50" y="582.00" font-size="6" fill="#222" text-anchor="middle" textLength="10.78" lengthAdjust="spacingAndGlyphs" stroke="#222" stroke-width="0.084" dominant-baseline="central">−60</text>
<text x="345.00" y="582.00" font-size="6" fill="#222" text-anchor="middle" textLength="10.78" lengthAdjust="spacingAndGlyphs" stroke="#222" stroke-width="0.084" dominant-baseline="central">−40</text>
<text x="367.50" y="582.00" font-size="6" fill="#222" text-anchor="middle" textLength="10.78" lengthAdjust="spacingAndGlyphs" stroke="#222" stroke-width="0.084" dominant-baseline="central">−20</text>
<text x="390.00" y="582.00" font-size="6" fill="#222" text-anchor="middle" textLength="3.52" lengthAdjust="spacingAndGlyphs" stroke="#222" stroke-width="0.084" dominant-baseline="central">0</text>
<text x="412.50" y="582.00" font-size="6" fill="#222" text-anchor="middle" textLength="7.70" lengthAdjust="spacingAndGlyphs" stroke="#222" stroke-width="0.084" dominant-baseline="central">20</text>
<text x="435.00" y="582.00" font-size="6" fill="#222" text-anchor="middle" textLength="7.70" lengthAdjust="spacingAndGlyphs" stroke="#222" stroke-width="0.084" dominant-baseline="central">40</text>
<text x="457.50" y="582.00" font-size="6" fill="#222" text-anchor="middle" textLength="7.70" lengthAdjust="spacingAndGlyphs" stroke="#222" stroke-width="0.084" dominant-baseline="central">60</text>
<text x="480.00" y="582.00" font-size="6" fill="#222" text-anchor="middle" textLength="7.70" lengthAdjust="spacingAndGlyphs" stroke="#222" stroke-width="0.084" dominant-baseline="central">80</text>
<text x="502.50" y="582.00" font-size="6" fill="#222" text-anchor="middle" textLength="10.78" lengthAdjust="spacingAndGlyphs" stroke="#222" stroke-width="0.084" dominant-baseline="central">100</text>
<text x="402.50" y="593.20" font-size="7" fill="#222" text-anchor="middle" textLength="78.00" lengthAdjust="spacingAndGlyphs" stroke="#222" stroke-width="0.098" dominant-baseline="central">% Change at M12 vs. M6</text>
<text x="269.50" y="490.00" font-size="6.8" fill="#222" text-anchor="middle" textLength="22.50" lengthAdjust="spacingAndGlyphs" transform="rotate(-90 269.50 490.00)" stroke="#222" stroke-width="0.095" dominant-baseline="central">p-value</text>
<text x="361.00" y="412.90" font-size="5.8" fill="#1b5aa0" text-anchor="middle" font-weight="bold" textLength="11.00" lengthAdjust="spacingAndGlyphs" dominant-baseline="central">M6</text>
<path d="M370.5,416.65 L356.0,416.65 L356.0,414.90 L352,417.8 L356.0,420.70 L356.0,418.95 L370.5,418.95 Z" fill="#1b5aa0"/>
<text x="418.30" y="412.70" font-size="5.8" fill="#d3153a" text-anchor="middle" font-weight="bold" textLength="16.00" lengthAdjust="spacingAndGlyphs" dominant-baseline="central">M12</text>
<path d="M409.6,416.65 L424.5,416.65 L424.5,414.90 L428.5,417.8 L424.5,420.70 L424.5,418.95 L409.6,418.95 Z" fill="#d3153a"/>
<circle cx="350.80" cy="522.90" r="1.45" fill="#4e1f6e" stroke="none" stroke-width="0" />
<circle cx="361.30" cy="520.40" r="1.45" fill="#4e1f6e" stroke="none" stroke-width="0" />
<circle cx="350.80" cy="529.20" r="1.45" fill="#4e1f6e" stroke="none" stroke-width="0" />
<circle cx="345.40" cy="533.50" r="1.45" fill="#4e1f6e" stroke="none" stroke-width="0" />
<circle cx="339.60" cy="536.70" r="1.45" fill="#4e1f6e" stroke="none" stroke-width="0" />
<circle cx="311.30" cy="533.50" r="1.45" fill="#4e1f6e" stroke="none" stroke-width="0" />
<circle cx="311.30" cy="546.90" r="1.45" fill="#4e1f6e" stroke="none" stroke-width="0" />
<circle cx="354.60" cy="548.50" r="1.45" fill="#4e1f6e" stroke="none" stroke-width="0" />
<circle cx="342.10" cy="555.60" r="1.45" fill="#4e1f6e" stroke="none" stroke-width="0" />
<circle cx="341.70" cy="556.90" r="1.45" fill="#4e1f6e" stroke="none" stroke-width="0" />
<circle cx="351.70" cy="559.40" r="1.45" fill="#4e1f6e" stroke="none" stroke-width="0" />
<circle cx="355.60" cy="559.00" r="1.45" fill="#4e1f6e" stroke="none" stroke-width="0" />
<circle cx="360.40" cy="555.60" r="1.45" fill="#4e1f6e" stroke="none" stroke-width="0" />
<circle cx="360.40" cy="557.50" r="1.45" fill="#4e1f6e" stroke="none" stroke-width="0" />
<circle cx="358.50" cy="564.20" r="1.45" fill="#4e1f6e" stroke="none" stroke-width="0" />
<circle cx="361.30" cy="542.70" r="1.45" fill="#4e1f6e" stroke="none" stroke-width="0" />
<circle cx="364.20" cy="543.10" r="1.45" fill="#4e1f6e" stroke="none" stroke-width="0" />
<circle cx="368.10" cy="541.20" r="1.45" fill="#4e1f6e" stroke="none" stroke-width="0" />
<circle cx="371.00" cy="527.30" r="1.45" fill="#4e1f6e" stroke="none" stroke-width="0" />
<circle cx="371.90" cy="526.30" r="1.45" fill="#4e1f6e" stroke="none" stroke-width="0" />
<circle cx="365.20" cy="531.50" r="1.45" fill="#4e1f6e" stroke="none" stroke-width="0" />
<circle cx="367.10" cy="533.50" r="1.45" fill="#4e1f6e" stroke="none" stroke-width="0" />
<circle cx="375.80" cy="531.50" r="1.45" fill="#4e1f6e" stroke="none" stroke-width="0" />
<circle cx="376.70" cy="533.50" r="1.45" fill="#4e1f6e" stroke="none" stroke-width="0" />
<circle cx="425.50" cy="523.00" r="1.45" fill="#4e1f6e" stroke="none" stroke-width="0" />
<circle cx="418.75" cy="526.25" r="1.45" fill="#4e1f6e" stroke="none" stroke-width="0" />
<circle cx="442.50" cy="529.50" r="1.45" fill="#4e1f6e" stroke="none" stroke-width="0" />
<circle cx="437.00" cy="531.25" r="1.45" fill="#4e1f6e" stroke="none" stroke-width="0" />
<circle cx="430.00" cy="541.25" r="1.45" fill="#4e1f6e" stroke="none" stroke-width="0" />
<circle cx="433.00" cy="542.50" r="1.45" fill="#4e1f6e" stroke="none" stroke-width="0" />
<circle cx="445.50" cy="543.25" r="1.45" fill="#4e1f6e" stroke="none" stroke-width="0" />
<circle cx="420.00" cy="542.50" r="1.45" fill="#4e1f6e" stroke="none" stroke-width="0" />
<circle cx="437.50" cy="555.75" r="1.45" fill="#4e1f6e" stroke="none" stroke-width="0" />
<circle cx="424.50" cy="553.00" r="1.45" fill="#4e1f6e" stroke="none" stroke-width="0" />
<circle cx="418.75" cy="553.75" r="1.45" fill="#4e1f6e" stroke="none" stroke-width="0" />
<circle cx="411.25" cy="539.50" r="1.45" fill="#4e1f6e" stroke="none" stroke-width="0" />
<circle cx="412.50" cy="538.00" r="1.45" fill="#4e1f6e" stroke="none" stroke-width="0" />
<circle cx="407.00" cy="530.75" r="1.45" fill="#4e1f6e" stroke="none" stroke-width="0" />
<circle cx="403.75" cy="535.00" r="1.45" fill="#4e1f6e" stroke="none" stroke-width="0" />
<circle cx="396.25" cy="528.75" r="1.45" fill="#4e1f6e" stroke="none" stroke-width="0" />
<circle cx="392.50" cy="525.50" r="1.45" fill="#4e1f6e" stroke="none" stroke-width="0" />
<circle cx="392.50" cy="519.50" r="1.45" fill="#4e1f6e" stroke="none" stroke-width="0" />
<circle cx="377.83" cy="523.58" r="1.45" fill="#4e1f6e" stroke="none" stroke-width="0" />
<circle cx="383.78" cy="564.36" r="1.45" fill="#4e1f6e" stroke="none" stroke-width="0" />
<circle cx="394.46" cy="571.50" r="1.45" fill="#4e1f6e" stroke="none" stroke-width="0" />
<circle cx="404.14" cy="566.16" r="1.45" fill="#4e1f6e" stroke="none" stroke-width="0" />
<circle cx="388.80" cy="551.49" r="1.45" fill="#4e1f6e" stroke="none" stroke-width="0" />
<circle cx="405.93" cy="571.16" r="1.45" fill="#4e1f6e" stroke="none" stroke-width="0" />
<circle cx="400.27" cy="570.23" r="1.45" fill="#4e1f6e" stroke="none" stroke-width="0" />
<circle cx="387.59" cy="560.74" r="1.45" fill="#4e1f6e" stroke="none" stroke-width="0" />
<circle cx="380.73" cy="559.77" r="1.45" fill="#4e1f6e" stroke="none" stroke-width="0" />
<circle cx="376.02" cy="571.50" r="1.45" fill="#4e1f6e" stroke="none" stroke-width="0" />
<circle cx="386.29" cy="565.44" r="1.45" fill="#4e1f6e" stroke="none" stroke-width="0" />
<circle cx="390.01" cy="569.44" r="1.45" fill="#4e1f6e" stroke="none" stroke-width="0" />
<circle cx="385.26" cy="568.35" r="1.45" fill="#4e1f6e" stroke="none" stroke-width="0" />
<circle cx="388.52" cy="556.05" r="1.45" fill="#4e1f6e" stroke="none" stroke-width="0" />
<circle cx="388.22" cy="571.45" r="1.45" fill="#4e1f6e" stroke="none" stroke-width="0" />
<circle cx="386.83" cy="561.91" r="1.45" fill="#4e1f6e" stroke="none" stroke-width="0" />
<circle cx="380.58" cy="568.20" r="1.45" fill="#4e1f6e" stroke="none" stroke-width="0" />
<circle cx="383.72" cy="560.78" r="1.45" fill="#4e1f6e" stroke="none" stroke-width="0" />
<circle cx="405.72" cy="569.78" r="1.45" fill="#4e1f6e" stroke="none" stroke-width="0" />
<circle cx="397.84" cy="569.41" r="1.45" fill="#4e1f6e" stroke="none" stroke-width="0" />
<circle cx="390.14" cy="570.71" r="1.45" fill="#4e1f6e" stroke="none" stroke-width="0" />
<circle cx="401.03" cy="565.55" r="1.45" fill="#4e1f6e" stroke="none" stroke-width="0" />
<circle cx="392.25" cy="561.63" r="1.45" fill="#4e1f6e" stroke="none" stroke-width="0" />
<circle cx="381.72" cy="566.76" r="1.45" fill="#4e1f6e" stroke="none" stroke-width="0" />
<circle cx="379.31" cy="550.84" r="1.45" fill="#4e1f6e" stroke="none" stroke-width="0" />
<circle cx="406.78" cy="549.53" r="1.45" fill="#4e1f6e" stroke="none" stroke-width="0" />
<circle cx="394.08" cy="555.66" r="1.45" fill="#4e1f6e" stroke="none" stroke-width="0" />
<circle cx="375.07" cy="564.17" r="1.45" fill="#4e1f6e" stroke="none" stroke-width="0" />
<circle cx="397.88" cy="567.01" r="1.45" fill="#4e1f6e" stroke="none" stroke-width="0" />
<circle cx="375.71" cy="563.18" r="1.45" fill="#4e1f6e" stroke="none" stroke-width="0" />
<circle cx="378.20" cy="556.59" r="1.45" fill="#4e1f6e" stroke="none" stroke-width="0" />
<circle cx="388.86" cy="569.62" r="1.45" fill="#4e1f6e" stroke="none" stroke-width="0" />
<circle cx="398.12" cy="571.50" r="1.45" fill="#4e1f6e" stroke="none" stroke-width="0" />
<circle cx="370.98" cy="566.77" r="1.45" fill="#4e1f6e" stroke="none" stroke-width="0" />
<circle cx="372.56" cy="568.62" r="1.45" fill="#4e1f6e" stroke="none" stroke-width="0" />
<circle cx="370.42" cy="571.01" r="1.45" fill="#4e1f6e" stroke="none" stroke-width="0" />
<circle cx="378.01" cy="522.67" r="1.45" fill="#4e1f6e" stroke="none" stroke-width="0" />
<circle cx="381.42" cy="568.45" r="1.45" fill="#4e1f6e" stroke="none" stroke-width="0" />
<circle cx="380.00" cy="556.44" r="1.45" fill="#4e1f6e" stroke="none" stroke-width="0" />
<circle cx="389.46" cy="540.23" r="1.45" fill="#4e1f6e" stroke="none" stroke-width="0" />
<circle cx="384.45" cy="567.39" r="1.45" fill="#4e1f6e" stroke="none" stroke-width="0" />
<circle cx="382.41" cy="571.02" r="1.45" fill="#4e1f6e" stroke="none" stroke-width="0" />
<circle cx="394.85" cy="543.14" r="1.45" fill="#4e1f6e" stroke="none" stroke-width="0" />
<circle cx="377.48" cy="557.83" r="1.45" fill="#4e1f6e" stroke="none" stroke-width="0" />
<circle cx="368.48" cy="561.81" r="1.45" fill="#4e1f6e" stroke="none" stroke-width="0" />
<circle cx="385.48" cy="568.57" r="1.45" fill="#4e1f6e" stroke="none" stroke-width="0" />
<circle cx="399.76" cy="571.50" r="1.45" fill="#4e1f6e" stroke="none" stroke-width="0" />
<circle cx="380.45" cy="569.39" r="1.45" fill="#4e1f6e" stroke="none" stroke-width="0" />
<circle cx="399.30" cy="570.98" r="1.45" fill="#4e1f6e" stroke="none" stroke-width="0" />
<circle cx="369.14" cy="569.76" r="1.45" fill="#4e1f6e" stroke="none" stroke-width="0" />
<circle cx="393.44" cy="547.21" r="1.45" fill="#4e1f6e" stroke="none" stroke-width="0" />
<circle cx="393.02" cy="554.60" r="1.45" fill="#4e1f6e" stroke="none" stroke-width="0" />
<circle cx="387.19" cy="564.20" r="1.45" fill="#4e1f6e" stroke="none" stroke-width="0" />
<circle cx="379.19" cy="560.82" r="1.45" fill="#4e1f6e" stroke="none" stroke-width="0" />
<circle cx="391.58" cy="556.14" r="1.45" fill="#4e1f6e" stroke="none" stroke-width="0" />
<circle cx="380.88" cy="569.15" r="1.45" fill="#4e1f6e" stroke="none" stroke-width="0" />
<circle cx="382.56" cy="567.16" r="1.45" fill="#4e1f6e" stroke="none" stroke-width="0" />
<circle cx="400.13" cy="522.11" r="1.45" fill="#4e1f6e" stroke="none" stroke-width="0" />
<circle cx="392.29" cy="564.59" r="1.45" fill="#4e1f6e" stroke="none" stroke-width="0" />
<circle cx="385.61" cy="556.85" r="1.45" fill="#4e1f6e" stroke="none" stroke-width="0" />
<circle cx="386.07" cy="536.91" r="1.45" fill="#4e1f6e" stroke="none" stroke-width="0" />
<circle cx="394.62" cy="555.03" r="1.45" fill="#4e1f6e" stroke="none" stroke-width="0" />
<circle cx="393.13" cy="564.54" r="1.45" fill="#4e1f6e" stroke="none" stroke-width="0" />
<circle cx="391.92" cy="568.61" r="1.45" fill="#4e1f6e" stroke="none" stroke-width="0" />
<circle cx="382.77" cy="537.47" r="1.45" fill="#4e1f6e" stroke="none" stroke-width="0" />
<circle cx="396.93" cy="557.22" r="1.45" fill="#4e1f6e" stroke="none" stroke-width="0" />
<circle cx="385.13" cy="567.70" r="1.45" fill="#4e1f6e" stroke="none" stroke-width="0" />
<circle cx="392.09" cy="551.60" r="1.45" fill="#4e1f6e" stroke="none" stroke-width="0" />
<circle cx="389.99" cy="570.13" r="1.45" fill="#4e1f6e" stroke="none" stroke-width="0" />
<circle cx="383.08" cy="571.50" r="1.45" fill="#4e1f6e" stroke="none" stroke-width="0" />
<circle cx="391.13" cy="570.62" r="1.45" fill="#4e1f6e" stroke="none" stroke-width="0" />
<circle cx="399.08" cy="561.66" r="1.45" fill="#4e1f6e" stroke="none" stroke-width="0" />
<circle cx="380.11" cy="566.87" r="1.45" fill="#4e1f6e" stroke="none" stroke-width="0" />
<circle cx="366.78" cy="537.85" r="1.45" fill="#4e1f6e" stroke="none" stroke-width="0" />
<circle cx="392.45" cy="544.06" r="1.45" fill="#4e1f6e" stroke="none" stroke-width="0" />
<circle cx="393.55" cy="571.17" r="1.45" fill="#4e1f6e" stroke="none" stroke-width="0" />
<circle cx="402.50" cy="570.78" r="1.45" fill="#4e1f6e" stroke="none" stroke-width="0" />
<circle cx="389.24" cy="571.43" r="1.45" fill="#4e1f6e" stroke="none" stroke-width="0" />
<circle cx="386.46" cy="571.50" r="1.45" fill="#4e1f6e" stroke="none" stroke-width="0" />
<circle cx="404.15" cy="560.84" r="1.45" fill="#4e1f6e" stroke="none" stroke-width="0" />
<circle cx="398.69" cy="561.95" r="1.45" fill="#4e1f6e" stroke="none" stroke-width="0" />
<circle cx="397.77" cy="571.45" r="1.45" fill="#4e1f6e" stroke="none" stroke-width="0" />
<circle cx="390.07" cy="570.80" r="1.45" fill="#4e1f6e" stroke="none" stroke-width="0" />
<circle cx="374.68" cy="571.50" r="1.45" fill="#4e1f6e" stroke="none" stroke-width="0" />
<circle cx="384.84" cy="570.04" r="1.45" fill="#4e1f6e" stroke="none" stroke-width="0" />
<circle cx="394.86" cy="559.33" r="1.45" fill="#4e1f6e" stroke="none" stroke-width="0" />
<circle cx="388.59" cy="569.04" r="1.45" fill="#4e1f6e" stroke="none" stroke-width="0" />
<circle cx="377.55" cy="565.11" r="1.45" fill="#4e1f6e" stroke="none" stroke-width="0" />
<circle cx="390.59" cy="565.30" r="1.45" fill="#4e1f6e" stroke="none" stroke-width="0" />
<circle cx="389.01" cy="568.28" r="1.45" fill="#4e1f6e" stroke="none" stroke-width="0" />
<circle cx="392.70" cy="568.54" r="1.45" fill="#4e1f6e" stroke="none" stroke-width="0" />
<circle cx="410.57" cy="571.11" r="1.45" fill="#4e1f6e" stroke="none" stroke-width="0" />
<circle cx="404.24" cy="561.62" r="1.45" fill="#4e1f6e" stroke="none" stroke-width="0" />
<circle cx="381.20" cy="546.64" r="1.45" fill="#4e1f6e" stroke="none" stroke-width="0" />
<circle cx="395.71" cy="566.59" r="1.45" fill="#4e1f6e" stroke="none" stroke-width="0" />
<circle cx="389.81" cy="548.02" r="1.45" fill="#4e1f6e" stroke="none" stroke-width="0" />
<circle cx="391.31" cy="554.24" r="1.45" fill="#4e1f6e" stroke="none" stroke-width="0" />
<circle cx="394.32" cy="566.77" r="1.45" fill="#4e1f6e" stroke="none" stroke-width="0" />
<circle cx="394.46" cy="557.74" r="1.45" fill="#4e1f6e" stroke="none" stroke-width="0" />
<circle cx="417.39" cy="564.28" r="1.45" fill="#4e1f6e" stroke="none" stroke-width="0" />
<circle cx="376.98" cy="566.07" r="1.45" fill="#4e1f6e" stroke="none" stroke-width="0" />
<circle cx="380.24" cy="555.15" r="1.45" fill="#4e1f6e" stroke="none" stroke-width="0" />
<circle cx="393.39" cy="536.44" r="1.45" fill="#4e1f6e" stroke="none" stroke-width="0" />
<circle cx="386.72" cy="557.10" r="1.45" fill="#4e1f6e" stroke="none" stroke-width="0" />
<circle cx="400.85" cy="558.12" r="1.45" fill="#4e1f6e" stroke="none" stroke-width="0" />
<circle cx="396.94" cy="567.89" r="1.45" fill="#4e1f6e" stroke="none" stroke-width="0" />
<circle cx="392.59" cy="562.21" r="1.45" fill="#4e1f6e" stroke="none" stroke-width="0" />
<circle cx="370.66" cy="564.19" r="1.45" fill="#4e1f6e" stroke="none" stroke-width="0" />
<circle cx="398.08" cy="570.20" r="1.45" fill="#4e1f6e" stroke="none" stroke-width="0" />
<circle cx="379.43" cy="566.41" r="1.45" fill="#4e1f6e" stroke="none" stroke-width="0" />
<circle cx="390.57" cy="562.09" r="1.45" fill="#4e1f6e" stroke="none" stroke-width="0" />
<circle cx="387.10" cy="546.72" r="1.45" fill="#4e1f6e" stroke="none" stroke-width="0" />
<circle cx="390.15" cy="568.36" r="1.45" fill="#4e1f6e" stroke="none" stroke-width="0" />
<circle cx="380.55" cy="557.26" r="1.45" fill="#4e1f6e" stroke="none" stroke-width="0" />
<circle cx="400.27" cy="563.84" r="1.45" fill="#4e1f6e" stroke="none" stroke-width="0" />
<circle cx="390.88" cy="557.24" r="1.45" fill="#4e1f6e" stroke="none" stroke-width="0" />
<circle cx="405.91" cy="571.50" r="1.45" fill="#4e1f6e" stroke="none" stroke-width="0" />
<circle cx="384.27" cy="568.12" r="1.45" fill="#4e1f6e" stroke="none" stroke-width="0" />
<circle cx="380.84" cy="571.50" r="1.45" fill="#4e1f6e" stroke="none" stroke-width="0" />
<circle cx="388.78" cy="571.50" r="1.45" fill="#4e1f6e" stroke="none" stroke-width="0" />
<circle cx="369.00" cy="483.80" r="1.25" fill="#1b5aa0" stroke="none" stroke-width="0" />
<circle cx="362.30" cy="486.30" r="1.25" fill="#1b5aa0" stroke="none" stroke-width="0" />
<circle cx="337.70" cy="489.80" r="1.25" fill="#1b5aa0" stroke="none" stroke-width="0" />
<circle cx="347.30" cy="494.40" r="1.25" fill="#1b5aa0" stroke="none" stroke-width="0" />
<circle cx="366.50" cy="507.10" r="1.25" fill="#1b5aa0" stroke="none" stroke-width="0" />
<circle cx="328.10" cy="506.20" r="1.25" fill="#1b5aa0" stroke="none" stroke-width="0" />
<circle cx="312.30" cy="517.70" r="1.25" fill="#1b5aa0" stroke="none" stroke-width="0" />
<circle cx="349.80" cy="515.20" r="1.25" fill="#1b5aa0" stroke="none" stroke-width="0" />
<circle cx="361.00" cy="515.20" r="1.25" fill="#1b5aa0" stroke="none" stroke-width="0" />
<circle cx="361.30" cy="518.00" r="1.25" fill="#1b5aa0" stroke="none" stroke-width="0" />
<circle cx="357.40" cy="448.60" r="1.25" fill="#1b5aa0" stroke="none" stroke-width="0" />
<circle cx="437.00" cy="460.75" r="1.25" fill="#d3153a" stroke="none" stroke-width="0" />
<circle cx="455.00" cy="472.00" r="1.25" fill="#d3153a" stroke="none" stroke-width="0" />
<circle cx="428.25" cy="486.25" r="1.25" fill="#d3153a" stroke="none" stroke-width="0" />
<circle cx="454.50" cy="487.50" r="1.25" fill="#d3153a" stroke="none" stroke-width="0" />
<circle cx="456.25" cy="485.00" r="1.25" fill="#d3153a" stroke="none" stroke-width="0" />
<circle cx="475.50" cy="490.00" r="1.25" fill="#d3153a" stroke="none" stroke-width="0" />
<circle cx="456.25" cy="495.50" r="1.25" fill="#d3153a" stroke="none" stroke-width="0" />
<circle cx="419.50" cy="497.00" r="1.25" fill="#d3153a" stroke="none" stroke-width="0" />
<circle cx="428.75" cy="504.50" r="1.25" fill="#d3153a" stroke="none" stroke-width="0" />
<circle cx="460.00" cy="504.50" r="1.25" fill="#d3153a" stroke="none" stroke-width="0" />
<circle cx="416.75" cy="506.25" r="1.25" fill="#d3153a" stroke="none" stroke-width="0" />
<circle cx="452.00" cy="506.25" r="1.25" fill="#d3153a" stroke="none" stroke-width="0" />
<circle cx="487.50" cy="509.50" r="1.25" fill="#d3153a" stroke="none" stroke-width="0" />
<circle cx="422.00" cy="511.25" r="1.25" fill="#d3153a" stroke="none" stroke-width="0" />
<circle cx="424.50" cy="515.00" r="1.25" fill="#d3153a" stroke="none" stroke-width="0" />
<circle cx="463.75" cy="513.75" r="1.25" fill="#d3153a" stroke="none" stroke-width="0" />
<circle cx="415.00" cy="518.75" r="1.25" fill="#d3153a" stroke="none" stroke-width="0" />
<circle cx="423.20" cy="457.70" r="1.25" fill="#d3153a" stroke="none" stroke-width="0" />
<circle cx="403.75" cy="479.50" r="1.30" fill="#fff" stroke="#7a4f9a" stroke-width="0.55" />
<circle cx="405.00" cy="517.50" r="1.30" fill="#fff" stroke="#7a4f9a" stroke-width="0.55" />
<circle cx="406.00" cy="519.50" r="1.30" fill="#fff" stroke="#7a4f9a" stroke-width="0.55" />
<circle cx="397.50" cy="520.00" r="1.30" fill="#fff" stroke="#7a4f9a" stroke-width="0.55" />
<circle cx="377.70" cy="517.50" r="1.30" fill="#fff" stroke="#7a4f9a" stroke-width="0.55" />
<circle cx="390.00" cy="533.00" r="1.30" fill="#fff" stroke="#7a4f9a" stroke-width="0.55" />
<text x="356.30" y="479.10" font-size="3.9" fill="#333" textLength="19.00" lengthAdjust="spacingAndGlyphs" stroke="#333" stroke-width="0.055" dominant-baseline="central">% Mono<tspan font-size="2.4" baseline-shift="super">+</tspan></text>
<text x="323.50" y="484.80" font-size="3.9" fill="#333" textLength="18.50" lengthAdjust="spacingAndGlyphs" stroke="#333" stroke-width="0.055" dominant-baseline="central">% eMDSC</text>
<text x="349.40" y="491.00" font-size="3.9" fill="#333" textLength="20.60" lengthAdjust="spacingAndGlyphs" stroke="#333" stroke-width="0.055" dominant-baseline="central">% Tγ/CD3</text>
<text x="338.30" y="499.20" font-size="3.9" fill="#333" textLength="18.20" lengthAdjust="spacingAndGlyphs" stroke="#333" stroke-width="0.055" dominant-baseline="central">% NK 56<tspan font-size="2.4" baseline-shift="super">hi</tspan></text>
<text x="355.60" y="504.10" font-size="3.9" fill="#333" textLength="21.00" lengthAdjust="spacingAndGlyphs" stroke="#333" stroke-width="0.055" dominant-baseline="central">% DN/CD3</text>
<text x="312.00" y="501.70" font-size="3.9" fill="#333" textLength="21.50" lengthAdjust="spacingAndGlyphs" stroke="#333" stroke-width="0.055" dominant-baseline="central">% M-MDSC</text>
<text x="302.70" y="513.10" font-size="3.9" fill="#333" textLength="21.00" lengthAdjust="spacingAndGlyphs" stroke="#333" stroke-width="0.055" dominant-baseline="central">% G-MDSC</text>
<text x="337.00" y="512.10" font-size="3.9" fill="#333" textLength="11.00" lengthAdjust="spacingAndGlyphs" stroke="#333" stroke-width="0.055" dominant-baseline="central">% ILC</text>
<text x="351.20" y="512.10" font-size="3.9" fill="#333" textLength="34.00" lengthAdjust="spacingAndGlyphs" stroke="#333" stroke-width="0.055" dominant-baseline="central">% CTLA4/SM CD4</text>
<text x="324.80" y="520.40" font-size="3.9" fill="#333" textLength="33.50" lengthAdjust="spacingAndGlyphs" stroke="#333" stroke-width="0.055" dominant-baseline="central">Gum8 MFI/NKbri</text>
<text x="339.00" y="455.20" font-size="3.9" fill="#333" textLength="31.00" lengthAdjust="spacingAndGlyphs" stroke="#333" stroke-width="0.055" dominant-baseline="central">% NKT-like/CD3</text>
<text x="414.00" y="453.40" font-size="3.9" fill="#333" textLength="17.60" lengthAdjust="spacingAndGlyphs" stroke="#333" stroke-width="0.055" dominant-baseline="central">% CD4 T</text>
<text x="439.50" y="460.90" font-size="3.9" fill="#333" textLength="33.00" lengthAdjust="spacingAndGlyphs" stroke="#333" stroke-width="0.055" dominant-baseline="central">% CD73/naive CD8</text>
<text x="457.80" y="472.40" font-size="3.9" fill="#333" textLength="27.00" lengthAdjust="spacingAndGlyphs" stroke="#333" stroke-width="0.055" dominant-baseline="central">% Treg RA<tspan font-size="2.4" baseline-shift="super">+</tspan>DR<tspan font-size="2.4" baseline-shift="super">+</tspan></text>
<text x="408.50" y="481.40" font-size="3.9" fill="#333" textLength="28.00" lengthAdjust="spacingAndGlyphs" stroke="#333" stroke-width="0.055" dominant-baseline="central">% TIGIT/NK56<tspan font-size="2.4" baseline-shift="super">hi</tspan></text>
<text x="447.00" y="480.90" font-size="3.9" fill="#333" textLength="32.00" lengthAdjust="spacingAndGlyphs" stroke="#333" stroke-width="0.055" dominant-baseline="central">% CD73/naive CD4</text>
<text x="459.00" y="488.90" font-size="3.9" fill="#333" textLength="13.00" lengthAdjust="spacingAndGlyphs" stroke="#333" stroke-width="0.055" dominant-baseline="central">% Treg</text>
<text x="478.50" y="490.90" font-size="3.9" fill="#333" textLength="17.00" lengthAdjust="spacingAndGlyphs" stroke="#333" stroke-width="0.055" dominant-baseline="central">% B cells</text>
<text x="459.00" y="496.40" font-size="3.9" fill="#333" textLength="29.00" lengthAdjust="spacingAndGlyphs" stroke="#333" stroke-width="0.055" dominant-baseline="central">% BTLA/NK56<tspan font-size="2.4" baseline-shift="super">+</tspan></text>
<text x="409.00" y="493.40" font-size="3.9" fill="#333" textLength="17.00" lengthAdjust="spacingAndGlyphs" stroke="#333" stroke-width="0.055" dominant-baseline="central">% EM CD4</text>
<text x="422.00" y="500.90" font-size="3.9" fill="#333" textLength="30.00" lengthAdjust="spacingAndGlyphs" stroke="#333" stroke-width="0.055" dominant-baseline="central">% TIGIT/CM CD8</text>
<text x="462.00" y="500.90" font-size="3.9" fill="#333" textLength="19.00" lengthAdjust="spacingAndGlyphs" stroke="#333" stroke-width="0.055" dominant-baseline="central">% CM CD4</text>
<text x="398.00" y="499.90" font-size="3.9" fill="#333" textLength="20.00" lengthAdjust="spacingAndGlyphs" stroke="#333" stroke-width="0.055" dominant-baseline="central">% TIGIT/T<tspan font-size="2" baseline-shift="sub">γδ</tspan></text>
<text x="454.50" y="507.90" font-size="3.9" fill="#333" textLength="22.00" lengthAdjust="spacingAndGlyphs" stroke="#333" stroke-width="0.055" dominant-baseline="central">% Naive CD4</text>
<text x="490.50" y="505.40" font-size="3.9" fill="#333" textLength="15.00" lengthAdjust="spacingAndGlyphs" stroke="#333" stroke-width="0.055" dominant-baseline="central">% CD73/</text>
<text x="490.00" y="510.40" font-size="3.9" fill="#333" textLength="19.50" lengthAdjust="spacingAndGlyphs" stroke="#333" stroke-width="0.055" dominant-baseline="central">EMRA CD8</text>
<text x="424.50" y="511.70" font-size="3.9" fill="#333" textLength="30.00" lengthAdjust="spacingAndGlyphs" stroke="#333" stroke-width="0.055" dominant-baseline="central">% CD73/CM CD4</text>
<text x="427.00" y="515.40" font-size="3.9" fill="#333" textLength="27.00" lengthAdjust="spacingAndGlyphs" stroke="#333" stroke-width="0.055" dominant-baseline="central">% TIGIT/NK56<tspan font-size="2.4" baseline-shift="super">+</tspan></text>
<text x="466.50" y="514.40" font-size="3.9" fill="#333" textLength="28.00" lengthAdjust="spacingAndGlyphs" stroke="#333" stroke-width="0.055" dominant-baseline="central">% Treg RA<tspan font-size="2.4" baseline-shift="super">−</tspan>DR<tspan font-size="2.4" baseline-shift="super">−</tspan></text>
<text x="418.00" y="519.90" font-size="3.9" fill="#333" textLength="28.00" lengthAdjust="spacingAndGlyphs" stroke="#333" stroke-width="0.055" dominant-baseline="central">% TIGIT/EM CD8</text></svg>
</body></html>
